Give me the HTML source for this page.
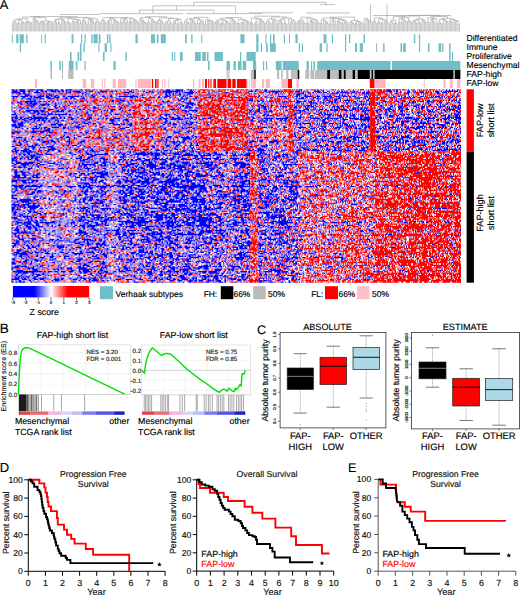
<!DOCTYPE html><html><head><meta charset="utf-8"><style>html,body{margin:0;padding:0;background:#fff;width:520px;height:595px;overflow:hidden}svg{display:block}text{font-family:"Liberation Sans",sans-serif;text-rendering:geometricPrecision;stroke:currentColor;stroke-width:0.15px}</style></head><body><svg width="520" height="595" viewBox="0 0 520 595"><defs><filter id="blur" x="0" y="0" width="1" height="1"><feGaussianBlur stdDeviation="0.4"/></filter><linearGradient id="zg" x1="0" x2="1" y1="0" y2="0"><stop offset="0" stop-color="#0000ff"/><stop offset="0.28" stop-color="#0000ff"/><stop offset="0.5" stop-color="#ffffff"/><stop offset="0.72" stop-color="#ff0000"/><stop offset="1" stop-color="#ff0000"/></linearGradient></defs><rect width="520" height="595" fill="#fff"/><text x="-0.3" y="9.4" font-size="12.8" text-anchor="start" fill="#000" color="#000" >A</text><text x="-0.2" y="333.4" font-size="13.5" text-anchor="start" fill="#000" color="#000" >B</text><text x="257" y="334.2" font-size="12.5" text-anchor="start" fill="#000" color="#000" >C</text><text x="-0.2" y="471.9" font-size="13" text-anchor="start" fill="#000" color="#000" >D</text><text x="348" y="471.9" font-size="12.5" text-anchor="start" fill="#000" color="#000" >E</text><g filter="url(#blur)"><g transform="translate(11.5,89.3) scale(0.99889,1.28933)" stroke-width="1"><path stroke="#0000ff" d="M0 0.5m0 0h3m1 0h2m1 0h7m4 0h6m1 0h7m3 0h7m1 0h4m2 0h3m2 0h7m8 0h2m10 0h1m1 0h1m6 0h1m13 0h1m15 0h1m3 0h2m5 0h1m1 0h1m12 0h1m8 0h4m5 0h8m4 0h2m1 0h2m1 0h1m11 0h1m12 0h2m10 0h1m20 0h1m3 0h3m1 0h1m2 0h1m1 0h3m13 0h1m11 0h1m1 0h1m4 0h3m9 0h1m2 0h1m2 0h1m5 0h1m8 0h2m19 0h1m4 0h1m1 0h4m22 0h5m2 0h2m1 0h2m4 0h2m4 0h1m2 0h1m2 0h1m14 0h2m15 0h1m2 0h1m2 0h1m4 0h1M0 1.5m1 0h5m2 0h6m2 0h3m1 0h1m3 0h3m2 0h3m1 0h3m1 0h1m1 0h6m1 0h3m1 0h3m1 0h2m2 0h2m1 0h8m1 0h1m3 0h2m1 0h5m6 0h8m3 0h3m2 0h2m3 0h1m3 0h1m1 0h1m1 0h4m1 0h1m6 0h1m5 0h1m1 0h3m3 0h1m1 0h1m2 0h1m2 0h18m1 0h2m1 0h1m4 0h4m15 0h1m25 0h1m5 0h1m7 0h5m1 0h2m5 0h1m2 0h3m1 0h2m1 0h9m1 0h2m12 0h5m1 0h1m2 0h1m9 0h6m2 0h2m3 0h1m6 0h1m2 0h1m1 0h1m1 0h2m1 0h1m1 0h1m3 0h1m2 0h2m2 0h1m6 0h1m4 0h1m13 0h1m3 0h5m4 0h2m2 0h1m6 0h3m3 0h1m1 0h1m10 0h1m6 0h1m1 0h4m2 0h1m3 0h8m1 0h4M0 2.5m0 0h9m2 0h3m8 0h7m3 0h1m9 0h1m1 0h1m12 0h3m5 0h5m1 0h1m1 0h2m1 0h1m7 0h1m1 0h2m13 0h1m10 0h6m2 0h3m9 0h1m1 0h2m2 0h1m1 0h3m4 0h1m3 0h2m1 0h7m1 0h1m1 0h3m1 0h1m2 0h1m1 0h10m1 0h2m11 0h1m3 0h1m1 0h1m9 0h3m1 0h1m7 0h1m10 0h2m17 0h1m1 0h1m3 0h2m1 0h3m17 0h1m3 0h1m2 0h2m3 0h2m3 0h2m3 0h3m1 0h1m1 0h4m2 0h1m2 0h1m3 0h3m1 0h8m3 0h4m3 0h1m3 0h3m1 0h4m26 0h1m3 0h1m6 0h3m10 0h4m12 0h3m3 0h5M0 3.5m1 0h1m5 0h3m1 0h4m1 0h2m7 0h1m2 0h1m6 0h4m1 0h1m7 0h4m1 0h3m1 0h1m4 0h2m3 0h1m2 0h3m1 0h2m1 0h1m3 0h1m1 0h1m1 0h1m1 0h2m4 0h1m4 0h1m3 0h1m4 0h2m1 0h1m5 0h2m22 0h1m5 0h2m3 0h1m1 0h3m1 0h2m2 0h2m1 0h1m2 0h3m6 0h6m7 0h1m6 0h3m1 0h1m23 0h1m17 0h3m6 0h1m2 0h1m9 0h2m1 0h1m1 0h1m1 0h1m1 0h1m6 0h1m1 0h2m1 0h8m1 0h1m2 0h3m5 0h1m3 0h1m2 0h1m3 0h2m1 0h8m1 0h1m2 0h1m2 0h1m1 0h2m2 0h1m3 0h2m4 0h2m1 0h1m1 0h3m8 0h1m13 0h1m3 0h4m6 0h4m5 0h1m6 0h1m3 0h3m9 0h4m6 0h1m9 0h1M0 4.5m6 0h2m5 0h6m1 0h1m5 0h1m1 0h2m1 0h2m1 0h2m1 0h4m1 0h1m1 0h3m20 0h1m5 0h2m2 0h1m1 0h3m3 0h1m11 0h1m1 0h2m4 0h1m13 0h1m1 0h2m6 0h3m9 0h1m12 0h3m1 0h2m1 0h2m3 0h1m1 0h2m2 0h2m1 0h2m1 0h1m28 0h2m28 0h1m2 0h1m6 0h2m3 0h1m4 0h1m1 0h2m6 0h1m17 0h4m4 0h2m4 0h1m6 0h1m11 0h2m8 0h1m1 0h2m1 0h1m9 0h1m9 0h1m1 0h1m1 0h1m11 0h1m4 0h2m21 0h1m4 0h1m29 0h1m9 0h1m3 0h2M0 5.5m0 0h7m2 0h8m1 0h3m1 0h2m2 0h7m1 0h4m1 0h2m1 0h3m1 0h2m3 0h3m2 0h12m1 0h2m4 0h1m2 0h1m1 0h4m6 0h4m4 0h3m4 0h1m1 0h20m1 0h1m2 0h1m15 0h2m2 0h1m1 0h6m5 0h1m3 0h1m2 0h2m1 0h1m3 0h3m8 0h1m2 0h1m5 0h2m7 0h1m12 0h1m2 0h1m23 0h2m2 0h1m3 0h1m6 0h1m4 0h8m1 0h1m7 0h3m1 0h1m4 0h8m4 0h4m2 0h10m3 0h5m2 0h5m2 0h2m1 0h4m2 0h1m5 0h4m1 0h1m23 0h2m3 0h2m1 0h1m2 0h2m3 0h1m10 0h3m8 0h1m1 0h1m1 0h5m2 0h1m1 0h1m7 0h1m3 0h1M0 6.5m1 0h2m8 0h3m3 0h1m1 0h2m1 0h8m1 0h1m2 0h5m4 0h5m6 0h2m3 0h4m8 0h2m13 0h1m6 0h2m1 0h1m18 0h1m2 0h4m8 0h3m13 0h3m9 0h2m10 0h2m4 0h1m7 0h2m53 0h1m1 0h1m13 0h1m3 0h3m16 0h1m3 0h1m2 0h1m2 0h1m1 0h3m2 0h1m6 0h3m1 0h1m6 0h3m11 0h2m19 0h1m5 0h1m1 0h1m1 0h1m11 0h1m19 0h1m5 0h1m2 0h1m2 0h2m31 0h1m4 0h2m2 0h1M0 7.5m1 0h2m1 0h1m4 0h3m2 0h6m1 0h2m2 0h1m2 0h5m3 0h7m2 0h2m2 0h1m1 0h6m1 0h3m1 0h3m3 0h6m1 0h1m6 0h2m5 0h2m13 0h6m10 0h1m2 0h2m11 0h2m5 0h1m5 0h1m8 0h1m2 0h2m3 0h2m1 0h8m3 0h6m1 0h1m15 0h2m34 0h3m17 0h1m12 0h6m7 0h1m1 0h6m6 0h4m2 0h5m2 0h5m1 0h4m1 0h7m6 0h1m8 0h4m4 0h2m2 0h2m11 0h3m2 0h1m7 0h1m3 0h1m1 0h2m8 0h3m27 0h1m1 0h1m5 0h3m5 0h1M0 8.5m16 0h1m1 0h2m2 0h3m1 0h1m1 0h1m16 0h1m1 0h1m14 0h1m10 0h1m3 0h1m3 0h1m18 0h3m5 0h6m34 0h1m2 0h1m12 0h1m2 0h3m3 0h1m1 0h1m7 0h1m2 0h1m50 0h5m5 0h1m1 0h3m3 0h1m29 0h2m6 0h1m1 0h1m1 0h1m5 0h1m3 0h1m5 0h1m2 0h2m5 0h3m3 0h1m3 0h6m16 0h3m56 0h1m1 0h3m19 0h1m2 0h1m2 0h2m3 0h1M0 9.5m0 0h1m1 0h1m3 0h1m2 0h2m2 0h11m1 0h1m1 0h3m2 0h2m2 0h3m2 0h2m6 0h1m3 0h3m1 0h2m5 0h1m3 0h5m2 0h2m7 0h1m3 0h2m1 0h1m5 0h2m1 0h3m1 0h1m3 0h1m6 0h1m1 0h1m1 0h2m3 0h1m3 0h2m2 0h3m10 0h1m4 0h3m2 0h4m8 0h1m2 0h3m5 0h2m8 0h1m1 0h1m8 0h2m20 0h1m6 0h1m9 0h1m1 0h1m5 0h3m2 0h2m1 0h1m2 0h2m12 0h1m1 0h3m5 0h1m1 0h1m1 0h5m2 0h3m3 0h3m1 0h1m6 0h1m2 0h1m5 0h4m1 0h2m4 0h1m2 0h1m4 0h1m2 0h1m1 0h3m3 0h3m2 0h1m1 0h1m2 0h1m13 0h4m3 0h1m3 0h1m1 0h3m3 0h4m3 0h1m2 0h4m4 0h3m4 0h3m7 0h1m1 0h3m12 0h1m3 0h1M0 10.5m0 0h2m3 0h5m4 0h3m1 0h3m1 0h4m1 0h1m6 0h2m4 0h2m1 0h2m1 0h2m1 0h2m1 0h1m5 0h4m1 0h3m10 0h1m1 0h2m13 0h1m1 0h1m4 0h1m6 0h4m5 0h2m2 0h3m15 0h3m11 0h3m1 0h1m2 0h3m3 0h1m7 0h10m3 0h3m3 0h1m22 0h3m8 0h1m15 0h1m3 0h1m4 0h1m1 0h1m6 0h1m1 0h1m1 0h2m2 0h1m2 0h3m1 0h3m6 0h5m1 0h1m1 0h1m2 0h1m2 0h8m2 0h5m2 0h4m1 0h2m1 0h4m6 0h1m1 0h3m1 0h1m2 0h1m1 0h2m4 0h1m1 0h1m2 0h1m2 0h1m5 0h3m1 0h1m1 0h2m2 0h1m1 0h1m10 0h2m1 0h2m5 0h6m1 0h1m7 0h1m1 0h1m1 0h2m2 0h3m5 0h3m5 0h3m5 0h1m1 0h4M0 11.5m0 0h1m1 0h1m5 0h4m3 0h11m2 0h11m4 0h2m4 0h1m1 0h1m1 0h1m2 0h1m1 0h2m1 0h1m21 0h1m6 0h2m1 0h1m7 0h1m4 0h2m3 0h2m1 0h1m2 0h3m2 0h1m9 0h1m15 0h4m4 0h1m9 0h4m5 0h10m51 0h1m5 0h1m3 0h4m3 0h2m2 0h1m2 0h1m4 0h1m2 0h2m13 0h1m2 0h1m3 0h3m6 0h2m1 0h1m1 0h2m6 0h1m1 0h1m5 0h1m14 0h2m4 0h1m2 0h3m1 0h7m1 0h3m7 0h3m10 0h1m3 0h1m6 0h2m4 0h2m4 0h1m2 0h5m7 0h1m1 0h1m5 0h2m2 0h1m1 0h1m2 0h3m11 0h1M0 12.5m9 0h1m11 0h3m6 0h4m2 0h2m5 0h3m2 0h1m2 0h1m4 0h2m6 0h1m9 0h1m1 0h1m8 0h2m7 0h1m2 0h1m1 0h1m8 0h1m8 0h1m25 0h3m3 0h1m6 0h3m5 0h1m5 0h3m4 0h1m2 0h2m29 0h1m38 0h3m6 0h3m10 0h1m3 0h1m6 0h1m4 0h1m6 0h6m14 0h2m13 0h2m7 0h1m2 0h1m4 0h2m1 0h1m1 0h1m5 0h1m5 0h2m3 0h2m13 0h1m6 0h1m1 0h4m3 0h1m10 0h1m6 0h2m6 0h1m2 0h1m3 0h1m9 0h2m2 0h3M0 13.5m0 0h1m4 0h1m13 0h3m1 0h1m2 0h1m1 0h1m9 0h1m3 0h3m2 0h2m2 0h3m12 0h2m2 0h1m11 0h2m3 0h1m2 0h1m1 0h1m3 0h2m3 0h3m3 0h2m1 0h1m3 0h1m1 0h1m14 0h1m4 0h2m13 0h2m8 0h1m2 0h2m3 0h1m1 0h2m1 0h6m13 0h1m17 0h2m5 0h1m18 0h1m3 0h1m5 0h2m1 0h5m2 0h1m11 0h1m1 0h5m7 0h3m2 0h1m4 0h2m1 0h2m1 0h4m2 0h1m6 0h1m5 0h1m2 0h3m1 0h3m2 0h3m3 0h1m1 0h1m3 0h1m3 0h2m21 0h2m8 0h3m1 0h1m3 0h4m7 0h1m3 0h4m1 0h1m2 0h4m10 0h1m3 0h3m1 0h2m2 0h1m1 0h1m1 0h2m1 0h2m2 0h1m1 0h1M0 14.5m0 0h1m7 0h5m2 0h3m2 0h1m1 0h1m1 0h2m1 0h3m1 0h4m2 0h1m5 0h4m5 0h2m1 0h1m1 0h1m4 0h2m4 0h1m4 0h2m1 0h1m1 0h1m2 0h5m3 0h1m2 0h1m15 0h3m1 0h1m20 0h1m3 0h1m1 0h2m10 0h1m6 0h1m3 0h1m5 0h2m3 0h4m1 0h3m3 0h4m28 0h1m2 0h1m2 0h1m24 0h2m1 0h1m1 0h3m2 0h1m14 0h1m9 0h4m2 0h2m4 0h3m5 0h3m3 0h1m2 0h1m9 0h1m1 0h1m2 0h3m3 0h1m3 0h1m2 0h1m1 0h5m1 0h1m1 0h3m1 0h4m14 0h3m3 0h3m7 0h6m2 0h2m8 0h1m1 0h2m1 0h3m2 0h2m8 0h1m3 0h1m6 0h3m3 0h1m1 0h6M0 15.5m10 0h1m5 0h1m1 0h1m4 0h1m3 0h1m4 0h2m2 0h6m3 0h1m7 0h2m4 0h1m3 0h1m3 0h3m1 0h3m9 0h1m2 0h2m8 0h1m2 0h5m3 0h3m7 0h1m5 0h1m4 0h1m13 0h3m3 0h1m5 0h1m3 0h6m2 0h2m2 0h1m7 0h1m33 0h2m26 0h2m4 0h3m3 0h4m1 0h1m1 0h1m8 0h1m6 0h1m4 0h2m5 0h1m6 0h4m10 0h4m2 0h2m3 0h2m2 0h4m1 0h8m2 0h1m2 0h4m1 0h2m1 0h2m2 0h1m1 0h1m11 0h3m4 0h7m7 0h1m2 0h1m2 0h4m3 0h1m8 0h2m14 0h3m3 0h2m1 0h1m2 0h6m3 0h2M0 16.5m0 0h1m2 0h1m3 0h2m5 0h13m1 0h5m12 0h3m1 0h4m4 0h3m2 0h1m1 0h2m3 0h1m8 0h2m1 0h2m7 0h1m1 0h2m1 0h2m2 0h3m8 0h2m5 0h3m1 0h3m17 0h3m7 0h1m8 0h1m1 0h1m1 0h1m1 0h1m3 0h6m1 0h10m2 0h1m18 0h1m10 0h1m18 0h3m1 0h1m3 0h3m1 0h1m4 0h1m2 0h3m8 0h1m4 0h3m8 0h5m1 0h3m2 0h2m7 0h1m1 0h2m7 0h2m1 0h3m1 0h4m3 0h1m2 0h4m1 0h4m9 0h2m1 0h5m5 0h3m4 0h1m3 0h1m1 0h2m2 0h2m6 0h3m24 0h4m1 0h1m2 0h2m7 0h2m1 0h1m1 0h2m5 0h2M0 17.5m1 0h3m4 0h1m1 0h4m1 0h4m3 0h6m1 0h8m3 0h13m4 0h2m5 0h2m1 0h1m7 0h2m4 0h3m1 0h1m3 0h2m8 0h3m11 0h2m20 0h3m13 0h1m1 0h2m3 0h1m8 0h1m3 0h1m1 0h5m4 0h1m1 0h2m52 0h2m3 0h6m3 0h10m3 0h1m12 0h3m2 0h1m4 0h2m1 0h1m1 0h2m10 0h1m3 0h2m2 0h1m2 0h1m1 0h1m4 0h1m3 0h1m15 0h1m1 0h3m2 0h5m2 0h1m7 0h2m1 0h2m4 0h2m2 0h3m1 0h3m4 0h3m3 0h2m4 0h1m2 0h1m1 0h4m3 0h1m3 0h7m6 0h1m3 0h2m9 0h5M0 18.5m3 0h2m7 0h1m5 0h6m2 0h3m1 0h1m5 0h2m1 0h2m13 0h2m5 0h1m1 0h1m3 0h1m5 0h4m12 0h1m8 0h2m4 0h1m3 0h1m4 0h1m13 0h1m8 0h1m5 0h1m9 0h1m13 0h1m8 0h1m2 0h1m4 0h1m28 0h2m23 0h2m1 0h1m2 0h2m3 0h3m2 0h1m1 0h1m4 0h1m6 0h2m14 0h7m5 0h5m2 0h3m2 0h4m1 0h3m1 0h1m7 0h1m4 0h1m9 0h1m1 0h1m2 0h1m8 0h2m1 0h1m1 0h1m7 0h1m7 0h3m9 0h1m4 0h1m9 0h2m2 0h4m13 0h1m4 0h1m1 0h3m8 0h1m2 0h2m2 0h2M0 19.5m0 0h5m1 0h1m1 0h1m3 0h1m1 0h1m6 0h1m3 0h3m1 0h6m1 0h6m1 0h13m1 0h3m1 0h1m3 0h2m1 0h1m1 0h1m5 0h2m1 0h2m5 0h1m3 0h1m8 0h2m2 0h5m3 0h1m4 0h4m31 0h1m1 0h6m3 0h3m1 0h1m1 0h1m6 0h2m1 0h3m4 0h1m4 0h1m12 0h1m16 0h1m5 0h1m2 0h1m11 0h3m8 0h3m1 0h2m19 0h1m2 0h1m2 0h2m5 0h1m2 0h1m4 0h1m6 0h2m1 0h1m1 0h2m1 0h8m5 0h1m2 0h1m2 0h2m1 0h1m3 0h1m1 0h3m6 0h1m3 0h3m10 0h4m2 0h2m4 0h1m9 0h5m1 0h4m8 0h1m2 0h2m2 0h2m8 0h1m15 0h1m2 0h1m1 0h3M0 20.5m4 0h2m2 0h1m2 0h1m4 0h1m4 0h3m5 0h1m3 0h1m1 0h2m10 0h2m2 0h1m2 0h1m8 0h1m14 0h1m11 0h1m2 0h4m7 0h1m7 0h1m2 0h2m19 0h1m11 0h2m3 0h3m2 0h1m6 0h2m2 0h1m1 0h3m2 0h1m2 0h1m2 0h1m57 0h1m10 0h3m1 0h3m1 0h2m4 0h2m9 0h1m12 0h1m9 0h3m11 0h1m3 0h3m1 0h2m1 0h1m1 0h5m4 0h2m2 0h5m5 0h4m1 0h1m2 0h1m11 0h1m5 0h1m2 0h4m3 0h3m5 0h1m19 0h1m5 0h1m3 0h2m1 0h1m3 0h5m2 0h2m5 0h3m1 0h1M0 21.5m0 0h6m2 0h4m4 0h5m1 0h10m1 0h3m4 0h6m2 0h3m1 0h2m2 0h5m4 0h3m7 0h5m2 0h1m11 0h1m6 0h2m6 0h1m1 0h2m4 0h5m6 0h1m15 0h2m3 0h3m3 0h1m1 0h6m3 0h3m4 0h1m4 0h3m1 0h4m12 0h4m8 0h1m2 0h3m12 0h1m6 0h4m1 0h3m2 0h4m6 0h1m2 0h1m15 0h5m4 0h2m2 0h6m4 0h3m4 0h1m1 0h1m2 0h4m1 0h1m1 0h3m9 0h3m4 0h2m1 0h2m2 0h2m5 0h3m1 0h6m5 0h3m1 0h3m1 0h1m3 0h7m3 0h1m1 0h1m3 0h1m1 0h9m7 0h1m2 0h2m2 0h2m3 0h1m1 0h2m8 0h1m1 0h5m1 0h8M0 22.5m0 0h2m1 0h4m1 0h3m1 0h6m1 0h18m2 0h5m1 0h2m1 0h2m2 0h2m3 0h1m1 0h4m1 0h1m4 0h3m5 0h4m5 0h2m1 0h1m1 0h2m1 0h3m5 0h7m1 0h1m4 0h1m1 0h1m3 0h1m7 0h4m2 0h3m1 0h1m1 0h1m2 0h1m2 0h3m1 0h6m3 0h10m1 0h1m1 0h5m1 0h3m2 0h2m5 0h4m1 0h4m13 0h2m4 0h1m2 0h1m1 0h1m7 0h1m5 0h1m2 0h3m3 0h1m2 0h1m1 0h10m2 0h13m2 0h2m2 0h3m1 0h3m9 0h10m1 0h1m2 0h5m1 0h9m1 0h1m1 0h2m5 0h10m1 0h2m2 0h6m5 0h2m2 0h3m1 0h1m12 0h6m3 0h7m2 0h1m1 0h3m4 0h1m1 0h10m7 0h8m1 0h1m1 0h1m2 0h5M0 23.5m0 0h2m1 0h1m3 0h2m1 0h4m3 0h4m1 0h3m1 0h3m1 0h3m1 0h2m1 0h1m1 0h1m6 0h1m4 0h1m5 0h1m1 0h3m3 0h1m3 0h1m5 0h4m19 0h5m9 0h5m7 0h1m7 0h4m7 0h1m1 0h1m7 0h3m1 0h1m1 0h6m1 0h6m1 0h1m3 0h1m1 0h1m19 0h1m4 0h1m3 0h2m3 0h1m5 0h2m16 0h1m2 0h2m13 0h2m2 0h2m8 0h3m1 0h3m9 0h1m3 0h1m9 0h1m3 0h1m2 0h1m2 0h1m1 0h4m1 0h1m8 0h1m5 0h6m6 0h4m1 0h11m8 0h1m9 0h3m5 0h2m15 0h4m1 0h1m2 0h1m2 0h3m1 0h1m7 0h3m1 0h2m2 0h3m1 0h1m5 0h3m3 0h1M0 24.5m0 0h6m4 0h1m1 0h5m1 0h1m3 0h2m1 0h4m1 0h5m1 0h3m4 0h5m1 0h4m1 0h1m8 0h1m1 0h1m1 0h1m1 0h1m3 0h3m7 0h2m13 0h6m2 0h3m2 0h2m1 0h4m36 0h3m9 0h1m8 0h2m1 0h1m9 0h1m1 0h1m21 0h1m19 0h1m2 0h1m2 0h5m4 0h7m1 0h2m1 0h3m7 0h3m1 0h3m1 0h1m4 0h1m2 0h5m4 0h4m1 0h1m3 0h1m2 0h2m3 0h4m4 0h3m3 0h1m2 0h1m1 0h1m2 0h2m4 0h1m3 0h1m7 0h1m1 0h3m1 0h2m11 0h1m3 0h1m10 0h3m1 0h1m1 0h3m1 0h6m4 0h3m1 0h1m1 0h2m4 0h6m1 0h1m2 0h2m6 0h1m3 0h3m4 0h4M0 25.5m1 0h4m1 0h1m2 0h3m2 0h1m1 0h2m2 0h3m1 0h1m7 0h2m1 0h1m1 0h2m2 0h1m1 0h1m2 0h2m6 0h1m5 0h1m1 0h5m3 0h4m2 0h4m5 0h3m2 0h1m9 0h2m3 0h1m6 0h1m3 0h2m20 0h1m12 0h5m2 0h2m2 0h1m3 0h3m5 0h2m2 0h5m1 0h3m10 0h1m20 0h1m4 0h1m2 0h4m10 0h1m5 0h3m1 0h1m1 0h4m5 0h1m8 0h1m3 0h2m7 0h1m1 0h1m5 0h1m8 0h1m10 0h7m11 0h1m1 0h2m4 0h1m2 0h1m1 0h2m1 0h1m4 0h1m6 0h1m6 0h1m5 0h2m1 0h6m2 0h4m1 0h1m1 0h1m1 0h3m1 0h4m2 0h2m2 0h2m1 0h1m1 0h2m1 0h3m1 0h2m16 0h4m9 0h3M0 26.5m2 0h1m3 0h6m1 0h1m4 0h1m4 0h1m9 0h1m6 0h1m3 0h3m2 0h1m5 0h1m1 0h2m1 0h2m6 0h1m3 0h5m1 0h1m2 0h4m4 0h1m4 0h1m2 0h6m2 0h1m3 0h2m1 0h2m4 0h3m5 0h1m3 0h2m8 0h1m12 0h2m2 0h3m1 0h3m6 0h2m2 0h4m1 0h3m3 0h1m6 0h2m10 0h2m31 0h1m3 0h1m7 0h3m3 0h1m1 0h1m2 0h1m3 0h2m5 0h1m10 0h2m1 0h2m1 0h2m1 0h9m6 0h1m1 0h1m3 0h4m2 0h5m1 0h2m3 0h1m1 0h4m8 0h1m5 0h1m1 0h1m6 0h1m7 0h1m1 0h1m2 0h2m3 0h2m4 0h2m6 0h3m8 0h3m4 0h8m1 0h3m4 0h2m8 0h5m2 0h1m2 0h6M0 27.5m0 0h5m1 0h6m13 0h1m1 0h3m1 0h1m7 0h6m1 0h6m1 0h2m4 0h1m7 0h2m7 0h2m1 0h1m4 0h1m3 0h2m8 0h1m2 0h8m1 0h4m2 0h5m11 0h1m18 0h3m5 0h1m1 0h5m6 0h2m1 0h1m1 0h4m3 0h1m10 0h3m24 0h1m14 0h1m13 0h1m3 0h1m9 0h1m19 0h1m2 0h2m3 0h1m5 0h1m3 0h1m1 0h2m1 0h1m1 0h1m7 0h1m2 0h1m4 0h1m2 0h1m1 0h1m1 0h4m1 0h1m2 0h1m1 0h1m3 0h1m2 0h5m2 0h1m7 0h2m7 0h1m2 0h2m11 0h2m9 0h2m2 0h1m6 0h1m8 0h3m2 0h8m6 0h2M0 28.5m0 0h6m1 0h6m1 0h1m5 0h1m1 0h4m1 0h1m1 0h1m10 0h1m3 0h1m2 0h3m2 0h1m1 0h1m3 0h2m2 0h6m2 0h4m9 0h3m5 0h3m24 0h3m1 0h1m8 0h1m3 0h1m1 0h1m5 0h2m3 0h3m5 0h3m3 0h1m4 0h1m1 0h1m1 0h1m6 0h1m5 0h1m1 0h1m28 0h2m6 0h1m20 0h1m1 0h4m7 0h2m1 0h1m6 0h2m3 0h2m15 0h1m1 0h1m6 0h4m5 0h1m1 0h7m1 0h1m1 0h3m4 0h1m2 0h3m3 0h8m4 0h1m1 0h3m2 0h5m9 0h3m1 0h5m4 0h2m2 0h3m2 0h2m1 0h3m1 0h1m8 0h8m4 0h2m2 0h2m6 0h5m9 0h1M0 29.5m1 0h1m1 0h6m10 0h1m1 0h1m2 0h2m1 0h2m1 0h1m1 0h4m4 0h8m1 0h1m1 0h4m1 0h2m4 0h1m1 0h6m1 0h1m6 0h1m9 0h4m7 0h1m7 0h2m2 0h1m2 0h4m3 0h1m2 0h1m4 0h2m18 0h1m1 0h1m2 0h1m5 0h2m1 0h2m1 0h1m3 0h2m1 0h1m2 0h5m1 0h1m15 0h1m22 0h1m2 0h2m7 0h1m3 0h1m6 0h1m1 0h2m2 0h6m1 0h1m1 0h3m2 0h1m7 0h4m10 0h9m11 0h1m4 0h1m1 0h2m7 0h1m1 0h6m5 0h1m1 0h1m1 0h2m1 0h1m1 0h2m5 0h1m1 0h3m1 0h2m5 0h1m6 0h2m1 0h1m2 0h8m2 0h1m1 0h1m4 0h1m1 0h2m1 0h5m1 0h7m1 0h1m1 0h1m2 0h4m4 0h4m1 0h2m1 0h2m3 0h3m4 0h1M0 30.5m3 0h1m2 0h1m3 0h2m3 0h2m3 0h8m1 0h2m1 0h2m2 0h3m2 0h1m1 0h1m4 0h1m2 0h3m2 0h2m2 0h1m3 0h1m1 0h2m12 0h1m10 0h1m1 0h1m2 0h1m11 0h6m38 0h3m13 0h1m1 0h3m1 0h2m5 0h3m1 0h1m20 0h1m1 0h2m21 0h2m6 0h2m19 0h1m4 0h1m3 0h1m13 0h1m4 0h2m9 0h5m1 0h1m2 0h2m1 0h2m10 0h3m1 0h2m2 0h1m2 0h3m6 0h3m1 0h3m3 0h2m3 0h1m5 0h1m3 0h3m1 0h2m3 0h2m2 0h1m2 0h1m1 0h1m3 0h1m4 0h3m4 0h7m2 0h2m7 0h1m3 0h1m5 0h2m7 0h1m3 0h1m1 0h1m3 0h1M0 31.5m2 0h1m4 0h1m13 0h2m10 0h6m2 0h1m4 0h1m5 0h1m14 0h1m3 0h1m4 0h1m4 0h3m6 0h2m4 0h1m17 0h1m5 0h2m31 0h3m2 0h1m2 0h1m1 0h1m1 0h1m2 0h1m11 0h1m67 0h1m1 0h1m14 0h1m21 0h1m13 0h1m1 0h1m1 0h1m2 0h1m2 0h4m5 0h1m1 0h1m4 0h1m8 0h2m1 0h1m5 0h1m2 0h1m2 0h1m2 0h1m14 0h1m20 0h3m11 0h2m7 0h1m5 0h2m15 0h3M0 32.5m0 0h1m1 0h5m1 0h2m3 0h4m3 0h19m1 0h2m3 0h1m5 0h1m21 0h2m1 0h2m3 0h2m2 0h2m13 0h1m12 0h1m26 0h1m6 0h1m7 0h2m5 0h2m3 0h4m4 0h6m8 0h1m12 0h1m39 0h1m1 0h3m1 0h1m1 0h3m1 0h1m1 0h2m1 0h1m1 0h1m9 0h1m3 0h1m7 0h1m3 0h3m1 0h1m2 0h6m2 0h4m1 0h1m4 0h2m5 0h2m2 0h1m6 0h1m5 0h1m2 0h1m3 0h1m1 0h1m5 0h6m1 0h1m5 0h5m10 0h1m5 0h2m1 0h1m2 0h1m2 0h3m11 0h1m1 0h3m2 0h1m1 0h1m2 0h7m2 0h3m7 0h2m3 0h1m4 0h1M0 33.5m0 0h3m2 0h4m5 0h1m2 0h1m1 0h6m1 0h1m1 0h5m4 0h4m6 0h1m4 0h4m1 0h1m1 0h1m1 0h1m1 0h1m4 0h3m3 0h3m6 0h2m5 0h1m3 0h1m7 0h4m1 0h1m9 0h2m1 0h2m1 0h1m5 0h1m15 0h1m9 0h1m6 0h6m5 0h2m1 0h2m2 0h1m1 0h1m52 0h2m9 0h6m3 0h2m2 0h1m16 0h1m6 0h1m2 0h1m4 0h1m1 0h1m1 0h5m2 0h1m5 0h1m1 0h1m2 0h2m1 0h1m1 0h4m5 0h3m8 0h1m4 0h1m1 0h1m10 0h1m8 0h3m3 0h1m5 0h4m5 0h1m1 0h3m1 0h1m1 0h2m2 0h2m7 0h2m1 0h1m1 0h1m4 0h6m1 0h1m3 0h2m5 0h1m6 0h1m1 0h2m3 0h1M0 34.5m0 0h4m3 0h1m4 0h1m20 0h1m6 0h1m12 0h1m1 0h1m9 0h1m8 0h2m8 0h1m6 0h1m4 0h1m6 0h1m2 0h1m2 0h1m4 0h1m26 0h1m1 0h1m7 0h3m1 0h1m3 0h1m4 0h1m2 0h3m14 0h1m9 0h1m20 0h1m3 0h2m22 0h1m28 0h1m9 0h2m11 0h1m1 0h1m2 0h1m4 0h2m18 0h1m15 0h5m1 0h4m5 0h1m15 0h1m1 0h1m1 0h1m25 0h1m2 0h2m3 0h1m3 0h1m1 0h1m9 0h1m3 0h1m9 0h1M0 35.5m5 0h1m3 0h1m5 0h1m8 0h1m2 0h2m3 0h1m1 0h6m1 0h3m1 0h1m6 0h2m5 0h1m2 0h2m7 0h3m3 0h1m12 0h1m13 0h1m2 0h3m2 0h2m1 0h1m24 0h1m1 0h1m13 0h1m5 0h1m18 0h2m54 0h1m4 0h1m7 0h1m2 0h1m2 0h1m26 0h2m1 0h1m1 0h1m13 0h3m8 0h1m1 0h2m2 0h2m1 0h1m2 0h1m7 0h1m5 0h1m3 0h2m4 0h2m3 0h1m1 0h3m5 0h1m3 0h1m7 0h4m7 0h2m1 0h1m3 0h1m1 0h3m19 0h1m4 0h6m1 0h1m1 0h1m11 0h1m1 0h2M0 36.5m0 0h2m5 0h1m12 0h3m6 0h1m4 0h1m2 0h2m1 0h1m8 0h1m1 0h2m2 0h3m1 0h1m2 0h1m3 0h4m20 0h1m2 0h1m1 0h1m1 0h1m2 0h3m1 0h2m8 0h2m4 0h1m5 0h1m11 0h4m2 0h1m8 0h1m2 0h5m6 0h2m2 0h1m1 0h1m1 0h3m2 0h2m1 0h3m1 0h1m27 0h1m4 0h1m17 0h1m24 0h2m18 0h2m5 0h3m7 0h1m6 0h3m1 0h5m7 0h3m3 0h2m7 0h6m1 0h2m4 0h1m2 0h1m1 0h1m9 0h7m1 0h1m8 0h3m4 0h3m1 0h4m2 0h1m6 0h1m4 0h2m2 0h2m3 0h2m18 0h1m4 0h2M0 37.5m0 0h1m3 0h7m9 0h2m1 0h1m6 0h4m1 0h1m4 0h1m3 0h1m3 0h4m2 0h5m3 0h2m9 0h6m1 0h3m3 0h4m12 0h4m4 0h1m9 0h1m10 0h1m8 0h2m7 0h1m2 0h2m1 0h5m4 0h3m2 0h10m2 0h2m1 0h2m10 0h1m4 0h1m1 0h1m9 0h1m11 0h2m18 0h3m1 0h2m2 0h4m12 0h1m2 0h2m11 0h1m1 0h4m8 0h1m1 0h2m1 0h1m8 0h1m5 0h7m2 0h3m1 0h3m1 0h5m1 0h9m14 0h4m2 0h2m3 0h1m5 0h2m1 0h1m1 0h1m2 0h9m7 0h3m1 0h1m1 0h2m2 0h2m2 0h4m15 0h1m9 0h1M0 38.5m5 0h1m1 0h1m2 0h1m1 0h3m2 0h1m1 0h2m5 0h3m1 0h1m4 0h2m3 0h1m1 0h1m1 0h4m4 0h2m3 0h2m3 0h2m8 0h1m10 0h4m2 0h2m8 0h1m11 0h2m7 0h1m3 0h1m15 0h2m9 0h1m2 0h2m3 0h1m1 0h2m3 0h1m4 0h10m24 0h1m18 0h1m2 0h1m2 0h1m7 0h1m4 0h2m1 0h1m9 0h1m5 0h1m9 0h1m15 0h2m6 0h1m2 0h2m3 0h2m3 0h3m5 0h3m3 0h1m1 0h2m1 0h2m3 0h4m4 0h4m2 0h1m19 0h2m3 0h2m5 0h1m2 0h2m2 0h1m1 0h4m6 0h2m2 0h2m10 0h1m3 0h1m5 0h2m3 0h3m4 0h4m1 0h2m2 0h2M0 39.5m2 0h2m3 0h1m4 0h3m6 0h2m1 0h5m1 0h2m5 0h5m4 0h1m10 0h2m11 0h1m1 0h2m4 0h1m2 0h1m8 0h2m3 0h3m10 0h3m4 0h3m18 0h2m4 0h1m3 0h7m1 0h3m5 0h1m3 0h1m4 0h4m4 0h1m19 0h1m35 0h3m3 0h2m3 0h1m1 0h4m3 0h1m1 0h1m4 0h4m6 0h1m2 0h2m1 0h1m2 0h8m1 0h1m5 0h1m1 0h2m2 0h5m1 0h1m1 0h6m1 0h1m12 0h1m4 0h5m2 0h4m1 0h1m3 0h2m3 0h1m1 0h1m10 0h2m3 0h1m2 0h1m1 0h2m5 0h4m1 0h2m1 0h3m3 0h4m1 0h1m1 0h7m9 0h1m1 0h2m7 0h1m3 0h1m1 0h8M0 40.5m1 0h4m2 0h2m2 0h2m1 0h3m11 0h1m2 0h7m1 0h5m2 0h2m7 0h4m10 0h5m8 0h1m6 0h1m3 0h1m6 0h1m2 0h1m13 0h1m2 0h1m5 0h1m17 0h1m9 0h2m5 0h3m1 0h4m2 0h3m3 0h1m4 0h1m1 0h2m4 0h4m1 0h1m9 0h2m17 0h1m13 0h7m1 0h1m1 0h4m6 0h9m24 0h1m5 0h1m2 0h4m3 0h1m1 0h1m1 0h2m1 0h1m2 0h6m3 0h5m2 0h2m1 0h4m7 0h1m2 0h5m3 0h1m5 0h1m1 0h1m1 0h1m2 0h1m1 0h2m3 0h2m1 0h6m1 0h1m3 0h1m1 0h4m1 0h1m3 0h2m1 0h3m2 0h1m1 0h1m1 0h2m4 0h2m1 0h1m1 0h4m1 0h3m2 0h2m1 0h3m2 0h1m1 0h4M0 41.5m2 0h1m1 0h1m1 0h4m3 0h1m1 0h1m9 0h1m4 0h4m2 0h2m4 0h3m2 0h1m2 0h1m4 0h1m1 0h2m7 0h5m2 0h1m12 0h1m3 0h2m5 0h4m1 0h1m1 0h1m2 0h1m4 0h2m12 0h1m4 0h1m10 0h2m4 0h1m2 0h1m2 0h2m2 0h1m1 0h6m2 0h5m1 0h1m3 0h3m2 0h1m1 0h2m9 0h1m2 0h1m17 0h1m1 0h1m4 0h1m12 0h4m17 0h5m2 0h3m4 0h2m2 0h1m9 0h5m1 0h2m1 0h5m4 0h6m7 0h1m2 0h3m2 0h5m1 0h2m2 0h1m5 0h3m1 0h6m1 0h2m1 0h3m6 0h1m1 0h4m1 0h1m3 0h3m2 0h3m1 0h9m1 0h2m5 0h13m2 0h2m2 0h4m1 0h1m5 0h3m1 0h2m1 0h3m3 0h4M0 42.5m8 0h3m4 0h2m4 0h1m1 0h4m7 0h3m1 0h1m1 0h1m2 0h1m1 0h1m3 0h1m7 0h2m7 0h2m1 0h1m1 0h1m8 0h1m7 0h1m10 0h1m13 0h4m3 0h1m22 0h2m5 0h1m2 0h2m1 0h1m2 0h1m2 0h2m2 0h3m10 0h2m1 0h1m2 0h2m37 0h3m16 0h1m4 0h1m5 0h2m2 0h1m5 0h3m2 0h1m13 0h1m5 0h1m2 0h2m1 0h1m9 0h1m2 0h1m5 0h3m8 0h3m1 0h2m13 0h1m5 0h2m1 0h2m1 0h2m14 0h2m2 0h2m6 0h1m1 0h1m2 0h1m2 0h1m1 0h1m1 0h4m1 0h1m1 0h1m9 0h3m8 0h1m1 0h4m1 0h3m1 0h1m5 0h1m3 0h1M0 43.5m4 0h6m5 0h1m2 0h1m1 0h2m1 0h3m1 0h2m1 0h1m1 0h1m1 0h1m3 0h1m1 0h1m10 0h2m2 0h3m2 0h6m2 0h2m6 0h1m4 0h1m9 0h1m3 0h2m10 0h3m8 0h1m16 0h1m11 0h1m6 0h5m3 0h1m1 0h4m1 0h1m8 0h4m2 0h4m1 0h1m12 0h2m4 0h1m2 0h1m25 0h1m7 0h3m6 0h3m3 0h1m11 0h4m8 0h1m3 0h2m3 0h1m11 0h1m2 0h3m1 0h1m1 0h4m4 0h1m1 0h1m2 0h1m6 0h3m2 0h4m8 0h1m3 0h1m2 0h1m12 0h2m5 0h1m1 0h2m1 0h2m6 0h1m5 0h1m3 0h3m2 0h9m7 0h1m5 0h1m6 0h2m6 0h2m2 0h3M0 44.5m0 0h4m7 0h1m4 0h8m4 0h1m3 0h1m2 0h7m4 0h1m5 0h1m6 0h1m1 0h1m4 0h2m4 0h2m5 0h1m2 0h2m6 0h1m11 0h1m4 0h1m4 0h1m2 0h1m2 0h5m17 0h4m3 0h1m7 0h3m6 0h3m1 0h1m9 0h2m2 0h1m11 0h1m34 0h1m2 0h2m4 0h4m8 0h6m5 0h1m3 0h1m1 0h1m6 0h1m8 0h1m2 0h1m4 0h1m3 0h2m7 0h2m3 0h3m1 0h2m5 0h4m5 0h2m1 0h1m3 0h1m5 0h2m2 0h3m3 0h1m2 0h2m7 0h1m3 0h2m4 0h2m1 0h2m6 0h1m5 0h1m6 0h2m2 0h1m2 0h3m4 0h1m1 0h1m6 0h4m3 0h1m1 0h1m5 0h1m4 0h1m4 0h1m2 0h1M0 45.5m3 0h3m3 0h2m2 0h2m2 0h1m2 0h4m2 0h1m1 0h7m4 0h5m2 0h1m10 0h3m1 0h1m1 0h1m8 0h1m1 0h6m1 0h1m4 0h1m4 0h1m1 0h2m6 0h3m5 0h1m1 0h2m1 0h3m12 0h2m10 0h3m5 0h1m1 0h2m1 0h2m6 0h3m6 0h3m2 0h2m1 0h4m20 0h1m40 0h2m1 0h3m3 0h1m1 0h1m5 0h1m23 0h2m1 0h7m2 0h1m8 0h1m2 0h1m5 0h2m5 0h8m5 0h5m5 0h1m4 0h7m14 0h4m1 0h2m2 0h3m2 0h6m1 0h2m2 0h3m2 0h4m3 0h3m4 0h2m1 0h2m1 0h1m9 0h1m1 0h1m1 0h2m7 0h1m1 0h1m1 0h2M0 46.5m1 0h4m2 0h1m4 0h6m3 0h2m4 0h2m7 0h9m1 0h1m7 0h2m1 0h1m4 0h5m1 0h1m1 0h3m6 0h3m5 0h2m1 0h1m2 0h1m7 0h1m15 0h2m1 0h2m1 0h2m9 0h4m1 0h2m10 0h2m4 0h1m3 0h1m1 0h4m6 0h1m6 0h2m1 0h1m1 0h4m23 0h1m1 0h1m16 0h1m5 0h2m2 0h2m3 0h7m4 0h1m1 0h2m12 0h1m18 0h6m1 0h1m1 0h5m5 0h1m3 0h4m4 0h2m2 0h1m3 0h1m1 0h2m2 0h1m2 0h1m2 0h4m3 0h4m2 0h1m1 0h1m5 0h1m6 0h1m2 0h2m1 0h1m5 0h3m1 0h2m2 0h2m1 0h4m3 0h1m5 0h5m2 0h2m10 0h5m2 0h4m2 0h7m1 0h2M0 47.5m0 0h2m1 0h5m1 0h7m1 0h3m8 0h3m2 0h2m1 0h3m1 0h3m3 0h3m5 0h1m2 0h1m9 0h3m2 0h1m2 0h2m1 0h5m6 0h4m6 0h4m3 0h1m4 0h1m7 0h1m7 0h1m16 0h5m1 0h1m1 0h5m1 0h3m10 0h4m1 0h1m1 0h1m2 0h2m1 0h1m27 0h2m22 0h5m2 0h2m1 0h9m2 0h2m1 0h2m8 0h4m1 0h1m2 0h1m6 0h6m5 0h3m1 0h9m1 0h1m4 0h1m1 0h2m2 0h5m2 0h3m3 0h6m4 0h1m2 0h7m10 0h2m6 0h2m1 0h4m2 0h1m2 0h2m1 0h2m1 0h1m12 0h1m1 0h1m4 0h1m1 0h1m1 0h1m7 0h3m1 0h3m1 0h5m3 0h1m5 0h2m3 0h1M0 48.5m0 0h6m3 0h1m1 0h14m10 0h3m9 0h3m8 0h2m3 0h1m2 0h3m2 0h1m1 0h3m2 0h1m1 0h9m19 0h2m5 0h5m1 0h4m4 0h5m1 0h2m2 0h2m2 0h1m1 0h1m3 0h2m1 0h1m1 0h1m4 0h1m4 0h1m1 0h8m4 0h5m1 0h6m1 0h3m8 0h4m8 0h3m4 0h2m2 0h1m1 0h1m2 0h1m1 0h2m3 0h1m8 0h2m1 0h2m1 0h1m11 0h3m3 0h1m9 0h7m7 0h1m11 0h1m9 0h1m4 0h1m5 0h1m1 0h1m89 0h1M0 49.5m4 0h2m1 0h1m1 0h2m1 0h1m2 0h4m1 0h1m3 0h3m6 0h3m7 0h1m1 0h1m7 0h1m1 0h1m1 0h5m6 0h2m4 0h4m1 0h1m3 0h1m2 0h1m6 0h4m4 0h2m2 0h6m1 0h3m3 0h2m2 0h1m1 0h11m1 0h13m1 0h4m1 0h13m1 0h1m1 0h1m2 0h5m1 0h1m1 0h1m4 0h2m1 0h1m1 0h1m1 0h5m1 0h6m4 0h1m3 0h3m3 0h2m1 0h2m1 0h1m5 0h1m2 0h4m9 0h6m1 0h1m2 0h1m5 0h4m4 0h1m9 0h1m1 0h3m18 0h2m10 0h1m11 0h1m32 0h1m26 0h1m2 0h1m2 0h1m8 0h1m3 0h1M0 50.5m4 0h1m2 0h3m1 0h4m1 0h3m1 0h1m1 0h2m1 0h7m2 0h7m2 0h1m3 0h1m11 0h1m2 0h3m10 0h6m2 0h14m3 0h1m3 0h1m2 0h1m2 0h4m1 0h3m4 0h16m1 0h3m1 0h6m2 0h4m3 0h1m3 0h8m2 0h10m1 0h1m1 0h1m1 0h3m2 0h2m2 0h4m3 0h9m3 0h1m5 0h4m2 0h1m1 0h3m1 0h6m7 0h4m1 0h1m1 0h3m1 0h2m5 0h1m6 0h6m1 0h1m4 0h1m1 0h2m3 0h1m1 0h1m21 0h1m1 0h2m6 0h2m2 0h2m5 0h1m11 0h1m3 0h1m40 0h1m5 0h1m2 0h2m27 0h1m1 0h1m1 0h2m1 0h1M0 51.5m5 0h1m1 0h2m1 0h1m1 0h2m4 0h7m3 0h1m17 0h1m20 0h2m1 0h3m1 0h1m4 0h6m22 0h1m1 0h1m1 0h2m13 0h2m3 0h4m8 0h6m5 0h2m1 0h1m4 0h1m1 0h1m5 0h17m2 0h11m1 0h3m12 0h1m4 0h5m2 0h1m3 0h7m6 0h3m13 0h1m1 0h1m2 0h3m2 0h2m1 0h3m2 0h1m11 0h1m4 0h1m15 0h1m4 0h1M0 52.5m0 0h1m1 0h4m4 0h2m2 0h4m1 0h4m1 0h5m1 0h1m21 0h1m15 0h3m5 0h6m1 0h1m6 0h2m16 0h7m2 0h1m2 0h1m1 0h2m1 0h2m8 0h3m3 0h1m1 0h3m1 0h1m8 0h1m4 0h4m1 0h4m1 0h1m11 0h4m2 0h3m7 0h1m5 0h5m12 0h1m6 0h1m6 0h1m1 0h1m8 0h1m1 0h3m5 0h2m2 0h9m1 0h3m1 0h3m1 0h2m1 0h4m26 0h1m6 0h1m1 0h1m3 0h1m10 0h2m1 0h1m6 0h2m2 0h1m47 0h1m20 0h1m14 0h1M0 53.5m0 0h5m3 0h3m1 0h2m2 0h2m1 0h3m1 0h4m1 0h1m20 0h3m2 0h1m4 0h2m3 0h7m4 0h4m4 0h1m1 0h1m2 0h6m2 0h1m1 0h1m10 0h1m1 0h2m9 0h1m3 0h4m1 0h3m7 0h8m1 0h2m2 0h3m1 0h5m3 0h2m2 0h6m5 0h4m1 0h3m1 0h10m1 0h7m1 0h1m1 0h1m1 0h1m4 0h10m2 0h2m2 0h3m1 0h1m8 0h1m2 0h2m1 0h2m1 0h1m6 0h3m4 0h1m11 0h2m3 0h1m11 0h1m11 0h2m20 0h1m2 0h1m24 0h3m32 0h1m34 0h1m4 0h1M0 54.5m0 0h3m1 0h2m2 0h2m3 0h1m2 0h4m3 0h4m3 0h2m1 0h1m24 0h1m3 0h1m5 0h2m1 0h6m1 0h1m1 0h2m2 0h1m4 0h1m1 0h6m10 0h4m1 0h3m1 0h2m1 0h3m2 0h6m3 0h6m1 0h2m1 0h4m1 0h7m3 0h4m1 0h1m3 0h1m1 0h12m3 0h4m2 0h2m2 0h3m1 0h2m3 0h4m1 0h5m3 0h1m4 0h5m3 0h3m1 0h1m1 0h1m1 0h1m14 0h2m7 0h2m1 0h2m3 0h2m1 0h1m5 0h4m1 0h1m29 0h1m5 0h1m4 0h2m15 0h1m14 0h2m44 0h1m31 0h1M0 55.5m0 0h6m14 0h1m2 0h1m1 0h4m1 0h1m3 0h1m3 0h2m9 0h1m18 0h6m3 0h1m1 0h1m1 0h2m5 0h2m2 0h2m1 0h1m3 0h1m7 0h2m2 0h2m6 0h7m3 0h10m1 0h1m1 0h2m7 0h1m1 0h3m3 0h2m3 0h5m6 0h1m7 0h1m1 0h1m2 0h2m1 0h2m4 0h1m2 0h1m6 0h2m8 0h1m1 0h2m2 0h2m9 0h5m8 0h7m1 0h1m1 0h2m2 0h4m1 0h1m1 0h2m4 0h5m6 0h2m77 0h1m11 0h1m2 0h1m49 0h1m1 0h1M0 56.5m0 0h1m3 0h6m3 0h3m1 0h7m4 0h3m1 0h6m4 0h2m2 0h4m5 0h3m3 0h1m7 0h1m1 0h1m1 0h6m1 0h1m2 0h5m1 0h1m1 0h8m2 0h3m3 0h2m1 0h2m2 0h3m1 0h2m6 0h1m1 0h1m1 0h3m4 0h4m2 0h3m4 0h7m5 0h1m1 0h4m1 0h10m2 0h1m1 0h1m1 0h2m2 0h2m1 0h14m2 0h1m4 0h6m3 0h11m5 0h1m1 0h1m7 0h5m2 0h2m1 0h1m1 0h1m5 0h3m1 0h3m1 0h2m1 0h1m1 0h4m2 0h2m11 0h1m1 0h1m4 0h1m8 0h1m4 0h1m3 0h1m1 0h1m5 0h1m6 0h1m20 0h1m1 0h1m3 0h1m29 0h1m47 0h1M0 57.5m0 0h3m1 0h18m3 0h4m8 0h7m2 0h1m6 0h1m13 0h2m1 0h3m3 0h1m3 0h1m1 0h5m3 0h5m5 0h2m5 0h1m1 0h1m2 0h1m1 0h3m2 0h7m4 0h5m2 0h5m2 0h1m3 0h6m4 0h6m2 0h1m4 0h6m4 0h2m1 0h14m1 0h3m5 0h7m10 0h11m6 0h1m6 0h2m2 0h1m3 0h2m4 0h1m8 0h2m1 0h1m6 0h1m1 0h2m6 0h2m29 0h1m2 0h1m13 0h1M0 58.5m2 0h3m4 0h9m3 0h2m1 0h2m2 0h6m1 0h1m6 0h1m1 0h3m1 0h1m2 0h2m1 0h1m2 0h1m9 0h2m1 0h14m4 0h3m1 0h3m1 0h1m2 0h1m1 0h3m3 0h4m4 0h8m3 0h2m3 0h2m1 0h11m3 0h6m1 0h2m1 0h7m1 0h1m1 0h2m1 0h1m1 0h3m1 0h3m1 0h1m7 0h1m3 0h9m1 0h3m5 0h1m1 0h3m5 0h7m1 0h10m8 0h1m3 0h1m1 0h1m4 0h3m1 0h2m3 0h1m3 0h10m1 0h5m8 0h1m3 0h2m1 0h1m7 0h3m4 0h1m1 0h2m13 0h1m2 0h2m2 0h2m15 0h1m2 0h1m10 0h1m10 0h2m9 0h1m13 0h1m1 0h1m12 0h2m4 0h1m3 0h1M0 59.5m0 0h3m1 0h1m2 0h2m2 0h4m1 0h1m1 0h1m1 0h2m1 0h1m1 0h3m7 0h1m1 0h3m7 0h2m1 0h1m4 0h1m1 0h1m9 0h4m1 0h4m3 0h1m2 0h3m1 0h2m1 0h6m1 0h1m2 0h1m1 0h1m3 0h1m6 0h7m2 0h1m1 0h4m5 0h2m1 0h12m3 0h2m1 0h1m1 0h5m2 0h12m1 0h1m1 0h3m1 0h3m1 0h2m1 0h1m1 0h4m1 0h6m1 0h5m5 0h4m6 0h4m2 0h7m3 0h1m9 0h1m1 0h3m2 0h1m1 0h2m5 0h2m1 0h1m4 0h2m1 0h2m2 0h2m10 0h1m7 0h1m8 0h2m18 0h1m7 0h1m8 0h1m9 0h1m36 0h1m2 0h1m14 0h1M0 60.5m2 0h3m1 0h5m1 0h2m12 0h2m4 0h3m1 0h1m9 0h1m9 0h2m2 0h1m7 0h1m3 0h2m1 0h2m18 0h1m8 0h2m4 0h3m1 0h2m4 0h3m1 0h2m1 0h5m3 0h2m1 0h7m3 0h6m1 0h1m2 0h2m1 0h3m2 0h9m5 0h5m1 0h1m3 0h1m3 0h4m1 0h1m8 0h2m18 0h6m1 0h4m12 0h1m5 0h1m1 0h1m1 0h2m10 0h3m49 0h1m18 0h1m2 0h1m4 0h1m3 0h1m16 0h1m35 0h1m21 0h1M0 61.5m16 0h5m2 0h1m4 0h1m1 0h1m7 0h1m1 0h2m4 0h7m1 0h3m5 0h1m3 0h2m1 0h1m1 0h1m1 0h7m3 0h1m1 0h1m5 0h4m3 0h1m2 0h3m2 0h1m3 0h2m1 0h1m3 0h1m2 0h1m3 0h1m1 0h2m1 0h5m4 0h4m1 0h12m1 0h4m2 0h9m2 0h2m5 0h3m6 0h3m5 0h7m3 0h2m1 0h1m10 0h1m5 0h2m6 0h2m13 0h6m5 0h1m6 0h2m1 0h1m1 0h3m1 0h1m10 0h2m5 0h1m3 0h1m29 0h1m1 0h2m9 0h2m3 0h1m15 0h1m37 0h1m22 0h1M0 62.5m0 0h6m5 0h2m1 0h1m1 0h3m2 0h1m1 0h1m1 0h2m19 0h1m8 0h1m10 0h1m1 0h3m1 0h1m3 0h2m3 0h6m1 0h2m3 0h1m1 0h1m11 0h1m2 0h5m1 0h2m1 0h10m3 0h4m2 0h1m1 0h2m1 0h2m2 0h1m2 0h1m4 0h2m3 0h4m2 0h1m1 0h10m1 0h1m1 0h1m3 0h2m4 0h1m3 0h3m1 0h4m2 0h2m2 0h1m2 0h1m10 0h1m5 0h1m1 0h2m3 0h3m8 0h7m1 0h2m2 0h4m1 0h3m2 0h6m3 0h1m1 0h1m5 0h1m12 0h2m4 0h1m2 0h1m1 0h1m6 0h2m1 0h1m17 0h1m22 0h1m8 0h1m57 0h1M0 63.5m0 0h1m2 0h3m1 0h5m1 0h1m9 0h1m2 0h1m8 0h1m37 0h2m1 0h2m1 0h2m2 0h1m2 0h1m3 0h4m7 0h1m5 0h1m1 0h1m1 0h3m1 0h3m1 0h6m2 0h1m1 0h1m1 0h3m3 0h3m7 0h1m5 0h2m4 0h2m1 0h1m1 0h2m1 0h5m4 0h5m3 0h5m2 0h4m3 0h3m2 0h1m1 0h2m1 0h1m2 0h1m3 0h2m11 0h1m3 0h1m1 0h1m1 0h1m15 0h5m7 0h1m16 0h1m3 0h1m2 0h2m12 0h2m13 0h1m15 0h2m28 0h2m7 0h1M0 64.5m2 0h5m2 0h6m1 0h2m8 0h1m1 0h1m4 0h1m20 0h2m6 0h1m4 0h2m6 0h1m4 0h12m1 0h4m1 0h1m5 0h2m4 0h2m4 0h2m2 0h3m1 0h12m2 0h5m1 0h5m7 0h1m1 0h2m1 0h1m2 0h1m1 0h2m2 0h2m3 0h9m3 0h1m3 0h1m5 0h1m3 0h1m3 0h5m2 0h1m7 0h5m1 0h1m2 0h3m4 0h3m8 0h1m4 0h2m3 0h1m3 0h3m2 0h5m2 0h2m1 0h7m1 0h1m28 0h2m8 0h1m12 0h2m22 0h1m13 0h1m3 0h1m27 0h2m11 0h1M0 65.5m3 0h3m1 0h1m2 0h4m3 0h2m3 0h1m2 0h4m1 0h1m5 0h1m15 0h1m1 0h1m3 0h3m1 0h4m3 0h5m2 0h2m1 0h4m2 0h12m6 0h1m6 0h1m2 0h4m1 0h4m3 0h1m1 0h5m1 0h1m1 0h2m4 0h8m1 0h3m1 0h2m2 0h2m1 0h1m5 0h1m1 0h1m3 0h4m1 0h1m2 0h2m1 0h5m1 0h1m3 0h3m3 0h1m2 0h1m3 0h2m1 0h2m15 0h3m1 0h1m1 0h6m1 0h2m5 0h4m3 0h4m1 0h1m8 0h1m2 0h1m1 0h3m9 0h2m16 0h1m13 0h1m20 0h1m11 0h1m1 0h2m25 0h1m25 0h1m4 0h1m13 0h1m6 0h1m7 0h1M0 66.5m3 0h6m1 0h7m2 0h1m1 0h6m1 0h1m2 0h1m2 0h1m11 0h2m8 0h4m3 0h1m3 0h4m1 0h6m5 0h2m4 0h8m3 0h1m4 0h1m10 0h4m1 0h1m1 0h2m1 0h2m3 0h5m2 0h7m1 0h8m2 0h7m3 0h6m1 0h4m1 0h4m2 0h17m3 0h9m1 0h2m9 0h2m1 0h2m3 0h4m11 0h2m2 0h2m1 0h1m8 0h2m1 0h6m8 0h1m1 0h4m9 0h1m5 0h2m5 0h2m21 0h1m6 0h1m2 0h2m1 0h2m4 0h1m62 0h1m14 0h2M0 67.5m1 0h8m3 0h3m3 0h1m1 0h3m1 0h3m10 0h1m2 0h1m2 0h2m14 0h1m1 0h1m1 0h2m3 0h1m14 0h10m3 0h2m3 0h2m2 0h4m2 0h4m2 0h1m1 0h2m2 0h9m1 0h1m1 0h2m1 0h2m3 0h1m6 0h3m2 0h3m1 0h2m1 0h1m2 0h1m1 0h3m1 0h2m1 0h5m5 0h11m1 0h1m2 0h7m3 0h5m5 0h1m1 0h1m1 0h13m2 0h1m1 0h1m2 0h1m6 0h1m5 0h3m3 0h1m1 0h9m9 0h1m12 0h1m5 0h2m3 0h1m3 0h1m35 0h2m9 0h1m33 0h1m47 0h3M0 68.5m2 0h13m3 0h2m1 0h8m3 0h2m16 0h3m11 0h5m2 0h5m2 0h6m1 0h2m1 0h6m6 0h2m8 0h1m3 0h3m2 0h2m4 0h2m1 0h4m1 0h2m1 0h2m2 0h4m5 0h1m4 0h3m1 0h2m2 0h1m1 0h2m3 0h1m1 0h2m1 0h2m1 0h1m3 0h4m2 0h1m12 0h1m1 0h2m19 0h3m3 0h3m1 0h4m10 0h1m2 0h1m4 0h1m1 0h1m1 0h1m2 0h1m1 0h3m5 0h1m2 0h4m3 0h1m16 0h1m16 0h1m6 0h1m1 0h1m9 0h1m2 0h1m7 0h1m4 0h1m6 0h1m35 0h1m37 0h1M0 69.5m6 0h2m8 0h4m26 0h2m8 0h2m5 0h2m4 0h2m2 0h2m1 0h6m2 0h2m7 0h2m9 0h1m3 0h1m2 0h2m2 0h2m4 0h5m4 0h11m1 0h7m1 0h1m1 0h1m3 0h4m1 0h10m3 0h4m4 0h3m4 0h1m1 0h1m2 0h1m1 0h1m4 0h6m3 0h3m6 0h2m2 0h1m2 0h6m3 0h1m14 0h6m8 0h2m3 0h2m6 0h1m5 0h1m15 0h1m35 0h1m18 0h3m28 0h1m3 0h1m2 0h1M0 70.5m0 0h18m1 0h8m1 0h1m1 0h3m5 0h1m1 0h1m1 0h2m2 0h2m1 0h1m6 0h1m4 0h1m2 0h1m4 0h6m3 0h8m3 0h4m1 0h2m2 0h1m3 0h1m3 0h3m2 0h7m1 0h6m1 0h4m3 0h5m3 0h7m1 0h1m4 0h14m2 0h14m1 0h13m2 0h1m5 0h1m1 0h6m1 0h1m2 0h8m3 0h1m1 0h1m1 0h6m2 0h1m2 0h1m2 0h8m1 0h7m1 0h5m1 0h9m1 0h1m1 0h1m1 0h2m8 0h1m6 0h3m1 0h2m4 0h1m1 0h1m3 0h1m5 0h3m13 0h1m5 0h1m21 0h2m2 0h1m4 0h1m1 0h2m43 0h1m24 0h1M0 71.5m0 0h6m4 0h5m2 0h1m2 0h3m1 0h3m13 0h1m14 0h1m5 0h1m18 0h2m1 0h2m2 0h5m13 0h5m3 0h9m3 0h13m2 0h3m4 0h17m1 0h1m3 0h5m1 0h6m3 0h1m3 0h2m1 0h2m2 0h2m2 0h1m2 0h1m1 0h1m5 0h1m1 0h1m1 0h1m1 0h3m4 0h1m2 0h2m1 0h7m1 0h2m4 0h2m2 0h2m1 0h1m5 0h3m8 0h1m1 0h1m2 0h2m1 0h2m1 0h5m1 0h3m1 0h1m4 0h2m4 0h2m14 0h2m57 0h2m32 0h1m14 0h1m16 0h2m2 0h1M0 72.5m0 0h1m3 0h2m5 0h11m1 0h1m4 0h1m2 0h2m2 0h3m5 0h1m9 0h1m1 0h3m8 0h12m1 0h7m1 0h2m2 0h4m8 0h8m2 0h3m3 0h10m1 0h12m1 0h1m1 0h7m1 0h10m1 0h4m1 0h2m4 0h3m1 0h5m3 0h1m1 0h7m1 0h1m1 0h4m1 0h1m1 0h1m10 0h1m1 0h1m1 0h6m1 0h6m3 0h2m9 0h1m1 0h2m1 0h1m3 0h4m2 0h1m1 0h1m1 0h10m3 0h8m10 0h6m21 0h1m9 0h1m1 0h1m20 0h1m24 0h1m7 0h1m11 0h1m1 0h1m18 0h3M0 73.5m1 0h1m3 0h1m4 0h1m1 0h1m1 0h1m3 0h1m3 0h1m3 0h1m1 0h1m1 0h1m18 0h1m16 0h1m1 0h1m1 0h1m1 0h7m13 0h3m10 0h1m1 0h3m2 0h1m4 0h2m2 0h3m5 0h4m2 0h4m3 0h1m3 0h1m4 0h5m1 0h2m1 0h12m1 0h1m2 0h1m3 0h5m1 0h3m3 0h2m3 0h1m1 0h1m2 0h1m6 0h1m1 0h2m8 0h1m2 0h1m5 0h9m8 0h2m12 0h1m10 0h6m1 0h2m5 0h1m4 0h1m72 0h1M0 74.5m0 0h6m1 0h6m2 0h3m2 0h6m2 0h4m1 0h1m9 0h2m1 0h1m1 0h1m5 0h2m2 0h1m7 0h4m4 0h2m1 0h5m1 0h2m4 0h1m1 0h1m2 0h5m2 0h4m5 0h7m2 0h4m1 0h5m1 0h1m1 0h4m1 0h1m1 0h7m4 0h2m1 0h3m2 0h6m1 0h3m3 0h7m1 0h15m4 0h1m2 0h9m6 0h1m3 0h6m1 0h6m5 0h1m7 0h1m1 0h5m1 0h1m1 0h2m3 0h2m12 0h1m4 0h2m20 0h1m3 0h3m2 0h1m17 0h1m6 0h1m1 0h1m1 0h1m14 0h1m27 0h1m1 0h2M0 75.5m0 0h1m1 0h10m1 0h18m5 0h5m3 0h7m1 0h1m2 0h10m1 0h4m1 0h9m1 0h1m2 0h12m2 0h5m2 0h9m2 0h5m5 0h9m1 0h3m1 0h2m2 0h1m2 0h8m1 0h4m1 0h33m3 0h4m2 0h4m1 0h3m2 0h5m1 0h20m1 0h2m4 0h1m1 0h2m1 0h5m2 0h2m2 0h4m2 0h4m1 0h13m1 0h4m3 0h9m1 0h2m2 0h2m5 0h3m2 0h1m12 0h1m5 0h4m1 0h1m4 0h2m4 0h3m4 0h2m3 0h1m5 0h1m2 0h1m5 0h1m1 0h3m7 0h1m1 0h1m2 0h1m5 0h1m21 0h2m5 0h1m1 0h2m1 0h1M0 76.5m3 0h3m1 0h4m1 0h3m4 0h1m5 0h1m1 0h2m7 0h1m2 0h1m7 0h1m1 0h1m8 0h3m7 0h6m2 0h6m1 0h1m2 0h1m2 0h6m3 0h2m9 0h1m1 0h4m1 0h10m1 0h1m7 0h2m1 0h3m2 0h4m3 0h6m1 0h4m4 0h11m1 0h9m2 0h8m2 0h3m5 0h1m1 0h4m4 0h2m4 0h1m2 0h2m1 0h4m13 0h3m1 0h2m2 0h1m3 0h1m3 0h6m2 0h1m6 0h1m1 0h4m2 0h3m1 0h1m16 0h1m14 0h1m10 0h1m26 0h2m44 0h2m5 0h1m9 0h1m5 0h1m6 0h1m9 0h1m1 0h1M0 77.5m0 0h3m1 0h2m3 0h4m2 0h11m14 0h1m15 0h1m6 0h2m2 0h1m3 0h2m2 0h2m1 0h3m6 0h4m1 0h2m14 0h1m2 0h1m2 0h4m1 0h2m2 0h10m2 0h1m1 0h1m2 0h1m1 0h1m2 0h2m1 0h9m2 0h4m6 0h1m2 0h3m1 0h7m4 0h8m4 0h2m1 0h4m6 0h1m3 0h2m4 0h2m2 0h2m2 0h4m3 0h2m8 0h2m1 0h2m1 0h5m1 0h1m1 0h2m1 0h4m1 0h5m4 0h3m1 0h4m9 0h2m16 0h2m6 0h3m9 0h1m28 0h1m1 0h1m5 0h1m28 0h1M0 78.5m0 0h1m2 0h4m5 0h1m5 0h1m4 0h2m1 0h4m4 0h2m8 0h1m2 0h2m3 0h3m3 0h2m10 0h2m1 0h4m3 0h1m1 0h1m2 0h2m2 0h3m4 0h2m5 0h1m4 0h5m1 0h3m1 0h5m1 0h1m2 0h4m1 0h2m3 0h4m1 0h2m2 0h2m1 0h5m4 0h2m3 0h5m2 0h6m1 0h1m2 0h2m2 0h2m2 0h3m1 0h4m8 0h1m1 0h5m10 0h7m1 0h8m1 0h1m10 0h1m7 0h1m1 0h3m1 0h3m7 0h1m2 0h1m1 0h5m2 0h1m5 0h1m5 0h2m7 0h1m14 0h1m2 0h1m17 0h1m8 0h1m2 0h1m2 0h1m12 0h2m17 0h1m50 0h1M0 79.5m0 0h4m6 0h2m1 0h5m2 0h4m1 0h7m5 0h5m1 0h4m5 0h8m6 0h1m2 0h8m1 0h10m2 0h7m4 0h9m1 0h3m3 0h4m1 0h1m1 0h11m1 0h2m2 0h11m1 0h12m2 0h6m1 0h6m3 0h1m1 0h2m1 0h6m1 0h3m1 0h1m1 0h1m3 0h13m1 0h2m1 0h2m3 0h2m1 0h5m1 0h4m4 0h6m6 0h4m1 0h5m2 0h1m1 0h4m1 0h1m2 0h7m1 0h2m4 0h1m2 0h3m2 0h1m3 0h1m1 0h1m8 0h5m10 0h1m4 0h3m5 0h1m3 0h5m6 0h2m3 0h1m30 0h2m1 0h1m6 0h2m12 0h1m20 0h3M0 80.5m1 0h2m2 0h6m8 0h5m1 0h2m1 0h1m7 0h2m6 0h4m3 0h3m7 0h1m6 0h1m3 0h3m6 0h1m3 0h1m1 0h4m2 0h2m3 0h1m8 0h3m1 0h12m3 0h2m1 0h4m1 0h4m1 0h2m1 0h1m2 0h7m1 0h5m1 0h1m1 0h1m3 0h7m3 0h6m1 0h7m2 0h1m3 0h1m4 0h1m4 0h2m1 0h1m9 0h7m1 0h1m2 0h2m5 0h2m6 0h1m3 0h5m1 0h1m3 0h3m8 0h2m2 0h1m1 0h1m3 0h2m1 0h6m23 0h1m3 0h1m9 0h1m7 0h1m7 0h2m16 0h1m60 0h1m24 0h2M0 81.5m0 0h1m14 0h7m2 0h1m1 0h1m3 0h1m1 0h1m14 0h1m1 0h3m15 0h3m3 0h4m1 0h1m4 0h2m2 0h1m2 0h5m8 0h1m1 0h1m1 0h1m1 0h3m1 0h3m2 0h4m5 0h7m6 0h2m2 0h4m1 0h1m3 0h7m1 0h1m2 0h4m3 0h3m2 0h1m4 0h1m3 0h4m9 0h1m1 0h1m1 0h4m2 0h3m1 0h7m4 0h1m6 0h1m2 0h1m1 0h3m10 0h4m3 0h1m1 0h5m2 0h3m1 0h1m11 0h7m17 0h3m22 0h1m9 0h1m9 0h1m64 0h1m24 0h2M0 82.5m0 0h6m3 0h1m1 0h1m2 0h1m11 0h1m7 0h1m24 0h1m3 0h2m1 0h5m10 0h3m5 0h3m2 0h1m18 0h6m5 0h5m1 0h1m5 0h3m4 0h1m2 0h1m10 0h3m1 0h1m1 0h5m2 0h7m1 0h1m2 0h1m3 0h3m1 0h1m2 0h3m2 0h3m7 0h1m1 0h2m1 0h4m10 0h5m3 0h2m6 0h1m4 0h3m1 0h2m1 0h1m1 0h2m4 0h1m2 0h1m11 0h1m4 0h1m2 0h1m70 0h1m50 0h1m16 0h1m18 0h1M0 83.5m0 0h2m19 0h6m2 0h2m2 0h1m9 0h1m2 0h4m12 0h1m1 0h1m2 0h1m5 0h9m1 0h4m1 0h3m1 0h2m13 0h9m2 0h1m1 0h14m1 0h12m1 0h3m1 0h2m3 0h3m1 0h6m1 0h1m1 0h4m1 0h1m3 0h7m1 0h4m1 0h1m2 0h1m1 0h2m1 0h4m1 0h34m3 0h1m4 0h3m4 0h7m1 0h4m1 0h2m3 0h3m2 0h5m1 0h6m3 0h1m5 0h2m1 0h6m8 0h1m9 0h2m18 0h1m2 0h1m7 0h7m12 0h2m18 0h1m3 0h1m9 0h1m6 0h2m3 0h4M0 84.5m0 0h6m2 0h1m4 0h1m1 0h2m1 0h1m3 0h2m4 0h2m1 0h4m2 0h2m4 0h1m3 0h1m15 0h2m4 0h1m1 0h4m1 0h1m1 0h4m1 0h1m2 0h1m2 0h1m4 0h1m9 0h1m2 0h3m1 0h3m1 0h1m3 0h7m2 0h6m1 0h1m3 0h5m1 0h3m1 0h1m2 0h2m6 0h1m1 0h1m1 0h4m1 0h3m1 0h1m1 0h3m1 0h7m4 0h4m13 0h2m2 0h2m1 0h1m4 0h1m1 0h4m5 0h3m3 0h1m7 0h2m2 0h4m1 0h5m2 0h2m3 0h3m5 0h5m2 0h1m1 0h4m3 0h4m1 0h1m34 0h1m5 0h2m10 0h1m3 0h1m46 0h2m5 0h1m28 0h2m8 0h1M0 85.5m2 0h1m5 0h12m4 0h4m9 0h2m1 0h2m6 0h2m3 0h1m9 0h2m3 0h2m1 0h4m2 0h5m2 0h4m1 0h1m1 0h5m3 0h1m4 0h2m2 0h2m2 0h3m2 0h1m3 0h1m1 0h1m4 0h1m2 0h2m3 0h2m6 0h12m2 0h5m2 0h1m2 0h8m3 0h15m4 0h2m4 0h2m3 0h1m5 0h3m4 0h9m1 0h3m1 0h2m11 0h2m7 0h2m2 0h5m3 0h3m3 0h8m24 0h1m21 0h3m4 0h1m4 0h2m6 0h1m27 0h1m11 0h2m15 0h1m16 0h1m11 0h1M0 86.5m0 0h2m3 0h20m14 0h2m10 0h3m2 0h1m1 0h7m2 0h2m2 0h3m2 0h5m2 0h1m1 0h7m1 0h1m1 0h1m1 0h3m1 0h1m1 0h1m3 0h11m2 0h2m1 0h2m1 0h2m1 0h2m2 0h14m3 0h2m3 0h15m2 0h2m1 0h3m3 0h6m1 0h7m3 0h5m2 0h2m6 0h3m4 0h9m2 0h9m3 0h1m2 0h3m1 0h6m2 0h2m1 0h2m2 0h2m3 0h6m2 0h7m4 0h1m8 0h3m4 0h1m17 0h1m1 0h1m3 0h3m1 0h4m5 0h3m2 0h1m1 0h1m2 0h3m1 0h1m3 0h2m46 0h3m13 0h2M0 87.5m0 0h1m1 0h5m2 0h9m1 0h1m5 0h3m8 0h1m1 0h1m5 0h1m1 0h2m2 0h3m8 0h1m2 0h1m2 0h3m1 0h3m2 0h1m6 0h3m2 0h6m4 0h3m8 0h1m2 0h4m1 0h1m1 0h18m5 0h7m5 0h16m1 0h1m1 0h3m4 0h15m1 0h6m2 0h2m2 0h4m7 0h2m2 0h2m1 0h4m1 0h4m1 0h1m5 0h1m1 0h1m2 0h1m3 0h11m1 0h4m1 0h2m1 0h4m2 0h2m3 0h1m1 0h2m13 0h2m9 0h2m1 0h5m7 0h1m3 0h1m1 0h2m1 0h1m8 0h1m16 0h1m55 0h1m14 0h1m5 0h2m8 0h1M0 88.5m1 0h2m3 0h1m1 0h1m2 0h1m2 0h1m1 0h4m1 0h4m12 0h2m3 0h2m2 0h1m11 0h1m9 0h1m4 0h4m2 0h13m18 0h5m4 0h1m4 0h1m1 0h2m1 0h5m9 0h3m2 0h9m3 0h1m10 0h1m1 0h4m1 0h2m2 0h1m2 0h1m1 0h1m2 0h4m5 0h1m3 0h1m1 0h9m5 0h1m3 0h2m1 0h3m3 0h1m1 0h4m2 0h1m1 0h1m4 0h1m2 0h2m1 0h3m4 0h2m1 0h2m11 0h1m16 0h1m11 0h1m19 0h1m70 0h1M0 89.5m0 0h8m3 0h7m3 0h3m2 0h2m4 0h1m9 0h3m14 0h1m4 0h1m4 0h1m3 0h1m2 0h1m1 0h1m3 0h1m8 0h2m1 0h2m3 0h1m2 0h3m2 0h1m3 0h1m1 0h1m1 0h2m6 0h2m1 0h2m1 0h1m8 0h1m1 0h1m2 0h7m3 0h5m1 0h1m1 0h3m1 0h1m1 0h7m1 0h1m2 0h1m1 0h6m1 0h7m1 0h1m1 0h2m2 0h5m1 0h4m4 0h2m1 0h7m5 0h6m1 0h4m12 0h5m1 0h1m9 0h2m1 0h2m1 0h1m3 0h2m1 0h2m1 0h2m6 0h1m20 0h2m18 0h1m5 0h6m15 0h1m52 0h1M0 90.5m0 0h1m1 0h3m1 0h8m2 0h13m4 0h2m2 0h1m1 0h1m7 0h1m1 0h3m16 0h1m3 0h1m4 0h1m1 0h8m3 0h3m1 0h4m8 0h4m1 0h2m6 0h5m2 0h3m1 0h4m1 0h2m3 0h1m5 0h1m2 0h7m2 0h1m2 0h3m1 0h1m1 0h9m2 0h4m2 0h2m2 0h2m3 0h3m6 0h1m3 0h1m1 0h2m5 0h1m2 0h2m3 0h1m1 0h4m3 0h9m1 0h1m4 0h2m3 0h1m1 0h4m7 0h2m2 0h1m1 0h1m2 0h1m3 0h5m2 0h2m11 0h1m10 0h1m5 0h1m35 0h1m6 0h2m5 0h1m5 0h2m34 0h1M0 91.5m0 0h4m1 0h2m1 0h2m2 0h3m1 0h11m9 0h1m16 0h1m14 0h2m1 0h6m1 0h1m1 0h2m1 0h1m1 0h2m9 0h1m13 0h3m2 0h1m1 0h1m2 0h5m6 0h1m2 0h5m1 0h1m6 0h2m2 0h5m1 0h6m5 0h2m1 0h1m1 0h1m1 0h2m2 0h1m2 0h3m2 0h4m1 0h4m1 0h3m6 0h6m2 0h1m6 0h4m5 0h6m1 0h2m5 0h1m1 0h6m1 0h3m1 0h1m3 0h1m24 0h1m10 0h1m7 0h1m10 0h1m32 0h2m25 0h1m2 0h1M0 92.5m0 0h4m1 0h2m1 0h1m3 0h2m4 0h7m3 0h4m2 0h2m2 0h1m11 0h1m1 0h2m3 0h1m1 0h1m2 0h2m1 0h3m1 0h6m1 0h3m1 0h2m2 0h1m2 0h1m1 0h11m1 0h2m2 0h1m1 0h1m3 0h5m2 0h1m2 0h1m2 0h1m1 0h2m3 0h2m5 0h8m1 0h4m1 0h1m1 0h3m1 0h1m1 0h2m2 0h5m1 0h9m5 0h1m1 0h4m3 0h6m1 0h2m1 0h7m5 0h2m6 0h4m1 0h1m1 0h1m2 0h1m2 0h3m3 0h2m5 0h5m1 0h1m4 0h1m1 0h1m1 0h4m1 0h4m1 0h5m5 0h1m1 0h1m9 0h1m9 0h1m20 0h1m3 0h1m4 0h1m7 0h1m1 0h2m6 0h2m30 0h1m12 0h1m22 0h1m1 0h1m2 0h3m1 0h5M0 93.5m0 0h3m1 0h6m5 0h2m1 0h2m1 0h2m4 0h1m8 0h1m4 0h1m1 0h2m1 0h2m3 0h3m2 0h2m5 0h1m4 0h2m1 0h2m1 0h3m1 0h1m1 0h2m1 0h2m1 0h1m3 0h4m1 0h2m1 0h2m2 0h1m1 0h2m1 0h3m3 0h7m1 0h9m1 0h6m12 0h10m1 0h15m1 0h10m3 0h2m1 0h12m1 0h1m3 0h1m11 0h2m1 0h1m4 0h9m3 0h1m1 0h1m10 0h1m4 0h4m1 0h6m1 0h2m2 0h1m3 0h8m1 0h2m8 0h1m22 0h2m3 0h1m1 0h3m1 0h3m5 0h1m2 0h1m13 0h2m7 0h2m3 0h1m31 0h1m32 0h1m5 0h1m3 0h3M0 94.5m0 0h2m1 0h2m6 0h3m2 0h5m1 0h2m4 0h2m2 0h1m11 0h1m3 0h1m2 0h1m4 0h4m1 0h1m3 0h1m1 0h6m1 0h5m1 0h1m1 0h7m2 0h1m1 0h2m6 0h1m1 0h1m1 0h4m5 0h1m3 0h3m1 0h4m7 0h1m1 0h3m1 0h10m1 0h6m1 0h3m3 0h7m2 0h1m1 0h3m1 0h17m2 0h1m1 0h1m5 0h1m4 0h6m2 0h13m1 0h7m6 0h1m1 0h1m1 0h1m2 0h1m2 0h1m1 0h1m4 0h1m1 0h3m1 0h7m3 0h1m3 0h1m1 0h2m2 0h3m6 0h1m1 0h1m3 0h1m17 0h1m3 0h2m6 0h1m1 0h1m26 0h1m12 0h1m6 0h1m2 0h1m6 0h2m20 0h1m5 0h1m20 0h1M0 95.5m1 0h5m3 0h1m4 0h1m2 0h3m1 0h5m2 0h1m1 0h2m20 0h1m8 0h2m11 0h2m1 0h2m1 0h2m1 0h1m2 0h1m2 0h2m2 0h1m2 0h1m3 0h2m1 0h6m2 0h2m2 0h2m2 0h4m4 0h1m1 0h3m1 0h4m2 0h5m5 0h1m7 0h1m1 0h1m4 0h2m3 0h2m2 0h1m1 0h4m1 0h5m3 0h3m1 0h1m4 0h1m1 0h1m5 0h1m1 0h1m10 0h1m2 0h1m3 0h5m4 0h1m9 0h1m2 0h14m1 0h4m2 0h3m1 0h2m6 0h1m1 0h2m11 0h1m6 0h1m10 0h1m8 0h1m2 0h1m78 0h1m9 0h1M0 96.5m2 0h3m2 0h2m1 0h1m1 0h2m2 0h2m1 0h1m5 0h5m2 0h4m2 0h3m10 0h2m1 0h2m6 0h1m2 0h2m4 0h5m2 0h2m1 0h1m8 0h1m2 0h1m8 0h2m4 0h3m1 0h7m1 0h1m9 0h1m2 0h3m1 0h1m2 0h1m3 0h3m3 0h2m3 0h4m1 0h4m2 0h2m1 0h5m1 0h1m3 0h2m2 0h2m1 0h3m4 0h1m1 0h2m1 0h7m7 0h5m10 0h1m2 0h1m1 0h7m8 0h2m3 0h6m3 0h1m1 0h1m11 0h1m6 0h1m3 0h3m14 0h3m18 0h4m27 0h1m19 0h2M0 97.5m1 0h4m3 0h4m1 0h1m1 0h1m4 0h2m3 0h1m2 0h3m2 0h2m7 0h2m2 0h1m1 0h5m2 0h1m3 0h1m2 0h1m4 0h2m3 0h1m1 0h3m1 0h12m1 0h1m1 0h2m1 0h4m3 0h2m4 0h6m1 0h9m4 0h2m2 0h9m2 0h12m3 0h8m5 0h4m2 0h1m1 0h5m2 0h4m1 0h15m6 0h2m2 0h1m1 0h2m1 0h3m3 0h4m2 0h2m1 0h1m6 0h1m6 0h1m3 0h4m1 0h2m1 0h11m2 0h3m1 0h1m3 0h2m8 0h1m16 0h1m15 0h3m8 0h1m5 0h2m6 0h2m2 0h1m39 0h1m23 0h1m21 0h1m3 0h1M0 98.5m5 0h1m1 0h3m1 0h9m1 0h2m1 0h1m20 0h1m8 0h2m5 0h1m7 0h5m1 0h1m4 0h3m2 0h4m4 0h3m12 0h2m5 0h2m1 0h3m1 0h1m4 0h1m1 0h1m4 0h1m4 0h2m1 0h10m1 0h3m1 0h2m1 0h4m7 0h1m4 0h2m6 0h7m1 0h1m4 0h2m6 0h5m2 0h1m3 0h1m4 0h2m1 0h2m3 0h2m3 0h1m15 0h2m3 0h3m1 0h7m1 0h6m8 0h2m6 0h1m28 0h1m53 0h2m22 0h1M0 99.5m0 0h6m4 0h1m1 0h2m1 0h2m2 0h2m2 0h3m2 0h5m8 0h3m1 0h2m8 0h1m5 0h1m1 0h2m1 0h2m1 0h5m1 0h4m3 0h11m1 0h1m1 0h7m1 0h1m1 0h3m2 0h2m2 0h3m1 0h6m1 0h7m1 0h1m1 0h2m1 0h2m1 0h10m1 0h8m1 0h5m5 0h4m1 0h8m2 0h10m1 0h3m2 0h7m1 0h1m1 0h1m2 0h1m1 0h1m4 0h9m1 0h3m10 0h4m4 0h1m1 0h15m2 0h2m2 0h4m1 0h9m2 0h3m13 0h3m7 0h2m5 0h4m2 0h1m8 0h1m3 0h3m10 0h4m9 0h1m20 0h3m32 0h1m12 0h1M0 100.5m0 0h1m1 0h5m1 0h1m5 0h4m1 0h2m7 0h1m1 0h3m6 0h1m3 0h1m4 0h4m13 0h1m1 0h4m2 0h2m4 0h5m1 0h3m1 0h2m2 0h5m1 0h2m1 0h1m1 0h2m1 0h4m1 0h1m4 0h1m1 0h1m2 0h3m1 0h2m1 0h8m1 0h1m6 0h7m2 0h2m2 0h3m1 0h4m3 0h1m1 0h1m3 0h4m1 0h5m2 0h16m4 0h6m2 0h1m6 0h1m7 0h3m3 0h3m8 0h1m1 0h1m2 0h1m2 0h1m1 0h1m2 0h4m4 0h1m1 0h1m1 0h3m2 0h1m1 0h1m7 0h2m5 0h1m3 0h1m87 0h1m7 0h1m36 0h1M0 101.5m3 0h1m2 0h6m4 0h2m1 0h3m1 0h3m2 0h3m1 0h3m8 0h1m2 0h1m1 0h1m5 0h1m1 0h2m1 0h3m2 0h1m1 0h12m1 0h1m1 0h1m1 0h5m1 0h1m2 0h13m3 0h1m6 0h4m3 0h12m4 0h3m1 0h10m2 0h1m1 0h3m1 0h2m1 0h2m2 0h6m2 0h4m1 0h1m1 0h19m6 0h4m4 0h1m2 0h7m4 0h7m1 0h6m9 0h6m4 0h1m4 0h2m1 0h5m1 0h5m4 0h3m17 0h1m2 0h1m2 0h2m6 0h1m5 0h1m10 0h1m14 0h1m1 0h2m12 0h1m23 0h1m1 0h2m15 0h1m5 0h1m1 0h1m13 0h2m2 0h1M0 102.5m1 0h2m1 0h3m3 0h1m1 0h1m1 0h1m1 0h4m1 0h2m1 0h3m1 0h1m1 0h2m2 0h1m5 0h4m1 0h1m10 0h1m4 0h2m2 0h1m1 0h3m1 0h2m3 0h6m6 0h8m10 0h16m4 0h15m3 0h4m6 0h8m1 0h4m1 0h1m2 0h6m4 0h3m1 0h11m1 0h6m3 0h4m2 0h1m2 0h4m4 0h3m1 0h1m2 0h3m7 0h1m6 0h1m12 0h6m1 0h10m1 0h1m1 0h1m3 0h1m13 0h1m6 0h1m5 0h3m19 0h2m1 0h2m16 0h1m3 0h3m12 0h1m5 0h1m22 0h3m19 0h1m11 0h2M0 103.5m0 0h1m2 0h1m1 0h6m1 0h8m2 0h5m1 0h16m5 0h1m5 0h1m1 0h1m1 0h5m2 0h1m2 0h1m1 0h1m1 0h5m2 0h1m2 0h4m3 0h2m1 0h3m6 0h1m7 0h2m1 0h24m6 0h2m2 0h2m1 0h15m1 0h2m2 0h4m1 0h9m1 0h1m2 0h7m2 0h3m1 0h5m3 0h4m8 0h9m1 0h5m2 0h1m2 0h1m1 0h1m2 0h2m4 0h4m2 0h5m2 0h17m2 0h2m2 0h1m2 0h2m2 0h3m14 0h1m1 0h2m4 0h6m4 0h4m1 0h2m10 0h4m2 0h1m8 0h2m1 0h1m27 0h3m15 0h2m2 0h2m3 0h1m5 0h1m7 0h2m1 0h1M0 104.5m3 0h4m3 0h4m1 0h6m3 0h4m6 0h4m5 0h1m3 0h2m5 0h3m2 0h2m1 0h2m1 0h1m2 0h1m3 0h2m1 0h2m1 0h2m4 0h11m4 0h1m6 0h7m1 0h2m2 0h1m1 0h3m1 0h6m1 0h1m1 0h2m1 0h1m2 0h1m2 0h1m1 0h1m2 0h3m1 0h2m2 0h4m1 0h3m1 0h3m1 0h2m3 0h7m1 0h3m4 0h8m1 0h2m2 0h1m3 0h1m1 0h4m1 0h1m3 0h10m1 0h1m3 0h2m12 0h4m11 0h3m2 0h1m2 0h8m6 0h5m16 0h1m5 0h1m1 0h2m23 0h1m6 0h5m10 0h2m44 0h1m13 0h1m3 0h2M0 105.5m0 0h2m4 0h1m1 0h2m3 0h4m1 0h1m1 0h3m1 0h4m3 0h1m1 0h1m6 0h2m4 0h4m2 0h1m7 0h1m2 0h3m2 0h6m2 0h12m5 0h5m7 0h1m2 0h3m4 0h1m3 0h6m1 0h9m5 0h1m2 0h2m4 0h3m2 0h9m2 0h7m1 0h1m1 0h7m2 0h17m1 0h1m4 0h3m1 0h2m2 0h2m2 0h1m2 0h5m2 0h1m2 0h5m10 0h4m1 0h2m3 0h2m4 0h1m3 0h2m1 0h3m2 0h2m7 0h1m4 0h1m8 0h1m5 0h2m6 0h1m1 0h1m5 0h2m1 0h4m5 0h1m3 0h3m8 0h1m10 0h1m35 0h2m28 0h1m7 0h1m3 0h1m8 0h1M0 106.5m5 0h2m1 0h1m3 0h1m1 0h6m1 0h3m2 0h6m4 0h1m3 0h2m1 0h2m8 0h2m2 0h1m1 0h1m1 0h3m3 0h2m1 0h4m1 0h9m1 0h1m17 0h3m1 0h1m1 0h1m1 0h2m1 0h9m2 0h1m1 0h3m4 0h9m1 0h4m1 0h5m1 0h7m1 0h7m8 0h1m1 0h3m2 0h3m1 0h2m1 0h7m1 0h1m1 0h4m2 0h1m1 0h1m4 0h3m1 0h4m3 0h1m2 0h2m2 0h1m2 0h3m7 0h3m2 0h2m1 0h2m1 0h1m1 0h4m4 0h1m1 0h1m3 0h2m1 0h5m1 0h2m1 0h2m14 0h1m3 0h1m2 0h1m10 0h1m1 0h2m13 0h1m13 0h1m1 0h1m3 0h2M0 107.5m0 0h3m1 0h3m1 0h2m1 0h1m4 0h5m1 0h4m1 0h1m2 0h1m1 0h2m37 0h3m6 0h3m6 0h1m3 0h3m1 0h1m9 0h2m5 0h2m2 0h6m4 0h1m1 0h8m5 0h1m4 0h1m6 0h3m2 0h5m3 0h1m4 0h7m2 0h1m1 0h1m1 0h1m3 0h3m2 0h5m2 0h5m2 0h1m3 0h1m6 0h1m1 0h1m4 0h2m5 0h2m12 0h3m8 0h3m1 0h2m1 0h6m1 0h6m26 0h1m12 0h1m10 0h1m8 0h2m2 0h1m36 0h1m35 0h1m4 0h1m6 0h1m5 0h1M0 108.5m0 0h1m2 0h5m4 0h2m2 0h4m3 0h3m2 0h1m3 0h1m1 0h1m3 0h1m1 0h1m8 0h4m9 0h1m1 0h1m2 0h2m3 0h2m4 0h7m1 0h2m1 0h2m2 0h1m1 0h1m7 0h1m1 0h4m2 0h4m13 0h1m1 0h1m2 0h7m1 0h3m1 0h1m1 0h3m1 0h2m2 0h4m2 0h1m3 0h3m3 0h1m6 0h1m1 0h4m2 0h3m1 0h2m2 0h2m2 0h1m6 0h1m2 0h3m3 0h1m1 0h10m1 0h1m2 0h1m3 0h5m15 0h2m4 0h1m1 0h1m8 0h1m2 0h1m1 0h5m1 0h3m6 0h1m15 0h2m15 0h1m11 0h2m17 0h4m19 0h2m10 0h1m22 0h2m26 0h1m7 0h1M0 109.5m2 0h6m4 0h2m1 0h1m5 0h1m1 0h4m1 0h2m3 0h2m2 0h1m3 0h3m2 0h1m3 0h1m5 0h2m1 0h1m1 0h1m5 0h4m1 0h1m1 0h1m1 0h1m5 0h5m2 0h1m4 0h5m1 0h8m1 0h1m1 0h1m3 0h10m1 0h2m2 0h2m2 0h2m1 0h4m1 0h1m4 0h4m9 0h5m1 0h4m2 0h1m1 0h1m2 0h1m2 0h3m2 0h1m1 0h1m1 0h4m1 0h7m2 0h12m2 0h1m1 0h1m1 0h2m1 0h4m1 0h3m1 0h5m2 0h2m8 0h5m1 0h2m1 0h1m1 0h7m1 0h1m2 0h2m3 0h1m6 0h3m4 0h4m1 0h2m1 0h2m2 0h1m14 0h1m2 0h1m9 0h1m4 0h2m4 0h1m6 0h3m6 0h4m24 0h3m13 0h1m1 0h1m14 0h1m29 0h1M0 110.5m0 0h1m4 0h3m1 0h7m1 0h2m21 0h2m1 0h1m8 0h2m3 0h2m2 0h1m5 0h8m3 0h1m6 0h6m1 0h1m3 0h1m2 0h1m4 0h4m1 0h1m1 0h4m1 0h2m2 0h1m10 0h3m6 0h7m2 0h3m4 0h5m1 0h1m3 0h1m4 0h1m1 0h1m2 0h4m4 0h1m3 0h14m3 0h1m2 0h2m2 0h2m2 0h1m2 0h1m4 0h1m1 0h1m2 0h4m1 0h3m1 0h1m8 0h4m3 0h2m2 0h1m2 0h2m1 0h1m3 0h5m2 0h1m24 0h1m6 0h3m8 0h1m5 0h1m9 0h1m14 0h4m5 0h1m17 0h1m10 0h1m16 0h1M0 111.5m0 0h24m2 0h4m1 0h4m2 0h2m9 0h1m1 0h1m8 0h1m4 0h13m3 0h5m4 0h1m5 0h5m1 0h1m2 0h5m1 0h1m1 0h4m1 0h14m2 0h1m1 0h9m1 0h9m1 0h5m1 0h3m2 0h6m1 0h1m2 0h7m1 0h1m2 0h6m1 0h1m1 0h4m1 0h12m1 0h3m1 0h4m5 0h1m1 0h9m2 0h1m5 0h2m2 0h5m2 0h1m2 0h1m2 0h13m2 0h1m1 0h7m3 0h3m10 0h1m1 0h1m3 0h5m4 0h1m8 0h1m3 0h1m10 0h5m6 0h1m1 0h2m3 0h3m4 0h1m2 0h1m5 0h1m2 0h1m6 0h1m3 0h2m3 0h1m2 0h1m3 0h1m6 0h1m1 0h1m4 0h2m6 0h1m1 0h5m1 0h2m2 0h1m7 0h1M0 112.5m2 0h3m6 0h1m4 0h1m2 0h1m2 0h1m3 0h1m9 0h3m2 0h1m1 0h1m3 0h1m1 0h1m3 0h1m10 0h2m2 0h2m2 0h4m5 0h1m2 0h1m1 0h2m1 0h2m1 0h5m6 0h7m1 0h4m3 0h6m1 0h1m4 0h1m4 0h4m1 0h11m2 0h1m4 0h3m2 0h28m4 0h1m5 0h1m5 0h1m1 0h3m3 0h2m6 0h1m11 0h3m9 0h1m1 0h6m4 0h3m1 0h6m9 0h1m1 0h1m1 0h1m4 0h1m1 0h1m7 0h1m21 0h2m21 0h1m16 0h1m2 0h1m11 0h2m1 0h4m36 0h1m7 0h1m21 0h1M0 113.5m0 0h1m2 0h2m1 0h2m2 0h2m3 0h3m2 0h5m3 0h1m8 0h1m8 0h1m7 0h2m2 0h1m8 0h2m6 0h3m5 0h1m1 0h1m6 0h2m13 0h2m2 0h5m3 0h2m1 0h1m6 0h4m2 0h1m2 0h4m3 0h1m2 0h3m4 0h1m1 0h2m2 0h4m1 0h1m3 0h2m2 0h1m2 0h1m3 0h1m5 0h3m1 0h1m7 0h1m2 0h4m4 0h4m10 0h1m1 0h1m1 0h3m5 0h3m5 0h1m8 0h3m2 0h1m2 0h1m6 0h1m5 0h3m6 0h1m1 0h1m1 0h2m16 0h1m52 0h1m81 0h2M0 114.5m1 0h1m1 0h5m2 0h1m17 0h1m5 0h1m2 0h1m7 0h5m1 0h1m6 0h2m14 0h2m1 0h4m1 0h2m5 0h1m1 0h1m1 0h2m11 0h6m3 0h4m2 0h3m6 0h7m3 0h5m1 0h1m1 0h4m1 0h7m5 0h3m3 0h1m3 0h2m1 0h1m1 0h3m1 0h2m2 0h1m2 0h1m1 0h1m1 0h2m1 0h2m2 0h3m1 0h1m4 0h3m1 0h3m1 0h1m1 0h1m1 0h3m1 0h4m6 0h3m8 0h3m5 0h2m1 0h1m8 0h5m2 0h4m4 0h1m2 0h1m1 0h3m14 0h1m15 0h1m6 0h1m4 0h1m7 0h1m27 0h1m24 0h1m4 0h1m8 0h2m20 0h1m9 0h1M0 115.5m0 0h1m5 0h3m1 0h2m1 0h2m1 0h9m1 0h6m16 0h3m2 0h1m6 0h1m6 0h3m2 0h2m2 0h1m4 0h1m5 0h2m3 0h2m1 0h1m7 0h2m2 0h3m2 0h5m1 0h5m10 0h1m1 0h4m2 0h5m1 0h2m1 0h2m1 0h10m2 0h2m2 0h2m3 0h2m1 0h5m4 0h3m1 0h12m2 0h1m5 0h1m1 0h1m10 0h4m3 0h1m1 0h1m1 0h2m1 0h2m9 0h3m2 0h7m3 0h3m1 0h4m11 0h1m12 0h1m4 0h2m3 0h1m2 0h1m10 0h1m1 0h1m13 0h1m1 0h1m11 0h1m6 0h1m14 0h1m6 0h1m55 0h1m1 0h1M0 116.5m5 0h1m1 0h6m7 0h5m13 0h5m2 0h3m1 0h1m3 0h1m6 0h1m2 0h5m2 0h10m1 0h1m1 0h2m3 0h3m2 0h1m2 0h1m2 0h2m6 0h3m2 0h1m6 0h2m3 0h1m1 0h2m1 0h9m2 0h1m3 0h9m3 0h3m4 0h4m5 0h1m1 0h5m1 0h1m3 0h2m2 0h1m2 0h2m2 0h1m3 0h7m2 0h4m2 0h3m2 0h1m4 0h2m2 0h1m1 0h5m6 0h1m6 0h1m1 0h5m2 0h8m3 0h1m1 0h2m4 0h1m1 0h1m1 0h4m1 0h2m1 0h4m4 0h1m2 0h1m5 0h1m10 0h2m11 0h1m12 0h2m5 0h2m4 0h4m47 0h1m13 0h1M0 117.5m2 0h6m3 0h2m1 0h5m1 0h2m5 0h6m4 0h2m1 0h2m1 0h3m1 0h6m1 0h5m3 0h3m7 0h2m1 0h2m1 0h7m2 0h4m1 0h2m6 0h1m3 0h1m5 0h11m4 0h2m1 0h3m1 0h1m2 0h5m1 0h9m1 0h1m1 0h3m1 0h5m1 0h5m2 0h2m4 0h8m3 0h1m4 0h3m4 0h2m2 0h4m1 0h4m2 0h4m1 0h1m1 0h1m1 0h5m6 0h1m1 0h3m8 0h1m1 0h1m4 0h1m4 0h1m2 0h1m3 0h4m1 0h3m1 0h2m1 0h1m1 0h7m1 0h2m13 0h1m7 0h1m2 0h1m2 0h1m1 0h2m3 0h3m9 0h2m2 0h2m1 0h1m7 0h1m6 0h2m16 0h1m8 0h1m4 0h1m48 0h1m2 0h1M0 118.5m4 0h4m2 0h1m1 0h3m1 0h2m4 0h2m2 0h1m1 0h1m9 0h1m3 0h2m3 0h1m5 0h1m4 0h6m1 0h1m1 0h7m1 0h3m1 0h1m1 0h1m4 0h1m2 0h1m1 0h4m6 0h2m1 0h1m3 0h4m6 0h3m9 0h10m7 0h2m1 0h2m1 0h1m1 0h2m1 0h4m1 0h1m4 0h1m3 0h1m1 0h3m1 0h2m3 0h1m1 0h1m1 0h4m1 0h4m1 0h4m11 0h1m1 0h2m2 0h3m1 0h2m2 0h2m3 0h10m9 0h1m1 0h2m2 0h3m5 0h3m1 0h3m1 0h5m2 0h1m1 0h2m13 0h2m14 0h2m7 0h1m11 0h2m2 0h1m13 0h2m5 0h1m6 0h1m10 0h1m63 0h2M0 119.5m0 0h7m1 0h1m3 0h1m1 0h1m2 0h2m6 0h1m1 0h2m2 0h2m1 0h4m5 0h1m1 0h2m2 0h1m13 0h6m6 0h3m2 0h2m2 0h5m1 0h4m1 0h1m2 0h1m1 0h1m4 0h2m5 0h3m1 0h2m1 0h3m1 0h1m1 0h1m1 0h1m3 0h1m5 0h1m5 0h3m1 0h1m2 0h2m3 0h2m1 0h7m1 0h1m1 0h1m3 0h8m1 0h2m1 0h2m7 0h8m1 0h6m4 0h1m4 0h1m3 0h4m1 0h5m1 0h1m2 0h6m6 0h3m1 0h1m5 0h5m2 0h2m2 0h1m1 0h6m1 0h1m7 0h1m14 0h1m5 0h1m53 0h3m19 0h3m47 0h1m7 0h1M0 120.5m2 0h3m1 0h2m2 0h1m1 0h2m1 0h2m2 0h2m3 0h1m1 0h2m14 0h1m3 0h1m2 0h1m2 0h1m3 0h1m7 0h1m3 0h5m2 0h5m1 0h1m2 0h11m7 0h1m1 0h2m3 0h1m7 0h4m1 0h6m4 0h1m2 0h2m1 0h1m4 0h7m1 0h2m1 0h1m2 0h3m2 0h6m9 0h1m3 0h1m1 0h1m1 0h1m1 0h1m1 0h4m6 0h1m1 0h1m2 0h2m8 0h1m1 0h1m7 0h2m1 0h1m2 0h3m3 0h3m8 0h6m1 0h1m1 0h3m2 0h1m1 0h2m1 0h5m4 0h1m1 0h2m1 0h1m4 0h2m12 0h1m8 0h1m3 0h2m3 0h3m34 0h2m4 0h1m24 0h1m4 0h1m30 0h2m5 0h1m12 0h1M0 121.5m0 0h5m3 0h1m5 0h4m2 0h3m1 0h5m3 0h1m3 0h2m2 0h4m1 0h8m3 0h3m1 0h1m2 0h1m6 0h2m4 0h2m7 0h2m1 0h3m2 0h5m2 0h1m2 0h1m2 0h2m1 0h6m4 0h1m2 0h3m2 0h1m1 0h4m3 0h1m1 0h1m1 0h1m2 0h3m3 0h3m2 0h2m1 0h2m5 0h3m1 0h2m3 0h3m2 0h1m6 0h1m1 0h4m1 0h1m1 0h2m5 0h1m1 0h3m6 0h1m8 0h1m5 0h12m8 0h5m1 0h1m5 0h1m8 0h1m1 0h4m4 0h8m5 0h2m5 0h1m3 0h1m1 0h5m13 0h4m7 0h4m10 0h1m8 0h2m19 0h1m14 0h2m1 0h1m27 0h1m16 0h2M0 122.5m1 0h2m1 0h1m6 0h2m3 0h3m1 0h5m1 0h1m1 0h1m1 0h1m11 0h1m2 0h8m1 0h2m8 0h6m4 0h1m3 0h1m1 0h8m1 0h1m1 0h2m7 0h5m3 0h1m2 0h2m1 0h5m1 0h3m3 0h6m1 0h1m2 0h1m1 0h2m1 0h2m1 0h2m2 0h1m5 0h2m2 0h5m3 0h5m2 0h6m1 0h3m1 0h4m2 0h1m1 0h1m2 0h3m2 0h3m18 0h6m1 0h4m1 0h2m3 0h1m1 0h1m7 0h2m4 0h1m3 0h3m1 0h1m1 0h2m6 0h1m3 0h3m1 0h1m3 0h3m3 0h2m2 0h1m4 0h1m17 0h2m5 0h1m11 0h1m7 0h1m3 0h1m22 0h1m2 0h1m5 0h4m11 0h1m40 0h1m6 0h1M0 123.5m0 0h1m8 0h1m2 0h2m2 0h4m4 0h2m11 0h1m1 0h1m7 0h3m4 0h1m4 0h1m1 0h2m2 0h1m2 0h2m3 0h2m2 0h8m8 0h1m1 0h2m11 0h1m1 0h3m1 0h2m2 0h2m1 0h1m7 0h1m1 0h2m1 0h2m1 0h1m1 0h1m3 0h3m1 0h1m1 0h4m2 0h1m5 0h3m10 0h4m6 0h5m2 0h2m1 0h2m1 0h1m5 0h5m2 0h2m1 0h1m1 0h2m1 0h2m2 0h1m2 0h2m1 0h8m2 0h1m8 0h3m1 0h2m1 0h1m1 0h1m7 0h1m3 0h3m2 0h1m6 0h1m2 0h1m28 0h2m16 0h1m3 0h1m18 0h1m3 0h2m2 0h2M0 124.5m2 0h1m2 0h7m4 0h1m8 0h2m1 0h7m1 0h1m7 0h1m1 0h1m3 0h3m4 0h3m2 0h1m1 0h2m5 0h1m3 0h3m2 0h1m1 0h7m1 0h2m1 0h1m1 0h2m2 0h1m6 0h1m2 0h4m2 0h1m1 0h1m1 0h1m5 0h1m1 0h6m1 0h1m8 0h2m2 0h1m2 0h4m5 0h1m1 0h4m1 0h1m1 0h1m14 0h3m11 0h5m3 0h2m3 0h3m8 0h7m3 0h1m21 0h2m6 0h2m3 0h2m8 0h1m5 0h3m1 0h6m3 0h1m17 0h1m10 0h1m7 0h1m22 0h1m2 0h1m80 0h1m8 0h1M0 125.5m5 0h5m3 0h4m5 0h3m4 0h1m2 0h3m1 0h2m5 0h2m3 0h1m1 0h1m7 0h1m9 0h3m1 0h1m2 0h1m2 0h1m1 0h2m2 0h1m2 0h1m1 0h2m2 0h1m1 0h1m1 0h1m7 0h1m12 0h1m8 0h6m2 0h2m1 0h4m1 0h1m3 0h1m2 0h2m5 0h1m3 0h1m1 0h3m5 0h1m4 0h1m1 0h1m3 0h2m2 0h2m1 0h2m2 0h3m1 0h1m3 0h1m3 0h5m2 0h2m1 0h1m13 0h1m2 0h1m14 0h4m1 0h2m2 0h1m5 0h2m1 0h1m2 0h1m3 0h2m3 0h6m2 0h2m1 0h3m10 0h1m18 0h1m15 0h1m10 0h1m2 0h1M0 126.5m2 0h6m2 0h5m1 0h3m1 0h2m1 0h5m1 0h3m2 0h3m4 0h1m6 0h5m3 0h2m2 0h3m3 0h1m1 0h3m1 0h1m1 0h9m3 0h2m1 0h2m2 0h1m1 0h2m1 0h3m1 0h2m3 0h2m10 0h6m2 0h10m1 0h4m4 0h1m1 0h1m1 0h2m1 0h2m3 0h3m1 0h1m1 0h1m8 0h1m4 0h4m3 0h2m2 0h4m4 0h2m4 0h3m5 0h2m2 0h2m8 0h1m2 0h5m1 0h5m5 0h1m1 0h2m2 0h1m1 0h4m2 0h2m1 0h5m2 0h2m6 0h3m6 0h3m3 0h1m1 0h3m2 0h1m4 0h2m129 0h1m12 0h1M0 127.5m2 0h1m1 0h12m2 0h3m8 0h1m3 0h6m1 0h2m1 0h2m8 0h4m4 0h11m7 0h1m1 0h3m7 0h3m14 0h1m6 0h2m2 0h5m1 0h3m5 0h2m1 0h6m1 0h3m4 0h2m3 0h6m1 0h2m7 0h2m1 0h2m7 0h1m10 0h1m2 0h2m2 0h1m3 0h3m1 0h1m1 0h1m14 0h5m1 0h3m1 0h1m7 0h1m3 0h4m7 0h2m1 0h1m2 0h3m2 0h1m6 0h1m1 0h1m2 0h4m1 0h1m34 0h4m2 0h2m20 0h1m11 0h2m51 0h1M0 128.5m1 0h5m2 0h9m3 0h1m2 0h1m1 0h2m2 0h1m5 0h1m4 0h2m4 0h1m4 0h2m1 0h1m8 0h3m1 0h2m6 0h3m3 0h1m2 0h3m3 0h6m3 0h1m2 0h3m3 0h3m2 0h5m3 0h1m2 0h2m1 0h7m3 0h1m2 0h3m1 0h13m1 0h4m2 0h5m2 0h1m4 0h9m2 0h1m2 0h1m1 0h6m8 0h1m2 0h2m1 0h4m3 0h2m1 0h12m1 0h1m2 0h1m7 0h1m6 0h1m3 0h1m1 0h2m1 0h2m6 0h2m1 0h3m1 0h1m1 0h3m2 0h2m1 0h2m5 0h1m1 0h1m5 0h2m10 0h1m1 0h1m1 0h1m5 0h1m3 0h3m26 0h1m20 0h1m11 0h1m7 0h3m1 0h2m27 0h1M0 129.5m3 0h1m1 0h1m1 0h4m3 0h1m1 0h2m6 0h3m5 0h2m2 0h1m1 0h5m9 0h6m10 0h1m3 0h2m2 0h1m3 0h6m1 0h1m4 0h4m1 0h1m5 0h1m3 0h2m1 0h1m1 0h1m2 0h1m2 0h1m2 0h2m2 0h1m2 0h4m1 0h1m1 0h1m1 0h2m1 0h1m5 0h6m1 0h1m3 0h5m4 0h6m1 0h2m2 0h3m1 0h1m2 0h1m1 0h4m1 0h1m3 0h1m5 0h1m1 0h3m2 0h2m13 0h2m3 0h3m1 0h7m1 0h1m6 0h5m2 0h1m3 0h1m5 0h1m3 0h1m4 0h1m1 0h2m1 0h1m3 0h2m15 0h2m4 0h1m15 0h1m9 0h1m24 0h2m2 0h2m12 0h2m45 0h1m3 0h1m22 0h1M0 130.5m2 0h1m1 0h1m4 0h2m1 0h1m3 0h1m4 0h1m6 0h5m5 0h4m2 0h1m1 0h1m5 0h2m4 0h1m5 0h1m3 0h1m1 0h1m2 0h1m2 0h4m3 0h1m1 0h3m6 0h2m6 0h2m3 0h2m10 0h1m1 0h2m6 0h1m3 0h7m2 0h6m2 0h3m2 0h1m2 0h4m3 0h2m11 0h10m4 0h1m8 0h1m3 0h2m5 0h1m2 0h1m1 0h2m1 0h2m1 0h10m1 0h1m1 0h1m1 0h1m1 0h2m10 0h4m2 0h1m4 0h2m4 0h4m1 0h1m1 0h2m2 0h7m4 0h3m8 0h6m7 0h1m2 0h1m1 0h1m2 0h9m11 0h2m12 0h2m1 0h1m8 0h2m7 0h2m7 0h1m7 0h2m5 0h1m21 0h2m7 0h1M0 131.5m0 0h4m1 0h1m1 0h1m2 0h3m1 0h2m1 0h1m1 0h3m1 0h2m1 0h1m1 0h1m1 0h2m1 0h1m4 0h1m2 0h4m7 0h3m1 0h4m1 0h2m2 0h7m3 0h1m3 0h1m1 0h10m2 0h1m10 0h8m3 0h3m1 0h2m2 0h10m3 0h3m2 0h4m3 0h2m1 0h1m6 0h2m1 0h7m1 0h3m2 0h6m4 0h1m7 0h1m1 0h1m3 0h1m1 0h4m3 0h2m4 0h2m4 0h1m4 0h9m3 0h5m7 0h2m3 0h4m1 0h1m2 0h5m5 0h1m2 0h8m2 0h3m1 0h2m29 0h4m7 0h5m1 0h1m12 0h1m4 0h1m2 0h1m10 0h1m2 0h1m16 0h1m29 0h2m28 0h1M0 132.5m1 0h3m9 0h5m4 0h6m1 0h2m6 0h5m2 0h1m6 0h1m14 0h5m1 0h4m5 0h1m10 0h1m8 0h1m3 0h1m1 0h1m1 0h3m3 0h7m1 0h2m1 0h1m3 0h1m7 0h4m1 0h2m4 0h1m1 0h4m2 0h1m3 0h2m1 0h5m2 0h7m9 0h2m1 0h4m1 0h1m5 0h2m1 0h1m3 0h1m5 0h1m2 0h1m7 0h3m1 0h3m3 0h2m10 0h1m2 0h2m1 0h3m2 0h3m2 0h1m4 0h4m3 0h4m3 0h2m28 0h1m2 0h4m11 0h2m23 0h1m29 0h1m26 0h1m5 0h2m20 0h3M0 133.5m11 0h5m1 0h1m1 0h2m3 0h3m1 0h2m4 0h2m8 0h1m2 0h2m2 0h1m7 0h3m2 0h5m9 0h4m1 0h7m1 0h2m1 0h1m23 0h3m10 0h1m2 0h2m2 0h1m1 0h1m1 0h1m2 0h2m2 0h3m3 0h1m2 0h4m2 0h1m5 0h1m4 0h5m1 0h1m3 0h3m1 0h1m2 0h3m5 0h2m1 0h2m5 0h2m1 0h2m3 0h1m3 0h2m8 0h4m13 0h2m17 0h1m4 0h4m2 0h4m10 0h2m16 0h2m6 0h1m10 0h1m45 0h1m17 0h1m11 0h1M0 134.5m0 0h4m3 0h3m1 0h1m2 0h2m3 0h2m14 0h1m4 0h4m2 0h1m5 0h1m8 0h2m1 0h1m3 0h1m2 0h1m4 0h4m8 0h1m1 0h4m1 0h1m12 0h1m5 0h4m1 0h1m1 0h3m3 0h1m1 0h1m4 0h6m1 0h1m6 0h2m2 0h4m1 0h6m2 0h2m2 0h1m3 0h1m3 0h1m4 0h1m1 0h2m1 0h1m2 0h3m1 0h5m1 0h1m4 0h1m1 0h3m2 0h1m4 0h1m8 0h1m2 0h1m8 0h1m9 0h3m8 0h1m5 0h3m1 0h1m3 0h1m1 0h1m2 0h1m3 0h1m1 0h2m134 0h1m20 0h1M0 135.5m0 0h5m5 0h2m1 0h2m1 0h1m1 0h3m3 0h1m2 0h2m1 0h2m5 0h1m9 0h1m1 0h2m10 0h1m5 0h3m2 0h4m2 0h1m1 0h2m6 0h6m10 0h2m1 0h2m10 0h1m1 0h1m3 0h1m2 0h4m4 0h2m1 0h1m1 0h2m4 0h5m2 0h1m4 0h3m3 0h2m3 0h2m1 0h7m1 0h1m4 0h1m8 0h1m2 0h1m1 0h2m1 0h1m2 0h4m2 0h1m2 0h2m1 0h2m1 0h1m1 0h2m4 0h3m6 0h1m8 0h1m2 0h1m5 0h3m1 0h2m6 0h4m1 0h1m4 0h1m3 0h4m13 0h1m5 0h1m5 0h7m2 0h1m13 0h1m1 0h1m14 0h1m1 0h3m6 0h1m8 0h1M0 136.5m5 0h2m5 0h1m5 0h1m2 0h1m1 0h1m1 0h2m10 0h1m4 0h1m12 0h1m15 0h7m14 0h1m17 0h1m8 0h1m7 0h2m2 0h2m1 0h3m1 0h1m2 0h1m1 0h1m10 0h1m1 0h1m3 0h1m4 0h1m8 0h2m8 0h2m4 0h1m1 0h5m1 0h2m3 0h1m4 0h2m13 0h1m6 0h1m1 0h2m1 0h2m10 0h4m1 0h2m10 0h5m1 0h2m10 0h1m44 0h1m1 0h1m2 0h1m4 0h1m103 0h1M0 137.5m0 0h1m2 0h5m1 0h7m1 0h1m3 0h2m3 0h1m1 0h4m4 0h2m8 0h2m1 0h1m9 0h1m6 0h4m1 0h2m2 0h4m1 0h1m1 0h5m3 0h2m1 0h2m1 0h1m1 0h2m4 0h1m1 0h2m3 0h4m3 0h1m4 0h1m5 0h1m1 0h2m1 0h5m1 0h3m3 0h2m3 0h3m2 0h4m1 0h2m3 0h2m1 0h1m1 0h8m1 0h1m1 0h1m4 0h11m1 0h1m1 0h5m1 0h4m1 0h1m1 0h1m4 0h10m3 0h1m2 0h3m3 0h1m5 0h2m1 0h1m3 0h1m11 0h3m3 0h1m2 0h6m18 0h1m12 0h1m4 0h4m8 0h2m11 0h2m18 0h2m13 0h2m11 0h1m1 0h1M0 138.5m0 0h8m8 0h7m2 0h1m2 0h1m17 0h1m1 0h5m2 0h6m5 0h9m3 0h1m1 0h3m6 0h7m11 0h1m4 0h7m1 0h5m2 0h2m3 0h2m6 0h6m3 0h1m2 0h3m3 0h9m6 0h1m1 0h1m1 0h3m1 0h10m1 0h5m13 0h1m5 0h1m4 0h3m3 0h3m3 0h1m1 0h2m11 0h2m10 0h3m1 0h1m7 0h4m8 0h2m10 0h1m1 0h1m16 0h3m20 0h1m32 0h1m11 0h1m12 0h1m34 0h1M0 139.5m0 0h2m10 0h1m2 0h4m1 0h6m2 0h1m1 0h2m3 0h3m3 0h7m1 0h2m1 0h1m2 0h6m1 0h1m4 0h13m3 0h1m1 0h2m1 0h3m1 0h1m2 0h1m2 0h1m7 0h3m3 0h5m1 0h1m6 0h7m2 0h10m2 0h3m2 0h3m1 0h1m3 0h5m1 0h1m2 0h13m1 0h1m1 0h1m1 0h3m2 0h1m1 0h5m2 0h1m2 0h8m3 0h1m1 0h7m1 0h3m2 0h4m1 0h5m3 0h1m2 0h1m3 0h2m1 0h5m1 0h3m1 0h3m1 0h1m1 0h2m2 0h3m9 0h1m9 0h6m14 0h1m4 0h1m3 0h3m7 0h2m4 0h1m2 0h1m1 0h1m9 0h4m5 0h1m13 0h1m25 0h1m1 0h1m36 0h1M0 140.5m0 0h1m4 0h7m9 0h6m16 0h1m2 0h2m4 0h1m6 0h4m1 0h1m2 0h2m2 0h7m1 0h2m3 0h1m3 0h4m1 0h1m1 0h1m6 0h1m1 0h1m2 0h2m1 0h2m2 0h6m1 0h1m3 0h3m2 0h2m4 0h1m2 0h2m1 0h4m4 0h1m1 0h1m3 0h4m1 0h3m2 0h1m1 0h2m1 0h6m3 0h4m10 0h1m8 0h7m7 0h2m1 0h3m15 0h1m2 0h1m1 0h1m3 0h2m8 0h1m1 0h12m6 0h1m1 0h1m2 0h1m6 0h2m8 0h1m1 0h1m9 0h1m11 0h1m26 0h1m15 0h2m5 0h1m6 0h1m7 0h2m1 0h2m23 0h2m2 0h1m8 0h2M0 141.5m1 0h30m1 0h3m1 0h5m2 0h4m2 0h5m3 0h5m5 0h3m1 0h8m3 0h3m1 0h2m2 0h1m1 0h5m5 0h3m2 0h8m2 0h1m1 0h1m2 0h4m3 0h2m1 0h2m2 0h5m5 0h1m1 0h4m1 0h1m1 0h6m1 0h6m1 0h1m1 0h3m1 0h2m1 0h1m8 0h9m1 0h9m2 0h1m3 0h2m2 0h1m2 0h1m1 0h1m2 0h1m1 0h1m2 0h7m1 0h2m3 0h2m4 0h1m4 0h8m2 0h6m1 0h7m3 0h4m12 0h2m5 0h1m11 0h1m4 0h2m1 0h1m1 0h1m7 0h2m7 0h1m3 0h1m2 0h1m12 0h2m20 0h1m6 0h1m2 0h2m4 0h1m6 0h1m1 0h1m6 0h2m4 0h2m3 0h1m4 0h1M0 142.5m4 0h1m1 0h4m1 0h6m1 0h1m1 0h3m8 0h2m2 0h1m1 0h1m8 0h2m4 0h1m6 0h1m8 0h3m1 0h4m3 0h2m5 0h7m1 0h9m2 0h1m8 0h2m4 0h1m2 0h1m1 0h2m1 0h4m1 0h11m5 0h2m1 0h4m2 0h2m1 0h1m1 0h1m1 0h2m2 0h1m1 0h1m1 0h4m1 0h4m1 0h4m4 0h4m2 0h11m2 0h3m2 0h2m1 0h2m5 0h4m5 0h1m2 0h2m9 0h2m1 0h1m2 0h1m11 0h4m1 0h2m1 0h2m1 0h1m1 0h4m1 0h5m3 0h1m9 0h5m4 0h3m9 0h1m10 0h1m14 0h2m67 0h1M0 143.5m4 0h3m3 0h2m1 0h1m5 0h1m1 0h2m1 0h5m1 0h3m1 0h1m1 0h1m10 0h1m4 0h1m1 0h1m9 0h2m12 0h3m3 0h2m2 0h2m26 0h1m4 0h1m14 0h5m6 0h5m5 0h2m1 0h2m4 0h1m3 0h1m1 0h4m1 0h4m4 0h1m1 0h2m10 0h1m5 0h1m1 0h1m2 0h2m9 0h1m2 0h1m5 0h5m13 0h3m2 0h3m2 0h1m1 0h1m4 0h3m6 0h1m5 0h1m4 0h2m1 0h2m2 0h1m98 0h2M0 144.5m0 0h1m3 0h2m1 0h1m1 0h2m1 0h1m1 0h1m5 0h2m3 0h5m6 0h2m5 0h1m5 0h5m12 0h3m3 0h3m5 0h2m7 0h2m1 0h3m12 0h1m4 0h2m1 0h2m2 0h2m1 0h2m4 0h1m1 0h1m2 0h2m2 0h2m1 0h2m6 0h4m5 0h3m1 0h5m2 0h5m4 0h2m3 0h1m1 0h1m4 0h1m1 0h4m1 0h2m5 0h4m1 0h3m2 0h2m4 0h3m2 0h1m1 0h1m3 0h3m3 0h3m9 0h3m2 0h1m1 0h1m8 0h3m1 0h1m1 0h1m1 0h2m2 0h7m18 0h1m52 0h1m5 0h2m24 0h2m55 0h2M0 145.5m1 0h1m1 0h2m1 0h3m1 0h3m1 0h5m3 0h5m7 0h1m31 0h1m2 0h2m1 0h1m4 0h2m4 0h2m2 0h2m1 0h1m1 0h3m10 0h5m1 0h1m3 0h1m3 0h1m1 0h4m4 0h1m8 0h2m3 0h4m2 0h1m3 0h1m2 0h4m6 0h8m1 0h1m5 0h1m1 0h1m1 0h1m2 0h2m1 0h16m4 0h6m9 0h8m1 0h2m18 0h1m1 0h1m9 0h5m9 0h4m14 0h1m3 0h2m15 0h1m4 0h1m11 0h1m4 0h4m10 0h4m10 0h1m8 0h1m37 0h1M0 146.5m0 0h1m2 0h5m1 0h2m1 0h3m1 0h2m2 0h5m2 0h8m1 0h1m3 0h1m2 0h2m1 0h2m1 0h4m4 0h3m3 0h1m1 0h2m1 0h7m1 0h2m1 0h6m1 0h1m1 0h4m3 0h2m1 0h2m8 0h1m1 0h3m11 0h3m1 0h2m6 0h3m3 0h4m1 0h2m1 0h2m1 0h4m1 0h3m1 0h2m5 0h6m2 0h1m2 0h6m5 0h1m1 0h3m1 0h1m4 0h6m2 0h1m5 0h5m1 0h4m4 0h2m2 0h3m1 0h1m8 0h6m1 0h2m1 0h3m1 0h1m3 0h1m4 0h8m2 0h3m2 0h1m2 0h1m10 0h1m6 0h1m1 0h1m2 0h1m17 0h2m3 0h6m3 0h1m10 0h1m3 0h1m1 0h1m37 0h1m21 0h1m20 0h1m2 0h1M0 147.5m0 0h8m2 0h6m4 0h1m1 0h5m1 0h5m1 0h1m1 0h1m1 0h1m3 0h6m1 0h3m7 0h1m1 0h5m6 0h3m2 0h3m1 0h5m4 0h1m8 0h1m2 0h1m1 0h6m1 0h1m2 0h7m1 0h1m1 0h1m2 0h5m7 0h1m3 0h1m1 0h1m2 0h4m3 0h4m2 0h4m1 0h2m2 0h7m2 0h1m1 0h2m1 0h2m1 0h1m2 0h5m1 0h2m1 0h1m1 0h2m1 0h3m3 0h1m2 0h2m4 0h6m1 0h4m1 0h4m3 0h1m5 0h2m1 0h2m3 0h1m6 0h1m1 0h2m5 0h2m1 0h2m2 0h2m3 0h3m1 0h2m1 0h2m6 0h1m13 0h1m9 0h2m18 0h1m6 0h1m3 0h1m1 0h3m1 0h2m3 0h1m4 0h1m68 0h1M0 148.5m0 0h1m3 0h1m2 0h3m2 0h1m4 0h3m2 0h1m5 0h1m11 0h2m1 0h5m14 0h1m1 0h1m2 0h2m2 0h1m5 0h2m1 0h7m3 0h3m2 0h2m5 0h2m12 0h1m4 0h1m1 0h1m15 0h5m4 0h1m9 0h5m3 0h5m2 0h1m3 0h5m1 0h3m1 0h5m4 0h4m1 0h2m2 0h5m3 0h2m6 0h1m4 0h4m17 0h4m1 0h4m1 0h1m1 0h1m7 0h2m9 0h1m5 0h1m91 0h1M0 149.5m0 0h2m2 0h2m1 0h7m5 0h2m2 0h2m1 0h1m3 0h1m2 0h3m13 0h1m2 0h1m6 0h1m1 0h2m1 0h1m8 0h1m4 0h2m7 0h1m2 0h1m16 0h1m4 0h1m3 0h2m4 0h6m12 0h2m3 0h2m1 0h1m1 0h2m2 0h1m3 0h1m9 0h1m2 0h2m4 0h3m2 0h1m1 0h1m6 0h1m2 0h4m3 0h1m3 0h1m1 0h5m1 0h2m8 0h2m5 0h1m2 0h1m2 0h1m11 0h3m1 0h1m5 0h4m7 0h3m5 0h3m8 0h1m6 0h1m26 0h1m2 0h1m1 0h2m27 0h1m59 0h1m3 0h1"/><path stroke="#c0c0ff" d="M0 0.5m6 0h1m25 0h1m1 0h1m13 0h1m42 0h1m27 0h1m14 0h1m5 0h1m4 0h1m7 0h1m5 0h1m25 0h1m16 0h1m19 0h1m18 0h1m8 0h1m17 0h1m25 0h1m4 0h1m14 0h1m4 0h1m3 0h1m12 0h1m3 0h1m2 0h1m1 0h1m81 0h1m8 0h1m3 0h1M0 1.5m7 0h1m14 0h2m12 0h1m16 0h1m6 0h1m26 0h1m22 0h2m4 0h1m6 0h1m20 0h1m5 0h1m24 0h2m13 0h1m3 0h2m18 0h1m15 0h1m3 0h1m7 0h1m13 0h1m26 0h1m15 0h1m10 0h1m10 0h1m3 0h1m6 0h1m4 0h2m13 0h1m28 0h1m2 0h1m5 0h1m2 0h2m4 0h2m13 0h1m1 0h1m3 0h1m7 0h1M0 2.5m10 0h1m3 0h2m14 0h1m44 0h1m33 0h1m20 0h1m2 0h1m36 0h1m25 0h1m5 0h1m3 0h1m12 0h1m11 0h1m10 0h1m1 0h1m9 0h1m5 0h1m7 0h1m26 0h1m21 0h1m1 0h1m19 0h1m14 0h1m21 0h1m5 0h2m15 0h1M0 3.5m46 0h1m14 0h1m6 0h1m4 0h1m6 0h1m48 0h1m11 0h1m2 0h1m11 0h1m3 0h1m5 0h1m3 0h1m11 0h2m1 0h1m8 0h1m37 0h1m22 0h1m6 0h1m12 0h1m3 0h1m1 0h1m18 0h1m6 0h1m5 0h3m14 0h1m10 0h1m23 0h1m11 0h2m2 0h1m9 0h1m6 0h1m2 0h2m19 0h1m10 0h1M0 4.5m4 0h2m6 0h1m20 0h1m38 0h1m17 0h1m15 0h1m33 0h1m1 0h1m9 0h1m32 0h1m23 0h1m9 0h1m15 0h1m3 0h1m1 0h1m4 0h1m2 0h2m3 0h2m2 0h1m3 0h1m9 0h2m24 0h1m9 0h1m8 0h1m2 0h1m4 0h2m17 0h1m1 0h1m49 0h1m6 0h1m6 0h1m13 0h1m12 0h1m11 0h1M0 5.5m33 0h1m15 0h1m26 0h1m20 0h1m4 0h1m1 0h1m22 0h1m12 0h2m7 0h1m15 0h1m27 0h1m30 0h1m27 0h1m12 0h1m12 0h1m11 0h2m18 0h1m11 0h1m22 0h2m1 0h1m19 0h1m22 0h2m20 0h1m5 0h1m9 0h1m2 0h1m1 0h1M0 6.5m0 0h1m7 0h1m12 0h1m18 0h1m11 0h1m12 0h1m1 0h1m16 0h1m2 0h1m3 0h1m3 0h1m11 0h1m4 0h1m4 0h1m38 0h1m5 0h1m2 0h1m12 0h1m25 0h1m40 0h1m19 0h1m21 0h1m20 0h1m17 0h1m8 0h1m69 0h1m28 0h1m1 0h1m6 0h1M0 7.5m8 0h1m24 0h1m14 0h1m12 0h1m3 0h1m8 0h1m27 0h1m7 0h1m6 0h1m33 0h1m3 0h1m1 0h1m28 0h1m8 0h1m46 0h1m4 0h1m9 0h2m44 0h1m7 0h1m5 0h1m16 0h1m43 0h1m7 0h1m32 0h3m22 0h1m1 0h1M0 8.5m0 0h1m6 0h1m17 0h1m3 0h1m3 0h1m14 0h1m3 0h1m27 0h1m72 0h1m22 0h2m3 0h1m2 0h1m12 0h1m44 0h1m46 0h1m14 0h1m3 0h1m19 0h1m15 0h2m1 0h1m4 0h3m12 0h2m5 0h2m19 0h1m19 0h1m4 0h1m12 0h1m13 0h1M0 9.5m4 0h1m39 0h1m2 0h2m1 0h2m9 0h1m11 0h2m20 0h1m22 0h1m8 0h1m3 0h1m6 0h1m7 0h1m16 0h1m2 0h1m7 0h1m5 0h1m24 0h1m12 0h2m19 0h1m2 0h1m7 0h1m2 0h1m41 0h1m8 0h1m3 0h1m1 0h1m14 0h1m1 0h1m17 0h1m1 0h1m9 0h1m9 0h1m1 0h1m18 0h1m1 0h1m8 0h1m14 0h1m27 0h1M0 10.5m12 0h1m20 0h1m2 0h1m11 0h1m2 0h1m17 0h1m3 0h2m5 0h2m7 0h1m2 0h1m19 0h1m13 0h1m10 0h1m3 0h1m1 0h1m18 0h2m6 0h1m70 0h1m32 0h1m16 0h1m2 0h1m12 0h1m6 0h1m33 0h1m2 0h1m33 0h1m19 0h1m3 0h1m9 0h1m11 0h1m1 0h1m9 0h1m1 0h1M0 11.5m7 0h1m4 0h1m1 0h1m35 0h1m1 0h1m4 0h1m10 0h1m3 0h1m16 0h1m2 0h1m6 0h1m13 0h1m2 0h1m6 0h1m21 0h1m27 0h1m11 0h1m32 0h1m19 0h1m25 0h1m24 0h1m3 0h1m13 0h1m3 0h1m17 0h1m10 0h1m47 0h1m9 0h1m25 0h1m12 0h1m4 0h1m4 0h1m1 0h1M0 12.5m0 0h1m3 0h1m3 0h1m33 0h1m4 0h1m1 0h1m5 0h1m4 0h1m23 0h1m15 0h1m1 0h1m4 0h1m11 0h1m11 0h1m8 0h1m10 0h1m1 0h1m1 0h1m54 0h1m42 0h1m37 0h1m13 0h1m14 0h1m4 0h1m7 0h1m39 0h1m35 0h2m27 0h2m5 0h2M0 13.5m6 0h1m7 0h1m10 0h1m3 0h1m3 0h1m12 0h1m12 0h1m18 0h2m9 0h1m15 0h1m19 0h1m6 0h1m5 0h1m14 0h1m12 0h1m6 0h1m6 0h1m5 0h1m16 0h1m20 0h1m37 0h1m32 0h1m12 0h1m4 0h2m5 0h1m12 0h1m6 0h1m4 0h1m6 0h1m11 0h1m1 0h1m7 0h1m21 0h1m2 0h1m6 0h1m1 0h1m28 0h1m10 0h1M0 14.5m4 0h1m18 0h1m2 0h1m14 0h1m25 0h1m9 0h1m12 0h1m4 0h1m8 0h1m2 0h1m9 0h1m54 0h1m10 0h1m56 0h1m3 0h1m1 0h1m9 0h1m5 0h1m28 0h1m22 0h2m19 0h1m44 0h1m2 0h1m20 0h1m4 0h1m7 0h1m2 0h1m5 0h1m3 0h1m1 0h1M0 15.5m4 0h1m8 0h1m5 0h1m2 0h1m1 0h1m3 0h1m2 0h1m26 0h1m15 0h1m4 0h1m30 0h1m3 0h3m40 0h1m23 0h1m5 0h1m15 0h1m23 0h1m22 0h2m8 0h1m15 0h1m12 0h1m17 0h1m19 0h1m20 0h1m5 0h1m28 0h1m8 0h1m9 0h1m9 0h1m18 0h1M0 16.5m6 0h1m5 0h1m26 0h1m8 0h1m17 0h1m4 0h1m1 0h1m30 0h1m4 0h1m10 0h1m5 0h1m17 0h1m20 0h1m10 0h1m34 0h1m15 0h1m13 0h1m53 0h1m22 0h1m18 0h1m5 0h1m6 0h1m12 0h1m12 0h1m3 0h1m5 0h1m1 0h1m5 0h1m9 0h1m4 0h2m4 0h1m6 0h1m3 0h1m1 0h1M0 17.5m4 0h1m15 0h1m7 0h1m9 0h2m33 0h1m12 0h3m2 0h1m2 0h1m2 0h1m8 0h3m11 0h1m11 0h1m7 0h1m11 0h1m19 0h1m5 0h1m1 0h1m13 0h1m22 0h1m1 0h1m30 0h2m11 0h2m5 0h2m30 0h1m1 0h1m6 0h1m3 0h1m5 0h1m3 0h1m3 0h1m14 0h1m3 0h2m8 0h1m8 0h1m18 0h1m10 0h1m30 0h2m14 0h1M0 18.5m7 0h1m7 0h1m1 0h1m11 0h1m19 0h1m1 0h1m6 0h1m3 0h1m22 0h1m1 0h2m37 0h1m4 0h1m9 0h1m1 0h1m4 0h1m7 0h2m18 0h1m22 0h1m62 0h1m27 0h1m20 0h1m11 0h1m40 0h1m12 0h1m18 0h1m1 0h3m2 0h1m12 0h1m4 0h1m4 0h1m12 0h1M0 19.5m11 0h1m52 0h1m33 0h1m2 0h1m8 0h1m4 0h1m17 0h1m1 0h1m23 0h1m5 0h1m1 0h1m56 0h1m33 0h1m16 0h1m36 0h1m8 0h1m8 0h1m9 0h1m17 0h1m7 0h1m11 0h1m2 0h1m18 0h1m2 0h1m1 0h2m1 0h2m13 0h1m3 0h1m5 0h1m5 0h1M0 20.5m39 0h1m1 0h1m11 0h1m1 0h1m16 0h1m2 0h1m5 0h2m25 0h1m2 0h1m14 0h1m18 0h2m5 0h1m28 0h1m26 0h1m13 0h1m15 0h2m1 0h1m21 0h1m11 0h1m15 0h1m3 0h1m2 0h1m4 0h1m16 0h1m4 0h1m12 0h1m31 0h1m1 0h2m3 0h1m20 0h1m15 0h1M0 21.5m36 0h1m17 0h2m5 0h1m2 0h1m4 0h1m2 0h1m1 0h1m8 0h1m2 0h1m66 0h2m8 0h1m22 0h1m21 0h1m7 0h1m12 0h1m13 0h1m6 0h1m19 0h1m15 0h1m20 0h1m5 0h1m1 0h1m4 0h1m2 0h1m13 0h1m2 0h1m30 0h1m1 0h1m1 0h1m9 0h1m1 0h1m5 0h1m17 0h1m16 0h1M0 22.5m7 0h1m3 0h1m6 0h1m36 0h1m27 0h1m9 0h1m24 0h1m3 0h1m2 0h2m6 0h1m11 0h2m10 0h1m14 0h1m55 0h1m11 0h1m5 0h1m35 0h1m26 0h1m2 0h1m20 0h1m1 0h1m30 0h2m3 0h1m6 0h1m34 0h1m15 0h1M0 23.5m16 0h1m8 0h1m10 0h1m16 0h1m12 0h1m1 0h1m1 0h1m25 0h1m8 0h1m5 0h1m10 0h1m21 0h1m30 0h2m3 0h1m14 0h1m1 0h1m46 0h2m11 0h1m32 0h1m2 0h1m10 0h2m4 0h1m9 0h1m9 0h1m7 0h1m3 0h1m25 0h1m18 0h1m4 0h1m25 0h1m1 0h1m15 0h1m3 0h1M0 24.5m11 0h1m12 0h1m10 0h1m28 0h1m3 0h1m16 0h1m10 0h1m8 0h1m14 0h1m9 0h1m20 0h1m5 0h1m10 0h2m1 0h1m9 0h1m3 0h1m7 0h1m3 0h1m17 0h1m20 0h2m19 0h1m13 0h1m53 0h1m8 0h1m2 0h1m7 0h1m24 0h1m6 0h1m11 0h1m12 0h1m4 0h1m6 0h1M0 25.5m18 0h1m12 0h1m23 0h1m1 0h1m3 0h1m13 0h1m4 0h1m2 0h2m21 0h1m15 0h1m37 0h1m2 0h1m45 0h1m10 0h1m1 0h1m7 0h1m6 0h1m6 0h1m6 0h1m4 0h2m9 0h1m1 0h1m2 0h1m11 0h1m22 0h1m2 0h1m8 0h2m9 0h1m17 0h2m18 0h1m3 0h1m7 0h1m6 0h1m36 0h1m3 0h1M0 26.5m14 0h2m1 0h1m4 0h1m3 0h1m11 0h1m13 0h1m32 0h1m6 0h1m2 0h1m11 0h1m19 0h1m20 0h1m11 0h1m30 0h1m19 0h1m26 0h1m7 0h1m14 0h1m6 0h1m12 0h1m48 0h1m5 0h1m8 0h1m1 0h1m17 0h1m3 0h2m22 0h1m28 0h1m10 0h1M0 27.5m16 0h1m21 0h1m13 0h1m8 0h1m13 0h1m7 0h1m9 0h1m3 0h1m16 0h1m12 0h1m1 0h1m24 0h2m10 0h2m1 0h2m10 0h1m17 0h1m5 0h1m42 0h1m25 0h1m6 0h1m5 0h1m4 0h1m3 0h1m14 0h1m4 0h1m3 0h1m6 0h1m40 0h1m7 0h1m21 0h1m7 0h1m6 0h2M0 28.5m26 0h1m3 0h1m1 0h1m22 0h1m1 0h1m2 0h1m14 0h2m28 0h1m24 0h1m5 0h1m1 0h2m15 0h1m14 0h1m12 0h1m8 0h1m19 0h1m6 0h1m32 0h1m1 0h1m4 0h1m9 0h1m1 0h1m14 0h3m3 0h1m1 0h1m7 0h1m3 0h1m11 0h1m6 0h1m45 0h1m16 0h1m13 0h1m13 0h1m3 0h1m5 0h1m16 0h1M0 29.5m0 0h1m1 0h1m9 0h1m7 0h1m18 0h1m15 0h1m2 0h1m20 0h1m3 0h1m12 0h1m3 0h1m18 0h1m24 0h1m20 0h1m2 0h1m18 0h1m6 0h1m23 0h1m1 0h1m6 0h1m11 0h1m3 0h1m12 0h1m6 0h1m1 0h1m4 0h2m4 0h1m3 0h2m3 0h1m22 0h1m7 0h1m30 0h1m2 0h1m19 0h1m5 0h1m21 0h1m37 0h1m1 0h1M0 30.5m2 0h1m28 0h1m8 0h1m1 0h1m3 0h1m25 0h2m24 0h1m1 0h2m12 0h2m1 0h1m2 0h1m24 0h1m9 0h1m3 0h1m4 0h1m15 0h1m60 0h1m15 0h1m12 0h1m3 0h1m11 0h1m3 0h1m15 0h1m19 0h1m6 0h1m3 0h1m18 0h1m35 0h1m16 0h2m6 0h1m23 0h1m2 0h1m2 0h1M0 31.5m8 0h1m11 0h1m30 0h1m3 0h1m10 0h1m5 0h1m49 0h1m2 0h1m14 0h1m21 0h1m16 0h1m6 0h1m10 0h1m2 0h1m16 0h1m26 0h1m11 0h2m41 0h1m2 0h1m28 0h1m8 0h1m3 0h1m2 0h1m22 0h1m31 0h1m15 0h1m5 0h1m15 0h2M0 32.5m11 0h1m5 0h1m21 0h1m3 0h1m8 0h1m10 0h1m3 0h1m15 0h1m20 0h1m12 0h1m7 0h2m2 0h1m5 0h1m7 0h2m9 0h1m5 0h1m34 0h1m33 0h1m17 0h1m5 0h1m28 0h1m1 0h1m7 0h1m15 0h2m4 0h1m1 0h1m7 0h1m13 0h1m5 0h1m2 0h1m21 0h1m10 0h1m8 0h1m16 0h1m6 0h2m1 0h1M0 33.5m9 0h1m2 0h1m2 0h1m11 0h1m23 0h1m6 0h1m32 0h1m7 0h1m6 0h1m12 0h1m2 0h1m20 0h1m12 0h2m3 0h1m44 0h1m25 0h1m24 0h1m12 0h1m2 0h1m6 0h1m9 0h1m9 0h1m3 0h1m12 0h1m6 0h1m5 0h1m3 0h1m11 0h1m21 0h1m3 0h1m14 0h1m23 0h1m4 0h1m10 0h1m8 0h1m2 0h1M0 34.5m10 0h1m2 0h1m37 0h1m14 0h1m6 0h1m9 0h1m1 0h1m7 0h1m4 0h1m74 0h1m19 0h1m46 0h1m19 0h1m14 0h1m15 0h1m6 0h1m34 0h1m20 0h1m10 0h1m7 0h1m8 0h1m28 0h1m9 0h1M0 35.5m2 0h1m9 0h1m1 0h1m2 0h2m4 0h1m6 0h1m2 0h1m14 0h1m1 0h1m46 0h1m13 0h1m29 0h1m11 0h1m1 0h1m19 0h1m1 0h1m7 0h1m91 0h1m7 0h1m1 0h1m10 0h1m15 0h1m14 0h1m40 0h1m4 0h1m10 0h1m2 0h1m12 0h1m9 0h1m2 0h1m27 0h1m1 0h1M0 36.5m6 0h1m4 0h1m4 0h1m30 0h1m10 0h1m13 0h2m18 0h1m3 0h1m1 0h2m18 0h1m14 0h1m28 0h1m9 0h1m20 0h2m21 0h1m33 0h1m3 0h1m15 0h1m15 0h1m8 0h1m10 0h1m14 0h1m5 0h1m7 0h1m1 0h1m10 0h1m9 0h1m17 0h1m1 0h1m61 0h1m3 0h1M0 37.5m1 0h1m1 0h1m22 0h1m18 0h1m14 0h2m21 0h1m45 0h1m15 0h2m55 0h1m27 0h1m6 0h1m3 0h1m9 0h2m12 0h2m1 0h1m14 0h1m7 0h3m1 0h2m3 0h1m5 0h1m5 0h1m1 0h1m16 0h1m26 0h1m11 0h1m10 0h1m6 0h2m21 0h1m6 0h1M0 38.5m8 0h1m9 0h1m2 0h1m11 0h2m2 0h1m1 0h1m14 0h1m16 0h1m1 0h1m17 0h1m21 0h1m18 0h1m27 0h1m3 0h1m5 0h1m10 0h1m25 0h1m7 0h1m26 0h1m2 0h1m13 0h1m13 0h1m1 0h1m21 0h1m3 0h1m11 0h1m38 0h2m23 0h1m6 0h1m12 0h1m18 0h1m9 0h1m8 0h1m11 0h1M0 39.5m19 0h1m13 0h1m9 0h1m4 0h1m2 0h1m34 0h1m17 0h1m18 0h1m21 0h1m15 0h1m3 0h1m1 0h1m8 0h1m21 0h1m35 0h1m12 0h1m10 0h1m60 0h1m3 0h1m3 0h1m1 0h1m11 0h1m6 0h1m6 0h1m12 0h1m2 0h2m26 0h1m4 0h1m15 0h1M0 40.5m9 0h1m9 0h1m5 0h2m11 0h1m11 0h1m24 0h1m26 0h1m12 0h1m2 0h1m2 0h1m1 0h1m3 0h1m12 0h1m34 0h1m10 0h1m40 0h1m25 0h1m29 0h1m4 0h2m9 0h1m8 0h1m6 0h1m8 0h1m10 0h1m13 0h1m5 0h1m9 0h1m1 0h1m30 0h1m13 0h1m10 0h1m6 0h1m7 0h1m6 0h1M0 41.5m5 0h1m5 0h1m4 0h1m9 0h1m18 0h1m25 0h1m5 0h1m1 0h1m21 0h1m7 0h1m22 0h1m7 0h1m16 0h1m40 0h1m8 0h1m12 0h1m21 0h1m14 0h1m6 0h1m9 0h2m7 0h1m1 0h1m14 0h1m9 0h1m26 0h1m1 0h2m24 0h1m17 0h1m9 0h1m21 0h1m8 0h1m12 0h1m10 0h1M0 42.5m28 0h1m4 0h1m13 0h1m20 0h1m3 0h1m21 0h1m3 0h1m20 0h1m21 0h1m13 0h1m4 0h1m26 0h1m23 0h1m39 0h2m6 0h1m3 0h1m4 0h1m33 0h2m9 0h1m4 0h1m9 0h1m3 0h1m15 0h1m3 0h1m37 0h1m15 0h1m9 0h1m2 0h1m1 0h3m10 0h1m2 0h1m1 0h1M0 43.5m19 0h1m9 0h1m3 0h1m3 0h1m28 0h1m6 0h1m5 0h1m2 0h2m1 0h1m2 0h3m14 0h1m17 0h1m28 0h1m8 0h1m9 0h1m4 0h1m24 0h1m15 0h1m12 0h1m11 0h1m18 0h1m9 0h1m6 0h1m4 0h1m3 0h1m8 0h1m4 0h2m15 0h1m1 0h1m12 0h1m3 0h1m5 0h1m9 0h1m3 0h1m27 0h1m6 0h1m1 0h1m10 0h1m12 0h1m8 0h1M0 44.5m5 0h2m20 0h1m3 0h1m11 0h1m1 0h1m2 0h1m1 0h1m58 0h1m1 0h1m32 0h1m22 0h1m1 0h1m5 0h1m51 0h1m18 0h1m12 0h2m5 0h1m5 0h1m52 0h1m5 0h1m22 0h1m18 0h1m37 0h1m1 0h1m12 0h2M0 45.5m2 0h1m9 0h1m5 0h1m8 0h1m32 0h1m19 0h1m47 0h1m4 0h2m4 0h1m30 0h1m15 0h1m69 0h1m30 0h1m10 0h1m18 0h1m3 0h1m9 0h1m2 0h1m7 0h2m5 0h1m84 0h1m10 0h1M0 46.5m6 0h1m12 0h1m9 0h1m5 0h1m13 0h1m28 0h1m19 0h1m17 0h1m21 0h1m3 0h1m34 0h1m1 0h1m19 0h1m43 0h1m9 0h1m17 0h1m28 0h1m7 0h1m3 0h1m36 0h1m4 0h2m9 0h2m5 0h1m9 0h1m21 0h1m8 0h1m3 0h1m13 0h1m14 0h1M0 47.5m8 0h1m14 0h1m27 0h1m1 0h1m2 0h1m1 0h1m15 0h1m28 0h2m9 0h1m15 0h1m10 0h2m8 0h1m5 0h1m4 0h2m46 0h1m23 0h1m20 0h2m9 0h1m9 0h1m32 0h1m1 0h1m7 0h1m22 0h1m3 0h1m19 0h1m1 0h1m22 0h1m4 0h1m23 0h1M0 48.5m31 0h1m2 0h1m18 0h1m7 0h2m9 0h1m16 0h1m7 0h1m2 0h1m19 0h1m5 0h1m15 0h1m3 0h1m1 0h1m7 0h2m18 0h2m18 0h1m13 0h2m1 0h1m3 0h1m10 0h1m7 0h1m18 0h1m4 0h1m47 0h1m42 0h1m6 0h2m32 0h1m27 0h1m23 0h1M0 49.5m21 0h1m6 0h1m12 0h1m28 0h1m7 0h1m6 0h1m1 0h2m3 0h1m7 0h1m2 0h2m10 0h1m1 0h1m5 0h1m44 0h1m10 0h1m3 0h1m15 0h1m22 0h1m10 0h1m23 0h1m46 0h1m14 0h1m4 0h1m3 0h1m2 0h1m1 0h1m8 0h1m13 0h1m7 0h1m9 0h1M0 50.5m0 0h1m5 0h1m8 0h1m28 0h1m1 0h1m11 0h1m40 0h1m6 0h1m77 0h1m59 0h1m14 0h1m21 0h1m2 0h1m4 0h1m9 0h2m2 0h1m14 0h1m11 0h1m49 0h1m1 0h1m42 0h1m12 0h1M0 51.5m4 0h1m6 0h1m2 0h1m2 0h1m25 0h3m3 0h1m4 0h2m9 0h1m7 0h1m4 0h1m11 0h2m3 0h1m5 0h1m6 0h1m1 0h1m17 0h2m35 0h2m33 0h1m3 0h1m12 0h1m12 0h1m23 0h2m6 0h1m56 0h1m68 0h1M0 52.5m1 0h1m29 0h1m3 0h1m2 0h1m18 0h1m4 0h1m58 0h1m2 0h1m3 0h1m2 0h1m1 0h1m12 0h1m1 0h1m2 0h1m27 0h1m2 0h1m4 0h1m9 0h2m3 0h2m6 0h2m16 0h1m45 0h1m3 0h1m24 0h1m1 0h1m18 0h1m13 0h1m12 0h1m9 0h2m55 0h1m14 0h1m7 0h1m3 0h2M0 53.5m27 0h1m24 0h1m2 0h1m49 0h1m18 0h1m10 0h2m12 0h1m3 0h1m9 0h1m5 0h1m6 0h1m1 0h1m29 0h1m1 0h1m4 0h1m1 0h1m31 0h1m21 0h1m13 0h1m12 0h1m17 0h1m23 0h1m15 0h1m3 0h1m69 0h1m3 0h1M0 54.5m6 0h1m15 0h1m5 0h2m29 0h1m3 0h1m3 0h1m14 0h1m2 0h1m18 0h1m10 0h1m2 0h1m45 0h1m3 0h1m24 0h1m6 0h1m25 0h1m5 0h1m21 0h1m18 0h2m14 0h1m1 0h1m3 0h1m4 0h2m1 0h2m15 0h1m14 0h2m7 0h1m81 0h1M0 55.5m13 0h1m1 0h1m3 0h1m21 0h1m21 0h1m10 0h1m15 0h1m6 0h1m12 0h1m6 0h1m38 0h1m1 0h1m2 0h1m8 0h1m2 0h1m8 0h1m15 0h1m7 0h1m4 0h1m6 0h1m6 0h2m5 0h1m34 0h1m4 0h1m20 0h1m33 0h2m24 0h1m8 0h1m6 0h1m14 0h1m27 0h1m7 0h1M0 56.5m24 0h1m6 0h1m7 0h1m10 0h2m14 0h2m32 0h1m20 0h1m2 0h1m4 0h1m4 0h1m13 0h2m30 0h1m1 0h1m8 0h1m15 0h1m2 0h1m8 0h1m17 0h1m1 0h1m3 0h1m3 0h1m9 0h1m3 0h2m15 0h1m22 0h1m1 0h1m2 0h1m13 0h2m28 0h1m2 0h1m15 0h1m21 0h1m4 0h1M0 57.5m3 0h1m30 0h1m12 0h1m6 0h1m32 0h1m7 0h2m31 0h1m6 0h1m21 0h1m9 0h1m11 0h1m3 0h1m14 0h1m3 0h2m13 0h1m17 0h1m28 0h1m2 0h2m6 0h1m10 0h1m2 0h1m3 0h1m3 0h1m5 0h1m2 0h1m16 0h2m4 0h1m17 0h1m5 0h1m3 0h1m9 0h1m4 0h1m63 0h1m10 0h1M0 58.5m0 0h1m7 0h1m11 0h1m16 0h1m3 0h1m11 0h1m33 0h1m3 0h1m8 0h1m5 0h1m7 0h1m9 0h1m4 0h1m50 0h1m2 0h1m7 0h2m9 0h1m9 0h1m3 0h2m2 0h1m7 0h1m32 0h1m3 0h1m4 0h1m20 0h1m4 0h1m1 0h1m5 0h1m1 0h1m7 0h1m10 0h1m1 0h1m3 0h2m24 0h1m4 0h1m29 0h1m9 0h1m4 0h1m9 0h1m4 0h1m4 0h1m6 0h1m5 0h1M0 59.5m15 0h1m17 0h1m2 0h1m5 0h1m1 0h1m1 0h1m9 0h1m1 0h1m21 0h1m4 0h1m11 0h1m2 0h1m1 0h1m3 0h2m12 0h1m6 0h1m21 0h1m60 0h2m8 0h1m21 0h2m12 0h1m6 0h1m10 0h1m15 0h1m6 0h1m5 0h1m23 0h1m2 0h1m2 0h1m1 0h1m22 0h1m7 0h1m2 0h1m23 0h1M0 60.5m1 0h1m15 0h1m10 0h1m2 0h1m5 0h1m1 0h1m3 0h1m11 0h1m36 0h1m3 0h1m9 0h2m1 0h1m16 0h1m80 0h1m4 0h1m4 0h1m3 0h1m2 0h1m30 0h1m2 0h1m5 0h1m18 0h2m1 0h1m18 0h1m6 0h1m1 0h1m2 0h1m3 0h1m5 0h1m5 0h1m11 0h2m12 0h1m27 0h1m33 0h1m11 0h1M0 61.5m11 0h1m2 0h2m6 0h1m1 0h2m5 0h1m11 0h1m1 0h1m7 0h1m10 0h1m15 0h1m16 0h1m2 0h1m4 0h1m12 0h1m6 0h1m29 0h1m15 0h1m12 0h1m3 0h1m16 0h1m6 0h1m4 0h1m29 0h1m9 0h1m24 0h1m8 0h1m20 0h3m21 0h1m9 0h1m9 0h1m1 0h1m9 0h1m61 0h1M0 62.5m7 0h1m7 0h1m6 0h1m1 0h1m8 0h2m12 0h1m8 0h1m7 0h2m12 0h1m11 0h1m7 0h2m1 0h1m4 0h1m2 0h1m29 0h1m42 0h1m6 0h1m13 0h1m26 0h1m4 0h1m18 0h1m12 0h1m14 0h1m32 0h1m41 0h1m24 0h1m46 0h1M0 63.5m1 0h1m10 0h1m20 0h2m47 0h1m12 0h1m10 0h1m33 0h1m31 0h1m17 0h1m4 0h1m1 0h1m4 0h1m6 0h1m19 0h1m21 0h1m31 0h1m14 0h1m16 0h1m5 0h1m17 0h1m6 0h1m20 0h1m12 0h1m45 0h1m4 0h1m7 0h1M0 64.5m23 0h1m1 0h1m4 0h1m5 0h2m2 0h1m18 0h1m1 0h1m1 0h1m1 0h1m3 0h1m3 0h2m32 0h1m7 0h1m21 0h1m5 0h1m7 0h1m3 0h1m6 0h1m9 0h1m41 0h1m4 0h1m8 0h1m10 0h1m18 0h2m23 0h1m1 0h2m7 0h1m2 0h1m4 0h1m30 0h1M0 65.5m9 0h1m37 0h1m3 0h1m1 0h1m20 0h2m35 0h1m14 0h1m13 0h1m21 0h1m3 0h1m16 0h1m18 0h1m2 0h2m6 0h1m5 0h1m22 0h1m2 0h1m7 0h1m4 0h1m24 0h1m10 0h2m1 0h1m1 0h1m25 0h1m34 0h1m36 0h1m47 0h2m2 0h1M0 66.5m2 0h1m6 0h1m19 0h1m5 0h1m9 0h1m6 0h1m18 0h1m8 0h1m5 0h1m35 0h1m2 0h1m11 0h1m17 0h1m8 0h1m7 0h1m9 0h1m33 0h1m10 0h1m19 0h1m15 0h1m2 0h1m6 0h1m8 0h1m31 0h1m1 0h1m16 0h1m6 0h1m6 0h1m1 0h2m77 0h1m6 0h1M0 67.5m11 0h1m5 0h1m21 0h1m1 0h1m3 0h1m19 0h1m3 0h1m28 0h2m22 0h1m9 0h1m1 0h1m2 0h1m4 0h1m18 0h1m46 0h1m7 0h1m19 0h1m23 0h1m12 0h1m31 0h1m5 0h1m9 0h1m1 0h1m21 0h1m10 0h1m1 0h1m1 0h1m14 0h1m48 0h1M0 68.5m0 0h1m39 0h1m8 0h1m3 0h1m23 0h1m9 0h1m23 0h1m6 0h1m16 0h1m21 0h1m12 0h1m7 0h1m1 0h1m5 0h1m25 0h1m19 0h1m15 0h1m11 0h1m2 0h1m5 0h1m1 0h1m9 0h1m8 0h1m2 0h1m25 0h1m1 0h2m17 0h2m5 0h1m4 0h1m14 0h1m15 0h1m63 0h1M0 69.5m5 0h1m8 0h1m5 0h1m3 0h1m14 0h2m11 0h1m2 0h1m2 0h1m7 0h1m5 0h1m19 0h1m7 0h1m4 0h1m11 0h1m55 0h1m7 0h1m3 0h1m2 0h1m24 0h1m11 0h1m30 0h1m21 0h1m44 0h1m12 0h1m23 0h1m1 0h2m3 0h1m2 0h1m4 0h1m1 0h1m4 0h1m1 0h1m11 0h1m42 0h1M0 70.5m34 0h1m4 0h1m8 0h1m1 0h1m9 0h1m1 0h1m23 0h1m38 0h1m22 0h1m2 0h1m51 0h1m1 0h1m8 0h1m2 0h1m27 0h1m17 0h1m24 0h1m3 0h1m5 0h1m62 0h1m24 0h1m52 0h1M0 71.5m6 0h1m8 0h1m18 0h1m6 0h2m24 0h1m5 0h1m8 0h1m11 0h1m1 0h1m1 0h1m67 0h1m1 0h1m16 0h2m3 0h1m2 0h2m13 0h1m4 0h1m10 0h2m33 0h1m1 0h1m35 0h2m2 0h1m28 0h1m65 0h1m35 0h1m9 0h1M0 72.5m45 0h2m1 0h2m9 0h2m17 0h1m16 0h1m15 0h2m29 0h1m1 0h1m7 0h1m18 0h1m6 0h1m17 0h1m12 0h1m26 0h1m8 0h1m1 0h1m1 0h1m14 0h1m13 0h2m13 0h1m2 0h1m7 0h1m8 0h1m5 0h1m24 0h1m2 0h2m33 0h1m4 0h2m52 0h1M0 73.5m2 0h1m8 0h1m26 0h1m21 0h1m6 0h1m14 0h1m3 0h1m14 0h1m11 0h1m12 0h1m1 0h1m10 0h1m8 0h1m36 0h1m5 0h1m9 0h1m6 0h1m11 0h1m32 0h1m5 0h1m2 0h1m8 0h1m18 0h1m11 0h1m31 0h1m14 0h3m9 0h1m9 0h2m17 0h1m14 0h1M0 74.5m13 0h1m13 0h1m4 0h1m2 0h1m14 0h1m6 0h1m5 0h1m12 0h1m11 0h1m10 0h1m38 0h1m7 0h1m5 0h1m47 0h1m9 0h1m3 0h1m2 0h1m8 0h1m8 0h1m8 0h1m15 0h1m17 0h1m31 0h1m26 0h1m4 0h2m7 0h1m51 0h1m23 0h1m1 0h1M0 75.5m12 0h1m38 0h1m13 0h1m17 0h1m20 0h1m55 0h1m35 0h1m4 0h1m9 0h1m6 0h1m25 0h2m11 0h1m34 0h1m17 0h1m10 0h1m16 0h1m6 0h2m13 0h1m28 0h1m8 0h1m5 0h1m28 0h1M0 76.5m6 0h1m8 0h2m4 0h3m6 0h1m9 0h1m5 0h1m9 0h1m6 0h2m2 0h1m6 0h1m33 0h1m6 0h1m21 0h1m58 0h1m8 0h1m15 0h1m2 0h1m8 0h1m56 0h1m13 0h1m2 0h1m3 0h1m3 0h1m13 0h1m13 0h1m68 0h1M0 77.5m7 0h2m5 0h1m11 0h2m1 0h1m7 0h1m5 0h2m1 0h1m11 0h1m2 0h2m7 0h1m2 0h1m3 0h1m21 0h1m9 0h2m2 0h1m19 0h1m13 0h1m15 0h1m1 0h3m7 0h1m25 0h1m4 0h1m2 0h1m4 0h2m12 0h1m6 0h1m3 0h1m1 0h1m52 0h1m21 0h1m1 0h1m5 0h1m1 0h1m1 0h1m1 0h1m27 0h1m6 0h1m7 0h1m12 0h1m23 0h1m9 0h1m1 0h1m24 0h1M0 78.5m1 0h1m30 0h1m3 0h2m1 0h1m15 0h1m1 0h1m55 0h1m9 0h1m2 0h1m9 0h1m7 0h1m17 0h1m20 0h1m13 0h1m5 0h1m1 0h1m44 0h1m1 0h1m18 0h1m16 0h1m7 0h1m26 0h1m5 0h1m6 0h1m23 0h1m8 0h1m22 0h1m7 0h1m5 0h1m5 0h1m14 0h1m3 0h1M0 79.5m24 0h1m9 0h1m12 0h1m14 0h1m34 0h1m17 0h1m7 0h1m27 0h1m28 0h2m21 0h1m13 0h1m7 0h1m42 0h1m15 0h1m4 0h1m2 0h1m8 0h1m17 0h1m32 0h1m13 0h1m2 0h1m7 0h1m13 0h1m3 0h1m1 0h1m4 0h1m9 0h1m5 0h1m1 0h1m3 0h1m7 0h1m3 0h1M0 80.5m0 0h1m31 0h1m10 0h1m10 0h1m25 0h1m25 0h1m16 0h2m16 0h1m16 0h1m22 0h1m8 0h1m6 0h1m1 0h1m2 0h2m3 0h1m19 0h1m5 0h1m13 0h1m16 0h1m12 0h1m12 0h1m35 0h1m20 0h1m31 0h1m7 0h1m49 0h1M0 81.5m8 0h2m12 0h1m2 0h1m3 0h1m15 0h2m1 0h1m9 0h1m2 0h1m15 0h1m4 0h1m3 0h1m1 0h1m17 0h1m1 0h1m3 0h1m3 0h1m22 0h1m8 0h1m1 0h1m33 0h1m8 0h1m37 0h1m56 0h1m3 0h1m5 0h1m16 0h1m22 0h1m3 0h1m79 0h1M0 82.5m12 0h2m3 0h1m2 0h1m1 0h1m20 0h1m4 0h2m11 0h1m3 0h1m7 0h1m2 0h1m11 0h1m18 0h1m12 0h1m2 0h1m25 0h1m33 0h1m7 0h1m44 0h1m18 0h1m4 0h1m6 0h1m5 0h1m49 0h1m3 0h2m7 0h1m4 0h1m17 0h1m39 0h1M0 83.5m4 0h1m9 0h1m5 0h1m6 0h1m14 0h1m18 0h1m7 0h1m2 0h1m14 0h1m10 0h1m3 0h1m2 0h1m10 0h1m37 0h1m5 0h1m8 0h1m21 0h1m79 0h1m39 0h3m2 0h1m7 0h1m2 0h1m2 0h1m10 0h1m4 0h1m2 0h2m28 0h1m14 0h1M0 84.5m6 0h1m7 0h1m10 0h1m13 0h1m1 0h1m4 0h1m3 0h1m3 0h1m22 0h1m6 0h2m1 0h2m4 0h1m2 0h1m21 0h1m15 0h1m3 0h1m22 0h1m25 0h1m8 0h1m2 0h1m5 0h1m10 0h1m55 0h1m39 0h1m5 0h1m1 0h1m16 0h1m3 0h1m50 0h1m49 0h1M0 85.5m0 0h2m26 0h1m3 0h2m10 0h1m6 0h1m15 0h1m8 0h1m19 0h1m37 0h1m5 0h1m59 0h1m2 0h1m14 0h1m12 0h1m20 0h1m35 0h1m16 0h1m4 0h1m4 0h1m6 0h1m15 0h1m1 0h2m7 0h1m4 0h1m34 0h1m18 0h1M0 86.5m37 0h1m19 0h1m8 0h1m3 0h1m4 0h1m20 0h1m5 0h1m2 0h1m13 0h1m50 0h2m6 0h1m8 0h1m7 0h1m34 0h1m45 0h1m8 0h1m15 0h1m12 0h1m11 0h1m28 0h1m2 0h1m13 0h1m30 0h1m29 0h1m4 0h1m3 0h1M0 87.5m18 0h1m9 0h1m10 0h2m13 0h2m7 0h1m13 0h2m16 0h1m1 0h1m5 0h1m37 0h1m72 0h1m6 0h1m15 0h1m2 0h1m26 0h1m37 0h1m12 0h1m32 0h1m21 0h1m44 0h1m15 0h1M0 88.5m0 0h1m29 0h1m4 0h1m3 0h3m2 0h2m8 0h1m10 0h1m4 0h1m6 0h2m25 0h1m2 0h1m8 0h1m1 0h1m1 0h3m12 0h2m1 0h1m20 0h1m2 0h1m23 0h1m7 0h1m3 0h1m31 0h1m21 0h1m14 0h1m26 0h1m2 0h1m29 0h1m14 0h1m8 0h1m5 0h1m1 0h2m36 0h1M0 89.5m24 0h2m9 0h1m43 0h1m5 0h1m10 0h1m4 0h1m3 0h1m6 0h1m12 0h1m4 0h1m2 0h1m7 0h2m21 0h1m14 0h1m14 0h1m16 0h1m30 0h1m21 0h1m6 0h1m4 0h1m1 0h1m2 0h1m8 0h1m4 0h1m20 0h1m8 0h1m1 0h1m11 0h1m11 0h1m10 0h1m50 0h1m26 0h1M0 90.5m29 0h2m5 0h1m6 0h1m1 0h2m13 0h1m2 0h1m2 0h2m1 0h1m8 0h1m14 0h1m5 0h2m1 0h1m7 0h1m2 0h1m20 0h1m4 0h1m2 0h1m5 0h1m8 0h1m19 0h1m4 0h1m17 0h1m2 0h1m1 0h1m10 0h1m26 0h1m19 0h1m3 0h1m16 0h1m10 0h1m18 0h1m4 0h1m2 0h1m19 0h1m3 0h1m3 0h1m3 0h1m6 0h1m4 0h1m34 0h1M0 91.5m35 0h1m2 0h1m18 0h1m21 0h1m10 0h1m34 0h1m6 0h1m17 0h1m5 0h1m24 0h1m3 0h1m10 0h1m16 0h1m4 0h1m43 0h1m43 0h1m6 0h1m4 0h1m5 0h2m9 0h1m12 0h1m19 0h1m17 0h1m30 0h1M0 92.5m4 0h1m21 0h1m16 0h1m4 0h1m11 0h1m21 0h1m25 0h1m11 0h1m7 0h3m5 0h1m42 0h1m37 0h3m9 0h1m33 0h1m4 0h1m4 0h1m11 0h1m13 0h2m25 0h1m18 0h1m14 0h1m36 0h1M0 93.5m13 0h1m10 0h1m1 0h1m2 0h1m12 0h1m5 0h1m11 0h1m3 0h2m1 0h1m9 0h1m22 0h2m36 0h2m2 0h1m1 0h1m14 0h1m31 0h1m18 0h1m9 0h1m6 0h1m12 0h1m3 0h1m7 0h1m5 0h1m17 0h2m15 0h1m26 0h1m16 0h1m9 0h1m14 0h1m2 0h1m35 0h1m22 0h1m7 0h1m4 0h1m2 0h1m8 0h1M0 94.5m9 0h1m4 0h2m11 0h1m5 0h1m1 0h1m1 0h1m3 0h1m3 0h1m7 0h1m6 0h1m12 0h1m16 0h1m5 0h1m7 0h1m7 0h2m3 0h1m20 0h1m22 0h2m35 0h1m2 0h1m39 0h1m4 0h1m4 0h1m7 0h1m1 0h1m5 0h1m7 0h1m5 0h1m9 0h2m26 0h1m4 0h1m6 0h1m48 0h1m7 0h1M0 95.5m7 0h1m2 0h1m9 0h1m11 0h1m11 0h1m8 0h1m1 0h1m42 0h1m10 0h1m7 0h1m10 0h1m15 0h1m13 0h1m4 0h1m3 0h1m3 0h1m2 0h1m18 0h1m9 0h2m4 0h2m22 0h1m1 0h1m38 0h1m21 0h1m2 0h1m6 0h1m16 0h1m3 0h1m8 0h1m10 0h1m43 0h1m10 0h1M0 96.5m5 0h2m2 0h1m26 0h1m21 0h1m18 0h1m4 0h2m15 0h1m64 0h1m9 0h1m3 0h1m3 0h1m2 0h1m20 0h1m15 0h1m36 0h2m10 0h1m18 0h2m7 0h1m11 0h1m7 0h1m1 0h1m7 0h1m5 0h2m2 0h1m22 0h1m11 0h1m56 0h1M0 97.5m27 0h1m12 0h1m6 0h1m6 0h1m1 0h1m9 0h1m23 0h1m1 0h1m12 0h1m20 0h1m42 0h1m45 0h1m22 0h1m9 0h1m41 0h1m15 0h1m8 0h1m10 0h1m30 0h2m7 0h1m15 0h1m1 0h1m14 0h1m23 0h1M0 98.5m25 0h1m53 0h1m16 0h1m1 0h1m6 0h1m24 0h1m5 0h2m21 0h1m43 0h1m19 0h1m24 0h2m30 0h1m2 0h1m7 0h1m1 0h1m5 0h1m21 0h2m4 0h1m1 0h1m69 0h1m8 0h1M0 99.5m8 0h2m7 0h1m8 0h1m8 0h2m11 0h1m1 0h1m6 0h1m47 0h1m8 0h1m3 0h1m14 0h1m51 0h1m15 0h1m8 0h1m9 0h1m50 0h1m3 0h1m15 0h1m4 0h1m17 0h1m7 0h1m8 0h1m8 0h1m7 0h1m14 0h1m2 0h1m14 0h1m8 0h2m36 0h1m7 0h1M0 100.5m10 0h1m36 0h1m4 0h1m2 0h1m10 0h1m8 0h1m1 0h1m6 0h1m13 0h1m12 0h1m25 0h1m5 0h1m8 0h1m26 0h1m23 0h1m9 0h1m19 0h1m1 0h1m28 0h1m1 0h1m9 0h1m6 0h1m17 0h1m5 0h1m57 0h1m29 0h1M0 101.5m5 0h1m9 0h1m6 0h1m27 0h1m2 0h1m1 0h1m2 0h1m3 0h1m43 0h1m4 0h1m2 0h1m21 0h1m15 0h1m12 0h1m15 0h1m34 0h1m11 0h1m46 0h1m31 0h1m5 0h1m7 0h1m16 0h1m1 0h1m8 0h1m10 0h1m17 0h1m13 0h1m10 0h1M0 102.5m11 0h1m15 0h1m4 0h1m20 0h1m3 0h1m15 0h1m1 0h1m10 0h1m64 0h1m18 0h1m32 0h1m29 0h1m5 0h1m37 0h1m1 0h1m2 0h1m14 0h1m18 0h1m3 0h1m7 0h1m6 0h1m11 0h1m3 0h1m3 0h1m1 0h1m3 0h1m1 0h1m3 0h1m10 0h1m26 0h1m32 0h1m5 0h1M0 103.5m2 0h1m43 0h1m40 0h1m4 0h1m3 0h1m1 0h1m1 0h1m8 0h1m2 0h1m25 0h1m29 0h1m15 0h1m1 0h1m26 0h1m1 0h1m20 0h1m2 0h1m23 0h1m18 0h1m69 0h1m8 0h1m6 0h1m37 0h1m6 0h1M0 104.5m9 0h1m12 0h2m4 0h1m3 0h1m5 0h1m2 0h1m4 0h1m3 0h1m1 0h1m5 0h1m2 0h1m2 0h1m18 0h1m14 0h1m2 0h1m3 0h1m7 0h1m9 0h1m8 0h1m10 0h1m6 0h1m12 0h1m3 0h1m2 0h1m14 0h1m18 0h1m6 0h1m17 0h1m25 0h1m3 0h1m3 0h1m14 0h1m18 0h1m9 0h1m7 0h1m5 0h2m8 0h1m2 0h1m19 0h1m7 0h1m26 0h1m24 0h1m6 0h1m20 0h1M0 105.5m4 0h2m17 0h1m8 0h1m1 0h1m3 0h1m6 0h1m4 0h2m46 0h1m7 0h1m45 0h1m50 0h1m9 0h1m26 0h1m5 0h1m7 0h1m4 0h4m1 0h1m1 0h1m2 0h1m10 0h1m9 0h1m1 0h1m7 0h1m8 0h1m6 0h1m2 0h1m24 0h2m37 0h1m32 0h1m26 0h1M0 106.5m0 0h1m2 0h1m6 0h2m1 0h1m6 0h1m11 0h3m7 0h1m3 0h1m13 0h1m13 0h1m9 0h1m2 0h2m1 0h1m5 0h1m4 0h2m21 0h1m29 0h1m19 0h1m1 0h1m2 0h1m26 0h2m3 0h2m1 0h1m10 0h1m8 0h1m15 0h1m17 0h1m20 0h1m8 0h1m3 0h1m6 0h1m2 0h1m7 0h1m2 0h1m10 0h1m104 0h1M0 107.5m3 0h1m3 0h1m18 0h1m4 0h1m12 0h1m13 0h1m8 0h1m17 0h4m1 0h1m13 0h1m8 0h1m2 0h2m11 0h1m14 0h1m14 0h1m20 0h1m13 0h1m5 0h1m9 0h1m32 0h1m7 0h1m2 0h1m36 0h1m14 0h2m28 0h1m4 0h1m9 0h1m5 0h1m6 0h1m9 0h1m41 0h1m5 0h1m16 0h1m1 0h1M0 108.5m22 0h1m12 0h3m1 0h1m15 0h1m1 0h1m2 0h1m13 0h1m26 0h2m12 0h1m13 0h1m40 0h1m4 0h1m16 0h1m10 0h1m3 0h1m18 0h1m21 0h1m12 0h1m2 0h1m27 0h2m16 0h1m27 0h1m13 0h1m8 0h1M0 109.5m17 0h1m2 0h1m1 0h1m16 0h1m12 0h1m2 0h1m2 0h1m4 0h1m2 0h1m11 0h1m2 0h1m43 0h1m15 0h1m4 0h1m10 0h2m17 0h1m39 0h1m3 0h1m2 0h1m4 0h1m13 0h1m27 0h2m8 0h1m14 0h1m5 0h1m4 0h1m10 0h1m5 0h1m9 0h1m4 0h1m2 0h1m42 0h1m4 0h1m10 0h1m12 0h1m4 0h1M0 110.5m31 0h2m3 0h2m1 0h1m4 0h1m4 0h1m4 0h1m9 0h1m10 0h1m7 0h1m7 0h1m9 0h3m33 0h1m1 0h1m7 0h1m19 0h1m4 0h1m1 0h1m11 0h2m27 0h1m21 0h1m19 0h1m1 0h1m38 0h1m17 0h1m2 0h1m19 0h1m16 0h1m32 0h1m49 0h2M0 111.5m25 0h1m9 0h1m6 0h1m4 0h1m3 0h2m3 0h1m5 0h1m23 0h1m47 0h1m37 0h1m1 0h2m10 0h1m26 0h1m3 0h1m7 0h2m1 0h1m19 0h1m12 0h2m13 0h2m21 0h2m7 0h1m12 0h3m8 0h1m33 0h1m22 0h1m6 0h2m12 0h1m4 0h1m15 0h1m6 0h2m2 0h1M0 112.5m6 0h1m11 0h1m6 0h1m4 0h1m4 0h1m9 0h1m6 0h1m29 0h2m18 0h1m52 0h1m41 0h1m14 0h1m11 0h1m3 0h1m1 0h1m1 0h1m1 0h1m3 0h1m37 0h1m32 0h1m3 0h1m17 0h1m4 0h1m15 0h1m5 0h1m1 0h1m20 0h1m29 0h1m15 0h1M0 113.5m18 0h1m8 0h1m8 0h1m2 0h1m10 0h1m2 0h1m2 0h1m16 0h1m6 0h1m3 0h1m4 0h1m9 0h1m47 0h1m6 0h1m4 0h1m25 0h1m46 0h1m2 0h1m12 0h1m54 0h1m4 0h1m12 0h1m12 0h1m107 0h1M0 114.5m9 0h1m3 0h1m4 0h1m4 0h1m11 0h1m7 0h1m6 0h1m39 0h1m9 0h1m4 0h1m7 0h1m5 0h2m3 0h2m12 0h1m8 0h1m12 0h1m1 0h1m9 0h3m8 0h1m5 0h1m7 0h1m36 0h1m12 0h1m4 0h1m8 0h1m11 0h2m4 0h1m20 0h1m2 0h1m14 0h1m49 0h1m15 0h1m13 0h1m1 0h1M0 115.5m1 0h1m7 0h1m15 0h1m6 0h2m5 0h1m4 0h2m1 0h1m11 0h1m1 0h1m1 0h1m33 0h1m4 0h1m36 0h2m8 0h1m13 0h1m4 0h1m4 0h1m11 0h1m17 0h1m23 0h1m3 0h1m4 0h1m23 0h1m18 0h2m4 0h1m5 0h2m4 0h1m4 0h1m15 0h1m11 0h1m3 0h1m3 0h1m30 0h1m29 0h1m9 0h1m3 0h1m33 0h1M0 116.5m14 0h1m1 0h2m8 0h2m1 0h1m3 0h1m1 0h2m11 0h1m2 0h1m7 0h1m1 0h1m51 0h1m7 0h1m1 0h1m19 0h1m10 0h2m15 0h1m9 0h1m31 0h1m22 0h1m9 0h2m25 0h1m47 0h1m11 0h1m44 0h1m12 0h1m26 0h1M0 117.5m19 0h1m6 0h1m15 0h1m16 0h1m1 0h1m33 0h1m5 0h1m20 0h3m25 0h1m1 0h1m20 0h1m38 0h1m7 0h1m1 0h1m8 0h1m1 0h1m1 0h1m10 0h1m13 0h1m38 0h1m13 0h1m9 0h1m39 0h1m11 0h1m5 0h1m10 0h1m7 0h1m5 0h1m3 0h1m13 0h1m18 0h1M0 118.5m0 0h1m2 0h1m5 0h1m1 0h1m23 0h2m8 0h1m10 0h1m23 0h1m24 0h1m1 0h1m7 0h2m5 0h1m4 0h3m10 0h1m5 0h1m10 0h1m9 0h1m3 0h1m9 0h2m45 0h1m20 0h1m34 0h1m13 0h1m1 0h1m34 0h1m21 0h1m8 0h1m2 0h1m1 0h1m7 0h1m12 0h1m46 0h1M0 119.5m9 0h2m8 0h1m6 0h1m20 0h2m1 0h1m7 0h2m1 0h1m8 0h1m12 0h1m5 0h1m4 0h1m2 0h1m1 0h1m2 0h1m8 0h1m16 0h1m1 0h1m4 0h1m16 0h1m1 0h1m25 0h1m2 0h1m2 0h1m14 0h1m9 0h1m1 0h1m5 0h1m30 0h1m5 0h1m6 0h1m28 0h1m16 0h1m17 0h1m4 0h1m11 0h1m1 0h2m93 0h1M0 120.5m9 0h1m4 0h1m2 0h1m3 0h1m1 0h1m1 0h1m8 0h2m7 0h1m4 0h1m14 0h1m31 0h1m2 0h2m3 0h1m3 0h1m7 0h1m45 0h1m10 0h1m1 0h1m48 0h1m9 0h1m31 0h1m5 0h3m7 0h1m11 0h1m41 0h1m23 0h1m7 0h1m2 0h1m15 0h1m2 0h1m1 0h1m1 0h1m1 0h1m11 0h1m2 0h1m31 0h1m1 0h1M0 121.5m7 0h1m15 0h1m11 0h1m25 0h2m1 0h2m16 0h1m19 0h1m15 0h1m1 0h1m14 0h1m27 0h1m3 0h1m4 0h1m4 0h1m4 0h1m16 0h1m6 0h1m4 0h1m2 0h1m46 0h2m23 0h1m6 0h1m6 0h1m2 0h1m35 0h1m5 0h1m8 0h1m23 0h1m28 0h1m35 0h1M0 122.5m3 0h1m27 0h1m1 0h1m2 0h1m19 0h2m14 0h1m2 0h1m20 0h2m7 0h2m2 0h1m9 0h1m23 0h1m5 0h1m22 0h1m20 0h1m5 0h1m3 0h1m28 0h1m19 0h1m2 0h1m1 0h1m5 0h1m5 0h1m4 0h1m12 0h1m1 0h1m3 0h1m9 0h1m12 0h1m2 0h1m9 0h1m1 0h1m2 0h1m15 0h1m51 0h1m23 0h1m10 0h1M0 123.5m2 0h1m7 0h1m11 0h2m9 0h1m24 0h1m13 0h1m13 0h1m13 0h1m35 0h1m17 0h1m1 0h1m32 0h1m22 0h1m4 0h1m19 0h1m12 0h1m16 0h1m14 0h1m38 0h1m7 0h1m79 0h1m14 0h1M0 124.5m12 0h1m4 0h1m2 0h1m6 0h1m9 0h1m4 0h1m17 0h1m6 0h1m13 0h1m18 0h1m7 0h1m13 0h1m3 0h1m15 0h1m3 0h1m11 0h1m8 0h1m11 0h1m2 0h1m8 0h1m10 0h1m4 0h1m25 0h1m18 0h1m19 0h2m28 0h1m5 0h1m14 0h1m36 0h1m30 0h1m55 0h1M0 125.5m21 0h1m13 0h1m20 0h1m8 0h1m26 0h1m3 0h1m1 0h1m14 0h2m4 0h1m17 0h1m4 0h1m6 0h1m20 0h1m1 0h1m7 0h2m2 0h1m32 0h1m5 0h2m3 0h1m17 0h1m17 0h1m2 0h1m6 0h1m9 0h1m11 0h1m54 0h1m6 0h1m35 0h1M0 126.5m22 0h1m16 0h2m1 0h3m13 0h1m8 0h1m5 0h1m9 0h1m4 0h1m25 0h1m22 0h1m9 0h1m1 0h1m11 0h1m1 0h1m1 0h1m18 0h1m22 0h1m6 0h1m9 0h1m1 0h1m18 0h1m21 0h1m2 0h1m9 0h1m15 0h2m4 0h1m18 0h1m7 0h1m108 0h1M0 127.5m23 0h1m3 0h1m2 0h1m1 0h1m24 0h1m16 0h1m9 0h1m22 0h1m1 0h1m4 0h1m13 0h2m5 0h1m6 0h1m4 0h1m6 0h1m21 0h2m3 0h1m14 0h1m7 0h1m11 0h1m8 0h1m5 0h1m3 0h1m45 0h1m4 0h1m18 0h1m1 0h1m11 0h1m7 0h1m2 0h1m2 0h1m4 0h1m21 0h1m27 0h1m17 0h1m9 0h1m5 0h1M0 128.5m6 0h1m12 0h1m1 0h1m11 0h2m3 0h2m10 0h1m4 0h1m5 0h1m39 0h1m21 0h1m19 0h1m57 0h1m9 0h1m4 0h1m47 0h1m11 0h1m13 0h1m10 0h1m2 0h1m8 0h1m1 0h1m1 0h1m2 0h1m6 0h1m12 0h1m9 0h1m36 0h1m1 0h1m40 0h1m3 0h1m2 0h1M0 129.5m6 0h1m44 0h1m7 0h1m9 0h1m5 0h1m10 0h1m4 0h1m4 0h1m1 0h1m3 0h1m8 0h1m1 0h1m9 0h1m8 0h1m1 0h1m27 0h1m12 0h1m7 0h1m1 0h1m28 0h1m11 0h2m14 0h1m2 0h1m10 0h1m2 0h1m3 0h1m1 0h1m1 0h1m35 0h1m2 0h1m13 0h1m11 0h2m17 0h1m1 0h1m25 0h1m16 0h1m6 0h1m20 0h1m11 0h1M0 130.5m1 0h1m3 0h1m5 0h1m8 0h1m14 0h3m5 0h1m12 0h1m2 0h1m1 0h1m13 0h1m16 0h1m5 0h1m2 0h1m2 0h1m11 0h2m9 0h1m2 0h1m17 0h1m7 0h2m6 0h1m3 0h1m1 0h1m42 0h1m35 0h1m29 0h1m10 0h1m18 0h1m41 0h1m4 0h1m4 0h1m6 0h1m8 0h1m19 0h1m2 0h1m29 0h1M0 131.5m4 0h1m8 0h1m13 0h1m1 0h1m7 0h1m7 0h1m3 0h1m1 0h1m87 0h1m43 0h1m1 0h1m2 0h1m4 0h1m12 0h1m43 0h1m1 0h1m15 0h1m94 0h1m15 0h1m19 0h1m46 0h1M0 132.5m18 0h1m12 0h1m14 0h2m8 0h1m7 0h1m28 0h1m2 0h2m10 0h1m18 0h1m5 0h1m29 0h1m22 0h1m10 0h2m8 0h1m1 0h2m7 0h1m4 0h1m8 0h1m5 0h1m13 0h1m8 0h1m5 0h1m17 0h1m8 0h2m18 0h1m4 0h2m8 0h1m20 0h1m26 0h1m29 0h1m9 0h1m25 0h1M0 133.5m16 0h1m1 0h1m8 0h1m4 0h2m3 0h2m4 0h1m5 0h1m2 0h1m10 0h1m12 0h1m18 0h3m4 0h1m30 0h1m3 0h1m3 0h1m24 0h1m1 0h2m38 0h1m6 0h1m8 0h1m11 0h1m20 0h1m4 0h1m1 0h1m37 0h1m58 0h1m3 0h1m4 0h1m14 0h1m24 0h1m6 0h1M0 134.5m21 0h1m4 0h1m6 0h1m13 0h1m12 0h1m6 0h1m14 0h1m13 0h2m15 0h1m12 0h1m5 0h1m17 0h1m20 0h1m8 0h1m2 0h1m15 0h1m6 0h1m6 0h1m4 0h1m8 0h2m8 0h1m24 0h1m14 0h1m47 0h1m3 0h1m5 0h1m71 0h1m6 0h1m24 0h1M0 135.5m23 0h1m15 0h1m4 0h1m10 0h2m3 0h1m1 0h1m13 0h1m8 0h1m20 0h1m33 0h1m16 0h1m32 0h1m13 0h1m8 0h1m3 0h1m9 0h1m9 0h1m3 0h1m58 0h1m5 0h1m22 0h1m26 0h1m15 0h1m1 0h1m11 0h1M0 136.5m16 0h1m26 0h2m9 0h1m4 0h1m2 0h1m3 0h2m2 0h1m9 0h1m2 0h1m37 0h1m3 0h1m3 0h1m14 0h1m23 0h1m22 0h1m32 0h1m3 0h2m21 0h1m2 0h1m26 0h1m21 0h1m8 0h1m6 0h2m1 0h1m10 0h1m66 0h2m2 0h1M0 137.5m34 0h2m9 0h1m2 0h1m1 0h1m13 0h1m16 0h1m7 0h1m18 0h1m7 0h1m7 0h1m20 0h1m18 0h2m13 0h1m31 0h1m50 0h1m11 0h1m6 0h1m2 0h1m7 0h1m1 0h2m7 0h1m6 0h2m16 0h1m2 0h1m2 0h1m26 0h1m29 0h1M0 138.5m23 0h1m38 0h1m25 0h1m15 0h1m31 0h1m1 0h1m12 0h1m4 0h1m17 0h1m5 0h1m51 0h1m17 0h1m6 0h1m5 0h1m15 0h1m2 0h1m9 0h1m1 0h1m50 0h1m84 0h1m1 0h1M0 139.5m2 0h1m11 0h1m4 0h1m9 0h1m4 0h1m4 0h1m8 0h1m5 0h1m6 0h1m4 0h1m20 0h1m9 0h1m1 0h1m1 0h1m7 0h1m7 0h1m14 0h1m11 0h1m19 0h1m25 0h1m60 0h1m37 0h1m11 0h1m2 0h1m25 0h1m9 0h1m4 0h1m13 0h1m13 0h1m14 0h1m17 0h1m15 0h1m3 0h2m1 0h1m16 0h2M0 140.5m1 0h1m10 0h1m1 0h1m2 0h1m9 0h1m13 0h1m3 0h1m3 0h1m8 0h1m7 0h1m33 0h2m11 0h1m10 0h1m16 0h1m13 0h1m33 0h1m12 0h1m13 0h1m9 0h1m2 0h1m2 0h1m4 0h1m1 0h2m12 0h1m22 0h1m6 0h1m8 0h1m5 0h1m1 0h1m44 0h1m12 0h1m6 0h1m5 0h1m2 0h2m18 0h1M0 141.5m35 0h1m11 0h2m17 0h1m3 0h1m26 0h1m1 0h2m17 0h1m7 0h1m1 0h1m5 0h2m9 0h1m1 0h1m37 0h1m25 0h1m8 0h1m26 0h1m30 0h1m5 0h1m5 0h1m7 0h1m3 0h1m11 0h1m1 0h3m5 0h1m6 0h2m7 0h2m8 0h1m2 0h1m18 0h1m33 0h1m1 0h1m22 0h1m7 0h1M0 142.5m38 0h3m3 0h1m3 0h1m11 0h1m1 0h1m2 0h1m1 0h1m16 0h1m18 0h1m13 0h1m6 0h1m22 0h1m8 0h1m3 0h1m3 0h1m2 0h1m2 0h1m16 0h1m2 0h1m4 0h2m17 0h1m6 0h1m7 0h1m5 0h1m3 0h1m7 0h1m4 0h1m12 0h1m12 0h1m4 0h1m5 0h1m3 0h1m20 0h1m10 0h1m11 0h1m79 0h1m11 0h1m14 0h1M0 143.5m2 0h1m4 0h1m10 0h1m22 0h1m8 0h1m24 0h1m5 0h2m18 0h2m7 0h2m19 0h1m1 0h2m7 0h1m12 0h1m6 0h1m8 0h1m20 0h1m16 0h1m3 0h1m2 0h1m40 0h1m6 0h1m5 0h1m20 0h1m47 0h1m31 0h1m24 0h1M0 144.5m11 0h1m18 0h2m12 0h1m1 0h2m11 0h1m1 0h4m12 0h1m53 0h1m20 0h1m1 0h1m11 0h2m12 0h2m1 0h1m1 0h1m1 0h1m7 0h1m22 0h1m3 0h2m5 0h1m5 0h1m8 0h1m17 0h1m25 0h1m21 0h1m22 0h1m17 0h1m38 0h1m14 0h1m32 0h1m6 0h1M0 145.5m30 0h1m5 0h2m9 0h1m17 0h1m5 0h1m1 0h1m2 0h1m8 0h1m18 0h1m20 0h1m9 0h1m1 0h1m22 0h2m2 0h1m13 0h1m28 0h1m2 0h1m14 0h1m33 0h1m16 0h3m12 0h1m1 0h1m1 0h1m32 0h1m3 0h1m92 0h1M0 146.5m15 0h1m3 0h1m28 0h1m4 0h1m7 0h2m54 0h1m28 0h1m2 0h1m29 0h1m6 0h1m9 0h1m1 0h4m27 0h1m9 0h1m20 0h1m25 0h1m13 0h1m20 0h1m23 0h1m2 0h3m26 0h1m1 0h2m24 0h1M0 147.5m9 0h1m11 0h1m5 0h1m5 0h1m6 0h1m16 0h1m17 0h1m4 0h1m12 0h1m1 0h1m4 0h2m21 0h1m8 0h1m27 0h1m8 0h1m7 0h1m5 0h1m2 0h1m2 0h1m18 0h1m27 0h1m16 0h1m6 0h1m4 0h1m30 0h1m3 0h1m2 0h1m1 0h1m1 0h1m41 0h1m10 0h1m12 0h1M0 148.5m14 0h3m6 0h1m3 0h1m8 0h1m2 0h1m2 0h1m23 0h1m27 0h1m3 0h1m14 0h1m5 0h1m14 0h1m15 0h1m14 0h1m5 0h2m13 0h1m16 0h1m8 0h1m18 0h1m40 0h1m13 0h1m1 0h1m11 0h1m17 0h1m4 0h1m5 0h2m49 0h1m27 0h1M0 149.5m18 0h1m3 0h1m5 0h1m3 0h1m18 0h1m20 0h1m7 0h1m16 0h1m10 0h1m26 0h1m21 0h1m11 0h2m5 0h1m23 0h1m11 0h1m4 0h2m12 0h2m21 0h1m20 0h1m4 0h2m9 0h1m11 0h1m12 0h1m9 0h1m2 0h1m10 0h1m16 0h1m9 0h1m24 0h3m12 0h1m9 0h1m10 0h1"/><path stroke="#ffc0c0" d="M0 0.5m15 0h1m51 0h1m11 0h1m6 0h2m17 0h1m4 0h2m2 0h1m20 0h1m1 0h1m1 0h1m23 0h1m8 0h1m1 0h1m40 0h1m2 0h1m19 0h1m4 0h1m20 0h2m18 0h1m20 0h1m2 0h1m19 0h2m9 0h1m1 0h1m2 0h1m1 0h1m6 0h2m3 0h1m37 0h1m7 0h2m11 0h1m8 0h1m2 0h1m3 0h2m7 0h1m2 0h1M0 1.5m82 0h1m42 0h1m8 0h1m12 0h1m56 0h1m27 0h1m3 0h1m54 0h1m22 0h1m7 0h1m28 0h1m7 0h1m27 0h1m4 0h1M0 2.5m20 0h2m14 0h1m59 0h1m6 0h1m2 0h1m37 0h2m40 0h1m2 0h1m5 0h1m57 0h1m29 0h1m36 0h1m7 0h1m52 0h1m2 0h1m2 0h1m4 0h1m8 0h1m19 0h1m8 0h1m11 0h1m2 0h1M0 3.5m21 0h1m21 0h1m42 0h1m3 0h1m1 0h1m1 0h1m20 0h1m4 0h1m7 0h1m9 0h1m4 0h1m1 0h1m6 0h1m38 0h1m20 0h1m15 0h1m7 0h1m9 0h1m1 0h1m3 0h2m2 0h2m2 0h1m35 0h1m9 0h1m26 0h1m8 0h1m6 0h1m14 0h1m25 0h1m20 0h1m26 0h1m10 0h1M0 4.5m3 0h1m7 0h1m9 0h1m26 0h1m10 0h1m18 0h1m9 0h1m7 0h1m14 0h1m16 0h1m8 0h1m1 0h1m10 0h1m31 0h1m44 0h1m46 0h1m34 0h1m25 0h1m2 0h2m1 0h1m8 0h1m1 0h1m3 0h1m14 0h2m26 0h2m4 0h1m5 0h1m3 0h1m20 0h1m7 0h1M0 5.5m73 0h1m15 0h1m4 0h1m37 0h1m54 0h1m14 0h1m6 0h1m16 0h1m2 0h1m3 0h1m2 0h1m24 0h1m41 0h1m17 0h1m18 0h1m11 0h1m23 0h1m2 0h1m16 0h1m2 0h1m6 0h3m26 0h1m4 0h1m3 0h1m4 0h1M0 6.5m9 0h1m20 0h1m1 0h2m15 0h1m14 0h1m51 0h1m7 0h1m19 0h2m11 0h1m14 0h2m6 0h2m6 0h1m2 0h1m20 0h1m2 0h1m16 0h1m4 0h1m13 0h1m20 0h1m11 0h1m8 0h1m3 0h1m25 0h2m8 0h2m6 0h1m27 0h1m5 0h2m11 0h1m22 0h2m13 0h1m19 0h3M0 7.5m7 0h1m26 0h1m9 0h1m12 0h1m19 0h1m8 0h1m4 0h2m23 0h1m8 0h1m1 0h1m14 0h1m2 0h1m2 0h1m3 0h1m6 0h1m4 0h1m3 0h1m27 0h1m2 0h1m26 0h1m27 0h1m26 0h2m3 0h1m43 0h1m6 0h1m3 0h1m7 0h2m26 0h1m13 0h1m11 0h1m3 0h1m4 0h1m5 0h1m14 0h1m1 0h1m5 0h1m5 0h1M0 8.5m10 0h1m20 0h1m5 0h1m5 0h1m15 0h1m16 0h1m12 0h2m2 0h1m9 0h1m13 0h1m23 0h1m1 0h1m2 0h1m11 0h2m5 0h1m26 0h1m6 0h1m11 0h1m41 0h1m8 0h1m11 0h2m4 0h1m1 0h1m1 0h1m5 0h2m6 0h1m10 0h1m10 0h1m22 0h1m33 0h1m26 0h1m31 0h1m2 0h1M0 9.5m45 0h1m10 0h1m2 0h1m6 0h1m10 0h1m1 0h1m5 0h1m28 0h1m6 0h1m19 0h1m7 0h1m10 0h1m8 0h1m6 0h1m5 0h2m1 0h1m5 0h1m24 0h1m3 0h1m4 0h1m4 0h2m5 0h1m46 0h1m11 0h1m4 0h1m130 0h2M0 10.5m4 0h1m25 0h1m8 0h1m2 0h1m19 0h1m35 0h2m1 0h1m1 0h1m15 0h1m3 0h1m1 0h1m1 0h2m1 0h1m3 0h1m29 0h1m18 0h1m6 0h1m13 0h1m5 0h1m19 0h1m12 0h1m3 0h2m5 0h1m8 0h1m16 0h1m12 0h1m34 0h1m27 0h1m18 0h1m17 0h1m2 0h1m10 0h1m24 0h1M0 11.5m27 0h1m34 0h1m2 0h1m4 0h1m23 0h1m8 0h1m6 0h1m9 0h1m9 0h1m23 0h2m6 0h1m41 0h1m7 0h1m16 0h1m4 0h1m9 0h2m5 0h1m18 0h1m26 0h2m24 0h1m3 0h1m2 0h2m5 0h1m32 0h1m2 0h1m7 0h1m40 0h1m4 0h1m16 0h1M0 12.5m13 0h1m24 0h1m7 0h1m12 0h1m5 0h1m17 0h1m6 0h1m30 0h2m29 0h1m14 0h1m25 0h1m22 0h1m47 0h1m42 0h1m19 0h1m13 0h1m15 0h1m9 0h1m31 0h1m14 0h1m6 0h3m6 0h1M0 13.5m2 0h1m21 0h1m9 0h1m6 0h1m7 0h2m5 0h1m5 0h1m8 0h1m13 0h1m2 0h1m2 0h1m14 0h1m28 0h1m3 0h1m1 0h1m7 0h1m32 0h1m37 0h1m5 0h1m9 0h1m8 0h1m3 0h1m8 0h1m2 0h1m41 0h1m12 0h2m1 0h1m21 0h1m1 0h1m11 0h1m41 0h1m3 0h1M0 14.5m18 0h1m20 0h1m20 0h1m8 0h1m29 0h1m59 0h1m10 0h1m25 0h1m21 0h1m2 0h1m13 0h1m25 0h1m4 0h1m23 0h1m15 0h1m5 0h1m4 0h1m1 0h1m11 0h1m6 0h1m28 0h1m29 0h2m4 0h1m15 0h1m1 0h1M0 15.5m6 0h1m4 0h1m23 0h1m7 0h1m2 0h1m8 0h1m19 0h1m4 0h1m9 0h1m6 0h1m27 0h2m3 0h1m1 0h2m2 0h1m3 0h1m35 0h1m12 0h1m5 0h1m6 0h1m20 0h1m10 0h1m4 0h1m2 0h1m1 0h1m4 0h1m36 0h1m30 0h1m44 0h1m8 0h1m41 0h2m4 0h1m14 0h1M0 16.5m5 0h1m57 0h1m8 0h1m58 0h1m14 0h2m11 0h1m27 0h1m22 0h1m11 0h1m9 0h1m16 0h1m7 0h1m6 0h1m6 0h1m5 0h1m1 0h1m18 0h1m10 0h1m2 0h1m85 0h1m3 0h1M0 17.5m53 0h1m24 0h1m1 0h1m21 0h2m25 0h2m13 0h1m14 0h1m2 0h1m99 0h1m4 0h1m5 0h1m10 0h1m34 0h2m12 0h1m6 0h1m23 0h1m37 0h1m2 0h1m9 0h1M0 18.5m35 0h1m6 0h1m3 0h1m1 0h1m31 0h1m19 0h2m12 0h1m4 0h1m12 0h1m12 0h1m3 0h1m13 0h1m17 0h1m3 0h1m11 0h1m2 0h1m6 0h1m1 0h1m4 0h1m31 0h1m5 0h1m6 0h1m11 0h1m10 0h1m17 0h1m14 0h1m1 0h1m12 0h1m15 0h1m1 0h1m3 0h1m16 0h1m8 0h1m32 0h1m13 0h1m7 0h1m4 0h1M0 19.5m9 0h1m6 0h1m39 0h1m25 0h1m11 0h1m25 0h1m18 0h1m5 0h2m14 0h1m12 0h1m35 0h1m14 0h1m7 0h1m11 0h1m3 0h1m1 0h1m8 0h1m13 0h1m13 0h1m6 0h1m41 0h1m6 0h1m54 0h1m36 0h1m4 0h1M0 20.5m1 0h1m5 0h1m2 0h1m6 0h1m12 0h1m9 0h1m15 0h1m5 0h1m22 0h1m5 0h2m10 0h1m1 0h1m1 0h1m5 0h1m10 0h2m25 0h1m8 0h2m21 0h1m27 0h1m38 0h1m13 0h1m4 0h1m40 0h1m4 0h1m7 0h1m22 0h1m41 0h1m5 0h1m5 0h1m1 0h1m8 0h1m37 0h1M0 21.5m62 0h1m5 0h1m24 0h1m6 0h1m4 0h1m4 0h1m3 0h1m23 0h1m3 0h2m12 0h1m12 0h1m47 0h1m12 0h1m20 0h1m5 0h1m1 0h1m8 0h1m94 0h1m71 0h1M0 22.5m73 0h1m11 0h1m4 0h1m10 0h1m36 0h1m43 0h1m3 0h1m2 0h1m17 0h2m3 0h1m50 0h1m22 0h1m4 0h1m2 0h1m1 0h1m77 0h1m2 0h1m1 0h1m30 0h1m13 0h1M0 23.5m81 0h1m6 0h2m19 0h1m8 0h1m12 0h1m24 0h1m24 0h1m3 0h1m7 0h1m9 0h1m6 0h1m7 0h1m23 0h1m29 0h1m15 0h1m48 0h1m32 0h1m5 0h1m13 0h1m7 0h1m9 0h1m3 0h1m8 0h1m6 0h1m17 0h1M0 24.5m66 0h1m21 0h1m29 0h1m8 0h1m33 0h1m2 0h1m18 0h1m10 0h1m7 0h1m2 0h1m10 0h1m44 0h1m2 0h1m1 0h2m23 0h1m7 0h1m15 0h2m4 0h1m14 0h1m6 0h1m2 0h1m36 0h1m40 0h1m6 0h1m10 0h1M0 25.5m28 0h1m11 0h1m3 0h1m5 0h1m38 0h1m5 0h1m11 0h1m1 0h1m27 0h1m12 0h1m10 0h1m7 0h1m20 0h1m33 0h1m13 0h1m6 0h1m48 0h1m8 0h1m21 0h1m12 0h1m2 0h1m4 0h1m6 0h1m54 0h1m11 0h1m4 0h1m1 0h1m3 0h1M0 26.5m0 0h2m25 0h2m6 0h1m31 0h1m49 0h1m4 0h1m16 0h1m1 0h1m10 0h1m37 0h1m7 0h1m8 0h3m17 0h2m18 0h1m8 0h1m10 0h1m7 0h1m29 0h1m35 0h1m6 0h1m5 0h1m30 0h1m11 0h1m30 0h1m3 0h1m6 0h2M0 27.5m13 0h2m2 0h1m2 0h1m2 0h1m34 0h1m19 0h1m15 0h1m4 0h2m35 0h2m6 0h1m43 0h1m1 0h1m13 0h1m1 0h1m7 0h1m9 0h1m13 0h1m8 0h1m9 0h1m13 0h1m19 0h1m3 0h1m1 0h1m6 0h1m10 0h1m8 0h1m45 0h3m11 0h1m12 0h1m5 0h1m6 0h1m13 0h1m10 0h1m7 0h1m3 0h1M0 28.5m21 0h1m64 0h1m12 0h1m10 0h1m1 0h1m4 0h1m6 0h3m6 0h1m13 0h1m4 0h1m24 0h1m1 0h1m20 0h1m13 0h1m3 0h1m43 0h2m11 0h1m17 0h1m3 0h1m5 0h1m19 0h2m40 0h2m32 0h1m21 0h1m19 0h1m5 0h1M0 29.5m11 0h1m14 0h1m21 0h1m1 0h1m29 0h1m1 0h1m27 0h1m9 0h1m4 0h1m2 0h1m3 0h1m3 0h2m18 0h1m40 0h1m11 0h1m24 0h1m5 0h1m1 0h1m2 0h1m50 0h1m2 0h1m5 0h1m9 0h1m1 0h2m42 0h1m30 0h1m23 0h1m8 0h1m16 0h2m3 0h1M0 30.5m7 0h1m55 0h1m15 0h1m4 0h1m12 0h1m4 0h1m13 0h1m39 0h1m4 0h2m4 0h1m16 0h1m20 0h1m21 0h1m2 0h1m2 0h1m18 0h1m1 0h1m4 0h1m19 0h1m18 0h1m21 0h1m9 0h1m11 0h1m36 0h1m2 0h1m10 0h2m41 0h1M0 31.5m5 0h1m4 0h1m7 0h2m7 0h1m20 0h1m4 0h2m9 0h1m5 0h1m33 0h1m21 0h1m1 0h1m14 0h1m3 0h1m16 0h1m50 0h1m6 0h1m5 0h1m6 0h1m1 0h1m15 0h1m6 0h1m3 0h1m5 0h1m17 0h1m1 0h1m13 0h1m1 0h2m1 0h1m22 0h1m9 0h1m3 0h1m21 0h1m20 0h1m11 0h1m9 0h1m10 0h1m3 0h2m14 0h1M0 32.5m46 0h1m1 0h1m4 0h1m1 0h1m6 0h1m6 0h1m1 0h1m8 0h1m18 0h1m2 0h1m5 0h1m7 0h1m6 0h1m7 0h1m4 0h1m2 0h1m12 0h1m31 0h1m12 0h1m8 0h1m60 0h2m17 0h1m34 0h2m2 0h1m3 0h1m3 0h1m6 0h1m1 0h1m33 0h3m25 0h2m1 0h1m29 0h1m3 0h1m4 0h2M0 33.5m66 0h1m22 0h1m18 0h1m4 0h1m12 0h1m1 0h1m15 0h1m8 0h1m18 0h1m24 0h1m9 0h1m25 0h1m3 0h1m4 0h1m39 0h1m18 0h1m10 0h1m24 0h1m1 0h1m2 0h1m30 0h1m56 0h1m3 0h1m3 0h1m9 0h1M0 34.5m4 0h1m4 0h1m4 0h1m2 0h1m14 0h1m17 0h1m35 0h1m5 0h1m47 0h1m19 0h1m10 0h1m7 0h1m41 0h1m2 0h1m16 0h1m5 0h2m5 0h1m1 0h1m11 0h1m1 0h1m5 0h1m13 0h1m16 0h1m27 0h1m3 0h2m5 0h1m6 0h1m24 0h1m12 0h1m4 0h1m15 0h1m12 0h1m9 0h1M0 35.5m8 0h1m10 0h1m5 0h2m2 0h1m38 0h1m22 0h1m6 0h1m11 0h1m7 0h2m18 0h2m3 0h1m13 0h1m2 0h1m3 0h1m1 0h1m21 0h2m37 0h1m16 0h1m1 0h1m4 0h1m9 0h1m14 0h1m5 0h1m13 0h1m8 0h1m28 0h1m1 0h1m5 0h1m8 0h1m20 0h1m12 0h1m6 0h2m6 0h1m3 0h1m1 0h1m14 0h1M0 36.5m12 0h1m14 0h1m8 0h1m4 0h1m29 0h1m2 0h1m10 0h1m21 0h1m23 0h1m10 0h1m9 0h1m2 0h1m22 0h1m17 0h2m27 0h1m6 0h1m7 0h1m3 0h1m7 0h1m7 0h1m14 0h1m17 0h2m1 0h1m21 0h1m7 0h1m23 0h1m1 0h1m4 0h1m29 0h1m10 0h1m24 0h1m9 0h1m3 0h1M0 37.5m18 0h1m3 0h1m5 0h1m50 0h1m12 0h1m14 0h1m3 0h1m6 0h2m2 0h1m9 0h2m2 0h1m11 0h1m5 0h1m28 0h1m16 0h1m6 0h1m9 0h1m9 0h1m1 0h1m2 0h1m26 0h2m1 0h1m7 0h1m5 0h1m5 0h1m15 0h1m4 0h1m6 0h1m7 0h1m8 0h1m50 0h1m40 0h1m17 0h1m6 0h1m3 0h1M0 38.5m15 0h1m6 0h1m1 0h1m13 0h1m2 0h1m13 0h2m9 0h1m9 0h1m1 0h1m21 0h1m17 0h1m3 0h1m16 0h1m29 0h1m13 0h1m20 0h1m12 0h1m4 0h1m2 0h2m1 0h1m4 0h1m6 0h1m26 0h1m11 0h1m2 0h1m25 0h1m13 0h1m23 0h1m1 0h1m29 0h1m1 0h1m34 0h1m1 0h1m15 0h1m6 0h1m8 0h1M0 39.5m0 0h1m5 0h1m9 0h1m37 0h1m13 0h1m11 0h1m1 0h1m22 0h1m1 0h1m20 0h1m4 0h2m18 0h1m6 0h1m3 0h1m5 0h1m17 0h2m30 0h1m2 0h1m35 0h1m35 0h1m5 0h1m24 0h1m7 0h1m18 0h2m21 0h1m1 0h1m19 0h1m23 0h1m1 0h1m10 0h1M0 40.5m6 0h1m16 0h1m29 0h1m32 0h2m8 0h1m2 0h1m12 0h1m9 0h1m18 0h1m9 0h1m22 0h1m8 0h1m14 0h1m9 0h1m17 0h1m25 0h1m19 0h1m11 0h1m11 0h1m16 0h1m32 0h1m9 0h1m15 0h1m46 0h1M0 41.5m0 0h1m19 0h1m32 0h1m11 0h1m18 0h1m7 0h2m33 0h1m6 0h2m3 0h1m6 0h1m48 0h1m9 0h1m7 0h1m32 0h1m1 0h1m5 0h3m12 0h1m7 0h1m25 0h1m10 0h1m3 0h2m38 0h1m15 0h1m21 0h1m33 0h1m18 0h1M0 42.5m2 0h1m15 0h1m1 0h1m20 0h1m19 0h1m11 0h1m1 0h1m3 0h1m9 0h1m17 0h1m10 0h1m3 0h1m4 0h1m2 0h1m7 0h1m3 0h1m2 0h2m1 0h1m21 0h1m7 0h1m2 0h1m24 0h1m30 0h1m6 0h1m1 0h1m3 0h1m19 0h2m5 0h1m2 0h1m17 0h1m7 0h2m1 0h1m1 0h2m4 0h1m5 0h1m18 0h1m3 0h1m23 0h2m10 0h1m4 0h1m12 0h1m41 0h1m6 0h1M0 43.5m35 0h1m11 0h1m38 0h1m6 0h1m5 0h1m6 0h1m6 0h1m29 0h1m39 0h1m4 0h1m18 0h1m28 0h1m20 0h1m4 0h1m3 0h1m2 0h1m10 0h1m4 0h2m44 0h1m55 0h1m7 0h2m3 0h1m18 0h1m1 0h1m8 0h2m6 0h2m1 0h2m2 0h1M0 44.5m4 0h1m2 0h1m55 0h1m7 0h1m17 0h1m1 0h1m2 0h2m2 0h1m14 0h1m2 0h1m7 0h1m23 0h1m22 0h1m2 0h1m9 0h1m45 0h1m16 0h2m13 0h1m8 0h1m62 0h1m30 0h1m4 0h1m19 0h1m3 0h1m1 0h1m11 0h1m16 0h1M0 45.5m7 0h1m36 0h1m11 0h1m5 0h1m5 0h1m15 0h1m14 0h1m56 0h1m12 0h1m32 0h1m54 0h1m4 0h1m7 0h1m1 0h1m31 0h1m15 0h1m11 0h1m15 0h1m9 0h1m6 0h1m1 0h1m23 0h1m2 0h1m28 0h1m1 0h1m13 0h1m7 0h1M0 46.5m0 0h1m9 0h1m15 0h1m3 0h2m1 0h1m27 0h1m20 0h1m16 0h2m1 0h1m12 0h1m12 0h1m1 0h1m17 0h1m4 0h1m30 0h1m9 0h1m7 0h2m4 0h2m1 0h1m46 0h1m5 0h1m3 0h1m3 0h1m41 0h1m23 0h1m28 0h1m10 0h1m24 0h1m21 0h1M0 47.5m2 0h1m28 0h1m11 0h1m1 0h1m4 0h1m15 0h1m26 0h1m16 0h1m4 0h1m5 0h1m14 0h1m2 0h2m26 0h1m18 0h1m18 0h1m2 0h1m10 0h2m72 0h1m37 0h1m11 0h1m26 0h1m9 0h1m1 0h1m24 0h1m1 0h1m1 0h1m3 0h1m24 0h1m7 0h1M0 48.5m25 0h1m17 0h1m11 0h2m44 0h1m93 0h1m1 0h1m8 0h1m11 0h1m1 0h1m23 0h1m9 0h1m2 0h1m16 0h3m1 0h1m16 0h4m4 0h1m10 0h1m4 0h1m6 0h1m35 0h1m20 0h2m9 0h1m2 0h1m11 0h2m7 0h1m2 0h1m17 0h1M0 49.5m42 0h1m9 0h1m11 0h1m7 0h1m18 0h1m6 0h1m73 0h1m40 0h1m13 0h1m42 0h1m2 0h1m21 0h1m3 0h1m21 0h2m14 0h1m2 0h1m6 0h1m3 0h1m6 0h1m6 0h1m7 0h1m13 0h1m2 0h1m2 0h1m11 0h1m3 0h3m14 0h1m7 0h3M0 50.5m10 0h1m40 0h3m2 0h1m8 0h1m43 0h1m4 0h1m4 0h1m36 0h2m2 0h1m25 0h1m7 0h1m31 0h1m18 0h1m15 0h1m33 0h1m6 0h1m1 0h1m2 0h1m2 0h1m2 0h1m18 0h1m3 0h1m5 0h2m2 0h1m1 0h1m8 0h1m3 0h1m3 0h1m2 0h1m7 0h3m7 0h1m4 0h1m5 0h1m14 0h1m11 0h1m1 0h1m2 0h1m3 0h1M0 51.5m6 0h1m23 0h1m1 0h2m1 0h1m2 0h1m9 0h1m1 0h1m1 0h1m4 0h1m5 0h1m22 0h1m17 0h1m1 0h1m23 0h1m6 0h1m13 0h1m125 0h1m16 0h1m8 0h1m5 0h1m3 0h2m6 0h1m1 0h2m12 0h1m1 0h1m2 0h1m6 0h1m3 0h1m2 0h1m3 0h1m23 0h1m10 0h1m6 0h1m16 0h1m12 0h1M0 52.5m6 0h1m1 0h1m23 0h1m15 0h2m5 0h1m19 0h1m8 0h1m1 0h1m7 0h1m1 0h1m3 0h2m28 0h1m3 0h1m14 0h1m7 0h1m17 0h1m4 0h1m13 0h1m1 0h1m33 0h1m2 0h1m10 0h1m41 0h1m1 0h1m15 0h1m4 0h1m1 0h1m22 0h2m18 0h2m2 0h3m5 0h1M0 53.5m18 0h1m12 0h1m12 0h3m24 0h1m1 0h2m25 0h2m6 0h1m4 0h1m2 0h1m6 0h1m6 0h1m3 0h1m65 0h1m65 0h1m12 0h2m10 0h1m22 0h1m3 0h1m22 0h2m2 0h1m3 0h4m5 0h1m5 0h1m12 0h1m23 0h1m10 0h1m1 0h1m8 0h1M0 54.5m21 0h1m10 0h1m9 0h1m14 0h1m6 0h1m21 0h1m3 0h1m8 0h3m99 0h1m18 0h1m7 0h1m13 0h1m20 0h1m4 0h1m2 0h1m14 0h3m9 0h1m17 0h1m15 0h1m6 0h1m7 0h1m14 0h1m4 0h2m11 0h1m3 0h1m22 0h1m16 0h1m17 0h1M0 55.5m21 0h1m25 0h1m3 0h1m3 0h1m1 0h1m2 0h1m4 0h1m34 0h1m3 0h1m21 0h1m35 0h1m11 0h1m9 0h1m14 0h1m39 0h1m20 0h1m12 0h1m7 0h1m5 0h1m24 0h2m12 0h1m12 0h1m20 0h1m14 0h1m1 0h2m48 0h1m17 0h1M0 56.5m2 0h1m7 0h1m16 0h1m17 0h1m14 0h1m43 0h1m4 0h1m12 0h1m13 0h1m83 0h1m21 0h1m20 0h1m28 0h1m1 0h3m7 0h1m17 0h1m3 0h1m14 0h1m12 0h1m26 0h2m7 0h1M0 57.5m29 0h1m3 0h1m14 0h1m3 0h1m10 0h1m13 0h1m11 0h1m18 0h1m8 0h1m121 0h1m15 0h1m9 0h1m3 0h1m7 0h2m8 0h2m6 0h1m6 0h1m1 0h1m26 0h1m20 0h1m2 0h1m2 0h1m17 0h1m2 0h1m10 0h1m3 0h1m25 0h1m9 0h1M0 58.5m1 0h1m4 0h1m11 0h1m19 0h1m30 0h1m63 0h1m11 0h1m38 0h1m25 0h1m86 0h1m5 0h1m4 0h1m26 0h1m3 0h1m27 0h1m5 0h1m32 0h1m5 0h1m13 0h1m1 0h1m9 0h2M0 59.5m22 0h1m11 0h1m41 0h1m31 0h1m43 0h1m64 0h1m3 0h1m5 0h1m19 0h1m11 0h1m2 0h1m6 0h2m11 0h1m5 0h1m5 0h1m3 0h1m38 0h1m11 0h1m6 0h1m7 0h1m10 0h1m4 0h1m2 0h2m6 0h1m16 0h2m7 0h1m23 0h1m3 0h1m2 0h1M0 60.5m21 0h1m18 0h2m7 0h1m9 0h1m17 0h1m1 0h1m4 0h1m38 0h1m21 0h1m33 0h1m38 0h1m26 0h1m24 0h1m7 0h1m25 0h1m6 0h1m4 0h1m7 0h1m3 0h1m11 0h1m2 0h1m16 0h1m1 0h1m14 0h1m49 0h2m10 0h2m4 0h1m2 0h2M0 61.5m3 0h1m25 0h1m51 0h1m7 0h1m19 0h1m24 0h1m2 0h1m4 0h1m29 0h1m23 0h1m16 0h1m29 0h1m4 0h1m9 0h1m4 0h1m2 0h1m13 0h1m16 0h1m7 0h1m1 0h1m2 0h1m5 0h1m8 0h2m6 0h1m1 0h1m15 0h1m3 0h1m1 0h1m2 0h1m1 0h1m3 0h1m16 0h1m11 0h1m14 0h1m38 0h1M0 62.5m10 0h1m9 0h1m10 0h2m4 0h1m13 0h1m2 0h1m2 0h1m3 0h1m9 0h1m25 0h1m7 0h1m45 0h1m12 0h2m18 0h1m23 0h1m49 0h1m33 0h1m2 0h1m10 0h1m7 0h1m6 0h1m2 0h1m18 0h2m4 0h1m12 0h1m33 0h1m13 0h1m34 0h1M0 63.5m6 0h1m7 0h1m6 0h1m16 0h1m1 0h1m1 0h1m8 0h1m1 0h1m3 0h1m27 0h1m16 0h1m5 0h1m33 0h1m38 0h2m54 0h1m8 0h1m21 0h1m3 0h2m3 0h1m38 0h1m18 0h1m11 0h1m12 0h1m1 0h1m5 0h1m4 0h1m5 0h1m3 0h1m29 0h1m13 0h1m10 0h1m8 0h1M0 64.5m0 0h1m18 0h1m9 0h1m4 0h1m13 0h1m2 0h1m12 0h1m14 0h1m32 0h1m71 0h1m5 0h1m19 0h1m6 0h1m37 0h1m4 0h1m4 0h1m6 0h1m15 0h1m9 0h1m16 0h1m2 0h1m9 0h1m5 0h1m14 0h1m1 0h2m3 0h1m11 0h1m4 0h1m10 0h1m1 0h1M0 65.5m1 0h1m4 0h1m1 0h1m24 0h1m8 0h1m3 0h1m1 0h1m48 0h1m9 0h2m40 0h1m14 0h1m6 0h1m20 0h2m7 0h1m18 0h1m9 0h1m30 0h2m7 0h1m1 0h1m9 0h1m15 0h1m1 0h2m17 0h1m7 0h1m29 0h1m1 0h1m7 0h1m1 0h1m5 0h1m6 0h1m33 0h1m13 0h1m6 0h2m1 0h1m6 0h1M0 66.5m39 0h1m24 0h1m1 0h1m37 0h1m4 0h2m9 0h1m8 0h1m87 0h1m14 0h1m23 0h1m17 0h1m4 0h1m10 0h1m6 0h1m23 0h1m5 0h1m7 0h1m5 0h1m2 0h1m3 0h1m11 0h1m3 0h1m5 0h1m15 0h1m9 0h1m4 0h1m25 0h1m13 0h1m1 0h1m1 0h1M0 67.5m9 0h1m9 0h1m3 0h1m6 0h1m11 0h1m3 0h2m9 0h1m17 0h1m4 0h1m60 0h1m6 0h1m15 0h1m14 0h1m17 0h1m16 0h1m39 0h1m6 0h1m13 0h1m16 0h1m10 0h1m18 0h1m6 0h1m2 0h1m10 0h1m9 0h1m15 0h1m1 0h1m14 0h1m5 0h1m18 0h1m1 0h1M0 68.5m35 0h2m9 0h2m7 0h1m6 0h1m6 0h2m23 0h1m4 0h1m4 0h1m2 0h1m15 0h1m23 0h1m19 0h1m25 0h1m2 0h1m16 0h1m1 0h1m2 0h1m26 0h1m6 0h1m17 0h1m3 0h1m14 0h1m2 0h1m8 0h1m6 0h1m36 0h1m17 0h1m25 0h1m12 0h1m22 0h1m23 0h1M0 69.5m22 0h1m9 0h1m1 0h2m6 0h1m2 0h1m7 0h1m11 0h1m9 0h1m12 0h1m13 0h1m69 0h1m7 0h1m16 0h1m1 0h2m35 0h1m9 0h1m15 0h1m16 0h1m4 0h1m1 0h1m13 0h1m6 0h1m6 0h1m10 0h1m3 0h2m9 0h1m16 0h1m3 0h1m6 0h1m24 0h1m13 0h1M0 70.5m57 0h1m29 0h1m17 0h1m24 0h1m21 0h1m46 0h1m39 0h1m3 0h1m43 0h1m12 0h1m29 0h1m16 0h3m1 0h1m3 0h2m18 0h1m9 0h1m7 0h1m11 0h1m3 0h1m23 0h1m4 0h1M0 71.5m27 0h1m1 0h3m1 0h1m9 0h1m18 0h1m5 0h1m1 0h1m5 0h1m20 0h1m5 0h1m18 0h1m22 0h2m34 0h1m19 0h1m1 0h1m11 0h1m33 0h1m5 0h1m9 0h1m2 0h1m1 0h2m17 0h1m1 0h1m10 0h1m5 0h1m31 0h2m2 0h1m7 0h2m4 0h1m19 0h1m12 0h1m2 0h1m6 0h1m9 0h2m5 0h1m2 0h1m14 0h3M0 72.5m9 0h1m12 0h1m11 0h1m16 0h1m37 0h1m8 0h1m69 0h1m29 0h1m15 0h1m28 0h1m47 0h1m17 0h1m8 0h1m4 0h1m2 0h1m12 0h2m8 0h1m1 0h1m3 0h1m11 0h1m3 0h1m4 0h1m7 0h1m19 0h1m42 0h1M0 73.5m8 0h1m7 0h1m2 0h1m4 0h1m8 0h1m3 0h1m10 0h1m2 0h2m6 0h1m4 0h1m14 0h1m3 0h2m4 0h1m1 0h1m10 0h1m7 0h1m8 0h1m7 0h1m50 0h1m11 0h1m7 0h1m11 0h1m3 0h1m8 0h1m41 0h1m17 0h1m8 0h1m11 0h1m5 0h1m11 0h1m5 0h1m9 0h1m23 0h1m15 0h1m19 0h1m10 0h1m15 0h1m12 0h1M0 74.5m38 0h2m21 0h1m3 0h1m4 0h1m14 0h1m7 0h1m15 0h1m39 0h1m14 0h1m32 0h1m20 0h2m38 0h1m5 0h1m28 0h1m2 0h1m1 0h1m13 0h2m1 0h1m1 0h1m2 0h1m4 0h1m4 0h2m9 0h1m2 0h1m11 0h1m1 0h1m3 0h1m36 0h1m20 0h1m12 0h1m11 0h1M0 75.5m41 0h1m72 0h1m6 0h1m2 0h1m20 0h1m97 0h1m22 0h2m85 0h1m5 0h1m37 0h1m2 0h1m28 0h1M0 76.5m20 0h1m10 0h1m11 0h1m7 0h1m2 0h1m29 0h1m15 0h2m27 0h1m4 0h1m13 0h1m52 0h1m17 0h1m7 0h1m7 0h1m22 0h2m12 0h1m19 0h1m5 0h1m2 0h1m6 0h2m6 0h1m24 0h1m11 0h1m1 0h1m6 0h1m4 0h1m11 0h1m22 0h2m20 0h1m23 0h1M0 77.5m32 0h2m19 0h2m4 0h1m22 0h1m2 0h1m5 0h1m11 0h1m1 0h1m1 0h1m50 0h1m5 0h1m5 0h1m13 0h1m11 0h2m10 0h1m1 0h1m9 0h2m36 0h1m1 0h1m14 0h1m5 0h1m5 0h1m4 0h2m57 0h1m5 0h1m3 0h1m13 0h1m22 0h1m9 0h1m12 0h1m2 0h1m16 0h1M0 78.5m7 0h1m8 0h1m21 0h1m7 0h1m16 0h3m2 0h1m3 0h1m10 0h1m18 0h1m1 0h1m36 0h1m3 0h1m11 0h1m2 0h1m59 0h1m23 0h1m6 0h1m3 0h1m2 0h1m11 0h1m4 0h1m11 0h1m1 0h1m30 0h1m16 0h1m7 0h1m10 0h1m16 0h1m13 0h1m14 0h1m7 0h1M0 79.5m5 0h1m13 0h1m13 0h1m2 0h1m62 0h2m78 0h1m6 0h1m63 0h1m8 0h1m16 0h1m20 0h1m35 0h1m46 0h1m6 0h1m4 0h1m22 0h1m10 0h1m2 0h1m11 0h1m7 0h1M0 80.5m24 0h1m8 0h1m16 0h1m7 0h1m24 0h1m12 0h1m31 0h1m23 0h1m11 0h1m8 0h2m18 0h1m37 0h1m31 0h1m14 0h1m13 0h2m8 0h1m15 0h1m13 0h1m2 0h1m13 0h1m2 0h1m11 0h1m36 0h1m15 0h2m4 0h1M0 81.5m2 0h1m10 0h1m25 0h1m25 0h1m32 0h1m18 0h1m16 0h1m7 0h2m16 0h1m29 0h1m3 0h1m57 0h1m14 0h1m5 0h2m19 0h1m1 0h1m12 0h1m3 0h1m2 0h1m3 0h1m2 0h1m10 0h1m15 0h1m5 0h1m9 0h1m45 0h1m24 0h1M0 82.5m6 0h1m3 0h1m10 0h1m5 0h1m5 0h1m18 0h1m19 0h1m14 0h1m7 0h1m13 0h2m34 0h1m8 0h1m5 0h1m29 0h1m4 0h1m7 0h1m15 0h2m17 0h1m1 0h1m39 0h1m49 0h1m48 0h2m3 0h1m4 0h1m4 0h1m15 0h1m18 0h1m12 0h1M0 83.5m5 0h1m2 0h1m26 0h2m2 0h1m1 0h1m3 0h1m14 0h1m7 0h1m35 0h1m94 0h1m41 0h1m9 0h1m37 0h1m1 0h1m1 0h1m2 0h1m11 0h1m29 0h1m1 0h1m2 0h1m3 0h1m16 0h2m1 0h1m12 0h1m4 0h1m14 0h1m43 0h1M0 84.5m10 0h2m14 0h1m3 0h1m13 0h1m3 0h1m6 0h1m1 0h1m1 0h1m1 0h1m20 0h1m9 0h1m7 0h1m13 0h1m11 0h1m10 0h1m6 0h1m10 0h1m44 0h1m32 0h1m30 0h1m30 0h1m9 0h1m2 0h1m4 0h1m20 0h1m14 0h1m17 0h1m7 0h2m7 0h1m11 0h1m10 0h1m7 0h1m3 0h2m20 0h1m5 0h1M0 85.5m6 0h2m27 0h1m6 0h1m13 0h1m4 0h1m21 0h1m17 0h2m15 0h1m10 0h1m11 0h1m14 0h1m21 0h1m22 0h1m43 0h1m8 0h1m59 0h1m10 0h1m10 0h1m15 0h1m28 0h1m23 0h1m26 0h1m8 0h1M0 86.5m4 0h1m24 0h1m11 0h1m2 0h1m10 0h1m18 0h1m6 0h1m12 0h1m85 0h1m23 0h1m2 0h1m37 0h1m49 0h1m11 0h1m38 0h1m3 0h1m6 0h1m11 0h1m4 0h1m6 0h1m24 0h1m8 0h3m11 0h1m2 0h1m1 0h1m8 0h1m1 0h2M0 87.5m1 0h1m6 0h1m14 0h1m5 0h2m2 0h3m20 0h1m18 0h1m4 0h1m1 0h1m11 0h1m12 0h1m29 0h1m15 0h1m48 0h1m85 0h1m8 0h1m6 0h1m4 0h1m9 0h2m1 0h2m11 0h1m1 0h1m3 0h1m2 0h1m8 0h1m2 0h2m1 0h1m34 0h1m1 0h1m20 0h1m24 0h1M0 88.5m5 0h1m20 0h1m29 0h1m15 0h1m20 0h1m5 0h1m17 0h1m10 0h1m5 0h1m6 0h1m15 0h2m2 0h1m5 0h1m4 0h1m92 0h1m4 0h1m7 0h1m12 0h1m12 0h1m2 0h2m4 0h1m2 0h1m13 0h1m2 0h1m1 0h2m10 0h1m8 0h1m6 0h1m85 0h1M0 89.5m29 0h1m1 0h1m5 0h1m27 0h1m6 0h1m7 0h1m8 0h1m16 0h1m2 0h1m7 0h1m14 0h1m3 0h2m13 0h1m34 0h1m9 0h1m44 0h1m6 0h1m12 0h1m3 0h2m24 0h2m5 0h1m3 0h1m16 0h1m4 0h1m5 0h1m1 0h2m3 0h1m10 0h1m6 0h1m4 0h1m31 0h1m15 0h1m14 0h1m25 0h1M0 90.5m14 0h1m16 0h1m3 0h1m28 0h2m8 0h1m29 0h1m38 0h2m2 0h1m42 0h1m5 0h1m7 0h1m5 0h2m17 0h1m14 0h1m1 0h1m52 0h1m6 0h1m13 0h1m2 0h1m7 0h1m6 0h1m18 0h1m12 0h1m16 0h1m20 0h1m9 0h1m10 0h1m18 0h1M0 91.5m32 0h1m10 0h1m4 0h1m6 0h1m8 0h1m26 0h2m6 0h1m3 0h1m40 0h1m21 0h1m13 0h1m10 0h1m8 0h1m19 0h1m8 0h1m6 0h1m39 0h1m5 0h1m4 0h1m1 0h1m17 0h2m30 0h1m22 0h1m15 0h1m66 0h1M0 92.5m10 0h1m28 0h1m4 0h1m19 0h1m10 0h1m7 0h1m2 0h1m16 0h1m142 0h1m32 0h1m7 0h1m13 0h1m7 0h1m4 0h1m10 0h1m13 0h1m24 0h1m10 0h1m5 0h1m7 0h2m9 0h1m29 0h1m16 0h2M0 93.5m10 0h1m14 0h1m8 0h2m3 0h1m26 0h1m3 0h1m8 0h1m7 0h1m9 0h1m45 0h1m62 0h1m8 0h1m3 0h1m76 0h1m3 0h1m3 0h1m4 0h1m6 0h2m17 0h1m8 0h1m16 0h1m2 0h1m8 0h2m2 0h1m9 0h1m8 0h1m18 0h1m9 0h1m8 0h1M0 94.5m5 0h1m41 0h1m1 0h1m29 0h1m17 0h1m1 0h1m30 0h1m25 0h1m45 0h1m14 0h1m26 0h1m5 0h1m35 0h1m17 0h1m7 0h1m7 0h1m2 0h1m15 0h1m9 0h3m5 0h3m12 0h1m1 0h1m2 0h1m16 0h1m20 0h1m33 0h1M0 95.5m16 0h1m10 0h1m19 0h1m2 0h1m8 0h1m4 0h4m11 0h1m4 0h1m10 0h1m14 0h1m12 0h1m27 0h1m16 0h1m17 0h1m11 0h1m25 0h1m17 0h2m17 0h1m9 0h1m3 0h1m8 0h1m7 0h1m10 0h1m6 0h1m6 0h1m1 0h1m23 0h1m7 0h2m37 0h1m35 0h1M0 96.5m18 0h1m1 0h1m1 0h1m21 0h2m10 0h1m3 0h1m8 0h1m6 0h1m76 0h2m21 0h1m30 0h1m12 0h1m7 0h1m84 0h1m1 0h1m7 0h1m8 0h1m18 0h1m12 0h1m2 0h1m35 0h1m16 0h2m8 0h1m6 0h1m9 0h1M0 97.5m0 0h1m13 0h1m20 0h1m21 0h1m7 0h1m7 0h1m94 0h1m39 0h1m18 0h1m18 0h2m4 0h1m21 0h2m3 0h1m2 0h1m5 0h1m20 0h2m11 0h1m24 0h1m2 0h1m24 0h1m9 0h1m9 0h1m2 0h1M0 98.5m23 0h1m12 0h2m2 0h1m11 0h1m3 0h1m2 0h1m2 0h2m27 0h1m5 0h1m1 0h2m3 0h1m5 0h1m2 0h1m9 0h1m28 0h1m11 0h1m26 0h1m8 0h1m10 0h1m2 0h1m23 0h1m38 0h1m10 0h1m3 0h1m9 0h1m3 0h1m1 0h1m1 0h1m6 0h1m26 0h1m26 0h1m2 0h1m1 0h1m17 0h1m8 0h1m18 0h1m16 0h1M0 99.5m7 0h1m45 0h1m6 0h1m13 0h1m6 0h1m56 0h1m2 0h1m25 0h1m2 0h1m31 0h1m40 0h1m56 0h1m11 0h1m4 0h1m16 0h1m16 0h2m11 0h1m5 0h1m1 0h3m1 0h1m5 0h1m3 0h1m12 0h1m7 0h1m15 0h2m6 0h1m5 0h1M0 100.5m25 0h1m1 0h1m1 0h1m4 0h2m2 0h1m2 0h1m2 0h3m12 0h1m18 0h1m39 0h1m20 0h1m1 0h1m24 0h1m111 0h1m5 0h1m6 0h2m15 0h1m13 0h1m7 0h1m11 0h2m12 0h1m2 0h1m15 0h1m20 0h1M0 101.5m0 0h1m26 0h1m9 0h1m4 0h1m77 0h1m52 0h1m69 0h1m4 0h1m20 0h1m12 0h1m10 0h3m3 0h1m4 0h1m5 0h1m3 0h1m7 0h1m5 0h1m4 0h1m3 0h1m28 0h1m45 0h1m4 0h1m6 0h1m6 0h1m2 0h1M0 102.5m9 0h1m27 0h1m13 0h1m2 0h1m3 0h1m28 0h1m8 0h1m4 0h1m51 0h1m25 0h1m49 0h1m7 0h1m4 0h1m5 0h1m34 0h1m5 0h1m3 0h1m1 0h1m7 0h1m2 0h1m8 0h1m2 0h1m5 0h2m19 0h1m6 0h1m15 0h1m11 0h1m12 0h1m3 0h1m32 0h1m1 0h1m2 0h1m11 0h1M0 103.5m20 0h2m32 0h1m9 0h1m3 0h1m9 0h1m20 0h1m3 0h2m60 0h1m29 0h1m11 0h1m10 0h1m74 0h1m6 0h2m5 0h1m3 0h1m6 0h1m20 0h1m17 0h1m1 0h1m16 0h1m7 0h1m12 0h1m9 0h1m10 0h1m9 0h1m2 0h2M0 104.5m2 0h1m27 0h1m104 0h1m1 0h1m33 0h1m62 0h1m19 0h1m44 0h1m10 0h1m8 0h1m13 0h1m3 0h1m2 0h1m8 0h1m14 0h1m21 0h2m37 0h1M0 105.5m42 0h1m12 0h1m10 0h2m24 0h1m6 0h2m24 0h1m38 0h1m55 0h1m16 0h2m16 0h1m23 0h1m2 0h1m11 0h1m1 0h1m4 0h1m4 0h1m21 0h1m17 0h1m3 0h1m2 0h1m2 0h1m6 0h1m16 0h1m5 0h1m3 0h1m2 0h1m3 0h1m24 0h1m5 0h1M0 106.5m51 0h1m12 0h1m21 0h1m46 0h1m14 0h1m24 0h1m25 0h1m1 0h1m21 0h1m3 0h1m4 0h1m7 0h1m8 0h1m13 0h1m8 0h1m30 0h2m8 0h1m23 0h1m2 0h1m7 0h1m4 0h1m1 0h1m3 0h1m12 0h1m51 0h1m3 0h1m12 0h1M0 107.5m39 0h1m17 0h1m16 0h1m30 0h1m45 0h1m15 0h1m4 0h1m10 0h1m3 0h1m24 0h1m4 0h1m6 0h1m1 0h1m20 0h1m33 0h1m3 0h1m9 0h1m12 0h1m21 0h1m3 0h1m5 0h1m3 0h1m1 0h1m48 0h1m22 0h1m2 0h1m26 0h1M0 108.5m2 0h1m12 0h1m15 0h1m9 0h1m14 0h1m47 0h1m16 0h1m5 0h1m25 0h1m9 0h1m5 0h1m26 0h1m2 0h1m6 0h1m6 0h1m18 0h1m23 0h1m16 0h1m14 0h1m9 0h1m12 0h1m4 0h1m6 0h1m2 0h1m12 0h1m22 0h1m2 0h1m22 0h1m2 0h1m8 0h1m11 0h1m27 0h1m6 0h1M0 109.5m11 0h1m33 0h1m5 0h1m10 0h1m2 0h1m7 0h1m16 0h1m23 0h1m30 0h1m37 0h1m63 0h1m63 0h1m3 0h1m27 0h1m19 0h1m7 0h1m31 0h1m1 0h1m10 0h1m15 0h1M0 110.5m24 0h1m25 0h1m14 0h1m32 0h1m16 0h1m3 0h1m4 0h1m1 0h1m8 0h1m85 0h1m72 0h1m1 0h1m2 0h1m6 0h1m3 0h1m10 0h1m4 0h1m6 0h1m7 0h1m44 0h1m16 0h1m11 0h1m26 0h1M0 111.5m24 0h1m5 0h1m9 0h1m49 0h3m16 0h1m21 0h1m22 0h1m30 0h1m37 0h1m15 0h1m5 0h1m52 0h1m2 0h2m21 0h2m15 0h1m8 0h3m21 0h1m2 0h1m3 0h1m10 0h1m8 0h1m4 0h1m7 0h1m6 0h1M0 112.5m10 0h1m6 0h1m13 0h1m8 0h1m13 0h1m6 0h1m35 0h1m12 0h1m22 0h1m23 0h1m40 0h1m4 0h1m13 0h1m1 0h2m1 0h1m21 0h1m11 0h1m18 0h1m7 0h1m1 0h1m4 0h2m1 0h1m12 0h1m33 0h1m4 0h2m44 0h1m24 0h1m13 0h1m17 0h1M0 113.5m2 0h1m10 0h1m5 0h1m5 0h1m3 0h2m2 0h1m15 0h1m15 0h1m24 0h1m15 0h1m2 0h1m34 0h1m48 0h1m4 0h1m15 0h1m5 0h2m20 0h1m4 0h1m3 0h2m6 0h1m17 0h1m8 0h1m14 0h2m6 0h1m15 0h1m2 0h1m10 0h1m2 0h2m12 0h1m2 0h1m13 0h1m1 0h1m41 0h1m20 0h1M0 114.5m19 0h2m20 0h1m11 0h1m6 0h1m3 0h2m2 0h1m7 0h1m8 0h2m15 0h1m23 0h1m34 0h1m15 0h1m55 0h1m2 0h1m25 0h1m1 0h1m29 0h3m7 0h1m4 0h1m37 0h1m7 0h1m2 0h1m1 0h1m42 0h1m9 0h1m4 0h1m3 0h1m9 0h1m6 0h1M0 115.5m3 0h2m31 0h1m4 0h3m30 0h1m5 0h1m8 0h1m21 0h1m18 0h1m84 0h2m3 0h1m25 0h1m4 0h2m20 0h1m14 0h1m5 0h1m4 0h1m24 0h1m1 0h1m6 0h1m2 0h1m30 0h1m8 0h2m17 0h1m32 0h1m9 0h1m5 0h1m1 0h1m2 0h1M0 116.5m3 0h1m2 0h1m6 0h1m40 0h1m14 0h1m21 0h2m4 0h1m8 0h1m60 0h1m5 0h1m22 0h2m9 0h1m10 0h1m3 0h2m2 0h1m12 0h1m52 0h1m4 0h2m12 0h1m1 0h1m18 0h1m4 0h1m3 0h1m2 0h1m14 0h3m1 0h1m28 0h1m10 0h1m4 0h2m12 0h1M0 117.5m71 0h1m34 0h1m90 0h1m50 0h1m1 0h1m40 0h1m6 0h1m2 0h1m4 0h1m37 0h1m12 0h1m13 0h1m8 0h1m1 0h1m5 0h1m8 0h1m4 0h1m22 0h1m15 0h1M0 118.5m18 0h1m6 0h1m25 0h1m22 0h1m3 0h1m11 0h1m5 0h1m16 0h1m12 0h1m75 0h1m5 0h1m20 0h1m25 0h1m7 0h1m13 0h2m9 0h1m3 0h1m15 0h2m6 0h1m6 0h1m12 0h1m6 0h1m5 0h1m13 0h1m11 0h1m12 0h1m6 0h1m21 0h1m5 0h1m14 0h1m3 0h2M0 119.5m16 0h1m12 0h1m11 0h1m9 0h1m3 0h1m1 0h1m49 0h1m38 0h1m44 0h1m16 0h2m8 0h1m1 0h1m24 0h1m9 0h1m6 0h1m20 0h1m10 0h2m8 0h1m3 0h1m15 0h1m5 0h1m22 0h1m2 0h2m15 0h1m2 0h1m15 0h2m2 0h1m18 0h2m13 0h1m3 0h1m14 0h1M0 120.5m1 0h1m30 0h2m31 0h1m8 0h1m36 0h1m21 0h1m7 0h1m8 0h1m9 0h1m9 0h1m2 0h1m6 0h1m19 0h1m1 0h1m3 0h1m3 0h2m6 0h1m1 0h1m8 0h1m32 0h1m34 0h1m7 0h1m1 0h1m7 0h1m4 0h1m2 0h2m4 0h1m4 0h1m5 0h3m25 0h1m36 0h1m3 0h1m16 0h1M0 121.5m29 0h2m41 0h1m5 0h1m8 0h1m27 0h1m5 0h1m12 0h1m18 0h1m7 0h1m18 0h1m10 0h1m1 0h1m26 0h1m4 0h1m19 0h1m6 0h1m14 0h1m6 0h1m53 0h2m14 0h1m7 0h1m9 0h1m13 0h1m6 0h1m15 0h1m9 0h1m2 0h1m19 0h1m9 0h1m1 0h1M0 122.5m5 0h1m7 0h2m10 0h1m3 0h1m2 0h1m2 0h1m1 0h1m6 0h1m17 0h1m31 0h1m18 0h1m26 0h1m15 0h1m32 0h1m1 0h1m14 0h1m1 0h1m3 0h1m31 0h1m5 0h1m16 0h1m14 0h1m24 0h1m1 0h1m2 0h1m1 0h2m4 0h1m2 0h1m8 0h1m14 0h1m14 0h1m22 0h1m13 0h1m6 0h1m8 0h1m3 0h1m12 0h1M0 123.5m1 0h1m1 0h1m24 0h1m6 0h1m28 0h1m6 0h1m13 0h1m5 0h1m24 0h1m8 0h1m22 0h1m4 0h1m16 0h1m1 0h2m47 0h1m43 0h2m14 0h1m10 0h1m9 0h1m30 0h1m2 0h1m9 0h1m21 0h1m8 0h1m34 0h1m26 0h1m5 0h1M0 124.5m13 0h1m4 0h1m3 0h2m29 0h1m12 0h1m5 0h1m6 0h1m27 0h1m15 0h1m30 0h1m15 0h1m15 0h1m29 0h1m33 0h1m20 0h1m20 0h1m3 0h1m12 0h1m21 0h1m4 0h1m2 0h1m2 0h1m9 0h2m3 0h1m10 0h1m8 0h1m1 0h1m8 0h1m16 0h2m4 0h1m5 0h2m1 0h1m3 0h1m4 0h1m4 0h1m1 0h1m5 0h1M0 125.5m25 0h1m13 0h1m12 0h1m9 0h2m57 0h1m37 0h1m7 0h1m6 0h1m13 0h1m7 0h1m7 0h1m14 0h1m6 0h2m7 0h1m19 0h1m4 0h1m30 0h1m13 0h1m12 0h1m6 0h1m30 0h1m29 0h1m18 0h1m34 0h2M0 126.5m0 0h1m37 0h1m25 0h1m29 0h1m2 0h1m44 0h1m2 0h1m47 0h2m22 0h1m57 0h1m5 0h3m6 0h1m8 0h1m15 0h1m1 0h1m6 0h1m2 0h1m20 0h1m7 0h1m3 0h1m12 0h1m11 0h1m16 0h1m6 0h1m23 0h1m10 0h1m1 0h1M0 127.5m39 0h1m5 0h1m5 0h1m53 0h1m7 0h1m18 0h1m19 0h1m8 0h1m26 0h1m11 0h1m2 0h1m10 0h1m22 0h1m2 0h1m17 0h1m13 0h1m22 0h1m41 0h1m13 0h1m3 0h1m5 0h1m33 0h1m33 0h1m7 0h1M0 128.5m42 0h1m23 0h1m13 0h1m2 0h1m23 0h1m27 0h1m26 0h1m6 0h1m15 0h1m2 0h1m2 0h1m25 0h1m22 0h1m25 0h2m1 0h1m27 0h2m10 0h1m16 0h1m21 0h2m11 0h1m20 0h1m2 0h1m2 0h1m12 0h1m7 0h1m10 0h1m12 0h1m4 0h1M0 129.5m0 0h1m49 0h1m14 0h2m10 0h2m21 0h2m3 0h1m18 0h1m19 0h1m7 0h1m3 0h1m37 0h1m49 0h1m8 0h1m8 0h1m16 0h2m6 0h1m4 0h1m4 0h1m24 0h1m19 0h1m9 0h1m20 0h1m8 0h1m23 0h1m34 0h1m4 0h1M0 130.5m34 0h1m7 0h1m6 0h1m1 0h1m10 0h1m9 0h1m7 0h1m8 0h1m15 0h1m18 0h1m15 0h2m27 0h1m3 0h1m19 0h1m6 0h1m1 0h1m16 0h1m31 0h1m14 0h1m28 0h1m12 0h1m29 0h1m2 0h1m13 0h1m6 0h1m23 0h1m16 0h1m1 0h1m2 0h3m12 0h1m2 0h2m4 0h1m1 0h1m3 0h1m5 0h1m2 0h1M0 131.5m16 0h1m19 0h1m10 0h1m2 0h1m21 0h2m4 0h1m17 0h1m1 0h1m3 0h1m32 0h1m4 0h1m6 0h1m32 0h2m14 0h1m12 0h1m6 0h1m1 0h1m2 0h2m12 0h1m5 0h1m4 0h1m12 0h1m6 0h1m15 0h1m7 0h1m3 0h1m14 0h1m1 0h1m16 0h1m18 0h1m5 0h1m5 0h1m13 0h1m4 0h1m6 0h1m3 0h1m7 0h1m3 0h1m7 0h2m5 0h1m20 0h1m2 0h1M0 132.5m5 0h2m1 0h1m3 0h1m21 0h1m1 0h1m15 0h1m37 0h1m3 0h1m5 0h1m1 0h1m33 0h1m8 0h1m23 0h1m14 0h1m14 0h1m12 0h1m21 0h1m9 0h1m46 0h1m17 0h1m3 0h1m12 0h2m11 0h1m11 0h1m11 0h1m19 0h1m19 0h1m1 0h1m5 0h1M0 133.5m10 0h1m45 0h1m13 0h1m3 0h1m24 0h1m8 0h1m5 0h1m6 0h1m14 0h1m7 0h1m2 0h1m4 0h1m21 0h1m7 0h1m45 0h1m2 0h1m19 0h1m6 0h1m8 0h1m23 0h1m5 0h1m12 0h1m29 0h1m15 0h1m5 0h2m20 0h1m40 0h1m2 0h1m8 0h1m2 0h1m6 0h1M0 134.5m27 0h1m2 0h1m13 0h1m3 0h1m5 0h1m2 0h1m16 0h1m6 0h1m25 0h1m17 0h1m2 0h1m1 0h1m16 0h1m3 0h1m12 0h1m10 0h1m2 0h1m2 0h1m28 0h1m8 0h1m4 0h1m47 0h1m7 0h1m5 0h1m5 0h1m4 0h1m12 0h1m10 0h1m34 0h1m5 0h2m41 0h1m31 0h1m11 0h1M0 135.5m5 0h2m1 0h2m11 0h1m18 0h1m38 0h1m2 0h1m12 0h1m3 0h1m9 0h1m7 0h1m4 0h1m3 0h1m26 0h1m13 0h1m4 0h1m7 0h1m1 0h1m1 0h1m4 0h1m3 0h1m20 0h1m17 0h1m30 0h1m2 0h1m7 0h1m2 0h1m64 0h1m7 0h1m12 0h1m6 0h1m25 0h1m19 0h1m15 0h1m2 0h1m5 0h1M0 136.5m4 0h1m10 0h1m6 0h1m28 0h1m5 0h1m3 0h1m16 0h1m20 0h1m3 0h1m12 0h2m6 0h1m8 0h1m3 0h1m9 0h1m3 0h1m50 0h1m11 0h1m30 0h1m11 0h1m5 0h1m22 0h1m15 0h1m13 0h1m24 0h2m18 0h1m17 0h2m6 0h1m30 0h1m18 0h2M0 137.5m18 0h1m1 0h1m11 0h2m7 0h1m9 0h1m4 0h3m6 0h1m4 0h1m8 0h1m20 0h1m18 0h1m2 0h1m26 0h1m34 0h2m29 0h1m40 0h1m26 0h1m21 0h3m7 0h1m21 0h1m3 0h1m5 0h1m7 0h1m1 0h1m1 0h1m9 0h1m3 0h1m5 0h1m7 0h2m6 0h2m27 0h1m6 0h1m4 0h1m5 0h1m1 0h1M0 138.5m12 0h1m11 0h1m4 0h1m9 0h1m14 0h1m21 0h2m5 0h1m13 0h1m8 0h1m19 0h1m21 0h1m18 0h1m33 0h1m11 0h1m1 0h1m8 0h1m55 0h1m12 0h1m17 0h1m11 0h1m5 0h1m34 0h2m21 0h1m1 0h1m8 0h1m6 0h1m32 0h1m1 0h1M0 139.5m10 0h1m53 0h1m28 0h1m26 0h1m24 0h1m3 0h1m6 0h1m1 0h1m22 0h1m20 0h1m36 0h1m42 0h1m7 0h1m14 0h2m3 0h1m5 0h1m1 0h1m10 0h1m13 0h1m3 0h1m1 0h1m11 0h1m2 0h1m3 0h1m2 0h1m32 0h1m23 0h1M0 140.5m16 0h1m17 0h2m15 0h1m1 0h1m11 0h1m12 0h1m3 0h1m15 0h1m4 0h1m34 0h1m14 0h1m10 0h1m23 0h1m9 0h1m29 0h1m4 0h1m21 0h1m16 0h1m14 0h1m9 0h1m6 0h1m2 0h1m1 0h1m24 0h1m1 0h1m2 0h1m1 0h1m14 0h1m20 0h1m20 0h1m3 0h1m11 0h1m7 0h1m9 0h1m2 0h1m1 0h1m1 0h1M0 141.5m85 0h1m20 0h1m8 0h1m11 0h1m13 0h1m41 0h1m31 0h1m6 0h1m23 0h1m14 0h1m26 0h1m10 0h2m4 0h1m3 0h1m19 0h1m7 0h1m6 0h1m6 0h1m7 0h1m17 0h2m1 0h1m6 0h1m30 0h1m11 0h1m3 0h1M0 142.5m1 0h1m15 0h1m9 0h1m14 0h1m63 0h2m1 0h1m9 0h1m2 0h1m22 0h2m97 0h1m11 0h1m7 0h1m11 0h1m23 0h1m8 0h1m30 0h1m2 0h2m19 0h1m9 0h1m4 0h1m15 0h2m46 0h1M0 143.5m8 0h1m8 0h1m19 0h1m19 0h1m3 0h1m12 0h1m16 0h1m4 0h1m9 0h1m8 0h1m6 0h1m6 0h2m12 0h1m8 0h1m15 0h2m12 0h1m3 0h1m10 0h1m10 0h1m16 0h1m9 0h1m1 0h1m1 0h1m4 0h1m6 0h1m21 0h1m4 0h1m15 0h1m2 0h1m5 0h1m1 0h1m9 0h1m7 0h2m22 0h1m2 0h1m32 0h1m2 0h1m20 0h2m15 0h1m4 0h1m11 0h1M0 144.5m41 0h2m15 0h1m11 0h1m5 0h1m32 0h1m16 0h1m18 0h1m9 0h1m18 0h1m1 0h1m68 0h1m12 0h1m34 0h1m15 0h1m24 0h1m11 0h1m21 0h1m1 0h1m7 0h2m3 0h1m5 0h1m10 0h1m30 0h1m3 0h1m1 0h1m1 0h1M0 145.5m20 0h1m7 0h1m27 0h1m1 0h1m3 0h2m10 0h1m57 0h1m3 0h1m5 0h1m4 0h1m14 0h2m13 0h1m1 0h2m41 0h1m11 0h1m5 0h2m10 0h1m3 0h1m16 0h1m1 0h1m4 0h1m25 0h1m1 0h1m2 0h1m6 0h1m14 0h1m6 0h1m9 0h1m15 0h2m5 0h1m12 0h1m18 0h1m18 0h1m10 0h1M0 146.5m18 0h1m6 0h1m15 0h2m44 0h1m14 0h1m13 0h1m4 0h1m8 0h2m3 0h1m21 0h1m8 0h1m22 0h1m36 0h1m37 0h1m22 0h1m10 0h1m14 0h1m4 0h1m5 0h1m8 0h1m6 0h1m12 0h1m48 0h1m35 0h2M0 147.5m56 0h1m19 0h1m59 0h1m3 0h1m13 0h1m45 0h1m11 0h1m2 0h1m26 0h1m6 0h1m8 0h1m30 0h1m4 0h1m15 0h1m2 0h1m9 0h1m1 0h1m5 0h1m11 0h2m17 0h1m1 0h1m4 0h1m4 0h2m5 0h1m13 0h1m11 0h1m12 0h1m1 0h3M0 148.5m10 0h1m9 0h1m3 0h1m10 0h1m2 0h1m11 0h1m1 0h1m12 0h1m35 0h1m2 0h2m4 0h1m16 0h1m26 0h1m2 0h1m35 0h1m16 0h1m11 0h1m1 0h1m11 0h1m24 0h1m1 0h1m6 0h1m8 0h1m9 0h1m3 0h1m42 0h1m5 0h1m17 0h2m13 0h1M0 149.5m14 0h1m1 0h2m11 0h1m17 0h2m49 0h1m2 0h1m11 0h1m4 0h1m1 0h1m16 0h1m4 0h1m12 0h1m30 0h1m55 0h1m2 0h1m20 0h1m1 0h1m7 0h1m16 0h1m14 0h1m3 0h2m4 0h1m2 0h1m1 0h1m11 0h1m17 0h1m16 0h1m16 0h1m13 0h1m19 0h1m8 0h1m8 0h1"/><path stroke="#ff0000" d="M0 0.5m16 0h2m46 0h1m1 0h1m1 0h1m4 0h6m3 0h1m2 0h1m2 0h1m6 0h3m2 0h1m5 0h1m2 0h1m2 0h2m1 0h3m3 0h2m13 0h1m4 0h2m6 0h3m2 0h1m29 0h1m3 0h6m1 0h2m1 0h1m1 0h2m2 0h1m5 0h5m1 0h2m3 0h1m3 0h3m1 0h4m1 0h3m24 0h1m1 0h1m3 0h1m4 0h8m5 0h2m9 0h1m4 0h1m2 0h1m2 0h1m1 0h2m13 0h1m2 0h1m2 0h3m4 0h2m18 0h1m1 0h6m1 0h5m1 0h2m14 0h2m3 0h1m8 0h1m5 0h1m1 0h1m1 0h1m2 0h2m4 0h3m1 0h1m2 0h1m14 0h1m3 0h1m1 0h1M0 1.5m0 0h1m5 0h1m25 0h1m51 0h1m13 0h1m4 0h1m22 0h2m3 0h3m6 0h2m4 0h1m2 0h1m33 0h1m2 0h3m3 0h2m4 0h1m2 0h3m2 0h5m2 0h1m5 0h4m1 0h3m6 0h1m1 0h1m9 0h1m13 0h1m13 0h3m1 0h6m9 0h1m3 0h1m20 0h1m31 0h1m6 0h2m3 0h1m1 0h2m1 0h1m1 0h3m2 0h3m7 0h1m22 0h1m1 0h5m4 0h1m1 0h1m28 0h1M0 2.5m17 0h2m12 0h1m2 0h2m11 0h2m2 0h1m2 0h3m4 0h1m1 0h2m13 0h1m4 0h1m4 0h1m1 0h3m1 0h2m2 0h2m5 0h1m2 0h1m1 0h2m7 0h1m16 0h2m10 0h2m37 0h2m1 0h5m3 0h1m12 0h2m3 0h1m4 0h1m1 0h1m2 0h5m1 0h1m1 0h2m10 0h1m1 0h5m5 0h2m9 0h2m1 0h1m4 0h5m4 0h2m6 0h1m3 0h2m4 0h1m17 0h1m14 0h2m6 0h1m2 0h2m9 0h5m1 0h9m4 0h3m5 0h1m1 0h1m4 0h2m9 0h4m6 0h4m1 0h2m16 0h1m1 0h1m3 0h1m4 0h2M0 3.5m0 0h1m3 0h3m12 0h1m9 0h5m7 0h2m17 0h1m4 0h1m29 0h1m4 0h1m3 0h3m2 0h1m2 0h3m8 0h1m1 0h3m2 0h2m4 0h1m12 0h1m22 0h1m11 0h1m1 0h1m1 0h1m13 0h1m2 0h7m1 0h3m1 0h6m4 0h1m5 0h3m1 0h4m4 0h1m1 0h1m10 0h1m2 0h1m1 0h1m13 0h2m24 0h1m44 0h1m3 0h1m1 0h1m4 0h5m3 0h3m1 0h1m1 0h4m6 0h1m5 0h1m3 0h1m11 0h3m4 0h2m5 0h2m2 0h2m6 0h1m3 0h1m3 0h1m2 0h2M0 4.5m9 0h1m13 0h1m17 0h1m7 0h1m1 0h3m6 0h2m1 0h2m1 0h1m3 0h2m10 0h3m4 0h1m1 0h2m11 0h1m3 0h1m3 0h5m7 0h1m1 0h1m5 0h2m2 0h1m6 0h3m2 0h2m13 0h3m1 0h1m15 0h1m3 0h18m6 0h4m1 0h3m1 0h3m2 0h2m2 0h1m1 0h3m2 0h1m1 0h1m4 0h1m12 0h1m4 0h1m9 0h1m5 0h4m1 0h1m7 0h1m4 0h2m4 0h1m8 0h1m1 0h2m7 0h3m10 0h1m1 0h2m2 0h1m7 0h2m1 0h1m6 0h7m1 0h3m7 0h3m1 0h3m3 0h9m6 0h1m4 0h3m3 0h1m1 0h1m1 0h8m3 0h5m2 0h2m3 0h3m6 0h1M0 5.5m24 0h1m49 0h1m11 0h1m51 0h2m2 0h1m17 0h1m1 0h1m18 0h1m1 0h4m4 0h1m3 0h1m5 0h1m1 0h2m1 0h1m3 0h9m2 0h1m5 0h2m5 0h2m1 0h9m7 0h2m22 0h1m1 0h1m1 0h1m19 0h2m20 0h1m13 0h1m21 0h1m1 0h3m5 0h1m2 0h4m24 0h1m1 0h1m2 0h1m6 0h1m1 0h2m20 0h3m3 0h2m2 0h2M0 6.5m4 0h2m33 0h1m1 0h2m27 0h1m4 0h1m2 0h6m8 0h1m6 0h3m6 0h1m1 0h1m2 0h1m9 0h1m1 0h2m1 0h1m4 0h2m2 0h7m6 0h1m1 0h4m5 0h1m1 0h2m9 0h2m7 0h1m2 0h2m1 0h1m2 0h11m4 0h5m2 0h1m1 0h1m1 0h14m1 0h4m6 0h2m1 0h2m1 0h2m3 0h1m1 0h1m9 0h1m1 0h1m1 0h1m2 0h3m1 0h1m8 0h1m7 0h1m1 0h1m10 0h1m9 0h6m2 0h1m4 0h1m1 0h1m5 0h2m3 0h4m2 0h2m1 0h2m5 0h5m1 0h4m2 0h4m2 0h7m1 0h1m6 0h3m2 0h2m2 0h1m4 0h4m3 0h1m1 0h7m1 0h3m1 0h5m1 0h1m3 0h2m6 0h1M0 7.5m27 0h1m15 0h1m36 0h1m3 0h2m7 0h4m1 0h1m1 0h1m10 0h4m13 0h2m3 0h3m2 0h1m1 0h1m5 0h2m5 0h1m11 0h1m12 0h1m10 0h6m3 0h1m1 0h2m4 0h8m1 0h1m4 0h2m5 0h2m1 0h9m5 0h1m4 0h4m7 0h1m2 0h6m1 0h1m8 0h1m14 0h1m36 0h1m6 0h1m1 0h1m1 0h1m1 0h1m7 0h1m6 0h9m5 0h1m5 0h3m3 0h1m6 0h6m10 0h4m1 0h3m1 0h1m4 0h1m5 0h1m5 0h1m7 0h2m4 0h2M0 8.5m1 0h3m1 0h1m3 0h1m1 0h1m23 0h1m3 0h2m1 0h1m3 0h1m3 0h1m3 0h1m1 0h1m1 0h1m6 0h2m1 0h4m2 0h2m3 0h1m2 0h5m1 0h1m2 0h2m2 0h1m2 0h2m4 0h4m8 0h1m1 0h4m1 0h9m2 0h6m2 0h1m1 0h2m3 0h1m6 0h2m4 0h1m3 0h1m11 0h2m8 0h3m3 0h3m3 0h6m1 0h4m3 0h12m1 0h7m1 0h2m6 0h1m1 0h2m5 0h1m5 0h4m1 0h2m1 0h4m1 0h1m1 0h1m3 0h3m3 0h1m16 0h3m12 0h1m2 0h2m1 0h1m17 0h3m4 0h1m4 0h1m7 0h5m1 0h2m2 0h5m4 0h1m1 0h2m2 0h2m3 0h5m4 0h3m1 0h2m2 0h3m2 0h2m9 0h6m1 0h2m1 0h1m2 0h1m1 0h1m2 0h1m1 0h2m4 0h1M0 9.5m5 0h1m2 0h1m2 0h2m17 0h1m3 0h1m25 0h1m1 0h1m2 0h1m12 0h1m1 0h4m9 0h2m1 0h1m8 0h3m2 0h4m2 0h1m6 0h1m2 0h1m10 0h1m1 0h1m2 0h1m4 0h1m29 0h1m9 0h1m1 0h1m3 0h1m2 0h2m5 0h1m2 0h5m2 0h3m1 0h1m5 0h2m4 0h1m2 0h3m1 0h1m4 0h1m1 0h2m14 0h4m1 0h5m3 0h1m4 0h4m16 0h1m8 0h2m6 0h1m11 0h1m1 0h1m5 0h1m3 0h1m7 0h1m5 0h1m6 0h5m4 0h1m2 0h1m24 0h1m15 0h1m6 0h5m13 0h1m2 0h1m7 0h1M0 10.5m3 0h1m6 0h1m2 0h1m14 0h1m3 0h1m20 0h1m1 0h2m13 0h1m11 0h4m1 0h1m6 0h1m2 0h1m4 0h1m1 0h1m27 0h2m1 0h1m6 0h1m3 0h4m18 0h1m24 0h1m2 0h7m5 0h2m3 0h1m4 0h3m1 0h2m3 0h1m1 0h1m1 0h6m2 0h1m10 0h1m5 0h1m2 0h1m19 0h1m17 0h1m29 0h1m3 0h2m8 0h1m17 0h5m14 0h6m5 0h1m5 0h1m7 0h1m21 0h1m9 0h1M0 11.5m6 0h1m6 0h1m26 0h1m5 0h1m7 0h1m11 0h1m4 0h1m1 0h2m1 0h1m3 0h1m3 0h2m9 0h1m1 0h2m5 0h1m3 0h2m15 0h1m1 0h3m3 0h7m6 0h1m12 0h1m3 0h1m1 0h1m4 0h1m15 0h3m3 0h8m1 0h3m1 0h7m2 0h4m1 0h7m1 0h2m1 0h4m5 0h1m3 0h1m11 0h1m15 0h5m1 0h1m1 0h1m1 0h1m14 0h1m9 0h1m2 0h1m11 0h2m2 0h2m32 0h5m1 0h1m6 0h1m1 0h2m1 0h1m2 0h1m3 0h2m1 0h1m5 0h3m4 0h1m10 0h2m1 0h1m24 0h3m1 0h1M0 12.5m6 0h2m4 0h1m1 0h7m4 0h1m1 0h3m4 0h1m6 0h1m11 0h2m7 0h1m7 0h4m1 0h1m1 0h2m2 0h1m5 0h3m2 0h1m2 0h1m14 0h3m1 0h3m3 0h1m2 0h2m2 0h4m2 0h7m1 0h2m18 0h1m3 0h2m1 0h1m5 0h3m6 0h1m2 0h7m1 0h5m1 0h9m3 0h3m2 0h2m3 0h7m1 0h7m3 0h3m1 0h6m4 0h1m2 0h1m5 0h1m1 0h2m2 0h2m3 0h1m2 0h5m3 0h2m3 0h1m1 0h2m8 0h1m1 0h1m3 0h1m1 0h1m3 0h1m4 0h1m2 0h2m2 0h1m5 0h1m3 0h2m2 0h1m3 0h2m13 0h5m10 0h2m2 0h1m1 0h2m5 0h2m9 0h1m4 0h6m4 0h1m1 0h1m1 0h1m13 0h1m9 0h2M0 13.5m7 0h3m3 0h1m1 0h2m5 0h1m7 0h1m23 0h2m2 0h1m1 0h2m1 0h2m4 0h1m3 0h3m1 0h1m15 0h2m4 0h2m8 0h1m2 0h2m1 0h1m4 0h5m1 0h3m5 0h1m5 0h1m1 0h1m1 0h5m7 0h5m26 0h4m4 0h3m2 0h3m1 0h5m5 0h1m8 0h1m1 0h1m1 0h1m1 0h5m1 0h1m4 0h1m2 0h1m2 0h1m8 0h2m2 0h2m3 0h4m2 0h1m6 0h5m5 0h1m1 0h2m13 0h1m2 0h1m1 0h2m18 0h1m4 0h2m1 0h1m13 0h1m7 0h2m2 0h1m3 0h1m4 0h1m19 0h4m20 0h3m1 0h2m3 0h1m19 0h2M0 14.5m2 0h2m15 0h1m15 0h1m12 0h3m14 0h2m4 0h2m2 0h1m3 0h1m6 0h2m6 0h1m1 0h3m1 0h2m1 0h1m2 0h1m4 0h1m1 0h2m5 0h8m1 0h1m12 0h2m2 0h1m1 0h1m4 0h1m6 0h2m1 0h1m2 0h2m9 0h1m10 0h8m1 0h8m1 0h4m1 0h3m6 0h1m3 0h11m1 0h1m4 0h2m16 0h2m2 0h1m1 0h1m5 0h1m2 0h2m2 0h3m16 0h2m1 0h1m17 0h1m11 0h1m2 0h1m3 0h1m8 0h1m10 0h1m1 0h6m1 0h1m1 0h3m5 0h1m7 0h1m17 0h1m10 0h1m8 0h2m3 0h2m2 0h1m2 0h2m7 0h1M0 15.5m0 0h1m4 0h1m14 0h1m8 0h1m12 0h1m1 0h1m2 0h1m2 0h3m4 0h1m18 0h3m9 0h2m1 0h1m2 0h1m3 0h1m5 0h1m6 0h1m1 0h1m4 0h2m4 0h1m6 0h1m2 0h2m1 0h1m7 0h1m1 0h1m2 0h1m13 0h2m3 0h1m3 0h1m9 0h2m3 0h1m1 0h1m1 0h1m1 0h1m1 0h6m2 0h7m3 0h1m1 0h7m2 0h1m3 0h5m1 0h4m6 0h1m17 0h2m12 0h3m2 0h1m2 0h1m6 0h2m7 0h4m47 0h1m5 0h4m1 0h1m8 0h1m9 0h1m1 0h1m2 0h1m2 0h1m13 0h1m2 0h2m7 0h2m2 0h3m13 0h2M0 16.5m9 0h1m1 0h1m15 0h1m8 0h3m2 0h1m1 0h1m12 0h1m13 0h1m12 0h4m1 0h1m5 0h1m7 0h2m2 0h1m6 0h2m1 0h1m8 0h1m1 0h2m3 0h7m6 0h1m2 0h3m1 0h6m9 0h1m24 0h5m1 0h1m1 0h5m1 0h1m2 0h1m2 0h5m1 0h1m2 0h1m2 0h3m1 0h3m2 0h4m7 0h2m5 0h1m1 0h1m9 0h1m1 0h2m5 0h1m5 0h1m2 0h4m25 0h1m2 0h3m11 0h2m2 0h1m12 0h5m10 0h4m6 0h2m2 0h2m8 0h1m3 0h1m4 0h2m6 0h2m3 0h1m2 0h1m2 0h3m16 0h1m10 0h4m3 0h2M0 17.5m6 0h1m7 0h1m41 0h1m2 0h3m8 0h3m11 0h1m10 0h2m12 0h4m2 0h1m2 0h1m3 0h7m5 0h1m6 0h2m2 0h3m2 0h1m5 0h1m4 0h1m1 0h1m1 0h2m2 0h2m10 0h1m6 0h6m1 0h2m1 0h19m3 0h1m1 0h12m2 0h1m3 0h3m29 0h1m4 0h1m3 0h2m2 0h1m4 0h1m9 0h2m4 0h2m16 0h1m5 0h1m3 0h2m5 0h1m17 0h5m6 0h1m22 0h1m4 0h1m4 0h1m6 0h2m13 0h3m9 0h2m4 0h1M0 18.5m8 0h2m14 0h1m7 0h3m8 0h2m2 0h1m4 0h1m11 0h2m3 0h2m1 0h1m8 0h2m1 0h1m1 0h1m4 0h1m1 0h3m1 0h1m4 0h1m4 0h1m2 0h1m4 0h2m1 0h1m1 0h6m2 0h2m5 0h1m1 0h1m1 0h2m6 0h1m2 0h1m3 0h2m5 0h2m2 0h1m1 0h2m2 0h4m11 0h3m1 0h7m1 0h1m2 0h6m1 0h1m1 0h2m4 0h9m1 0h3m1 0h7m8 0h1m5 0h1m5 0h1m6 0h2m4 0h1m1 0h2m3 0h5m9 0h1m1 0h2m23 0h2m6 0h2m5 0h1m1 0h1m1 0h1m21 0h5m1 0h1m1 0h2m11 0h2m1 0h2m3 0h3m3 0h1m14 0h2m1 0h2m1 0h1m1 0h4m3 0h1m3 0h1m3 0h1M0 19.5m10 0h1m11 0h1m49 0h3m8 0h2m7 0h2m1 0h1m12 0h2m2 0h1m8 0h5m1 0h3m1 0h1m4 0h3m1 0h5m3 0h3m22 0h1m10 0h1m4 0h1m2 0h8m5 0h5m2 0h6m1 0h1m1 0h3m3 0h1m3 0h1m2 0h3m1 0h1m8 0h1m13 0h6m1 0h4m6 0h1m2 0h2m8 0h1m5 0h1m9 0h1m14 0h1m1 0h2m19 0h1m3 0h1m1 0h1m1 0h1m3 0h1m1 0h5m12 0h1m5 0h4m2 0h1m24 0h1m3 0h2m9 0h2m4 0h2m8 0h1m4 0h1M0 20.5m0 0h1m1 0h1m10 0h1m13 0h1m3 0h1m5 0h1m4 0h1m1 0h1m12 0h3m8 0h4m1 0h2m1 0h2m1 0h2m2 0h2m1 0h1m11 0h1m10 0h2m8 0h1m2 0h2m3 0h1m1 0h5m3 0h2m1 0h3m4 0h1m9 0h1m1 0h1m3 0h1m11 0h1m8 0h20m2 0h2m1 0h2m1 0h3m2 0h5m1 0h11m1 0h2m5 0h1m1 0h1m3 0h1m12 0h2m4 0h2m3 0h3m3 0h7m22 0h3m1 0h2m3 0h1m15 0h2m10 0h1m14 0h10m7 0h1m5 0h2m6 0h3m4 0h1m7 0h5m2 0h1m3 0h1m3 0h1m21 0h1M0 21.5m6 0h1m7 0h1m17 0h1m30 0h1m6 0h1m2 0h1m6 0h1m10 0h2m4 0h1m5 0h1m3 0h2m6 0h1m6 0h5m3 0h2m1 0h1m2 0h2m8 0h2m23 0h2m14 0h1m5 0h1m8 0h5m13 0h1m1 0h5m4 0h3m15 0h1m3 0h1m8 0h2m15 0h2m12 0h1m1 0h2m4 0h2m2 0h1m13 0h1m6 0h1m4 0h2m1 0h1m24 0h2m46 0h2m10 0h1m3 0h1m5 0h2M0 22.5m50 0h1m5 0h1m9 0h1m8 0h2m5 0h1m1 0h1m13 0h3m13 0h1m8 0h1m3 0h1m14 0h1m16 0h1m27 0h2m6 0h1m4 0h1m2 0h4m10 0h1m2 0h2m4 0h2m3 0h1m2 0h4m43 0h1m10 0h1m2 0h1m38 0h1m17 0h1m6 0h5m12 0h1m31 0h1m2 0h1m32 0h1M0 23.5m2 0h1m3 0h1m2 0h1m5 0h1m24 0h2m1 0h3m18 0h1m6 0h4m5 0h1m2 0h1m1 0h3m2 0h2m2 0h2m21 0h1m10 0h3m10 0h1m5 0h4m31 0h3m2 0h6m1 0h1m5 0h3m3 0h2m3 0h1m3 0h2m5 0h14m10 0h1m3 0h2m2 0h1m8 0h1m1 0h3m9 0h3m1 0h3m2 0h1m4 0h1m2 0h1m2 0h1m19 0h1m3 0h1m1 0h1m5 0h1m9 0h1m1 0h1m17 0h5m2 0h1m2 0h1m10 0h2m6 0h2m3 0h1m1 0h1m10 0h1m15 0h1m9 0h1m14 0h2M0 24.5m6 0h1m49 0h2m3 0h1m9 0h1m4 0h1m1 0h1m2 0h2m11 0h1m26 0h1m1 0h1m7 0h4m1 0h1m1 0h2m2 0h2m2 0h3m1 0h1m12 0h1m6 0h1m1 0h1m1 0h1m17 0h1m2 0h1m3 0h3m1 0h2m1 0h6m1 0h2m3 0h5m2 0h7m2 0h1m8 0h2m9 0h1m8 0h1m13 0h2m24 0h1m13 0h1m4 0h1m3 0h1m1 0h1m10 0h2m8 0h1m8 0h6m2 0h2m6 0h2m3 0h3m11 0h1m7 0h1m23 0h1m3 0h2M0 25.5m27 0h1m1 0h1m9 0h1m16 0h1m10 0h2m19 0h1m2 0h3m8 0h2m7 0h1m3 0h1m5 0h1m1 0h4m1 0h4m1 0h4m2 0h2m3 0h2m1 0h1m1 0h1m15 0h1m4 0h1m18 0h1m1 0h6m1 0h3m2 0h6m1 0h2m1 0h2m6 0h1m9 0h1m2 0h3m2 0h1m1 0h2m15 0h1m1 0h1m2 0h4m1 0h1m8 0h4m5 0h1m5 0h1m5 0h1m2 0h2m3 0h1m1 0h1m13 0h3m27 0h1m3 0h1m2 0h5m2 0h2m25 0h1m25 0h1m6 0h1m3 0h1m1 0h2m4 0h1m2 0h3m1 0h1M0 26.5m3 0h2m14 0h1m4 0h2m3 0h2m11 0h2m4 0h1m1 0h1m11 0h1m1 0h3m3 0h1m9 0h1m6 0h2m7 0h1m18 0h2m6 0h2m3 0h2m3 0h6m3 0h6m1 0h3m12 0h1m2 0h1m4 0h1m14 0h3m5 0h2m2 0h2m1 0h2m2 0h1m3 0h1m2 0h4m3 0h7m2 0h1m1 0h1m1 0h2m4 0h2m4 0h1m27 0h2m1 0h1m1 0h3m3 0h1m16 0h2m1 0h1m5 0h2m15 0h2m6 0h1m1 0h1m15 0h1m5 0h5m9 0h1m31 0h3m18 0h2M0 27.5m18 0h2m2 0h1m14 0h1m17 0h1m4 0h1m5 0h1m3 0h1m3 0h1m6 0h2m4 0h1m7 0h1m27 0h3m2 0h1m1 0h1m2 0h3m3 0h5m2 0h1m9 0h2m10 0h1m5 0h1m7 0h1m9 0h2m7 0h2m4 0h1m1 0h5m1 0h4m1 0h1m5 0h11m2 0h4m2 0h1m3 0h1m6 0h1m4 0h2m1 0h1m10 0h1m1 0h3m2 0h1m3 0h1m3 0h1m7 0h1m2 0h1m10 0h3m8 0h1m20 0h1m14 0h6m10 0h1m4 0h2m3 0h1m1 0h1m4 0h3m12 0h2m6 0h1m1 0h2m17 0h1m5 0h1m1 0h3m1 0h1M0 28.5m16 0h1m18 0h1m2 0h1m3 0h1m8 0h1m1 0h1m20 0h1m2 0h3m1 0h1m6 0h1m11 0h1m2 0h1m3 0h3m5 0h1m7 0h1m3 0h1m1 0h1m4 0h1m7 0h1m3 0h1m12 0h1m4 0h1m3 0h1m5 0h1m1 0h1m3 0h1m6 0h3m1 0h1m2 0h5m4 0h3m5 0h1m1 0h1m6 0h3m3 0h1m1 0h1m3 0h3m1 0h4m1 0h1m11 0h1m7 0h1m12 0h1m2 0h3m1 0h1m2 0h2m10 0h1m8 0h1m16 0h1m10 0h2m9 0h2m13 0h5m14 0h1m21 0h2m26 0h2m7 0h2m1 0h1m7 0h1M0 29.5m10 0h1m48 0h3m13 0h1m18 0h1m2 0h1m3 0h3m2 0h1m16 0h1m9 0h3m3 0h1m1 0h2m3 0h3m37 0h1m1 0h2m3 0h1m1 0h1m4 0h9m1 0h8m5 0h1m5 0h4m2 0h1m5 0h1m7 0h1m16 0h1m12 0h1m4 0h1m12 0h2m1 0h1m1 0h3m2 0h1m24 0h1m5 0h1m20 0h2m1 0h2m29 0h1m23 0h1m5 0h1m24 0h1M0 30.5m5 0h1m29 0h1m9 0h1m9 0h1m6 0h1m6 0h3m6 0h1m8 0h1m15 0h2m1 0h1m15 0h6m3 0h14m1 0h1m2 0h2m7 0h1m1 0h1m17 0h1m7 0h4m1 0h14m5 0h1m1 0h15m1 0h2m4 0h1m2 0h2m3 0h10m10 0h3m8 0h1m3 0h2m2 0h1m10 0h1m2 0h2m13 0h1m10 0h1m16 0h2m1 0h1m17 0h5m2 0h1m7 0h2m4 0h1m17 0h1m16 0h1m12 0h1m4 0h3M0 31.5m0 0h2m9 0h1m1 0h1m10 0h2m2 0h2m2 0h1m10 0h2m2 0h1m2 0h1m6 0h5m1 0h1m4 0h2m10 0h1m3 0h5m6 0h1m1 0h2m3 0h2m1 0h8m3 0h3m4 0h2m2 0h1m1 0h4m1 0h3m1 0h2m2 0h1m1 0h3m1 0h5m3 0h2m1 0h2m5 0h1m2 0h2m1 0h1m1 0h1m2 0h2m3 0h4m1 0h1m1 0h8m2 0h1m2 0h2m1 0h2m2 0h6m1 0h1m1 0h3m2 0h5m2 0h5m4 0h5m1 0h1m1 0h1m1 0h1m13 0h1m2 0h1m1 0h2m1 0h7m1 0h2m2 0h1m1 0h1m5 0h2m4 0h2m11 0h1m4 0h4m4 0h1m1 0h1m8 0h1m14 0h2m1 0h2m3 0h1m1 0h6m6 0h1m1 0h7m2 0h2m3 0h2m4 0h8m7 0h2m5 0h2m6 0h1m5 0h1m13 0h7M0 32.5m18 0h2m22 0h1m6 0h1m7 0h1m2 0h2m6 0h1m10 0h1m7 0h5m1 0h1m1 0h1m1 0h1m3 0h1m4 0h1m2 0h2m4 0h1m2 0h4m2 0h1m2 0h2m4 0h2m2 0h1m3 0h1m3 0h1m3 0h1m9 0h1m23 0h1m4 0h1m1 0h3m3 0h1m2 0h2m2 0h2m2 0h15m2 0h4m2 0h1m1 0h1m1 0h5m24 0h4m5 0h3m2 0h5m28 0h1m6 0h2m7 0h1m4 0h2m2 0h1m5 0h1m4 0h1m1 0h2m9 0h5m7 0h2m2 0h1m22 0h3m2 0h1m5 0h1m23 0h4m5 0h1m2 0h1M0 33.5m3 0h2m5 0h1m5 0h1m18 0h2m4 0h5m3 0h1m14 0h1m8 0h1m5 0h1m5 0h4m4 0h1m18 0h1m2 0h2m8 0h1m1 0h1m2 0h1m2 0h6m1 0h3m4 0h1m1 0h1m1 0h2m1 0h1m13 0h1m14 0h1m3 0h4m2 0h1m1 0h2m2 0h2m1 0h3m4 0h1m1 0h1m1 0h19m7 0h1m1 0h1m1 0h3m15 0h3m4 0h1m8 0h2m5 0h1m2 0h1m4 0h1m13 0h2m3 0h1m10 0h1m17 0h1m7 0h2m2 0h4m3 0h6m9 0h2m5 0h2m1 0h1m8 0h1m6 0h2m2 0h2m7 0h1m1 0h1m15 0h1m1 0h1M0 34.5m5 0h2m8 0h2m4 0h2m1 0h7m4 0h1m3 0h1m1 0h1m1 0h3m1 0h1m1 0h1m6 0h4m2 0h1m5 0h1m1 0h3m4 0h4m1 0h1m4 0h3m5 0h1m3 0h3m5 0h2m2 0h2m2 0h3m1 0h1m3 0h4m1 0h12m4 0h6m11 0h2m7 0h1m1 0h1m1 0h2m1 0h2m3 0h1m3 0h7m4 0h18m2 0h2m3 0h2m1 0h1m1 0h10m5 0h1m2 0h2m2 0h1m1 0h1m1 0h1m1 0h1m1 0h3m1 0h2m6 0h1m1 0h1m2 0h1m3 0h4m2 0h1m1 0h2m1 0h1m2 0h2m2 0h1m6 0h2m6 0h2m2 0h1m3 0h5m3 0h1m1 0h2m6 0h2m13 0h1m6 0h3m1 0h1m6 0h2m9 0h1m2 0h3m2 0h1m3 0h2m4 0h2m6 0h1m9 0h1m1 0h2m1 0h1m4 0h2m3 0h3m1 0h2m4 0h4m1 0h1M0 35.5m0 0h1m6 0h1m3 0h1m1 0h1m6 0h1m1 0h1m8 0h1m17 0h1m1 0h1m6 0h1m5 0h4m14 0h2m3 0h2m5 0h2m4 0h4m1 0h1m14 0h4m2 0h1m1 0h10m6 0h1m1 0h2m1 0h2m3 0h1m10 0h1m1 0h6m1 0h1m1 0h1m3 0h1m9 0h33m1 0h3m2 0h3m1 0h2m5 0h2m3 0h1m1 0h1m7 0h1m3 0h2m2 0h1m1 0h3m1 0h1m8 0h4m8 0h5m6 0h1m5 0h3m2 0h1m8 0h1m2 0h1m1 0h2m7 0h1m1 0h1m8 0h3m3 0h1m6 0h5m1 0h3m1 0h1m11 0h1m1 0h2m20 0h1m1 0h1m5 0h1m3 0h1m1 0h2m14 0h8M0 36.5m3 0h1m14 0h1m4 0h1m4 0h1m4 0h1m5 0h1m3 0h1m6 0h1m24 0h1m1 0h3m2 0h1m1 0h1m1 0h3m2 0h1m16 0h3m2 0h1m3 0h1m3 0h5m1 0h4m3 0h3m9 0h3m1 0h1m12 0h3m22 0h5m2 0h1m3 0h3m1 0h8m1 0h3m2 0h3m3 0h1m2 0h6m1 0h4m2 0h1m1 0h2m6 0h1m5 0h1m1 0h1m1 0h1m5 0h1m1 0h2m4 0h2m1 0h7m5 0h1m14 0h2m12 0h1m13 0h4m24 0h7m11 0h1m2 0h3m3 0h1m1 0h1m4 0h1m10 0h3m2 0h3m2 0h2m3 0h2m3 0h1m1 0h2m1 0h3m3 0h2m1 0h2m2 0h2m4 0h1M0 37.5m2 0h1m10 0h2m12 0h1m10 0h2m25 0h1m25 0h1m2 0h2m2 0h2m6 0h1m1 0h1m5 0h4m3 0h1m1 0h1m1 0h4m5 0h2m14 0h2m8 0h1m1 0h1m25 0h8m2 0h1m10 0h1m1 0h2m1 0h3m1 0h3m1 0h2m4 0h1m5 0h3m5 0h2m14 0h1m2 0h1m2 0h1m12 0h4m30 0h1m4 0h1m35 0h1m3 0h2m1 0h5m9 0h3m1 0h1m1 0h2m5 0h1m12 0h1m3 0h3m18 0h3m2 0h3m1 0h3m5 0h3M0 38.5m2 0h2m19 0h1m7 0h1m17 0h3m7 0h1m4 0h2m11 0h1m1 0h4m4 0h2m3 0h1m1 0h5m2 0h8m7 0h2m5 0h1m1 0h2m2 0h2m3 0h2m1 0h1m5 0h1m1 0h3m1 0h2m33 0h2m1 0h3m1 0h5m1 0h2m3 0h2m5 0h3m1 0h1m2 0h1m1 0h3m10 0h2m2 0h1m5 0h1m5 0h1m1 0h1m1 0h1m1 0h3m8 0h1m1 0h1m11 0h1m8 0h1m7 0h1m18 0h1m5 0h1m10 0h2m4 0h2m11 0h1m3 0h4m1 0h5m1 0h1m4 0h1m4 0h2m19 0h1m7 0h4m1 0h4m6 0h4m21 0h1m3 0h1M0 39.5m5 0h1m2 0h3m23 0h2m9 0h1m1 0h1m1 0h2m1 0h2m6 0h3m1 0h1m6 0h1m5 0h1m5 0h1m3 0h1m6 0h1m3 0h5m9 0h1m5 0h1m2 0h2m1 0h3m4 0h2m5 0h3m3 0h1m14 0h1m15 0h1m4 0h1m1 0h3m1 0h2m2 0h1m2 0h5m2 0h3m1 0h4m1 0h3m1 0h5m1 0h1m2 0h1m1 0h6m1 0h2m7 0h1m19 0h2m4 0h2m1 0h2m3 0h1m17 0h1m1 0h1m29 0h1m7 0h2m6 0h1m18 0h9m5 0h1m41 0h1m2 0h1m9 0h4m1 0h1m14 0h2M0 40.5m29 0h1m24 0h1m4 0h2m1 0h1m3 0h1m1 0h1m7 0h2m2 0h1m9 0h3m2 0h1m9 0h4m1 0h2m7 0h1m5 0h1m3 0h4m4 0h3m5 0h6m1 0h2m3 0h4m15 0h1m2 0h1m1 0h1m5 0h3m7 0h1m1 0h5m5 0h9m3 0h3m1 0h1m2 0h4m1 0h4m30 0h3m1 0h1m1 0h10m2 0h1m8 0h1m3 0h1m5 0h1m36 0h3m15 0h5m25 0h1m10 0h1m1 0h1m7 0h1M0 41.5m22 0h2m10 0h2m2 0h2m19 0h4m9 0h1m1 0h1m3 0h1m3 0h1m2 0h1m1 0h1m7 0h2m8 0h2m3 0h1m4 0h1m5 0h4m3 0h3m5 0h3m8 0h1m34 0h1m1 0h1m2 0h5m1 0h2m2 0h1m2 0h5m1 0h1m2 0h2m3 0h3m5 0h1m4 0h2m2 0h6m6 0h3m3 0h2m2 0h1m24 0h5m11 0h1m17 0h2m1 0h1m20 0h1m7 0h1m14 0h5m8 0h1m27 0h1m25 0h2m1 0h1M0 42.5m3 0h4m6 0h2m7 0h1m6 0h3m10 0h1m7 0h2m1 0h3m3 0h2m2 0h1m1 0h1m4 0h1m3 0h1m2 0h2m2 0h1m1 0h5m2 0h1m6 0h1m2 0h3m3 0h1m1 0h3m10 0h1m3 0h1m2 0h2m1 0h7m9 0h1m4 0h1m21 0h1m13 0h1m1 0h1m1 0h3m2 0h7m1 0h1m1 0h4m1 0h12m5 0h3m1 0h4m1 0h4m18 0h2m10 0h4m2 0h2m1 0h2m1 0h1m2 0h1m9 0h1m3 0h1m17 0h4m10 0h5m1 0h2m2 0h1m1 0h1m1 0h1m11 0h7m3 0h1m4 0h2m3 0h3m9 0h1m12 0h1m2 0h6m4 0h1m2 0h1m4 0h1m4 0h1m9 0h1M0 43.5m12 0h2m2 0h1m24 0h2m5 0h1m1 0h1m20 0h2m1 0h1m3 0h1m18 0h2m1 0h4m6 0h3m1 0h3m4 0h2m4 0h3m1 0h3m3 0h1m2 0h3m2 0h2m3 0h1m9 0h1m12 0h3m15 0h6m3 0h1m3 0h3m2 0h2m1 0h5m1 0h1m7 0h2m3 0h5m4 0h1m2 0h2m4 0h5m4 0h1m5 0h1m3 0h1m10 0h1m1 0h2m9 0h1m1 0h1m2 0h1m8 0h2m17 0h1m3 0h1m14 0h6m9 0h5m6 0h1m6 0h1m1 0h1m8 0h2m8 0h1m5 0h1m19 0h3m6 0h1m12 0h1M0 44.5m8 0h1m4 0h2m9 0h1m22 0h1m3 0h1m4 0h2m10 0h1m5 0h1m1 0h3m5 0h1m2 0h2m8 0h1m1 0h2m5 0h1m3 0h1m12 0h1m3 0h1m1 0h9m1 0h1m5 0h1m3 0h4m5 0h1m1 0h1m1 0h1m7 0h1m1 0h2m11 0h1m1 0h1m1 0h4m2 0h10m1 0h10m2 0h6m2 0h1m4 0h1m3 0h2m5 0h4m17 0h1m4 0h1m6 0h1m1 0h3m2 0h1m5 0h1m9 0h1m2 0h2m3 0h2m18 0h2m7 0h1m1 0h2m2 0h1m8 0h1m6 0h1m1 0h5m2 0h2m14 0h1m1 0h1m4 0h1m2 0h2m6 0h2m1 0h2m4 0h1m7 0h4m10 0h2m1 0h1m8 0h1M0 45.5m6 0h1m29 0h3m9 0h3m3 0h2m10 0h2m20 0h3m1 0h1m3 0h3m1 0h1m6 0h1m10 0h9m8 0h3m8 0h1m11 0h2m7 0h1m17 0h1m1 0h2m2 0h6m1 0h4m3 0h1m3 0h23m1 0h9m9 0h1m6 0h1m6 0h1m2 0h2m1 0h1m4 0h1m1 0h4m14 0h1m6 0h1m6 0h2m21 0h1m6 0h2m15 0h1m1 0h3m1 0h2m3 0h2m9 0h1m19 0h1m11 0h3m10 0h1m1 0h1m2 0h1m8 0h1M0 46.5m24 0h1m7 0h1m15 0h1m2 0h2m23 0h1m6 0h1m1 0h1m6 0h1m1 0h4m7 0h2m1 0h5m1 0h1m11 0h2m3 0h3m10 0h4m2 0h1m9 0h1m7 0h2m2 0h1m2 0h2m12 0h1m2 0h1m2 0h4m1 0h2m2 0h3m3 0h1m4 0h6m2 0h8m1 0h3m1 0h1m2 0h1m15 0h1m6 0h2m1 0h2m3 0h1m7 0h2m1 0h2m1 0h1m1 0h4m8 0h1m8 0h1m5 0h1m5 0h1m8 0h1m1 0h1m5 0h1m11 0h1m10 0h5m4 0h3m8 0h1m18 0h1m1 0h1m4 0h1m10 0h1m1 0h1m19 0h1M0 47.5m24 0h1m1 0h2m4 0h1m2 0h1m13 0h1m10 0h1m2 0h3m18 0h2m1 0h1m6 0h4m24 0h5m1 0h2m2 0h4m2 0h1m27 0h1m13 0h1m8 0h5m1 0h4m1 0h2m1 0h1m2 0h2m1 0h1m4 0h5m2 0h2m3 0h1m1 0h1m2 0h2m8 0h1m35 0h1m1 0h4m11 0h1m17 0h1m13 0h2m4 0h2m20 0h2m3 0h5m3 0h1m29 0h2m7 0h1m11 0h1m6 0h1m15 0h3m2 0h1M0 48.5m26 0h5m1 0h1m18 0h1m2 0h1m14 0h2m23 0h3m5 0h2m9 0h1m13 0h1m9 0h1m36 0h2m18 0h1m3 0h2m23 0h2m14 0h1m1 0h3m12 0h1m1 0h2m1 0h1m6 0h2m7 0h1m9 0h1m1 0h1m3 0h1m6 0h1m4 0h1m3 0h2m1 0h1m5 0h1m4 0h1m6 0h12m2 0h2m1 0h4m1 0h4m1 0h1m2 0h2m1 0h2m1 0h3m1 0h5m1 0h7m2 0h5m1 0h1m1 0h1m1 0h1m2 0h5m3 0h3m2 0h7m4 0h1m3 0h13m2 0h3m1 0h5M0 49.5m1 0h2m20 0h1m5 0h2m6 0h1m1 0h1m9 0h1m1 0h1m14 0h1m4 0h1m39 0h1m58 0h1m15 0h1m20 0h2m9 0h1m9 0h1m10 0h5m1 0h1m14 0h1m13 0h3m10 0h6m3 0h1m3 0h1m6 0h7m1 0h1m4 0h1m5 0h1m7 0h1m9 0h3m1 0h3m1 0h1m1 0h1m5 0h1m5 0h7m3 0h10m11 0h5m11 0h3m3 0h6m2 0h4m1 0h2m4 0h1m1 0h10M0 50.5m2 0h1m39 0h1m2 0h1m3 0h1m20 0h2m9 0h1m38 0h1m34 0h1m14 0h1m48 0h1m19 0h1m2 0h2m16 0h1m6 0h2m10 0h1m7 0h1m5 0h2m13 0h1m2 0h2m6 0h5m13 0h1m1 0h1m1 0h1m2 0h1m7 0h1m1 0h3m6 0h2m1 0h2m1 0h6m4 0h1m3 0h2m2 0h3m3 0h4m3 0h1m3 0h4m2 0h2m2 0h6m1 0h3m16 0h10M0 51.5m0 0h1m1 0h1m12 0h2m9 0h1m2 0h1m1 0h1m2 0h1m4 0h2m1 0h1m13 0h1m3 0h2m26 0h1m5 0h1m2 0h2m4 0h1m9 0h2m3 0h4m1 0h1m12 0h1m2 0h4m6 0h2m7 0h2m1 0h1m5 0h2m37 0h4m1 0h4m4 0h2m8 0h1m9 0h5m5 0h3m1 0h1m2 0h3m6 0h1m4 0h1m10 0h1m4 0h2m1 0h2m1 0h2m6 0h2m2 0h4m3 0h1m14 0h5m1 0h1m1 0h1m3 0h1m1 0h2m2 0h4m2 0h3m2 0h1m1 0h3m4 0h7m1 0h1m1 0h10m1 0h3m1 0h4m1 0h1m2 0h1m1 0h3m1 0h5m1 0h4m1 0h5m1 0h4m2 0h4m3 0h7m2 0h4m2 0h2M0 52.5m7 0h1m1 0h1m3 0h1m9 0h1m18 0h2m6 0h1m13 0h1m1 0h1m5 0h2m14 0h1m3 0h2m1 0h1m2 0h1m3 0h4m46 0h1m17 0h1m5 0h3m13 0h2m1 0h1m20 0h1m2 0h2m4 0h1m5 0h1m3 0h1m3 0h5m2 0h1m5 0h1m2 0h1m33 0h3m1 0h10m3 0h3m1 0h1m4 0h3m4 0h2m2 0h5m1 0h2m8 0h4m3 0h1m2 0h2m3 0h1m5 0h2m3 0h8m1 0h15m1 0h5m1 0h7m2 0h10m3 0h8m1 0h1m4 0h3m1 0h2m1 0h3m2 0h3M0 53.5m5 0h2m8 0h1m16 0h1m3 0h1m10 0h1m24 0h1m8 0h1m21 0h2m13 0h1m1 0h1m17 0h2m37 0h1m1 0h1m53 0h1m5 0h5m2 0h1m11 0h1m3 0h1m4 0h2m4 0h3m8 0h1m4 0h2m3 0h1m1 0h1m3 0h8m5 0h1m1 0h1m3 0h12m4 0h1m3 0h1m3 0h2m1 0h1m7 0h2m9 0h5m2 0h5m3 0h10m1 0h3m3 0h3m2 0h1m2 0h7m3 0h2m2 0h4m1 0h5m3 0h2m3 0h6m1 0h6M0 54.5m11 0h1m8 0h1m6 0h1m8 0h1m10 0h1m1 0h1m1 0h6m8 0h1m32 0h1m63 0h1m2 0h1m48 0h1m3 0h1m8 0h1m10 0h4m1 0h9m6 0h2m16 0h2m6 0h2m6 0h1m3 0h2m9 0h1m2 0h3m9 0h1m4 0h2m1 0h1m2 0h2m2 0h1m7 0h2m1 0h6m5 0h2m3 0h3m2 0h11m1 0h2m2 0h2m1 0h14m1 0h3m2 0h16m4 0h5m2 0h7m2 0h6M0 55.5m7 0h1m14 0h1m9 0h1m3 0h1m8 0h2m3 0h1m7 0h1m5 0h1m10 0h1m10 0h1m7 0h1m6 0h2m3 0h1m6 0h4m10 0h1m18 0h1m2 0h1m21 0h2m5 0h1m23 0h3m4 0h1m3 0h2m6 0h1m5 0h1m1 0h1m10 0h2m2 0h1m1 0h1m24 0h1m17 0h2m4 0h7m1 0h3m1 0h4m4 0h3m2 0h5m6 0h5m1 0h2m2 0h12m1 0h6m1 0h1m6 0h1m2 0h3m6 0h4m1 0h7m1 0h1m1 0h2m1 0h14m2 0h6m1 0h6m5 0h5m1 0h1m1 0h5m1 0h4M0 56.5m12 0h1m12 0h2m36 0h3m16 0h1m42 0h1m9 0h1m11 0h1m12 0h1m23 0h1m3 0h1m17 0h1m4 0h1m24 0h1m8 0h2m37 0h1m4 0h1m1 0h1m16 0h2m2 0h2m1 0h4m8 0h1m15 0h3m2 0h2m5 0h4m4 0h2m3 0h1m4 0h8m3 0h2m1 0h3m3 0h1m4 0h1m1 0h3m1 0h6m1 0h3m1 0h4m1 0h4m3 0h1m2 0h1m1 0h3m1 0h2m2 0h3m1 0h2m3 0h1M0 57.5m22 0h1m21 0h1m4 0h2m4 0h3m4 0h1m35 0h2m2 0h2m43 0h1m6 0h1m10 0h1m11 0h2m1 0h1m23 0h1m13 0h3m15 0h2m2 0h1m1 0h2m1 0h2m7 0h1m4 0h1m38 0h1m1 0h2m5 0h1m1 0h3m5 0h4m11 0h7m3 0h2m1 0h2m1 0h4m7 0h2m1 0h4m2 0h4m2 0h2m1 0h2m2 0h6m6 0h1m1 0h15m1 0h2m1 0h4m3 0h5m1 0h3m1 0h5m2 0h4m1 0h2m1 0h1m2 0h1M0 58.5m5 0h1m13 0h1m6 0h1m28 0h1m30 0h1m24 0h3m32 0h1m10 0h1m14 0h1m13 0h1m3 0h1m16 0h2m34 0h3m2 0h2m5 0h1m31 0h4m24 0h1m12 0h1m7 0h1m3 0h1m2 0h4m5 0h1m1 0h1m9 0h3m2 0h2m3 0h2m1 0h3m2 0h1m2 0h1m4 0h2m1 0h1m2 0h2m3 0h1m3 0h1m3 0h1m3 0h4m1 0h4m8 0h1m1 0h1m2 0h1m1 0h1m5 0h1m1 0h1m1 0h2M0 59.5m28 0h2m1 0h1m21 0h1m8 0h2m14 0h1m30 0h2m18 0h2m63 0h1m23 0h1m17 0h2m7 0h1m38 0h2m1 0h1m19 0h1m2 0h3m3 0h2m2 0h1m1 0h5m5 0h1m6 0h3m5 0h2m1 0h1m1 0h2m3 0h1m2 0h4m1 0h1m2 0h1m2 0h3m2 0h3m2 0h2m3 0h1m2 0h2m5 0h1m1 0h1m1 0h1m1 0h5m5 0h5m2 0h3m1 0h12m1 0h1m2 0h2m3 0h1m1 0h2m1 0h1M0 60.5m14 0h2m3 0h2m29 0h2m1 0h2m7 0h2m2 0h2m1 0h2m9 0h2m1 0h1m2 0h2m1 0h1m1 0h1m1 0h1m5 0h2m12 0h1m4 0h2m37 0h1m2 0h1m15 0h2m15 0h1m6 0h7m16 0h1m15 0h1m1 0h1m2 0h1m1 0h4m3 0h1m9 0h1m3 0h3m11 0h2m4 0h10m2 0h5m2 0h2m5 0h1m5 0h1m2 0h2m5 0h4m1 0h1m4 0h1m2 0h1m5 0h3m4 0h1m1 0h1m3 0h1m1 0h5m1 0h3m2 0h3m3 0h1m1 0h2m1 0h2m1 0h1m1 0h17m1 0h1m1 0h4m2 0h4m2 0h4m3 0h1m4 0h5m2 0h3m2 0h2M0 61.5m1 0h1m6 0h1m24 0h2m1 0h2m4 0h1m15 0h3m25 0h2m2 0h1m17 0h1m6 0h1m5 0h3m52 0h3m27 0h1m11 0h1m4 0h1m7 0h1m2 0h1m4 0h4m3 0h1m2 0h1m6 0h1m5 0h1m1 0h2m12 0h2m1 0h1m4 0h1m9 0h1m6 0h1m5 0h1m5 0h1m1 0h3m4 0h1m2 0h1m6 0h1m2 0h2m2 0h1m6 0h2m3 0h2m6 0h1m7 0h3m1 0h8m1 0h1m1 0h9m1 0h1m1 0h5m1 0h8m1 0h1m1 0h11m1 0h2m2 0h1m1 0h2m2 0h2m1 0h11M0 62.5m35 0h1m2 0h5m9 0h1m10 0h1m16 0h1m21 0h2m26 0h2m5 0h1m7 0h2m33 0h1m2 0h1m3 0h1m5 0h2m12 0h1m5 0h1m1 0h3m2 0h1m4 0h4m4 0h1m6 0h3m36 0h1m8 0h1m1 0h2m4 0h1m1 0h1m4 0h1m18 0h2m2 0h1m2 0h4m6 0h1m6 0h1m1 0h1m1 0h6m4 0h1m3 0h4m1 0h1m2 0h1m1 0h8m1 0h2m1 0h10m1 0h12m2 0h4m1 0h10m4 0h1m1 0h1m4 0h8m2 0h1M0 63.5m16 0h1m1 0h1m1 0h1m1 0h1m1 0h2m4 0h1m13 0h4m2 0h1m3 0h3m1 0h1m1 0h1m1 0h1m2 0h4m1 0h3m15 0h1m9 0h1m4 0h1m6 0h1m23 0h1m6 0h1m6 0h1m1 0h1m5 0h2m3 0h1m27 0h1m17 0h1m5 0h1m4 0h9m3 0h2m1 0h1m4 0h4m1 0h3m1 0h1m1 0h2m9 0h1m5 0h2m1 0h3m3 0h1m3 0h2m1 0h1m8 0h2m1 0h4m2 0h1m4 0h6m1 0h3m3 0h3m4 0h8m3 0h3m1 0h2m7 0h2m1 0h1m1 0h6m5 0h2m2 0h3m2 0h5m3 0h1m1 0h7m1 0h16m1 0h4m1 0h1m3 0h8m2 0h3m1 0h6m2 0h1m1 0h5m1 0h1M0 64.5m15 0h1m5 0h2m16 0h1m3 0h4m2 0h2m5 0h1m1 0h1m1 0h1m9 0h1m42 0h1m9 0h1m29 0h1m9 0h1m10 0h1m18 0h3m2 0h1m4 0h1m7 0h1m20 0h1m7 0h2m2 0h3m4 0h1m4 0h1m7 0h1m24 0h5m1 0h1m8 0h8m4 0h2m1 0h4m1 0h4m2 0h1m1 0h1m6 0h9m2 0h1m2 0h2m2 0h1m1 0h1m1 0h3m1 0h3m1 0h3m5 0h1m2 0h3m2 0h1m1 0h1m2 0h2m1 0h9m1 0h2m3 0h3m1 0h7m1 0h3m1 0h20m1 0h5M0 65.5m57 0h1m10 0h1m9 0h1m19 0h4m30 0h1m5 0h1m31 0h1m27 0h1m10 0h1m6 0h1m6 0h1m1 0h1m17 0h2m1 0h1m4 0h1m27 0h3m5 0h1m1 0h1m1 0h2m11 0h1m1 0h2m2 0h2m2 0h1m6 0h3m4 0h1m1 0h4m1 0h1m3 0h5m1 0h4m7 0h1m7 0h2m2 0h1m1 0h1m1 0h3m1 0h3m2 0h1m1 0h14m3 0h5m1 0h4m2 0h4m1 0h3m1 0h3m1 0h5m2 0h1m1 0h2m6 0h1m5 0h1M0 66.5m0 0h1m36 0h2m1 0h1m136 0h1m5 0h1m36 0h1m2 0h2m12 0h1m2 0h7m12 0h3m26 0h1m3 0h4m3 0h3m2 0h1m6 0h1m10 0h1m1 0h3m3 0h2m2 0h1m2 0h2m13 0h3m2 0h1m7 0h5m2 0h7m1 0h2m1 0h1m3 0h7m1 0h1m1 0h1m1 0h1m2 0h10m1 0h1m1 0h12m5 0h3m1 0h5m1 0h1m1 0h1m1 0h2m1 0h1M0 67.5m29 0h1m4 0h1m13 0h4m14 0h1m7 0h1m3 0h2m1 0h1m72 0h1m25 0h2m13 0h1m10 0h2m31 0h1m1 0h1m4 0h1m5 0h2m9 0h1m14 0h1m1 0h1m3 0h5m2 0h1m5 0h3m4 0h1m7 0h3m1 0h2m6 0h4m2 0h2m2 0h4m1 0h1m1 0h1m7 0h4m1 0h1m4 0h1m2 0h1m1 0h3m1 0h1m1 0h1m2 0h2m2 0h8m2 0h4m3 0h1m4 0h12m3 0h3m1 0h4m1 0h1m1 0h2m1 0h5m1 0h5m3 0h5m1 0h2M0 68.5m1 0h1m36 0h1m3 0h1m13 0h1m3 0h1m15 0h1m18 0h1m9 0h1m33 0h1m5 0h1m5 0h2m35 0h2m2 0h1m2 0h1m9 0h1m1 0h4m3 0h1m1 0h2m2 0h2m4 0h1m11 0h1m1 0h5m4 0h1m3 0h2m12 0h2m14 0h2m2 0h1m6 0h5m5 0h4m1 0h4m1 0h1m5 0h1m9 0h2m1 0h2m2 0h1m4 0h1m1 0h1m8 0h1m1 0h1m4 0h3m1 0h1m1 0h1m1 0h15m2 0h4m3 0h2m1 0h7m3 0h20m1 0h3m5 0h4m1 0h3m2 0h2M0 69.5m0 0h5m6 0h2m2 0h1m5 0h1m4 0h1m6 0h1m2 0h1m4 0h1m68 0h1m7 0h2m7 0h1m58 0h1m5 0h2m22 0h3m2 0h1m2 0h1m9 0h1m3 0h8m2 0h1m8 0h4m5 0h2m5 0h2m6 0h1m3 0h1m1 0h1m2 0h7m1 0h1m2 0h6m2 0h4m7 0h1m5 0h3m2 0h2m4 0h2m2 0h9m1 0h2m11 0h1m1 0h1m2 0h1m1 0h2m5 0h1m4 0h1m2 0h2m10 0h8m2 0h13m1 0h14m1 0h2m1 0h10M0 70.5m53 0h1m4 0h1m145 0h1m22 0h1m4 0h1m13 0h1m32 0h1m10 0h1m2 0h1m2 0h2m10 0h1m5 0h2m3 0h2m7 0h2m1 0h4m5 0h4m8 0h2m8 0h4m8 0h1m8 0h2m2 0h6m3 0h6m1 0h2m1 0h3m1 0h12m3 0h1m1 0h4m3 0h1m1 0h1m5 0h3m1 0h2M0 71.5m7 0h2m42 0h1m4 0h3m10 0h1m30 0h1m10 0h1m27 0h1m24 0h1m32 0h2m1 0h1m6 0h1m14 0h1m13 0h1m3 0h2m20 0h3m1 0h1m23 0h1m4 0h1m8 0h1m6 0h3m4 0h1m1 0h3m1 0h3m8 0h2m1 0h2m2 0h1m2 0h6m3 0h1m4 0h15m2 0h2m1 0h11m2 0h1m5 0h1m1 0h1m1 0h4m3 0h2m2 0h5m1 0h1m2 0h1m2 0h2m1 0h2m5 0h1m11 0h2M0 72.5m6 0h1m1 0h1m15 0h1m16 0h1m10 0h1m5 0h1m113 0h1m13 0h1m23 0h1m2 0h1m25 0h1m1 0h2m12 0h1m21 0h1m10 0h1m5 0h1m11 0h2m3 0h2m2 0h1m1 0h1m3 0h1m6 0h3m2 0h1m7 0h3m12 0h2m3 0h2m3 0h1m1 0h1m3 0h1m2 0h1m1 0h5m3 0h2m5 0h5m1 0h3m6 0h2m1 0h10m1 0h3m4 0h1m2 0h6m1 0h1m3 0h4m2 0h2M0 73.5m7 0h1m1 0h1m7 0h1m7 0h1m8 0h2m4 0h8m9 0h1m7 0h1m15 0h1m6 0h1m6 0h4m4 0h1m7 0h1m4 0h1m3 0h1m19 0h2m35 0h1m1 0h1m15 0h2m6 0h2m2 0h1m5 0h1m1 0h3m1 0h1m5 0h1m2 0h1m10 0h5m6 0h1m4 0h4m4 0h1m5 0h1m11 0h2m2 0h1m1 0h1m5 0h6m2 0h1m1 0h1m2 0h1m2 0h1m2 0h7m1 0h1m2 0h4m2 0h2m1 0h2m1 0h3m1 0h3m2 0h5m3 0h5m1 0h2m5 0h4m4 0h4m2 0h11m3 0h5m1 0h6m3 0h1m1 0h15m1 0h4m1 0h3m1 0h3m1 0h11M0 74.5m14 0h1m26 0h1m9 0h1m19 0h2m13 0h2m4 0h1m12 0h4m14 0h1m24 0h1m47 0h1m39 0h1m3 0h3m2 0h1m17 0h1m1 0h1m1 0h2m1 0h2m4 0h1m5 0h7m10 0h1m4 0h1m4 0h1m9 0h1m2 0h2m2 0h1m6 0h1m11 0h3m2 0h1m2 0h1m6 0h2m2 0h4m3 0h11m5 0h12m1 0h3m1 0h3m1 0h4m1 0h1m1 0h4m2 0h3m1 0h2m4 0h2m1 0h2m2 0h7m1 0h3M0 75.5m122 0h1m16 0h1m3 0h1m11 0h1m156 0h1m9 0h2m1 0h2m10 0h1m10 0h1m2 0h1m12 0h2m3 0h1m10 0h2m1 0h1m8 0h2m7 0h3m2 0h19m5 0h2m3 0h1m4 0h8m1 0h1M0 76.5m17 0h1m27 0h1m56 0h1m1 0h1m2 0h1m24 0h1m30 0h1m39 0h2m13 0h1m4 0h1m14 0h6m24 0h1m2 0h1m3 0h1m13 0h1m3 0h1m1 0h3m1 0h2m1 0h1m15 0h2m1 0h3m1 0h4m3 0h1m3 0h3m7 0h6m2 0h1m1 0h1m7 0h3m3 0h8m5 0h6m1 0h4m1 0h1m1 0h5m4 0h1m1 0h1m4 0h7m5 0h1m2 0h3m1 0h2m1 0h2m1 0h6m3 0h1M0 77.5m48 0h4m8 0h1m8 0h1m26 0h1m7 0h1m34 0h1m79 0h1m5 0h1m16 0h1m1 0h3m27 0h1m16 0h1m9 0h1m2 0h4m2 0h2m3 0h1m18 0h1m1 0h3m2 0h3m1 0h1m2 0h1m1 0h1m3 0h3m2 0h2m5 0h2m3 0h2m3 0h1m2 0h1m1 0h4m2 0h5m1 0h5m2 0h7m2 0h1m2 0h4m2 0h2m3 0h1m1 0h8m2 0h1m1 0h4m1 0h5m2 0h1M0 78.5m9 0h1m1 0h1m1 0h3m4 0h1m20 0h2m7 0h2m4 0h1m9 0h1m2 0h1m22 0h1m7 0h1m53 0h3m4 0h1m6 0h2m29 0h3m13 0h1m1 0h3m19 0h5m1 0h1m10 0h1m11 0h1m5 0h1m9 0h1m1 0h1m5 0h4m6 0h1m1 0h1m3 0h8m10 0h1m1 0h1m1 0h4m6 0h1m2 0h1m2 0h4m3 0h1m8 0h1m1 0h2m10 0h1m3 0h1m1 0h5m6 0h7m3 0h3m1 0h3m1 0h1m2 0h3m1 0h8m2 0h2m2 0h2m1 0h3m1 0h1m1 0h9M0 79.5m6 0h1m28 0h1m13 0h2m37 0h1m50 0h1m94 0h1m5 0h2m7 0h1m1 0h2m45 0h1m8 0h1m1 0h4m11 0h1m1 0h1m3 0h1m1 0h1m7 0h1m15 0h1m3 0h2m2 0h2m1 0h2m2 0h6m4 0h1m2 0h1m1 0h1m1 0h3m8 0h2m4 0h4m1 0h1m5 0h1m2 0h1m5 0h1m7 0h3m7 0h2m1 0h3M0 80.5m11 0h1m1 0h5m11 0h1m5 0h1m4 0h1m1 0h1m13 0h2m1 0h1m5 0h2m12 0h1m2 0h1m127 0h5m1 0h2m10 0h1m9 0h6m1 0h1m45 0h1m6 0h2m1 0h1m2 0h1m1 0h3m8 0h1m2 0h1m1 0h2m3 0h3m1 0h1m4 0h4m4 0h3m3 0h1m2 0h5m2 0h2m3 0h4m1 0h2m1 0h5m2 0h4m1 0h2m1 0h8m1 0h3m2 0h15m2 0h1m1 0h2m1 0h12m2 0h3m1 0h3m2 0h3M0 81.5m5 0h1m8 0h1m19 0h1m1 0h2m15 0h4m5 0h1m3 0h1m14 0h1m15 0h1m1 0h2m1 0h1m20 0h3m11 0h2m24 0h1m4 0h1m1 0h1m7 0h2m2 0h1m13 0h2m26 0h1m1 0h2m10 0h5m1 0h4m6 0h1m7 0h1m6 0h2m1 0h1m4 0h2m11 0h1m8 0h5m6 0h3m5 0h2m1 0h1m3 0h3m4 0h1m2 0h3m3 0h1m1 0h4m4 0h1m1 0h2m5 0h1m2 0h3m1 0h1m1 0h3m1 0h3m2 0h3m1 0h5m1 0h7m2 0h3m1 0h5m1 0h4m4 0h7m1 0h5m1 0h6m7 0h1m1 0h3m1 0h2M0 82.5m7 0h1m15 0h2m3 0h1m1 0h1m1 0h1m9 0h1m1 0h2m4 0h2m1 0h2m2 0h1m16 0h2m3 0h2m4 0h2m9 0h4m5 0h2m1 0h1m25 0h1m5 0h3m4 0h1m4 0h1m27 0h1m7 0h1m11 0h3m15 0h1m3 0h4m6 0h1m6 0h1m1 0h1m1 0h3m13 0h1m4 0h1m5 0h1m1 0h1m1 0h2m3 0h1m3 0h1m2 0h4m2 0h3m1 0h1m1 0h13m1 0h1m1 0h8m2 0h2m6 0h1m1 0h2m1 0h4m2 0h1m4 0h2m1 0h5m4 0h12m1 0h3m1 0h1m3 0h3m1 0h4m3 0h1m3 0h3m2 0h1m1 0h2m6 0h13m1 0h4m1 0h12m3 0h5M0 83.5m6 0h1m6 0h1m1 0h1m24 0h1m3 0h1m8 0h4m1 0h1m7 0h1m28 0h3m2 0h1m54 0h2m20 0h1m62 0h1m11 0h2m21 0h1m18 0h2m13 0h1m8 0h4m1 0h1m4 0h1m3 0h2m1 0h3m13 0h2m1 0h1m13 0h7m6 0h1m1 0h2m1 0h4m3 0h1m3 0h2m2 0h6m4 0h5m4 0h1m4 0h7m1 0h5m1 0h5m4 0h2M0 84.5m56 0h1m3 0h1m30 0h1m3 0h1m1 0h1m1 0h1m51 0h1m4 0h1m37 0h1m3 0h1m2 0h1m8 0h1m15 0h3m10 0h2m1 0h2m3 0h1m15 0h1m14 0h1m17 0h3m4 0h2m1 0h2m1 0h2m15 0h2m3 0h3m6 0h1m1 0h1m1 0h2m6 0h3m3 0h7m1 0h1m2 0h1m1 0h1m2 0h1m2 0h7m2 0h5m2 0h1m1 0h1m1 0h1m2 0h2m2 0h1m1 0h1m1 0h1m2 0h4m2 0h2m2 0h3m5 0h1m1 0h1m6 0h3m2 0h1m4 0h2M0 85.5m4 0h2m24 0h2m11 0h1m6 0h1m6 0h2m7 0h1m8 0h1m6 0h1m7 0h1m15 0h1m3 0h2m3 0h2m2 0h2m3 0h3m11 0h1m37 0h1m18 0h1m10 0h2m3 0h1m1 0h1m5 0h3m17 0h6m10 0h2m3 0h1m7 0h1m23 0h3m1 0h4m2 0h1m8 0h3m5 0h1m1 0h1m1 0h1m4 0h2m5 0h1m9 0h1m7 0h1m4 0h2m1 0h2m1 0h14m1 0h2m1 0h1m2 0h1m1 0h1m4 0h2m1 0h8m1 0h1m6 0h1m1 0h2m1 0h1m2 0h5m1 0h2m1 0h1m1 0h2m1 0h2m3 0h3m1 0h5m2 0h1M0 86.5m3 0h1m21 0h2m1 0h1m3 0h1m9 0h1m39 0h1m35 0h1m13 0h1m78 0h2m5 0h1m25 0h1m4 0h1m6 0h2m9 0h1m24 0h1m1 0h1m7 0h1m6 0h2m1 0h1m4 0h1m2 0h1m3 0h1m2 0h1m9 0h4m23 0h5m1 0h2m3 0h5m2 0h5m2 0h3m1 0h3m1 0h4m3 0h2m6 0h1m5 0h3m2 0h1m3 0h2m1 0h2m3 0h1m1 0h1m2 0h1m7 0h2M0 87.5m7 0h1m12 0h3m9 0h1m9 0h1m14 0h1m23 0h1m22 0h1m35 0h1m10 0h2m25 0h1m37 0h3m20 0h1m6 0h1m1 0h2m31 0h1m5 0h1m1 0h1m3 0h4m6 0h1m3 0h1m19 0h1m8 0h1m1 0h1m8 0h4m4 0h1m2 0h1m3 0h1m1 0h9m3 0h5m2 0h5m1 0h5m3 0h4m1 0h1m1 0h10m5 0h11m3 0h1m2 0h1m2 0h3m1 0h4m1 0h1M0 88.5m7 0h1m7 0h1m9 0h1m1 0h3m3 0h1m17 0h1m1 0h1m5 0h1m1 0h1m4 0h1m2 0h1m27 0h2m1 0h1m5 0h1m1 0h2m15 0h1m69 0h2m3 0h2m14 0h2m2 0h1m17 0h2m1 0h1m1 0h4m10 0h2m7 0h1m4 0h2m1 0h2m5 0h5m1 0h2m1 0h1m7 0h5m6 0h4m2 0h1m1 0h8m6 0h1m5 0h2m1 0h2m4 0h1m1 0h3m3 0h2m8 0h4m1 0h3m1 0h14m1 0h3m2 0h3m3 0h1m1 0h6m2 0h8m1 0h30M0 89.5m9 0h2m19 0h1m2 0h2m1 0h1m1 0h3m14 0h2m1 0h1m11 0h1m12 0h2m2 0h1m9 0h1m21 0h1m1 0h1m9 0h1m2 0h2m3 0h1m73 0h1m13 0h1m17 0h2m2 0h1m10 0h1m1 0h2m10 0h1m19 0h1m1 0h1m4 0h1m2 0h4m1 0h5m3 0h1m2 0h1m1 0h1m29 0h1m3 0h2m1 0h1m3 0h5m1 0h1m1 0h2m1 0h11m1 0h4m1 0h1m1 0h6m3 0h5m2 0h4m2 0h3m1 0h4m1 0h5m2 0h4m1 0h3m3 0h2m1 0h4M0 90.5m5 0h1m47 0h4m31 0h1m9 0h1m16 0h3m41 0h1m26 0h1m10 0h2m21 0h1m24 0h1m5 0h1m7 0h1m1 0h1m14 0h1m11 0h6m2 0h1m3 0h5m2 0h1m2 0h2m5 0h1m3 0h1m2 0h1m1 0h1m1 0h1m1 0h1m2 0h1m2 0h2m1 0h2m6 0h3m14 0h1m2 0h1m6 0h13m3 0h11m1 0h5m5 0h5m2 0h1m4 0h5m1 0h18M0 91.5m10 0h2m17 0h2m8 0h1m1 0h1m7 0h1m6 0h1m2 0h2m4 0h2m31 0h1m5 0h1m9 0h1m1 0h1m2 0h1m6 0h2m5 0h1m8 0h1m6 0h1m13 0h3m4 0h1m6 0h1m24 0h2m1 0h1m9 0h3m8 0h3m10 0h1m19 0h1m3 0h2m4 0h1m4 0h1m2 0h4m7 0h1m1 0h6m5 0h4m4 0h4m2 0h1m3 0h1m6 0h5m1 0h1m1 0h1m2 0h1m2 0h3m3 0h1m5 0h1m1 0h8m2 0h2m3 0h1m1 0h5m4 0h3m1 0h2m2 0h7m2 0h18m1 0h1m1 0h4m1 0h6m1 0h6m1 0h4m1 0h2m2 0h4M0 92.5m7 0h1m7 0h1m121 0h1m8 0h1m33 0h1m9 0h1m19 0h1m10 0h1m5 0h1m3 0h1m13 0h1m1 0h2m9 0h1m31 0h1m1 0h2m8 0h1m4 0h1m2 0h1m4 0h1m2 0h1m1 0h1m1 0h1m1 0h1m7 0h1m2 0h1m4 0h3m6 0h2m1 0h2m3 0h1m3 0h1m3 0h10m1 0h3m1 0h1m1 0h3m6 0h3m2 0h1m1 0h1m3 0h3m1 0h15m4 0h2m10 0h5m1 0h4m2 0h1M0 93.5m30 0h1m2 0h1m27 0h1m23 0h1m101 0h2m24 0h1m2 0h3m7 0h1m1 0h1m10 0h1m5 0h2m4 0h1m42 0h1m6 0h3m6 0h1m8 0h1m3 0h1m3 0h1m13 0h1m3 0h2m1 0h2m1 0h6m15 0h1m2 0h2m2 0h8m1 0h2m5 0h1m1 0h4m3 0h6m1 0h4m2 0h5m4 0h1m1 0h2m13 0h2M0 94.5m7 0h1m17 0h2m9 0h1m61 0h1m11 0h2m4 0h1m15 0h1m73 0h1m1 0h1m30 0h2m1 0h2m14 0h1m4 0h1m15 0h2m13 0h2m4 0h2m3 0h6m4 0h3m10 0h2m10 0h7m5 0h2m10 0h4m1 0h3m6 0h2m4 0h1m4 0h2m4 0h3m2 0h3m2 0h7m1 0h1m2 0h3m3 0h19m1 0h2m1 0h2m1 0h1M0 95.5m26 0h1m8 0h1m1 0h3m1 0h3m4 0h1m5 0h1m2 0h2m1 0h1m9 0h1m1 0h1m9 0h1m2 0h1m51 0h1m7 0h2m3 0h1m1 0h2m6 0h2m23 0h1m8 0h1m5 0h3m8 0h1m26 0h4m3 0h1m21 0h1m8 0h4m7 0h2m4 0h1m3 0h2m5 0h2m6 0h1m2 0h1m2 0h1m1 0h1m9 0h4m4 0h5m1 0h2m2 0h1m1 0h1m2 0h9m1 0h2m1 0h1m1 0h1m2 0h2m3 0h10m1 0h2m3 0h9m5 0h7m3 0h5m1 0h2m1 0h1m2 0h22M0 96.5m0 0h1m20 0h1m1 0h1m22 0h5m17 0h1m20 0h1m4 0h3m3 0h1m6 0h1m15 0h5m10 0h1m4 0h1m8 0h1m24 0h1m13 0h2m16 0h2m7 0h2m3 0h1m1 0h1m3 0h1m1 0h1m7 0h3m1 0h3m20 0h1m1 0h2m2 0h1m3 0h5m12 0h1m1 0h3m18 0h1m3 0h1m10 0h1m5 0h2m1 0h4m1 0h2m2 0h2m6 0h5m6 0h2m1 0h1m6 0h6m1 0h9m1 0h2m1 0h1m1 0h2m2 0h2m1 0h2m2 0h3m2 0h4m3 0h7m4 0h3m4 0h2m1 0h3m2 0h1M0 97.5m6 0h1m9 0h1m5 0h3m12 0h1m31 0h1m37 0h1m62 0h1m6 0h1m13 0h1m17 0h2m28 0h1m1 0h2m44 0h1m5 0h1m3 0h4m1 0h1m4 0h1m8 0h6m1 0h1m6 0h7m3 0h2m6 0h1m5 0h2m4 0h6m1 0h1m1 0h1m2 0h3m1 0h3m1 0h1m6 0h1m1 0h2m1 0h1m1 0h1m5 0h1m1 0h14m2 0h1m6 0h5m1 0h1m1 0h9m1 0h1m3 0h3M0 98.5m0 0h1m5 0h1m13 0h1m6 0h1m1 0h6m4 0h1m1 0h2m4 0h4m13 0h2m10 0h1m13 0h1m10 0h3m2 0h1m14 0h1m2 0h1m7 0h1m33 0h2m2 0h1m1 0h3m5 0h3m18 0h1m15 0h1m1 0h1m6 0h2m3 0h1m5 0h1m1 0h1m1 0h4m2 0h1m25 0h2m1 0h1m1 0h2m14 0h5m1 0h2m2 0h2m5 0h5m8 0h3m1 0h1m3 0h12m1 0h1m3 0h1m1 0h3m2 0h2m4 0h1m1 0h7m4 0h1m2 0h11m2 0h3m1 0h1m1 0h2m1 0h3m1 0h4m3 0h11m1 0h9m1 0h6m1 0h1m3 0h6M0 99.5m22 0h1m16 0h2m39 0h1m71 0h1m16 0h1m66 0h4m1 0h2m1 0h1m8 0h1m18 0h1m25 0h2m1 0h1m2 0h2m1 0h1m5 0h1m4 0h1m4 0h1m9 0h1m1 0h1m2 0h1m3 0h3m4 0h1m3 0h4m12 0h1m8 0h1m1 0h1m2 0h2m2 0h2m6 0h4m1 0h5m3 0h9m8 0h1m4 0h1m1 0h4m3 0h1m2 0h8M0 100.5m23 0h2m15 0h1m17 0h1m2 0h1m2 0h1m23 0h1m26 0h1m28 0h1m59 0h1m22 0h1m6 0h1m4 0h1m1 0h6m7 0h1m1 0h1m1 0h1m31 0h1m2 0h1m8 0h3m4 0h5m1 0h3m2 0h2m1 0h1m3 0h3m2 0h10m3 0h10m5 0h4m2 0h9m1 0h1m1 0h3m1 0h4m1 0h7m4 0h2m2 0h7m1 0h7m1 0h7m2 0h1m4 0h4m1 0h3m2 0h1m1 0h5M0 101.5m13 0h2m187 0h1m1 0h2m7 0h1m12 0h1m18 0h2m2 0h2m9 0h1m20 0h1m1 0h1m4 0h1m1 0h3m3 0h2m2 0h2m1 0h1m2 0h1m17 0h1m2 0h1m2 0h3m1 0h1m6 0h4m1 0h1m1 0h1m8 0h1m1 0h1m2 0h3m3 0h8m4 0h3m3 0h4m5 0h5m1 0h2m1 0h1m1 0h2m5 0h1m1 0h1m3 0h2m2 0h1m1 0h1m1 0h3m7 0h1m5 0h4m2 0h1M0 102.5m8 0h1m30 0h1m7 0h2m3 0h1m49 0h1m21 0h1m27 0h1m51 0h2m7 0h2m19 0h1m8 0h4m6 0h1m2 0h1m30 0h2m3 0h1m3 0h1m4 0h2m1 0h1m2 0h4m8 0h1m1 0h1m8 0h2m6 0h1m1 0h5m1 0h1m1 0h3m13 0h2m3 0h2m5 0h1m6 0h2m1 0h6m2 0h2m2 0h4m4 0h1m1 0h5m2 0h7m1 0h1m1 0h5m1 0h1m1 0h2m5 0h2m3 0h2m1 0h2M0 103.5m139 0h3m3 0h1m50 0h1m19 0h1m13 0h1m9 0h1m4 0h1m3 0h2m5 0h2m25 0h1m18 0h3m1 0h1m10 0h1m1 0h1m6 0h3m9 0h1m6 0h2m8 0h2m10 0h1m2 0h3m4 0h2m1 0h1m5 0h2m8 0h1m1 0h3m1 0h3m3 0h1m8 0h1m4 0h3m2 0h1m1 0h2m7 0h3m2 0h6M0 104.5m0 0h2m29 0h1m1 0h1m69 0h1m12 0h1m13 0h1m7 0h1m14 0h1m79 0h1m1 0h1m5 0h3m6 0h2m4 0h1m7 0h1m2 0h1m8 0h1m2 0h1m7 0h1m2 0h2m1 0h4m3 0h2m16 0h1m4 0h1m3 0h1m4 0h1m5 0h1m2 0h1m11 0h1m2 0h1m8 0h13m1 0h7m2 0h1m1 0h5m1 0h8m1 0h5m1 0h3m1 0h1m3 0h2m3 0h1m1 0h3m1 0h1m1 0h10m1 0h6M0 105.5m7 0h1m27 0h3m15 0h2m1 0h1m31 0h4m21 0h1m4 0h1m18 0h1m1 0h1m1 0h1m4 0h1m58 0h2m32 0h1m3 0h2m11 0h1m8 0h1m12 0h1m16 0h1m11 0h2m1 0h1m6 0h2m11 0h2m7 0h3m1 0h1m4 0h2m4 0h1m6 0h1m2 0h3m1 0h5m1 0h6m5 0h1m1 0h3m1 0h1m4 0h1m1 0h1m1 0h8m2 0h6m1 0h5m4 0h2m1 0h3m1 0h1m3 0h3m4 0h1m1 0h4M0 106.5m48 0h1m7 0h1m9 0h1m22 0h1m1 0h2m79 0h1m36 0h1m14 0h1m14 0h1m1 0h4m20 0h1m21 0h1m5 0h3m11 0h1m6 0h1m1 0h3m7 0h1m1 0h1m4 0h1m7 0h6m15 0h2m1 0h7m1 0h17m3 0h20m1 0h10m2 0h2m2 0h9m1 0h1m1 0h8M0 107.5m13 0h3m21 0h1m4 0h2m3 0h5m1 0h1m6 0h2m1 0h1m1 0h1m3 0h1m5 0h3m6 0h1m26 0h2m12 0h1m1 0h1m17 0h3m1 0h2m2 0h1m12 0h1m4 0h1m9 0h1m19 0h1m16 0h1m12 0h1m7 0h1m4 0h1m1 0h1m9 0h3m13 0h1m6 0h2m3 0h1m2 0h1m1 0h2m2 0h2m1 0h9m5 0h1m1 0h5m2 0h4m1 0h1m1 0h2m3 0h3m3 0h1m5 0h1m3 0h3m6 0h1m3 0h4m1 0h5m3 0h1m1 0h3m3 0h14m1 0h19m2 0h1m1 0h1m3 0h3m4 0h3m1 0h2m1 0h2m1 0h1m3 0h1m1 0h2m1 0h1M0 108.5m9 0h1m17 0h1m18 0h1m70 0h1m1 0h1m2 0h4m5 0h2m13 0h1m12 0h1m4 0h1m9 0h1m25 0h3m38 0h2m1 0h3m20 0h3m15 0h2m2 0h1m4 0h1m1 0h1m2 0h3m16 0h1m8 0h7m1 0h1m4 0h2m2 0h6m3 0h1m9 0h2m3 0h4m1 0h5m4 0h6m4 0h8m1 0h2m1 0h8m4 0h3m2 0h3m1 0h9m1 0h5m3 0h4M0 109.5m0 0h1m9 0h1m37 0h1m4 0h1m26 0h1m10 0h1m37 0h1m45 0h1m25 0h2m36 0h1m4 0h3m1 0h2m24 0h3m4 0h1m6 0h1m35 0h7m1 0h1m1 0h2m10 0h2m6 0h2m13 0h2m3 0h8m8 0h8m3 0h1m4 0h3m1 0h3m1 0h1m6 0h1m1 0h2m1 0h6m2 0h2m1 0h3m4 0h3M0 110.5m21 0h3m3 0h2m5 0h1m46 0h1m39 0h2m2 0h1m1 0h1m8 0h1m16 0h3m8 0h1m16 0h3m22 0h2m6 0h1m10 0h1m13 0h2m2 0h4m4 0h1m1 0h1m2 0h1m6 0h1m2 0h1m12 0h2m3 0h1m1 0h3m1 0h4m1 0h1m5 0h4m7 0h1m2 0h1m6 0h1m7 0h3m3 0h3m1 0h1m2 0h4m8 0h1m3 0h5m1 0h4m1 0h5m2 0h9m4 0h3m1 0h1m1 0h4m2 0h1m3 0h6m4 0h13m4 0h6m4 0h7M0 111.5m53 0h1m40 0h1m69 0h1m76 0h3m15 0h1m28 0h1m18 0h1m21 0h1m7 0h4m6 0h3m7 0h1m6 0h1m10 0h1m2 0h1m1 0h1m1 0h3m3 0h1m4 0h2m5 0h1m3 0h2m6 0h2m5 0h1m2 0h1m11 0h2m4 0h2m1 0h1m3 0h3M0 112.5m7 0h2m4 0h1m1 0h1m11 0h1m23 0h1m3 0h4m19 0h2m18 0h2m16 0h1m14 0h2m1 0h1m19 0h1m1 0h1m61 0h1m2 0h1m4 0h1m6 0h1m5 0h1m3 0h1m1 0h1m23 0h6m9 0h1m9 0h2m2 0h4m1 0h3m2 0h1m1 0h3m3 0h2m3 0h8m1 0h1m2 0h1m3 0h1m1 0h1m3 0h1m5 0h2m10 0h1m1 0h7m1 0h2m9 0h3m1 0h5m2 0h18m2 0h3m2 0h2m1 0h3m5 0h1m1 0h11m1 0h3m3 0h1M0 113.5m26 0h1m4 0h1m2 0h1m5 0h3m1 0h1m3 0h1m2 0h1m10 0h1m6 0h4m8 0h1m4 0h2m8 0h3m2 0h5m11 0h2m4 0h1m2 0h1m1 0h1m7 0h1m5 0h2m7 0h1m4 0h1m12 0h1m2 0h1m6 0h1m3 0h2m7 0h1m15 0h1m6 0h2m16 0h2m8 0h1m2 0h1m2 0h1m10 0h1m1 0h3m1 0h1m3 0h1m8 0h1m1 0h1m7 0h12m3 0h1m6 0h4m4 0h2m1 0h3m1 0h2m1 0h3m3 0h3m2 0h2m2 0h9m1 0h2m1 0h1m2 0h9m1 0h3m1 0h1m2 0h6m1 0h4m1 0h23m1 0h2m1 0h1m1 0h3m1 0h10m1 0h5m5 0h7M0 114.5m0 0h1m10 0h1m4 0h2m3 0h2m1 0h4m42 0h2m25 0h3m107 0h3m22 0h1m8 0h1m1 0h3m35 0h1m3 0h1m6 0h1m4 0h2m7 0h2m2 0h5m7 0h2m1 0h2m2 0h2m4 0h4m7 0h1m1 0h2m2 0h3m1 0h2m3 0h1m1 0h1m1 0h1m5 0h2m1 0h4m1 0h5m2 0h8m8 0h1m1 0h2m1 0h1m3 0h1m2 0h4m1 0h3m3 0h5m3 0h3m2 0h1m3 0h1m1 0h4M0 115.5m12 0h1m41 0h3m1 0h1m11 0h2m10 0h4m4 0h1m32 0h1m5 0h1m34 0h1m19 0h1m20 0h1m1 0h3m3 0h2m2 0h3m9 0h1m9 0h5m30 0h3m1 0h1m2 0h1m4 0h1m3 0h1m13 0h1m6 0h5m11 0h3m2 0h1m6 0h4m1 0h3m4 0h2m6 0h3m1 0h2m1 0h1m5 0h4m4 0h7m1 0h2m2 0h1m1 0h1m3 0h1m1 0h1m1 0h1m1 0h4m2 0h3m1 0h3m1 0h3m1 0h6m1 0h5m5 0h5m1 0h1m2 0h1M0 116.5m1 0h2m27 0h3m54 0h1m7 0h1m6 0h1m8 0h1m4 0h2m23 0h1m19 0h1m20 0h1m3 0h1m33 0h1m6 0h1m12 0h1m1 0h1m1 0h2m26 0h1m20 0h1m6 0h1m2 0h1m2 0h1m3 0h1m13 0h1m1 0h1m8 0h1m2 0h3m7 0h1m3 0h2m8 0h1m2 0h6m2 0h3m1 0h1m1 0h3m2 0h5m4 0h2m3 0h3m1 0h1m1 0h2m4 0h8m1 0h1m3 0h1m1 0h1m2 0h3m1 0h1m2 0h2m1 0h1m2 0h4m1 0h1m1 0h2M0 117.5m10 0h1m11 0h1m1 0h1m60 0h1m8 0h1m2 0h1m10 0h1m25 0h1m33 0h1m3 0h1m1 0h1m10 0h2m9 0h1m10 0h1m32 0h6m5 0h1m12 0h1m14 0h1m12 0h3m2 0h1m12 0h1m11 0h1m5 0h1m1 0h5m10 0h5m3 0h4m7 0h7m1 0h3m3 0h2m3 0h1m10 0h1m3 0h2m3 0h3m1 0h2m2 0h13m2 0h13m5 0h1m3 0h2M0 118.5m1 0h2m16 0h3m2 0h1m25 0h1m32 0h1m3 0h1m11 0h1m6 0h1m7 0h1m6 0h1m2 0h2m17 0h3m19 0h2m37 0h2m10 0h1m24 0h8m11 0h1m24 0h1m1 0h1m1 0h2m2 0h1m7 0h1m1 0h1m2 0h2m2 0h1m3 0h1m2 0h2m3 0h1m2 0h5m1 0h1m8 0h2m2 0h3m1 0h1m4 0h2m1 0h1m2 0h1m1 0h2m4 0h2m1 0h1m1 0h1m1 0h1m5 0h3m2 0h3m2 0h2m1 0h2m1 0h1m1 0h7m1 0h9m1 0h1m2 0h4m1 0h14m6 0h2m1 0h1m1 0h1M0 119.5m11 0h1m59 0h1m36 0h1m1 0h1m18 0h1m8 0h4m99 0h4m7 0h1m23 0h1m2 0h1m6 0h1m1 0h1m2 0h1m5 0h1m12 0h4m3 0h7m2 0h1m10 0h7m4 0h2m2 0h1m1 0h1m10 0h1m1 0h6m1 0h2m1 0h2m1 0h2m5 0h5m2 0h2m2 0h17m2 0h5m1 0h5m5 0h1m1 0h5m3 0h4m1 0h1M0 120.5m8 0h1m13 0h1m6 0h1m1 0h1m5 0h1m24 0h1m43 0h1m5 0h1m3 0h1m11 0h1m2 0h1m2 0h1m4 0h1m2 0h1m51 0h1m1 0h2m5 0h1m4 0h1m10 0h1m2 0h1m16 0h1m1 0h6m12 0h1m16 0h1m12 0h2m3 0h1m1 0h1m4 0h4m5 0h1m10 0h2m4 0h2m1 0h4m2 0h4m3 0h3m1 0h4m1 0h1m4 0h1m6 0h1m6 0h1m2 0h4m1 0h6m2 0h1m6 0h1m2 0h7m7 0h1m1 0h3m1 0h2m4 0h1m3 0h1m2 0h2m1 0h4m1 0h3m4 0h2m1 0h2M0 121.5m9 0h3m41 0h1m5 0h1m6 0h3m4 0h3m4 0h1m71 0h1m7 0h1m22 0h1m31 0h3m4 0h2m15 0h2m1 0h2m2 0h1m8 0h3m5 0h2m1 0h1m20 0h2m8 0h1m16 0h1m1 0h1m2 0h1m10 0h2m9 0h3m15 0h3m2 0h4m1 0h2m1 0h4m4 0h1m3 0h4m2 0h1m6 0h2m1 0h3m2 0h2m1 0h1m2 0h1m1 0h9m3 0h3m1 0h3m1 0h1m1 0h1m1 0h3m5 0h5M0 122.5m6 0h1m70 0h1m1 0h1m43 0h1m23 0h1m3 0h1m12 0h1m39 0h1m2 0h1m1 0h3m3 0h4m16 0h1m5 0h3m1 0h2m28 0h1m12 0h1m8 0h1m3 0h1m2 0h3m1 0h1m1 0h2m10 0h1m4 0h2m6 0h1m1 0h2m1 0h3m2 0h2m4 0h1m2 0h3m1 0h4m3 0h6m1 0h1m3 0h1m1 0h2m4 0h1m1 0h6m1 0h1m3 0h2m1 0h2m1 0h3m2 0h7m1 0h3m1 0h6m1 0h5m1 0h3m3 0h2m1 0h1m3 0h4M0 123.5m8 0h1m18 0h1m1 0h2m5 0h1m4 0h1m1 0h1m1 0h1m14 0h1m2 0h1m12 0h1m10 0h3m17 0h1m14 0h1m15 0h1m18 0h3m11 0h1m28 0h2m37 0h6m15 0h3m12 0h4m7 0h2m1 0h3m1 0h9m2 0h5m1 0h2m3 0h2m1 0h3m2 0h6m3 0h1m2 0h1m1 0h8m5 0h3m11 0h4m1 0h7m4 0h10m3 0h4m1 0h11m1 0h2m1 0h7m1 0h2m3 0h5m3 0h1m1 0h3m1 0h4m2 0h1m1 0h1M0 124.5m0 0h2m12 0h1m4 0h1m19 0h1m14 0h2m17 0h1m23 0h1m4 0h3m8 0h1m2 0h1m3 0h1m14 0h1m4 0h1m14 0h3m14 0h1m2 0h1m1 0h1m3 0h1m7 0h1m18 0h1m6 0h1m2 0h3m8 0h1m7 0h11m1 0h1m1 0h1m4 0h5m2 0h1m5 0h1m4 0h1m4 0h2m12 0h1m4 0h1m1 0h1m4 0h3m2 0h1m5 0h2m2 0h1m1 0h1m2 0h1m2 0h1m4 0h3m1 0h2m1 0h2m1 0h6m1 0h2m2 0h1m1 0h1m4 0h2m1 0h2m1 0h1m1 0h3m1 0h4m1 0h1m1 0h2m1 0h5m2 0h1m5 0h1m3 0h5m3 0h2m2 0h4m5 0h3m2 0h3m2 0h3m3 0h2m2 0h1m1 0h4M0 125.5m0 0h2m9 0h2m4 0h1m1 0h2m6 0h2m35 0h1m12 0h1m23 0h3m2 0h1m2 0h3m10 0h4m18 0h2m6 0h1m1 0h1m1 0h1m20 0h1m14 0h1m6 0h1m11 0h1m8 0h3m2 0h1m10 0h2m1 0h1m2 0h4m5 0h1m6 0h1m7 0h1m4 0h1m25 0h3m2 0h3m2 0h5m1 0h2m1 0h1m2 0h1m1 0h3m2 0h10m1 0h1m2 0h2m2 0h3m7 0h2m4 0h24m3 0h7m2 0h9m4 0h1m2 0h5m1 0h1m2 0h5m1 0h13m2 0h8M0 126.5m15 0h1m38 0h1m30 0h1m6 0h1m12 0h1m9 0h1m1 0h1m49 0h2m50 0h1m7 0h1m11 0h4m5 0h1m11 0h1m10 0h2m27 0h1m6 0h1m2 0h1m3 0h1m4 0h2m5 0h1m5 0h1m1 0h2m5 0h1m2 0h4m1 0h1m2 0h4m2 0h1m2 0h6m1 0h5m1 0h7m3 0h1m1 0h9m1 0h3m1 0h2m1 0h6m1 0h7m1 0h2m1 0h4m3 0h1m7 0h1m2 0h1m3 0h1m1 0h1m2 0h2M0 127.5m0 0h2m19 0h1m2 0h3m23 0h1m22 0h1m2 0h1m11 0h2m5 0h3m1 0h3m1 0h1m2 0h1m4 0h2m17 0h1m15 0h1m2 0h1m3 0h1m11 0h5m15 0h1m29 0h1m2 0h1m20 0h1m1 0h2m2 0h1m6 0h1m3 0h2m6 0h1m24 0h1m1 0h4m2 0h6m1 0h1m7 0h2m1 0h3m14 0h1m1 0h1m9 0h5m8 0h1m6 0h17m1 0h4m5 0h4m3 0h8m2 0h2m1 0h4m3 0h4m2 0h2m1 0h1m2 0h2m2 0h3m1 0h12M0 128.5m18 0h1m18 0h1m22 0h1m9 0h2m1 0h1m5 0h1m9 0h1m109 0h2m41 0h4m4 0h1m3 0h1m10 0h1m17 0h1m9 0h1m13 0h2m13 0h1m8 0h2m2 0h4m4 0h3m1 0h1m3 0h3m2 0h1m2 0h2m1 0h15m2 0h3m1 0h1m2 0h1m5 0h3m1 0h1m8 0h4m1 0h7m1 0h2m1 0h1m1 0h5m1 0h1m2 0h1m3 0h1m2 0h9m1 0h1M0 129.5m19 0h3m7 0h1m17 0h3m10 0h1m28 0h2m25 0h1m22 0h1m2 0h2m11 0h1m20 0h1m36 0h1m6 0h1m1 0h1m16 0h1m3 0h1m8 0h1m13 0h1m21 0h1m1 0h1m4 0h2m5 0h1m4 0h7m1 0h5m3 0h2m1 0h3m6 0h4m1 0h1m4 0h1m1 0h3m4 0h2m8 0h1m1 0h4m1 0h2m3 0h3m1 0h2m1 0h3m1 0h6m2 0h1m3 0h2m1 0h1m1 0h2m2 0h2m1 0h10m1 0h2m3 0h1m1 0h4m2 0h1m1 0h1m2 0h1m1 0h4M0 130.5m14 0h2m1 0h3m40 0h1m27 0h1m1 0h1m19 0h1m2 0h1m14 0h1m3 0h1m20 0h2m20 0h1m13 0h1m1 0h1m4 0h3m4 0h2m2 0h3m29 0h1m4 0h1m1 0h1m20 0h1m5 0h1m13 0h2m5 0h1m1 0h1m1 0h2m10 0h1m5 0h2m17 0h1m4 0h1m5 0h3m15 0h4m12 0h1m2 0h2m4 0h5m7 0h1m2 0h1m1 0h2m3 0h4m4 0h4m5 0h1m6 0h2m2 0h1m1 0h3m2 0h1m1 0h2M0 131.5m34 0h2m24 0h1m13 0h1m2 0h1m2 0h1m10 0h2m4 0h1m1 0h1m13 0h1m7 0h2m11 0h1m11 0h1m3 0h1m1 0h2m18 0h2m8 0h1m4 0h1m2 0h1m4 0h1m9 0h1m5 0h1m8 0h1m12 0h2m7 0h3m2 0h1m3 0h1m5 0h1m9 0h1m5 0h1m18 0h2m1 0h10m1 0h2m2 0h1m1 0h3m3 0h1m5 0h1m1 0h1m12 0h3m1 0h3m2 0h1m3 0h1m2 0h1m6 0h1m1 0h1m2 0h1m1 0h2m1 0h1m1 0h2m1 0h1m2 0h3m1 0h1m1 0h2m2 0h1m1 0h3m1 0h1m3 0h1m4 0h3m3 0h5m6 0h1m2 0h1m1 0h10m1 0h1m2 0h5m1 0h1M0 132.5m4 0h1m4 0h1m22 0h2m23 0h1m2 0h1m1 0h1m13 0h1m1 0h1m5 0h1m1 0h2m15 0h1m2 0h1m7 0h1m16 0h1m2 0h1m20 0h2m39 0h1m3 0h1m4 0h1m5 0h1m7 0h3m19 0h3m1 0h1m18 0h3m5 0h3m14 0h2m1 0h1m5 0h5m3 0h3m1 0h2m9 0h2m1 0h1m8 0h4m1 0h1m1 0h2m1 0h2m2 0h2m4 0h1m3 0h3m4 0h10m1 0h1m5 0h2m4 0h16m1 0h1m1 0h1m1 0h2m5 0h2m3 0h1m1 0h6m2 0h9m8 0h2M0 133.5m1 0h2m1 0h6m48 0h1m16 0h1m1 0h1m22 0h2m1 0h4m2 0h4m2 0h1m6 0h2m1 0h1m2 0h1m1 0h1m22 0h1m11 0h1m1 0h1m3 0h3m14 0h1m1 0h1m4 0h3m23 0h1m7 0h2m6 0h1m1 0h5m1 0h4m4 0h1m1 0h1m3 0h1m5 0h2m3 0h3m12 0h5m8 0h1m1 0h2m1 0h5m7 0h3m4 0h5m4 0h5m1 0h1m3 0h1m2 0h1m3 0h3m1 0h1m4 0h1m8 0h4m1 0h3m1 0h1m3 0h5m2 0h8m1 0h9m4 0h2m2 0h5m1 0h3m2 0h2m1 0h1m2 0h7m6 0h5m1 0h1M0 134.5m5 0h1m6 0h2m9 0h1m5 0h1m1 0h2m17 0h1m5 0h1m1 0h1m14 0h1m6 0h1m2 0h1m14 0h2m42 0h1m24 0h2m7 0h1m25 0h3m10 0h1m4 0h1m1 0h1m7 0h3m7 0h3m2 0h1m5 0h2m2 0h3m3 0h1m9 0h1m7 0h1m1 0h1m7 0h1m3 0h1m4 0h5m1 0h1m1 0h2m3 0h3m1 0h6m1 0h2m2 0h1m1 0h1m1 0h3m1 0h1m1 0h9m1 0h10m1 0h3m1 0h1m2 0h5m1 0h7m1 0h1m1 0h1m2 0h5m1 0h16m3 0h6m1 0h3m3 0h15m2 0h1m1 0h1m1 0h7M0 135.5m33 0h1m1 0h1m6 0h2m9 0h1m3 0h2m4 0h4m4 0h1m5 0h1m6 0h1m12 0h2m11 0h3m1 0h1m1 0h1m10 0h1m7 0h1m2 0h1m5 0h3m9 0h1m28 0h1m40 0h1m6 0h1m1 0h2m5 0h5m5 0h2m11 0h1m1 0h1m4 0h1m14 0h1m2 0h6m1 0h1m3 0h1m7 0h1m9 0h1m4 0h5m3 0h1m5 0h1m1 0h2m15 0h1m1 0h3m2 0h6m3 0h1m1 0h2m1 0h4m2 0h1m2 0h2m1 0h6m1 0h3m2 0h4m1 0h9m1 0h5m3 0h1m4 0h2m1 0h2m1 0h5m1 0h8M0 136.5m0 0h1m6 0h3m1 0h1m1 0h2m13 0h6m5 0h3m3 0h1m1 0h3m3 0h1m6 0h1m7 0h2m15 0h5m1 0h1m1 0h6m1 0h2m4 0h1m6 0h3m6 0h1m16 0h1m2 0h1m2 0h1m3 0h2m2 0h1m3 0h3m10 0h1m1 0h1m3 0h2m1 0h3m24 0h1m5 0h1m3 0h6m3 0h1m1 0h1m9 0h1m1 0h2m2 0h2m10 0h2m1 0h4m10 0h4m4 0h1m2 0h2m2 0h3m1 0h2m2 0h7m4 0h2m1 0h2m4 0h1m7 0h1m1 0h2m7 0h3m3 0h1m2 0h13m1 0h2m3 0h8m1 0h8m2 0h3m4 0h12m2 0h2m2 0h10m1 0h1m1 0h18m5 0h1m1 0h6M0 137.5m19 0h1m4 0h1m15 0h1m21 0h1m24 0h2m6 0h1m6 0h1m51 0h2m77 0h1m5 0h2m1 0h2m1 0h1m11 0h3m1 0h1m1 0h2m5 0h2m18 0h1m5 0h1m5 0h1m1 0h1m17 0h2m8 0h2m1 0h2m1 0h2m5 0h1m2 0h4m6 0h1m1 0h1m4 0h2m3 0h3m1 0h1m5 0h2m1 0h1m14 0h10m1 0h2m2 0h7m3 0h1m1 0h6m1 0h4m2 0h1m1 0h2m1 0h1m1 0h2m1 0h2M0 138.5m9 0h1m1 0h1m1 0h3m15 0h5m6 0h1m2 0h1m18 0h1m10 0h1m11 0h1m14 0h2m4 0h2m40 0h1m17 0h4m4 0h1m30 0h1m9 0h1m13 0h1m7 0h7m5 0h1m1 0h1m1 0h1m10 0h3m1 0h1m5 0h1m11 0h4m8 0h1m1 0h9m7 0h4m4 0h3m1 0h3m6 0h6m3 0h4m1 0h5m1 0h2m1 0h1m3 0h5m3 0h5m2 0h2m1 0h1m6 0h1m1 0h1m5 0h5m3 0h14m1 0h1m1 0h6m3 0h5m3 0h6m1 0h2M0 139.5m4 0h5m2 0h1m1 0h1m66 0h1m41 0h2m9 0h1m16 0h1m6 0h1m27 0h1m15 0h1m11 0h1m13 0h1m12 0h2m25 0h1m7 0h4m2 0h1m3 0h2m22 0h1m5 0h1m4 0h3m3 0h1m4 0h1m9 0h1m4 0h1m4 0h2m12 0h1m1 0h1m1 0h2m3 0h1m3 0h6m2 0h2m1 0h1m1 0h5m1 0h1m2 0h3m5 0h1m2 0h11m1 0h1m1 0h1m4 0h1m2 0h1m1 0h1m1 0h2m4 0h3m2 0h2M0 140.5m15 0h1m2 0h1m9 0h1m2 0h1m4 0h1m17 0h1m1 0h2m12 0h1m12 0h1m3 0h1m34 0h2m11 0h1m1 0h1m39 0h1m14 0h1m3 0h1m16 0h2m10 0h1m5 0h1m2 0h1m10 0h2m11 0h1m12 0h1m1 0h1m6 0h2m3 0h1m8 0h3m5 0h1m3 0h1m3 0h1m1 0h8m1 0h1m4 0h3m1 0h2m3 0h1m1 0h2m1 0h1m2 0h1m3 0h3m2 0h1m1 0h2m1 0h1m1 0h1m12 0h1m3 0h1m1 0h2m3 0h2m8 0h1m2 0h2m1 0h3m1 0h4m1 0h6m4 0h2m1 0h1m2 0h5m2 0h1m1 0h2m5 0h3m1 0h1m2 0h3M0 141.5m54 0h1m24 0h1m8 0h2m26 0h1m3 0h1m21 0h1m41 0h1m40 0h1m14 0h1m4 0h1m3 0h1m2 0h1m34 0h1m18 0h1m12 0h1m7 0h2m1 0h1m5 0h1m15 0h1m2 0h4m5 0h8m1 0h4m4 0h1m6 0h2m6 0h3m2 0h4m5 0h1m2 0h2m4 0h1m1 0h1m3 0h1m3 0h1m5 0h1m2 0h1m4 0h3m2 0h2M0 142.5m0 0h1m1 0h1m21 0h1m3 0h1m4 0h1m29 0h2m1 0h1m11 0h1m2 0h1m1 0h1m24 0h1m1 0h1m46 0h1m30 0h2m40 0h1m1 0h1m7 0h1m1 0h1m2 0h2m10 0h1m2 0h1m34 0h5m7 0h1m7 0h1m1 0h3m1 0h2m4 0h1m1 0h2m1 0h2m4 0h2m1 0h2m2 0h2m1 0h1m2 0h12m3 0h3m1 0h3m3 0h3m1 0h11m1 0h2m3 0h20m4 0h8m1 0h13m3 0h4M0 143.5m3 0h1m34 0h1m3 0h4m2 0h1m2 0h1m6 0h3m1 0h1m4 0h1m5 0h1m2 0h2m8 0h1m6 0h3m1 0h4m11 0h1m4 0h2m4 0h1m8 0h1m11 0h2m7 0h2m1 0h1m7 0h1m2 0h1m13 0h1m1 0h1m11 0h2m4 0h1m2 0h1m13 0h1m3 0h1m13 0h1m1 0h1m2 0h3m1 0h1m1 0h1m4 0h1m8 0h2m5 0h2m1 0h1m3 0h1m1 0h1m5 0h2m5 0h1m9 0h1m3 0h1m1 0h4m6 0h4m1 0h1m4 0h1m8 0h1m5 0h1m1 0h4m4 0h2m1 0h15m1 0h1m1 0h11m1 0h2m1 0h4m3 0h1m2 0h10m3 0h4m1 0h1m1 0h7m1 0h4m3 0h3m1 0h1m1 0h3m1 0h8M0 144.5m16 0h1m5 0h1m16 0h2m7 0h1m8 0h1m24 0h1m2 0h3m16 0h2m8 0h1m2 0h1m9 0h1m1 0h1m13 0h1m2 0h1m39 0h1m11 0h4m5 0h1m3 0h1m4 0h2m7 0h1m13 0h3m1 0h1m2 0h1m10 0h1m1 0h1m23 0h2m1 0h1m5 0h1m3 0h3m1 0h1m2 0h5m3 0h1m1 0h1m4 0h1m1 0h2m1 0h1m1 0h3m7 0h3m2 0h2m1 0h1m4 0h3m1 0h2m2 0h1m2 0h1m4 0h4m1 0h1m1 0h4m1 0h2m2 0h3m1 0h1m3 0h1m3 0h3m1 0h4m1 0h4m1 0h24m2 0h3m5 0h2m4 0h1m1 0h2M0 145.5m31 0h1m7 0h1m2 0h3m1 0h1m35 0h1m6 0h1m12 0h2m9 0h1m16 0h1m89 0h1m2 0h2m12 0h3m5 0h3m1 0h1m1 0h1m6 0h1m1 0h1m2 0h1m22 0h1m1 0h2m2 0h1m4 0h1m2 0h3m4 0h1m1 0h2m1 0h4m1 0h1m1 0h1m2 0h1m4 0h1m2 0h1m3 0h2m5 0h1m4 0h1m1 0h2m2 0h1m1 0h1m5 0h6m3 0h1m1 0h2m2 0h2m1 0h1m2 0h5m1 0h18m1 0h1m1 0h8m3 0h4m3 0h9m1 0h2m1 0h2m1 0h8M0 146.5m92 0h1m13 0h1m2 0h1m12 0h2m8 0h3m5 0h1m24 0h1m1 0h1m7 0h2m36 0h2m12 0h1m4 0h1m7 0h1m2 0h3m17 0h1m2 0h2m1 0h1m21 0h7m6 0h1m9 0h2m9 0h3m23 0h2m2 0h1m7 0h14m4 0h6m1 0h3m1 0h2m2 0h2m1 0h3m2 0h1m1 0h2m1 0h9m3 0h2m1 0h1m2 0h1m1 0h2m1 0h1m1 0h3m3 0h1m2 0h1m1 0h1m1 0h2M0 147.5m17 0h2m49 0h2m16 0h2m1 0h1m45 0h1m1 0h1m3 0h1m11 0h1m5 0h1m18 0h1m38 0h1m21 0h3m13 0h1m1 0h1m12 0h1m20 0h1m7 0h1m2 0h1m5 0h1m2 0h2m4 0h1m3 0h2m3 0h4m2 0h5m3 0h3m2 0h1m2 0h1m10 0h1m3 0h1m3 0h2m1 0h3m3 0h5m1 0h13m2 0h10m1 0h12m1 0h1m3 0h4m1 0h3m3 0h5m1 0h1m1 0h6M0 148.5m1 0h1m30 0h2m15 0h1m1 0h1m1 0h1m5 0h1m14 0h2m11 0h1m1 0h1m10 0h1m5 0h2m1 0h1m2 0h1m2 0h1m1 0h1m10 0h1m2 0h1m1 0h1m1 0h4m7 0h1m5 0h1m10 0h1m11 0h2m18 0h1m4 0h1m3 0h1m11 0h1m15 0h2m3 0h10m4 0h1m6 0h1m1 0h1m4 0h2m4 0h1m8 0h4m7 0h1m2 0h6m1 0h2m1 0h1m1 0h11m2 0h4m2 0h1m1 0h1m3 0h4m2 0h2m2 0h1m2 0h6m2 0h6m4 0h13m2 0h3m2 0h25m2 0h9m2 0h10m2 0h13m1 0h4M0 149.5m36 0h1m2 0h1m2 0h1m26 0h1m5 0h3m4 0h1m2 0h2m1 0h1m3 0h2m11 0h1m3 0h3m2 0h2m14 0h4m22 0h1m3 0h2m1 0h1m16 0h1m2 0h1m1 0h1m1 0h4m8 0h1m19 0h3m3 0h1m9 0h1m2 0h4m1 0h2m1 0h2m15 0h1m3 0h1m14 0h5m3 0h1m5 0h1m1 0h4m2 0h1m5 0h1m6 0h1m13 0h2m3 0h2m1 0h1m1 0h11m7 0h7m3 0h1m1 0h11m1 0h4m3 0h2m3 0h4m3 0h4m2 0h3m2 0h3m2 0h1m3 0h6m3 0h8m2 0h9"/><path stroke="#6060ff" d="M0 0.5m24 0h1m17 0h1m18 0h1m1 0h1m7 0h1m22 0h1m13 0h1m29 0h1m8 0h1m12 0h3m12 0h1m2 0h1m18 0h1m44 0h1m4 0h1m11 0h1m55 0h1m4 0h1m34 0h1m25 0h1m2 0h1m9 0h2m5 0h1m11 0h2m5 0h1m10 0h2M0 1.5m15 0h1m3 0h1m1 0h1m23 0h1m10 0h2m11 0h1m1 0h1m4 0h1m9 0h1m9 0h2m4 0h1m4 0h1m4 0h1m56 0h1m26 0h1m30 0h1m19 0h3m2 0h1m16 0h1m2 0h1m24 0h1m11 0h1m8 0h1m8 0h1m6 0h1m1 0h1m3 0h2m2 0h1m58 0h1m29 0h1m8 0h1M0 2.5m19 0h1m9 0h1m8 0h1m4 0h1m2 0h1m2 0h1m2 0h1m19 0h1m16 0h1m3 0h1m24 0h1m5 0h2m20 0h1m3 0h1m18 0h1m2 0h1m27 0h1m3 0h2m1 0h1m10 0h1m5 0h1m15 0h1m2 0h1m12 0h1m6 0h1m3 0h1m8 0h1m8 0h1m4 0h1m18 0h1m34 0h1m30 0h1m14 0h1m11 0h2m4 0h1m19 0h1m18 0h1M0 3.5m2 0h1m7 0h1m4 0h1m2 0h1m7 0h1m20 0h1m4 0h1m5 0h1m17 0h1m1 0h1m3 0h1m6 0h1m1 0h1m26 0h2m12 0h2m1 0h1m1 0h1m21 0h1m5 0h1m5 0h1m1 0h2m20 0h1m3 0h1m25 0h1m4 0h2m36 0h1m1 0h1m1 0h1m11 0h1m26 0h1m27 0h1m6 0h1m11 0h1m11 0h1m8 0h1m54 0h1m12 0h1M0 4.5m0 0h1m24 0h1m1 0h1m8 0h1m10 0h1m6 0h1m3 0h1m17 0h1m9 0h1m8 0h1m2 0h1m10 0h1m10 0h1m30 0h1m22 0h1m11 0h1m19 0h1m23 0h1m33 0h1m27 0h1m9 0h1m1 0h1m2 0h1m3 0h1m4 0h1m12 0h1m2 0h1m12 0h1m19 0h1m77 0h1M0 5.5m8 0h1m12 0h1m19 0h1m3 0h1m8 0h1m13 0h1m2 0h2m4 0h1m10 0h1m6 0h2m4 0h1m27 0h1m5 0h1m7 0h1m25 0h1m3 0h1m2 0h1m13 0h1m6 0h1m10 0h1m21 0h1m1 0h1m23 0h1m1 0h1m5 0h1m1 0h1m8 0h1m7 0h1m5 0h1m39 0h1m6 0h1m28 0h2m10 0h2m5 0h1m12 0h1m6 0h1m11 0h1m4 0h1m8 0h1m17 0h1M0 6.5m18 0h1m32 0h1m1 0h1m3 0h1m15 0h1m11 0h1m17 0h3m43 0h1m16 0h1m2 0h1m7 0h1m27 0h1m34 0h1m12 0h1m3 0h1m5 0h1m17 0h1m19 0h1m7 0h1m19 0h1m6 0h1m3 0h1m6 0h1m3 0h1m12 0h1m19 0h1m6 0h1m3 0h1m43 0h1M0 7.5m0 0h1m11 0h1m10 0h2m1 0h1m61 0h1m8 0h1m20 0h2m1 0h2m3 0h1m23 0h1m12 0h1m53 0h1m7 0h1m22 0h1m6 0h1m27 0h2m8 0h1m2 0h1m1 0h1m33 0h1m10 0h1m24 0h1m7 0h1m7 0h1m3 0h1m9 0h1m3 0h1m27 0h1m5 0h1M0 8.5m13 0h1m6 0h2m10 0h1m5 0h1m10 0h1m22 0h1m42 0h1m56 0h1m9 0h1m10 0h1m12 0h1m6 0h1m20 0h1m52 0h1m6 0h1m11 0h1m4 0h2m1 0h1m7 0h1m3 0h1m21 0h1m34 0h1m3 0h1m33 0h1M0 9.5m3 0h1m20 0h1m6 0h1m14 0h1m5 0h1m10 0h1m3 0h1m18 0h1m3 0h1m8 0h1m9 0h1m15 0h1m4 0h1m23 0h1m6 0h1m6 0h1m4 0h1m10 0h1m27 0h1m13 0h2m28 0h1m25 0h1m7 0h2m11 0h1m13 0h1m33 0h1m24 0h3m1 0h1m3 0h1m21 0h3m6 0h1m11 0h1m7 0h1m5 0h1m3 0h1M0 10.5m11 0h1m5 0h1m8 0h1m10 0h1m29 0h2m6 0h1m30 0h1m11 0h1m10 0h1m1 0h1m19 0h1m3 0h1m10 0h1m4 0h2m32 0h1m18 0h2m11 0h1m17 0h1m1 0h1m3 0h1m4 0h1m2 0h2m25 0h1m16 0h1m8 0h1m7 0h1m7 0h1m4 0h1m3 0h1m1 0h1m4 0h1m12 0h1m4 0h1m42 0h1m2 0h1m21 0h1M0 11.5m1 0h1m24 0h1m15 0h1m2 0h1m1 0h2m14 0h1m5 0h1m9 0h1m6 0h2m12 0h1m1 0h1m18 0h1m9 0h1m11 0h1m3 0h1m5 0h1m3 0h2m31 0h1m22 0h1m12 0h1m8 0h1m1 0h1m12 0h1m1 0h1m3 0h1m10 0h1m17 0h1m1 0h1m6 0h1m6 0h1m6 0h1m4 0h1m3 0h1m1 0h1m12 0h2m5 0h1m3 0h1m3 0h1m7 0h1m15 0h1m17 0h1m14 0h1m13 0h1m2 0h1m1 0h1m8 0h1M0 12.5m10 0h1m24 0h1m22 0h1m8 0h1m11 0h1m16 0h1m9 0h1m6 0h1m32 0h3m13 0h2m55 0h1m17 0h1m44 0h1m20 0h1m7 0h1m16 0h1m5 0h1m3 0h1m15 0h2m12 0h1m8 0h1m5 0h1m5 0h2m6 0h1m3 0h1m25 0h1m4 0h1m1 0h1m2 0h1M0 13.5m4 0h1m7 0h1m4 0h2m16 0h2m20 0h1m7 0h1m15 0h1m2 0h1m32 0h2m62 0h1m2 0h1m9 0h1m4 0h1m9 0h2m6 0h1m20 0h1m3 0h1m33 0h1m15 0h1m5 0h1m7 0h1m17 0h1m3 0h1m10 0h1m13 0h2m1 0h1m14 0h1m19 0h1m23 0h1m7 0h1m3 0h1m3 0h1m2 0h1m7 0h1M0 14.5m6 0h2m5 0h2m6 0h1m25 0h1m6 0h1m1 0h1m4 0h1m29 0h1m42 0h2m2 0h1m8 0h1m1 0h2m1 0h1m28 0h1m35 0h1m5 0h1m15 0h1m3 0h1m5 0h1m1 0h1m3 0h1m2 0h1m8 0h1m1 0h1m16 0h1m5 0h1m20 0h1m6 0h1m4 0h1m22 0h1m32 0h2m10 0h2m5 0h1m5 0h1m33 0h2M0 15.5m8 0h2m2 0h1m1 0h1m10 0h1m34 0h1m5 0h1m3 0h1m11 0h1m10 0h1m57 0h1m20 0h1m4 0h1m65 0h1m25 0h1m2 0h1m10 0h1m15 0h2m4 0h2m5 0h1m9 0h1m28 0h1m18 0h1m18 0h1m15 0h1m9 0h1m9 0h1m4 0h1M0 16.5m2 0h1m1 0h1m28 0h1m10 0h1m9 0h1m6 0h1m6 0h1m5 0h3m3 0h1m27 0h1m31 0h1m20 0h1m1 0h1m56 0h1m22 0h1m10 0h1m7 0h1m27 0h1m8 0h3m1 0h1m28 0h1m20 0h1m13 0h1m16 0h1m46 0h2M0 17.5m0 0h1m54 0h1m7 0h1m2 0h1m2 0h1m4 0h1m2 0h1m1 0h1m12 0h2m4 0h1m32 0h1m6 0h1m25 0h1m72 0h1m36 0h1m11 0h1m5 0h1m2 0h1m16 0h1m4 0h1m4 0h1m5 0h1m8 0h1m1 0h1m33 0h1m3 0h1m3 0h1m18 0h1m13 0h1m1 0h1m16 0h1M0 18.5m13 0h1m2 0h1m40 0h1m8 0h1m23 0h1m14 0h1m6 0h1m45 0h2m10 0h1m6 0h1m1 0h1m74 0h1m37 0h1m27 0h3m9 0h1m7 0h1m4 0h1m1 0h1m1 0h3m3 0h1m16 0h1m9 0h1m12 0h1m1 0h1m6 0h1m37 0h1m2 0h1m3 0h1M0 19.5m15 0h1m3 0h1m4 0h1m17 0h1m32 0h1m9 0h1m11 0h1m15 0h2m37 0h1m7 0h1m16 0h1m4 0h1m56 0h2m3 0h1m10 0h1m17 0h1m2 0h1m8 0h1m3 0h1m6 0h1m6 0h1m30 0h1m3 0h1m8 0h1m27 0h1m11 0h1m14 0h1m1 0h1m7 0h1m6 0h2m4 0h2m5 0h1m4 0h2M0 20.5m12 0h1m7 0h1m5 0h1m7 0h1m14 0h1m11 0h1m2 0h2m22 0h2m11 0h1m65 0h1m2 0h1m9 0h1m65 0h1m11 0h1m11 0h1m14 0h1m4 0h1m5 0h1m5 0h1m44 0h1m8 0h1m17 0h1m26 0h1m37 0h2M0 21.5m12 0h1m8 0h1m17 0h1m31 0h1m16 0h3m5 0h1m7 0h1m8 0h1m2 0h1m10 0h1m48 0h1m4 0h1m8 0h2m4 0h2m20 0h1m20 0h1m14 0h1m5 0h2m3 0h1m3 0h1m1 0h3m11 0h1m35 0h1m23 0h1m1 0h1m4 0h1m14 0h1m15 0h2m4 0h1m13 0h1m1 0h2m8 0h2m4 0h1m4 0h2m5 0h1m7 0h1M0 22.5m38 0h1m8 0h1m17 0h1m2 0h1m3 0h1m39 0h1m37 0h1m7 0h1m11 0h1m7 0h1m23 0h1m7 0h1m33 0h1m4 0h1m1 0h1m10 0h1m34 0h1m13 0h1m39 0h1m30 0h1m8 0h3m7 0h2m1 0h1m23 0h1m12 0h1M0 23.5m4 0h2m15 0h1m7 0h1m17 0h1m7 0h2m1 0h1m3 0h1m4 0h1m35 0h2m1 0h3m10 0h2m6 0h1m14 0h1m9 0h1m12 0h1m6 0h1m1 0h1m21 0h1m17 0h1m6 0h1m16 0h2m7 0h1m1 0h1m2 0h1m5 0h1m39 0h1m3 0h1m4 0h2m9 0h1m5 0h1m1 0h1m20 0h1m17 0h1m16 0h1m1 0h1m6 0h1m4 0h2m3 0h1m9 0h1m26 0h1M0 24.5m17 0h1m1 0h1m1 0h1m17 0h2m1 0h1m19 0h1m7 0h1m1 0h1m7 0h1m9 0h1m1 0h1m11 0h1m8 0h1m44 0h1m8 0h1m11 0h1m4 0h1m1 0h1m88 0h1m13 0h1m2 0h1m4 0h1m2 0h2m2 0h1m3 0h2m13 0h1m7 0h1m19 0h1m3 0h1m12 0h1m18 0h1m21 0h1m12 0h1m14 0h1m3 0h1m2 0h1m4 0h1M0 25.5m7 0h1m4 0h2m1 0h1m3 0h1m3 0h1m18 0h1m2 0h1m2 0h1m10 0h1m21 0h1m14 0h1m7 0h1m13 0h1m24 0h1m2 0h1m9 0h1m14 0h3m9 0h1m35 0h1m5 0h1m45 0h1m15 0h1m1 0h2m8 0h1m5 0h1m21 0h1m8 0h1m2 0h1m7 0h1m21 0h1m33 0h1m2 0h1m4 0h1m10 0h1M0 26.5m12 0h1m3 0h1m3 0h1m11 0h1m1 0h1m1 0h1m2 0h1m14 0h1m14 0h1m1 0h1m5 0h1m13 0h1m11 0h1m21 0h1m29 0h2m8 0h1m2 0h1m9 0h1m3 0h1m34 0h1m1 0h1m38 0h2m3 0h1m6 0h1m1 0h1m14 0h1m15 0h1m12 0h1m22 0h1m4 0h1m10 0h1m1 0h1m9 0h1m7 0h1m20 0h1m2 0h2m15 0h1m4 0h1m20 0h1M0 27.5m30 0h1m1 0h1m2 0h1m27 0h2m4 0h1m2 0h1m17 0h1m24 0h1m5 0h1m4 0h1m21 0h1m9 0h1m12 0h1m4 0h1m8 0h1m3 0h1m8 0h1m55 0h1m5 0h1m5 0h1m40 0h1m9 0h1m7 0h1m2 0h1m11 0h1m5 0h1m9 0h1m1 0h1m14 0h1m8 0h1m21 0h1m6 0h1m13 0h1m8 0h1M0 28.5m6 0h1m6 0h1m20 0h1m2 0h1m5 0h1m2 0h1m9 0h1m39 0h2m42 0h2m3 0h1m5 0h1m11 0h1m8 0h2m11 0h1m16 0h1m5 0h2m7 0h1m25 0h1m12 0h1m9 0h1m3 0h1m11 0h2m6 0h1m17 0h1m18 0h2m14 0h1m4 0h1m4 0h1m23 0h1m18 0h1m6 0h1m10 0h2m19 0h1M0 29.5m9 0h1m3 0h1m1 0h1m6 0h1m13 0h1m26 0h1m8 0h1m4 0h1m14 0h1m5 0h1m5 0h1m4 0h1m2 0h2m4 0h1m7 0h1m16 0h1m8 0h2m1 0h1m6 0h1m4 0h1m1 0h1m4 0h2m5 0h1m1 0h3m50 0h1m21 0h1m8 0h1m42 0h1m1 0h1m7 0h1m2 0h1m6 0h1m5 0h1m6 0h1m5 0h1m15 0h1m2 0h2m15 0h2m8 0h1m18 0h1m15 0h1M0 30.5m0 0h1m7 0h1m10 0h1m14 0h1m9 0h1m5 0h1m3 0h1m4 0h1m1 0h1m3 0h1m8 0h1m1 0h1m6 0h1m1 0h1m3 0h2m3 0h2m23 0h1m1 0h1m6 0h1m37 0h1m6 0h1m2 0h1m13 0h1m16 0h1m47 0h1m12 0h1m15 0h1m29 0h2m2 0h1m13 0h1m7 0h1m5 0h1m3 0h1m4 0h1m31 0h2m2 0h1m9 0h1m11 0h1m4 0h1m2 0h1m1 0h1m3 0h1m10 0h1m9 0h1M0 31.5m6 0h1m2 0h1m6 0h1m22 0h1m5 0h1m3 0h1m12 0h1m11 0h1m3 0h1m14 0h2m4 0h1m13 0h1m53 0h1m5 0h1m33 0h2m42 0h1m7 0h1m68 0h1m6 0h1m29 0h3m4 0h1m7 0h1m4 0h2M0 32.5m44 0h1m5 0h1m3 0h1m3 0h1m5 0h1m10 0h1m70 0h1m14 0h1m3 0h2m15 0h1m10 0h1m37 0h1m8 0h1m2 0h1m16 0h1m39 0h1m5 0h1m43 0h1m6 0h1m23 0h2m4 0h1m2 0h1m27 0h2m7 0h1M0 33.5m11 0h1m1 0h1m11 0h1m34 0h1m1 0h1m14 0h1m3 0h1m19 0h1m9 0h1m59 0h1m29 0h1m6 0h1m3 0h1m21 0h1m18 0h2m9 0h2m15 0h1m3 0h1m8 0h1m14 0h1m13 0h1m2 0h1m9 0h1m7 0h1m2 0h1m2 0h1m46 0h1m11 0h1m15 0h2m13 0h1m2 0h1m2 0h1M0 34.5m19 0h1m22 0h1m9 0h1m60 0h1m28 0h1m7 0h1m3 0h1m2 0h1m5 0h1m19 0h1m53 0h1m61 0h1m8 0h1m5 0h1m11 0h1m1 0h1m3 0h1m24 0h1m8 0h1m21 0h1m6 0h1m7 0h1m25 0h1m9 0h1m9 0h1M0 35.5m10 0h1m36 0h1m12 0h1m8 0h2m4 0h1m16 0h1m13 0h1m7 0h1m1 0h1m35 0h1m8 0h1m25 0h1m50 0h1m25 0h1m9 0h1m22 0h1m1 0h1m17 0h1m37 0h1m17 0h1m35 0h1m6 0h1m14 0h1m1 0h1m14 0h1M0 36.5m2 0h1m1 0h1m3 0h1m1 0h1m3 0h1m10 0h2m18 0h1m7 0h1m7 0h1m14 0h1m17 0h1m8 0h1m12 0h1m20 0h1m28 0h1m2 0h2m8 0h1m41 0h1m2 0h1m12 0h1m7 0h1m1 0h1m5 0h1m31 0h1m13 0h1m5 0h1m30 0h1m10 0h1m7 0h1m17 0h1m1 0h1m23 0h1m8 0h1m16 0h1m19 0h1M0 37.5m12 0h1m4 0h1m11 0h1m4 0h1m6 0h1m11 0h1m10 0h1m2 0h1m1 0h1m1 0h1m12 0h2m26 0h2m10 0h1m12 0h1m25 0h1m3 0h1m12 0h1m5 0h1m10 0h1m33 0h1m8 0h1m7 0h1m8 0h1m26 0h1m1 0h1m10 0h1m7 0h1m20 0h1m24 0h1m2 0h1m47 0h1m11 0h2m16 0h1m5 0h1m8 0h1M0 38.5m4 0h1m1 0h1m2 0h1m6 0h1m50 0h1m2 0h1m3 0h1m34 0h2m16 0h1m10 0h1m14 0h1m3 0h1m24 0h1m7 0h1m8 0h1m60 0h1m10 0h1m2 0h1m5 0h1m5 0h1m19 0h2m8 0h1m7 0h1m2 0h1m12 0h1m25 0h1m14 0h1m10 0h2m6 0h2m21 0h1M0 39.5m4 0h1m6 0h1m5 0h2m1 0h1m8 0h1m2 0h1m3 0h1m7 0h1m10 0h2m12 0h1m5 0h1m3 0h1m33 0h1m16 0h1m26 0h1m5 0h1m13 0h2m6 0h1m52 0h1m13 0h1m3 0h1m14 0h1m8 0h1m8 0h1m1 0h1m5 0h1m11 0h1m6 0h1m3 0h2m28 0h1m46 0h1m16 0h1m4 0h1m1 0h1m15 0h1M0 40.5m0 0h1m9 0h1m11 0h1m7 0h1m17 0h1m34 0h1m13 0h1m3 0h1m2 0h1m9 0h1m1 0h1m18 0h2m6 0h1m26 0h1m23 0h1m9 0h1m2 0h1m37 0h1m59 0h2m9 0h1m8 0h1m5 0h2m15 0h1m20 0h2m5 0h2m2 0h1m10 0h1m13 0h1m11 0h2m6 0h1m9 0h1m6 0h1M0 41.5m3 0h1m8 0h1m1 0h1m4 0h1m4 0h1m15 0h1m8 0h1m1 0h1m24 0h1m3 0h1m22 0h1m10 0h1m2 0h2m1 0h1m23 0h1m7 0h1m20 0h1m3 0h1m30 0h1m3 0h1m12 0h1m4 0h1m40 0h1m12 0h1m16 0h1m22 0h1m26 0h1m18 0h1m63 0h1M0 42.5m0 0h2m9 0h1m15 0h1m4 0h1m13 0h1m5 0h1m38 0h3m9 0h1m19 0h1m15 0h1m17 0h2m5 0h2m6 0h2m10 0h1m42 0h1m4 0h1m14 0h1m14 0h1m4 0h1m17 0h1m2 0h1m2 0h1m2 0h1m5 0h1m3 0h1m19 0h1m16 0h1m16 0h1m19 0h1m9 0h1m13 0h1m15 0h1m19 0h1m9 0h1M0 43.5m1 0h2m14 0h1m4 0h1m3 0h1m4 0h1m21 0h2m29 0h1m9 0h1m25 0h1m32 0h1m14 0h1m8 0h1m4 0h1m36 0h1m39 0h1m31 0h1m3 0h1m3 0h2m2 0h1m17 0h1m4 0h1m5 0h1m5 0h1m15 0h1m11 0h1m2 0h1m3 0h3m17 0h1m35 0h1m7 0h1M0 44.5m10 0h1m15 0h1m3 0h1m11 0h1m1 0h1m8 0h1m1 0h1m9 0h1m19 0h1m10 0h1m28 0h1m20 0h1m6 0h1m5 0h1m16 0h1m16 0h1m40 0h1m2 0h1m11 0h1m6 0h1m16 0h1m11 0h1m3 0h2m9 0h1m7 0h1m3 0h1m3 0h1m1 0h1m57 0h1m2 0h2m2 0h1m45 0h1m7 0h2m1 0h1M0 45.5m11 0h1m4 0h1m2 0h1m4 0h1m27 0h1m12 0h1m16 0h1m12 0h1m17 0h1m18 0h1m20 0h1m7 0h1m3 0h2m22 0h1m16 0h1m1 0h1m37 0h1m7 0h1m5 0h1m2 0h1m2 0h1m7 0h1m8 0h1m11 0h1m4 0h1m11 0h2m4 0h2m10 0h1m13 0h1m39 0h1m15 0h1m6 0h1m9 0h1m4 0h1m9 0h1m7 0h1m2 0h1M0 46.5m23 0h1m21 0h1m12 0h2m9 0h1m7 0h1m51 0h1m13 0h1m12 0h1m1 0h1m12 0h1m6 0h1m56 0h1m31 0h1m6 0h2m4 0h1m25 0h1m2 0h1m11 0h1m7 0h1m2 0h1m6 0h1m2 0h1m14 0h1m15 0h1m6 0h1m9 0h1m2 0h1m26 0h2m2 0h1m7 0h1m16 0h1M0 47.5m16 0h1m3 0h1m1 0h1m29 0h1m20 0h1m9 0h1m2 0h1m11 0h1m6 0h1m1 0h2m8 0h1m25 0h1m31 0h1m1 0h1m1 0h1m31 0h1m23 0h1m6 0h1m2 0h1m46 0h1m6 0h1m14 0h1m1 0h1m39 0h1m1 0h1m15 0h1m8 0h1m2 0h1m7 0h1m6 0h1m2 0h1m8 0h1m7 0h1m7 0h1m5 0h2M0 48.5m6 0h1m3 0h1m35 0h1m3 0h1m9 0h1m3 0h2m13 0h1m18 0h1m12 0h1m22 0h1m3 0h1m2 0h1m11 0h1m1 0h1m2 0h1m2 0h1m1 0h1m37 0h1m5 0h1m11 0h1m14 0h1m10 0h1m5 0h1m10 0h1m8 0h2m6 0h1m8 0h1m13 0h1m4 0h1m12 0h1m7 0h1m14 0h1m12 0h1m68 0h1M0 49.5m13 0h1m8 0h1m9 0h1m11 0h1m1 0h1m7 0h1m1 0h1m8 0h1m1 0h1m12 0h1m1 0h1m7 0h1m8 0h1m16 0h1m64 0h1m3 0h1m3 0h1m1 0h1m1 0h1m25 0h1m10 0h1m3 0h1m19 0h1m6 0h1m1 0h1m4 0h1m9 0h1m2 0h1m1 0h1m10 0h1m7 0h1m20 0h1m6 0h1m24 0h1m40 0h1m10 0h1m8 0h3M0 50.5m1 0h1m3 0h1m13 0h1m1 0h1m11 0h1m7 0h1m18 0h2m11 0h2m26 0h2m2 0h1m2 0h1m9 0h1m2 0h1m16 0h1m3 0h1m6 0h1m9 0h1m35 0h1m4 0h1m1 0h1m9 0h1m1 0h1m13 0h1m23 0h1m3 0h1m6 0h1m13 0h1m4 0h1m15 0h1m16 0h1m65 0h1m54 0h1M0 51.5m25 0h1m1 0h1m36 0h1m20 0h1m10 0h1m38 0h1m2 0h1m24 0h1m24 0h1m37 0h2m3 0h1m16 0h1m3 0h1m16 0h1m50 0h1m41 0h2M0 52.5m12 0h1m5 0h1m10 0h1m6 0h1m8 0h2m4 0h1m8 0h2m5 0h1m17 0h1m3 0h1m25 0h1m2 0h2m7 0h1m14 0h1m16 0h1m13 0h1m27 0h1m13 0h1m7 0h2m1 0h1m7 0h1m13 0h1m7 0h1m24 0h1m38 0h1m99 0h1m11 0h1M0 53.5m30 0h1m11 0h2m4 0h1m4 0h1m30 0h1m1 0h1m23 0h1m3 0h1m49 0h1m24 0h1m22 0h1m15 0h1m26 0h1m3 0h2m11 0h1m3 0h2m3 0h1m28 0h1m23 0h1m2 0h1m80 0h1M0 54.5m3 0h1m30 0h1m11 0h1m14 0h1m15 0h1m1 0h1m3 0h1m3 0h2m13 0h1m8 0h1m11 0h1m6 0h1m11 0h1m4 0h1m8 0h2m23 0h1m25 0h1m7 0h1m18 0h1m20 0h2m18 0h1m6 0h1m11 0h1m10 0h1m9 0h1m2 0h1m2 0h1m1 0h1m5 0h1m1 0h1m6 0h1m4 0h1m11 0h1m2 0h1m66 0h1M0 55.5m10 0h1m3 0h1m2 0h1m6 0h1m15 0h1m12 0h1m13 0h1m8 0h1m1 0h1m5 0h1m13 0h1m19 0h1m9 0h1m15 0h2m2 0h1m1 0h1m1 0h1m10 0h1m16 0h1m9 0h1m91 0h2m4 0h1m2 0h1m2 0h1m16 0h1m17 0h1m35 0h1M0 56.5m3 0h1m12 0h1m21 0h1m15 0h1m3 0h1m9 0h1m3 0h1m8 0h1m8 0h1m8 0h1m6 0h1m10 0h1m23 0h1m19 0h1m1 0h1m4 0h1m40 0h1m2 0h1m40 0h2m4 0h1m13 0h1m9 0h1m9 0h1m5 0h1m30 0h1m4 0h3m1 0h1m2 0h1m8 0h1m62 0h1m33 0h1M0 57.5m23 0h1m12 0h1m41 0h1m2 0h1m23 0h2m11 0h1m7 0h2m8 0h1m5 0h1m25 0h1m1 0h1m43 0h1m1 0h1m6 0h1m26 0h1m2 0h1m6 0h2m17 0h1m16 0h1m19 0h1m11 0h1m12 0h1m14 0h1M0 58.5m23 0h1m23 0h1m1 0h2m8 0h1m3 0h1m2 0h1m28 0h1m1 0h1m6 0h1m18 0h1m1 0h1m2 0h1m1 0h1m23 0h1m12 0h1m8 0h1m8 0h1m2 0h1m50 0h1m2 0h1m11 0h1m1 0h2m6 0h1m1 0h1m1 0h1m12 0h1m10 0h3m10 0h1m10 0h1m1 0h1m4 0h2m4 0h1m18 0h1m1 0h1m5 0h1m6 0h1m22 0h3m11 0h1m41 0h1M0 59.5m3 0h1m5 0h2m6 0h1m1 0h1m4 0h1m15 0h2m1 0h1m7 0h2m1 0h1m26 0h1m6 0h1m6 0h1m7 0h2m6 0h1m7 0h1m2 0h1m5 0h1m18 0h1m6 0h1m19 0h1m1 0h1m7 0h1m2 0h1m19 0h1m18 0h1m13 0h1m5 0h1m2 0h1m4 0h1m11 0h1m28 0h2m3 0h1m17 0h1m10 0h1m64 0h1M0 60.5m5 0h1m5 0h1m6 0h1m16 0h1m28 0h1m9 0h1m15 0h1m17 0h1m23 0h2m13 0h1m37 0h1m5 0h2m5 0h1m11 0h1m2 0h2m1 0h1m2 0h2m13 0h1m15 0h1m21 0h1m3 0h2m31 0h2m25 0h1m31 0h1M0 61.5m9 0h1m2 0h2m25 0h1m25 0h1m2 0h1m1 0h1m1 0h1m39 0h1m6 0h1m41 0h1m13 0h1m11 0h1m4 0h1m11 0h1m4 0h1m5 0h2m3 0h1m8 0h2m1 0h1m11 0h1m40 0h1m4 0h1m1 0h1m1 0h1m5 0h1m10 0h1m16 0h1m1 0h1m19 0h1m21 0h1m54 0h1M0 62.5m75 0h1m11 0h1m6 0h1m13 0h1m27 0h1m11 0h1m5 0h1m2 0h2m8 0h1m10 0h1m11 0h1m1 0h1m18 0h1m7 0h1m19 0h1m4 0h2m38 0h1m22 0h1m1 0h1m1 0h1m16 0h1m7 0h1m90 0h1m5 0h1M0 63.5m15 0h1m15 0h2m3 0h1m57 0h1m1 0h1m2 0h2m24 0h1m2 0h1m1 0h1m5 0h1m7 0h2m5 0h2m20 0h1m27 0h1m84 0h1m12 0h1m4 0h1m136 0h1M0 64.5m7 0h1m23 0h1m3 0h1m17 0h1m22 0h1m15 0h1m8 0h1m1 0h1m5 0h1m40 0h1m18 0h1m15 0h2m17 0h1m13 0h1m82 0h1m56 0h1m46 0h1M0 65.5m15 0h1m3 0h1m1 0h1m1 0h1m7 0h1m3 0h1m8 0h1m4 0h1m11 0h1m21 0h1m18 0h1m1 0h2m6 0h1m4 0h1m6 0h1m12 0h1m25 0h1m4 0h1m8 0h1m11 0h1m24 0h2m1 0h1m34 0h1m10 0h1m5 0h1m8 0h1m5 0h1m27 0h2m10 0h1m26 0h1m2 0h1M0 66.5m17 0h1m2 0h1m6 0h1m4 0h1m8 0h1m2 0h1m9 0h2m5 0h2m15 0h1m2 0h1m5 0h2m8 0h1m1 0h1m3 0h1m11 0h1m12 0h1m7 0h1m26 0h1m49 0h1m16 0h1m7 0h1m11 0h1m6 0h1m4 0h1m14 0h1m11 0h1m25 0h1m43 0h1m1 0h1m32 0h1M0 67.5m0 0h1m31 0h1m27 0h1m1 0h1m10 0h1m2 0h1m16 0h2m5 0h1m2 0h1m5 0h2m33 0h1m4 0h1m65 0h1m4 0h1m1 0h1m21 0h1m29 0h1m8 0h1m10 0h1m53 0h1m12 0h1M0 68.5m15 0h3m25 0h1m4 0h1m35 0h1m12 0h2m14 0h1m3 0h1m4 0h1m9 0h1m11 0h1m8 0h1m6 0h2m4 0h1m18 0h1m12 0h1m29 0h1m22 0h1m6 0h1m26 0h1m31 0h2m5 0h1m25 0h1m8 0h1M0 69.5m8 0h3m2 0h1m11 0h1m12 0h1m10 0h1m33 0h1m7 0h1m3 0h1m5 0h1m1 0h1m5 0h1m3 0h2m5 0h1m28 0h1m5 0h1m4 0h1m18 0h1m10 0h1m18 0h1m5 0h1m16 0h1m4 0h1m9 0h1m28 0h1m3 0h1m37 0h1m2 0h2m1 0h1m9 0h1m38 0h1m6 0h2m13 0h1m1 0h1M0 70.5m29 0h1m3 0h1m7 0h1m2 0h2m5 0h1m3 0h1m9 0h1m9 0h1m12 0h1m7 0h1m2 0h3m7 0h1m8 0h1m13 0h1m6 0h1m10 0h1m2 0h1m14 0h1m15 0h1m16 0h1m5 0h1m32 0h1m1 0h1m12 0h1m25 0h1m1 0h1m2 0h1m23 0h1m1 0h1m9 0h1m27 0h1m29 0h1m68 0h1M0 71.5m9 0h1m13 0h1m11 0h2m1 0h2m13 0h1m5 0h1m4 0h1m1 0h1m5 0h1m1 0h1m3 0h1m23 0h1m20 0h2m13 0h1m35 0h1m36 0h1m16 0h1m13 0h1m2 0h2m5 0h3m19 0h1m8 0h1m3 0h1m4 0h1m13 0h1m3 0h1m8 0h1m111 0h1m13 0h1M0 72.5m27 0h1m1 0h1m12 0h1m7 0h1m3 0h1m119 0h1m33 0h1m2 0h1m3 0h1m2 0h1m1 0h1m31 0h1m1 0h1m7 0h1m42 0h1m2 0h1m11 0h1m13 0h1m3 0h1m7 0h1m3 0h1m3 0h1m10 0h1m24 0h1m15 0h1m23 0h1m9 0h1M0 73.5m3 0h1m19 0h1m3 0h1m3 0h1m18 0h1m2 0h2m6 0h2m8 0h1m8 0h1m4 0h1m14 0h1m3 0h1m19 0h1m9 0h1m24 0h1m14 0h1m19 0h1m5 0h1m4 0h1m20 0h1m2 0h1m22 0h1m7 0h1m17 0h1m5 0h1m14 0h1m5 0h1m64 0h1m59 0h1M0 74.5m6 0h1m11 0h2m6 0h1m7 0h1m1 0h1m5 0h1m2 0h1m7 0h1m2 0h1m16 0h1m8 0h1m17 0h1m16 0h1m29 0h1m9 0h1m11 0h1m8 0h1m33 0h2m20 0h1m18 0h1m19 0h2m4 0h1m9 0h1m1 0h2m8 0h1m3 0h1m22 0h1m30 0h1m9 0h1m14 0h1m27 0h1M0 75.5m32 0h3m35 0h1m11 0h1m13 0h2m114 0h1m26 0h1m7 0h1m38 0h1m6 0h1m9 0h1m2 0h1m20 0h1m15 0h1m10 0h1m11 0h1m4 0h1m2 0h2m1 0h1m12 0h2M0 76.5m0 0h1m25 0h1m8 0h1m12 0h1m3 0h1m4 0h1m4 0h1m12 0h1m12 0h1m6 0h1m35 0h1m15 0h1m1 0h1m26 0h1m9 0h2m19 0h1m4 0h1m2 0h1m18 0h1m13 0h1m3 0h1m53 0h1m7 0h1m2 0h1m12 0h1m8 0h1m5 0h1m6 0h1M0 77.5m3 0h1m9 0h1m16 0h1m7 0h1m2 0h1m5 0h1m17 0h1m2 0h1m5 0h1m23 0h1m1 0h1m17 0h1m15 0h1m1 0h1m4 0h1m1 0h1m27 0h1m11 0h1m2 0h1m11 0h1m12 0h1m12 0h1m11 0h1m3 0h1m8 0h1m13 0h1m55 0h1m7 0h1m1 0h1m2 0h1m6 0h1m34 0h1M0 78.5m17 0h1m4 0h1m7 0h2m1 0h1m9 0h1m1 0h1m3 0h1m10 0h3m16 0h1m1 0h1m5 0h1m7 0h1m2 0h2m5 0h3m9 0h1m13 0h1m2 0h1m13 0h1m29 0h1m3 0h1m4 0h1m14 0h1m25 0h1m8 0h1m8 0h1m1 0h1m5 0h1m7 0h1m6 0h1m7 0h1m29 0h1m26 0h1m55 0h1M0 79.5m4 0h1m27 0h1m9 0h1m20 0h1m1 0h1m1 0h2m8 0h1m20 0h1m17 0h1m18 0h1m28 0h2m27 0h1m3 0h1m25 0h2m3 0h1m44 0h1m16 0h1m15 0h1m13 0h1m38 0h1m23 0h1m14 0h1m2 0h1m11 0h1m16 0h1M0 80.5m48 0h2m5 0h1m4 0h1m3 0h1m5 0h2m3 0h1m15 0h2m17 0h1m33 0h1m56 0h1m7 0h1m22 0h1m2 0h1m17 0h1m1 0h3m9 0h1m13 0h1m15 0h1m12 0h1m1 0h1m1 0h1m28 0h1m18 0h2m72 0h1M0 81.5m1 0h1m1 0h2m2 0h1m3 0h1m19 0h1m8 0h1m11 0h1m6 0h1m19 0h1m5 0h1m3 0h1m14 0h1m46 0h1m28 0h1m8 0h1m2 0h1m8 0h1m5 0h1m3 0h1m10 0h1m11 0h1m21 0h1m6 0h1m15 0h1m7 0h1m5 0h1m36 0h1m17 0h1m89 0h1M0 82.5m25 0h1m9 0h1m4 0h2m20 0h1m21 0h1m16 0h1m10 0h1m6 0h1m2 0h1m8 0h1m12 0h1m3 0h1m6 0h1m13 0h1m7 0h1m4 0h1m1 0h1m11 0h1m7 0h2m2 0h1m2 0h1m4 0h1m16 0h1m3 0h1m12 0h1m10 0h1m1 0h1m2 0h1m83 0h1m7 0h1m34 0h1m12 0h1M0 83.5m16 0h3m9 0h1m2 0h1m5 0h1m12 0h1m1 0h1m10 0h1m27 0h1m2 0h1m4 0h1m1 0h1m1 0h1m43 0h1m19 0h1m28 0h1m7 0h1m45 0h1m46 0h1m2 0h1m13 0h1m38 0h1m1 0h1m7 0h1m26 0h2m16 0h1m29 0h1m6 0h1M0 84.5m12 0h1m4 0h1m31 0h1m12 0h1m2 0h1m4 0h1m4 0h1m26 0h2m1 0h1m4 0h1m6 0h1m30 0h1m1 0h1m3 0h1m3 0h2m3 0h1m4 0h1m9 0h1m7 0h1m1 0h2m13 0h1m9 0h1m4 0h1m10 0h1m4 0h2m1 0h1m20 0h2m8 0h1m1 0h1m17 0h1m4 0h1m25 0h1m10 0h1m63 0h1m14 0h1m18 0h1M0 85.5m23 0h1m23 0h1m4 0h1m2 0h1m9 0h1m69 0h1m27 0h1m3 0h1m28 0h1m5 0h1m5 0h1m1 0h1m1 0h1m25 0h1m14 0h1m3 0h1m16 0h1m9 0h2m3 0h1m16 0h1m2 0h1m17 0h1m6 0h1m16 0h1m42 0h1m11 0h1m10 0h1m17 0h1M0 86.5m38 0h1m7 0h1m1 0h3m3 0h1m37 0h1m7 0h1m21 0h1m2 0h1m21 0h2m3 0h1m1 0h1m48 0h1m4 0h1m8 0h1m11 0h1m12 0h1m20 0h2m32 0h1m24 0h1m25 0h1m13 0h1m44 0h1m13 0h1M0 87.5m31 0h1m16 0h1m13 0h1m2 0h2m3 0h1m8 0h1m6 0h2m13 0h1m36 0h1m10 0h2m19 0h1m6 0h1m17 0h1m16 0h2m11 0h1m4 0h1m7 0h1m11 0h1m11 0h1m13 0h1m6 0h1m6 0h1m7 0h1m9 0h1m3 0h1m11 0h1m15 0h1m11 0h1m1 0h1m19 0h1m20 0h1m7 0h1m28 0h1M0 88.5m3 0h1m27 0h1m4 0h1m10 0h1m1 0h1m5 0h1m81 0h1m4 0h1m27 0h1m9 0h1m2 0h1m4 0h1m25 0h1m14 0h1m43 0h1m5 0h2m11 0h1m41 0h1m8 0h1m28 0h1m14 0h1M0 89.5m19 0h1m30 0h1m11 0h2m2 0h3m6 0h1m1 0h1m3 0h1m4 0h1m1 0h1m25 0h1m13 0h1m21 0h1m9 0h1m16 0h1m28 0h1m7 0h1m10 0h1m3 0h1m6 0h1m13 0h1m1 0h1m5 0h1m9 0h1m15 0h1m2 0h3m9 0h1m3 0h1m27 0h1m3 0h2m9 0h1m2 0h2M0 90.5m1 0h1m13 0h1m22 0h1m9 0h1m9 0h2m2 0h1m12 0h1m42 0h1m5 0h2m3 0h1m7 0h1m26 0h1m1 0h1m9 0h1m6 0h1m3 0h1m4 0h1m6 0h1m7 0h1m6 0h1m2 0h1m4 0h1m7 0h1m10 0h1m7 0h2m2 0h1m4 0h1m1 0h1m9 0h1m1 0h1m32 0h1m7 0h1m2 0h1m43 0h1m1 0h1m58 0h1M0 91.5m7 0h1m25 0h1m3 0h1m8 0h2m4 0h1m8 0h1m8 0h1m6 0h1m4 0h1m1 0h1m2 0h2m5 0h2m11 0h3m18 0h1m1 0h1m10 0h1m3 0h1m32 0h1m73 0h1m3 0h1m3 0h1m7 0h1m15 0h1m15 0h1m20 0h2m8 0h1m1 0h1m107 0h1M0 92.5m49 0h1m1 0h1m2 0h1m3 0h1m9 0h1m19 0h1m11 0h1m3 0h1m5 0h1m6 0h1m1 0h1m2 0h1m10 0h1m17 0h1m1 0h1m3 0h1m1 0h1m21 0h1m1 0h1m8 0h1m6 0h1m2 0h1m9 0h3m5 0h1m1 0h1m17 0h2m14 0h1m4 0h1m20 0h1m5 0h2m15 0h1m5 0h1m11 0h1m6 0h1m56 0h1m35 0h1M0 93.5m3 0h1m8 0h1m7 0h1m2 0h1m21 0h1m3 0h2m4 0h1m2 0h2m22 0h1m20 0h1m2 0h1m39 0h1m1 0h1m26 0h1m10 0h1m17 0h1m3 0h1m2 0h1m2 0h1m10 0h1m12 0h1m3 0h1m7 0h1m40 0h2m6 0h1m5 0h1m2 0h1m3 0h3m3 0h1m23 0h1m20 0h1m4 0h1m1 0h1m22 0h1m8 0h1m20 0h1m9 0h1m7 0h1m3 0h1M0 94.5m2 0h1m5 0h1m22 0h1m6 0h1m4 0h1m11 0h1m6 0h1m29 0h1m2 0h1m4 0h1m8 0h1m5 0h1m11 0h1m3 0h1m2 0h1m14 0h1m21 0h1m5 0h1m17 0h1m7 0h1m3 0h1m8 0h1m14 0h1m24 0h1m19 0h1m45 0h1m13 0h1m1 0h1m24 0h1m12 0h1m6 0h1m2 0h1m12 0h1m12 0h1M0 95.5m6 0h1m4 0h1m28 0h1m46 0h2m13 0h1m15 0h1m13 0h1m15 0h1m13 0h1m16 0h1m11 0h1m14 0h1m12 0h2m9 0h1m35 0h1m33 0h2m9 0h1m2 0h1m6 0h1m53 0h1m37 0h1M0 96.5m11 0h1m25 0h1m5 0h1m9 0h1m7 0h1m1 0h2m5 0h1m16 0h1m4 0h1m8 0h1m9 0h1m9 0h1m6 0h1m3 0h1m3 0h1m4 0h1m17 0h1m5 0h1m2 0h1m12 0h1m15 0h1m19 0h1m8 0h1m22 0h2m7 0h1m15 0h1m43 0h1m29 0h1m17 0h1m72 0h1m8 0h1M0 97.5m7 0h1m4 0h1m18 0h2m8 0h1m2 0h1m8 0h1m4 0h1m18 0h1m17 0h1m12 0h1m6 0h1m11 0h2m2 0h1m11 0h1m12 0h1m14 0h1m4 0h1m2 0h1m5 0h2m25 0h1m12 0h2m5 0h2m28 0h1m28 0h1m12 0h2m2 0h1m16 0h1m20 0h1m50 0h1m18 0h1M0 98.5m2 0h2m22 0h1m40 0h1m21 0h1m27 0h1m7 0h2m1 0h1m2 0h1m1 0h1m4 0h1m2 0h1m33 0h1m3 0h1m3 0h1m11 0h2m2 0h1m10 0h1m4 0h1m12 0h1m4 0h1m2 0h1m17 0h1m3 0h1m25 0h1m74 0h1m1 0h1m28 0h1m51 0h1M0 99.5m14 0h1m3 0h1m2 0h1m5 0h1m5 0h2m9 0h1m2 0h1m1 0h1m1 0h1m2 0h1m3 0h1m3 0h1m2 0h1m2 0h1m24 0h1m9 0h1m5 0h2m14 0h1m42 0h1m2 0h1m4 0h1m9 0h1m10 0h1m17 0h1m1 0h1m1 0h1m2 0h1m9 0h1m18 0h1m3 0h1m25 0h1m39 0h1m2 0h1m14 0h1m22 0h1m2 0h1m52 0h1m3 0h1m18 0h1M0 100.5m1 0h1m7 0h1m8 0h1m3 0h1m33 0h1m15 0h1m18 0h1m28 0h1m7 0h1m11 0h1m12 0h1m13 0h2m5 0h1m10 0h2m27 0h1m3 0h1m2 0h1m3 0h1m3 0h1m18 0h1m1 0h1m8 0h1m11 0h1m8 0h1m1 0h1m2 0h2m2 0h1m10 0h1m4 0h2m18 0h1m32 0h1M0 101.5m4 0h1m26 0h1m3 0h1m8 0h1m4 0h1m2 0h1m10 0h1m1 0h1m24 0h2m13 0h1m1 0h1m33 0h1m13 0h1m3 0h1m6 0h1m12 0h1m31 0h1m2 0h1m10 0h1m18 0h1m6 0h1m9 0h1m22 0h1m4 0h1m19 0h1m7 0h2m33 0h1m5 0h1m18 0h1m7 0h1m4 0h1m31 0h1m16 0h2M0 102.5m3 0h1m9 0h1m6 0h1m8 0h1m14 0h1m4 0h2m4 0h1m7 0h1m2 0h1m3 0h1m11 0h1m1 0h1m13 0h2m4 0h1m17 0h2m17 0h1m7 0h1m17 0h1m1 0h1m14 0h1m26 0h1m7 0h1m2 0h1m3 0h1m11 0h1m11 0h2m7 0h1m6 0h1m27 0h1m5 0h1m13 0h1m12 0h1m11 0h1m13 0h1m17 0h2m2 0h1m6 0h1m2 0h1M0 103.5m4 0h1m6 0h1m15 0h1m16 0h2m1 0h2m2 0h1m1 0h1m2 0h1m1 0h1m22 0h2m14 0h1m10 0h1m28 0h1m11 0h1m24 0h1m25 0h1m16 0h1m2 0h1m16 0h1m26 0h1m22 0h1m6 0h1m3 0h1m14 0h1m2 0h1m17 0h1m6 0h2m11 0h1m5 0h1m3 0h1m23 0h4m18 0h1M0 104.5m14 0h1m24 0h2m1 0h1m1 0h1m4 0h1m3 0h1m15 0h3m2 0h1m5 0h1m14 0h3m2 0h1m18 0h1m20 0h1m4 0h2m7 0h1m25 0h1m3 0h1m2 0h1m8 0h1m9 0h1m6 0h3m10 0h1m3 0h1m18 0h1m2 0h1m49 0h1m1 0h1m3 0h1m4 0h1m2 0h1m8 0h1m2 0h3m4 0h1m3 0h1m8 0h1m1 0h1m9 0h2M0 105.5m2 0h1m7 0h1m8 0h1m8 0h1m15 0h1m12 0h1m17 0h1m26 0h1m14 0h1m18 0h1m8 0h1m2 0h1m4 0h1m9 0h1m8 0h1m1 0h1m7 0h2m17 0h1m8 0h1m3 0h1m2 0h2m8 0h2m1 0h2m9 0h1m9 0h1m21 0h1m7 0h1m3 0h1m13 0h1m11 0h1m1 0h1m1 0h1m11 0h1m14 0h1m8 0h1m5 0h1M0 106.5m7 0h1m16 0h2m9 0h1m2 0h2m5 0h1m1 0h1m4 0h1m2 0h1m13 0h1m23 0h1m6 0h1m5 0h1m3 0h1m12 0h1m6 0h1m12 0h1m18 0h1m12 0h1m7 0h1m4 0h1m29 0h1m12 0h1m21 0h1m2 0h1m7 0h1m10 0h1m5 0h1m2 0h1m39 0h2m3 0h1m1 0h1m17 0h1m8 0h1M0 107.5m12 0h1m8 0h1m18 0h1m27 0h1m10 0h1m11 0h1m7 0h1m40 0h1m1 0h1m9 0h1m16 0h1m15 0h1m21 0h1m7 0h1m5 0h1m16 0h1m3 0h1m19 0h1m2 0h1m16 0h2m51 0h1m35 0h1m54 0h1M0 108.5m26 0h1m21 0h1m10 0h1m3 0h1m5 0h1m6 0h2m7 0h1m5 0h1m5 0h1m1 0h2m19 0h1m19 0h1m3 0h1m15 0h1m7 0h1m3 0h1m6 0h1m9 0h1m3 0h1m18 0h1m2 0h1m15 0h1m1 0h1m24 0h2m12 0h1m2 0h1m33 0h1m3 0h2m5 0h1m68 0h1m29 0h2m27 0h1M0 109.5m8 0h1m9 0h2m12 0h1m2 0h2m7 0h1m2 0h1m1 0h1m10 0h1m10 0h1m7 0h1m8 0h1m3 0h2m5 0h1m12 0h2m40 0h1m1 0h1m14 0h1m1 0h1m5 0h1m6 0h1m45 0h1m5 0h1m4 0h1m24 0h1m9 0h2m3 0h1m26 0h1m3 0h1m5 0h1m1 0h1m22 0h1m11 0h1m4 0h1m3 0h1m1 0h1m13 0h1m2 0h1m23 0h1m5 0h1m4 0h1m22 0h1m4 0h1M0 110.5m4 0h1m3 0h1m7 0h1m2 0h2m17 0h1m3 0h1m3 0h1m1 0h1m2 0h1m8 0h1m1 0h1m14 0h1m2 0h1m12 0h1m6 0h1m7 0h1m20 0h1m18 0h1m26 0h1m34 0h1m7 0h1m22 0h2m24 0h1m46 0h1m2 0h1m2 0h1m54 0h1m19 0h1m9 0h1m8 0h1M0 111.5m39 0h1m3 0h2m1 0h1m2 0h1m8 0h1m1 0h1m16 0h1m1 0h1m8 0h1m4 0h1m6 0h1m1 0h1m41 0h1m15 0h1m4 0h1m72 0h1m19 0h1m20 0h1m7 0h1m5 0h1m10 0h1m15 0h1m5 0h1m6 0h1m20 0h1m3 0h1m4 0h1m8 0h1m14 0h1m30 0h1m6 0h1m20 0h1M0 112.5m0 0h1m19 0h2m6 0h1m5 0h1m9 0h1m1 0h1m13 0h1m10 0h1m8 0h1m4 0h1m2 0h1m11 0h1m27 0h2m9 0h1m12 0h1m8 0h1m29 0h1m2 0h1m1 0h1m5 0h1m3 0h1m6 0h2m14 0h1m18 0h1m6 0h1m2 0h1m3 0h1m18 0h1m6 0h1m13 0h1m11 0h1m19 0h1m16 0h1m2 0h1m1 0h1m19 0h1m47 0h1M0 113.5m1 0h1m3 0h1m32 0h1m18 0h1m1 0h2m5 0h1m24 0h1m2 0h1m5 0h1m33 0h1m25 0h1m17 0h1m1 0h1m5 0h1m14 0h1m4 0h1m2 0h1m7 0h2m4 0h1m1 0h1m1 0h1m3 0h1m37 0h1m1 0h1m8 0h1m1 0h1m34 0h1m65 0h1M0 114.5m12 0h1m23 0h1m7 0h1m7 0h1m14 0h1m1 0h1m2 0h2m7 0h1m2 0h1m3 0h1m6 0h1m16 0h1m1 0h1m14 0h1m7 0h1m7 0h1m6 0h1m11 0h1m3 0h1m1 0h1m16 0h1m4 0h1m8 0h1m3 0h1m12 0h1m1 0h1m25 0h1m13 0h1m4 0h1m14 0h1m10 0h1m16 0h1m11 0h1m19 0h1m25 0h1m43 0h1m1 0h1m10 0h1m13 0h1m10 0h2M0 115.5m34 0h1m3 0h1m7 0h1m5 0h1m9 0h1m1 0h3m8 0h1m2 0h1m12 0h1m2 0h1m1 0h1m4 0h1m15 0h1m9 0h1m3 0h1m20 0h1m19 0h1m10 0h1m27 0h1m10 0h1m24 0h1m14 0h1m3 0h1m4 0h2m10 0h1m12 0h1m25 0h2m24 0h1m8 0h1m29 0h1m47 0h1M0 116.5m0 0h1m3 0h1m14 0h1m5 0h1m11 0h1m6 0h1m7 0h1m2 0h4m27 0h1m14 0h1m23 0h1m12 0h2m2 0h1m10 0h1m5 0h1m2 0h1m6 0h1m23 0h2m3 0h1m7 0h1m10 0h1m31 0h1m16 0h2m9 0h1m1 0h1m21 0h1m6 0h1m6 0h1m2 0h3m33 0h1m35 0h1m10 0h1m5 0h1m16 0h1M0 117.5m0 0h1m7 0h1m4 0h1m11 0h1m7 0h4m2 0h1m6 0h1m6 0h1m6 0h1m4 0h3m1 0h1m7 0h1m21 0h1m3 0h1m3 0h1m32 0h1m48 0h1m1 0h1m6 0h1m3 0h1m10 0h1m14 0h3m43 0h1m2 0h1m12 0h1m9 0h1m1 0h1m2 0h1m10 0h1m1 0h1m10 0h1m5 0h1m2 0h1m3 0h1m19 0h1m23 0h1m4 0h1m48 0h1M0 118.5m15 0h1m13 0h2m3 0h1m2 0h1m2 0h1m5 0h1m1 0h1m5 0h2m1 0h1m6 0h1m17 0h1m5 0h1m9 0h1m42 0h1m7 0h1m4 0h1m7 0h1m6 0h1m10 0h1m10 0h1m9 0h1m4 0h2m2 0h2m1 0h1m7 0h1m2 0h2m4 0h1m20 0h1m2 0h1m6 0h1m5 0h1m12 0h1m5 0h1m7 0h1m4 0h1m15 0h1m22 0h1m45 0h1m30 0h1M0 119.5m7 0h1m5 0h1m6 0h1m1 0h1m1 0h1m17 0h1m26 0h1m3 0h2m3 0h2m2 0h1m18 0h1m20 0h1m9 0h2m19 0h1m3 0h1m13 0h1m15 0h1m4 0h1m17 0h1m5 0h1m17 0h1m11 0h1m6 0h2m12 0h1m1 0h1m11 0h2m18 0h3m1 0h1m39 0h1M0 120.5m5 0h1m22 0h1m11 0h1m3 0h2m1 0h1m2 0h2m3 0h1m1 0h4m5 0h1m6 0h1m23 0h1m10 0h1m1 0h1m2 0h1m41 0h2m11 0h1m13 0h1m3 0h1m11 0h1m10 0h1m3 0h1m14 0h1m6 0h1m24 0h1m18 0h1m4 0h1m15 0h1m13 0h1m38 0h1m9 0h1m32 0h1m7 0h1m1 0h1m17 0h1m4 0h1m13 0h1M0 121.5m6 0h1m5 0h1m5 0h1m12 0h1m6 0h2m4 0h1m10 0h1m45 0h1m2 0h1m3 0h1m8 0h1m10 0h1m17 0h1m9 0h1m2 0h1m10 0h1m5 0h1m4 0h1m2 0h1m1 0h1m11 0h1m3 0h1m4 0h2m1 0h1m2 0h1m5 0h1m34 0h1m3 0h1m1 0h1m33 0h1m6 0h1m44 0h1m1 0h1m55 0h1m17 0h1m1 0h1M0 122.5m9 0h1m29 0h2m18 0h3m36 0h1m33 0h1m1 0h2m10 0h1m6 0h1m17 0h1m22 0h1m19 0h1m5 0h1m35 0h1m11 0h1m1 0h1m8 0h1m50 0h1m61 0h1m51 0h1M0 123.5m11 0h1m14 0h1m4 0h2m17 0h2m5 0h1m9 0h1m24 0h1m1 0h1m2 0h1m5 0h1m1 0h1m7 0h1m6 0h1m3 0h1m2 0h2m1 0h1m29 0h1m4 0h3m1 0h1m10 0h1m1 0h2m6 0h1m2 0h1m2 0h1m1 0h1m10 0h1m26 0h1m9 0h1m6 0h1m3 0h1m5 0h1m8 0h1m72 0h1m8 0h1m1 0h1m2 0h1m73 0h1M0 124.5m4 0h1m30 0h1m2 0h1m1 0h1m2 0h1m3 0h3m11 0h1m6 0h3m18 0h1m43 0h1m7 0h1m18 0h1m10 0h1m18 0h1m5 0h1m7 0h1m8 0h1m18 0h1m1 0h1m1 0h1m31 0h1m6 0h1m5 0h1m3 0h1m11 0h1m13 0h1m2 0h2m33 0h1m43 0h3m34 0h1m4 0h1m4 0h1M0 125.5m38 0h1m15 0h2m1 0h1m2 0h1m12 0h1m8 0h1m3 0h1m1 0h1m2 0h1m2 0h1m4 0h1m15 0h1m18 0h1m13 0h1m9 0h1m7 0h1m2 0h1m40 0h1m19 0h1m2 0h1m35 0h2m4 0h2m6 0h1m3 0h1m107 0h1M0 126.5m8 0h1m10 0h1m8 0h1m17 0h1m12 0h1m11 0h1m46 0h1m25 0h1m7 0h1m19 0h1m2 0h2m6 0h1m12 0h1m2 0h1m8 0h3m11 0h1m28 0h1m22 0h1m9 0h1m16 0h1m3 0h1m7 0h1m11 0h1m10 0h1m22 0h1m7 0h1m15 0h1m43 0h1m4 0h1m7 0h2M0 127.5m3 0h1m12 0h1m25 0h1m3 0h2m4 0h1m7 0h1m11 0h1m21 0h1m15 0h1m62 0h1m10 0h1m10 0h1m14 0h1m6 0h1m1 0h1m3 0h1m19 0h1m3 0h1m5 0h1m7 0h1m11 0h1m1 0h1m2 0h1m9 0h1m19 0h1m17 0h1m4 0h1m4 0h1m2 0h2m8 0h1m8 0h1m28 0h1m22 0h1M0 128.5m7 0h1m9 0h1m4 0h1m5 0h1m1 0h1m5 0h1m8 0h1m1 0h2m7 0h4m2 0h1m15 0h1m8 0h2m7 0h1m23 0h1m5 0h1m7 0h1m4 0h1m17 0h1m5 0h1m9 0h3m27 0h3m1 0h1m13 0h1m15 0h1m11 0h1m1 0h2m5 0h1m9 0h1m9 0h1m3 0h1m16 0h2m9 0h2m11 0h1m10 0h1m60 0h1M0 129.5m4 0h1m6 0h3m1 0h1m19 0h1m8 0h1m17 0h1m4 0h1m41 0h1m4 0h1m5 0h1m6 0h1m13 0h1m21 0h1m8 0h1m7 0h1m1 0h1m10 0h1m3 0h2m3 0h1m4 0h1m7 0h1m1 0h3m11 0h1m23 0h1m13 0h1m1 0h2m11 0h2m18 0h1m25 0h1m95 0h1M0 130.5m3 0h1m3 0h1m14 0h1m4 0h1m5 0h1m20 0h1m2 0h1m7 0h3m13 0h1m9 0h1m4 0h1m2 0h1m15 0h1m4 0h1m46 0h1m4 0h1m3 0h1m34 0h1m2 0h1m1 0h1m16 0h1m8 0h1m5 0h1m10 0h1m1 0h1m6 0h1m9 0h1m34 0h1m7 0h2m9 0h1m1 0h1m14 0h1m2 0h1m6 0h1m16 0h1m4 0h1m17 0h1M0 131.5m18 0h1m20 0h1m23 0h1m30 0h1m6 0h1m10 0h1m5 0h1m78 0h1m1 0h1m4 0h1m5 0h1m4 0h1m44 0h1m22 0h1m62 0h1m14 0h1m55 0h1M0 132.5m0 0h1m18 0h3m6 0h1m13 0h2m6 0h1m3 0h2m5 0h1m3 0h1m5 0h1m10 0h1m12 0h1m2 0h1m13 0h2m8 0h1m24 0h2m30 0h1m1 0h1m12 0h1m8 0h1m9 0h1m2 0h1m7 0h1m3 0h1m8 0h1m11 0h1m6 0h1m5 0h1m16 0h1m6 0h1m55 0h1m9 0h1m1 0h1m24 0h1m30 0h1m2 0h1m30 0h1M0 133.5m23 0h1m18 0h1m29 0h1m9 0h1m34 0h1m6 0h1m18 0h1m4 0h1m31 0h1m3 0h1m20 0h1m1 0h1m4 0h1m12 0h1m12 0h1m17 0h1m39 0h1m16 0h2m5 0h1m8 0h1m9 0h1m19 0h2m43 0h1M0 134.5m10 0h1m11 0h1m13 0h1m1 0h2m5 0h1m3 0h1m3 0h1m9 0h1m6 0h1m4 0h1m18 0h1m7 0h1m8 0h2m18 0h1m24 0h1m15 0h1m20 0h1m20 0h1m6 0h1m3 0h1m9 0h1m11 0h1m6 0h1m3 0h1m4 0h1m4 0h1m5 0h1m16 0h1m35 0h1m17 0h1M0 135.5m7 0h1m4 0h1m4 0h1m4 0h1m2 0h1m20 0h1m12 0h1m10 0h1m23 0h1m25 0h1m3 0h1m18 0h1m8 0h1m9 0h1m1 0h1m3 0h1m27 0h1m5 0h1m45 0h1m6 0h1m3 0h1m20 0h1m5 0h1m31 0h1m3 0h1m7 0h1m8 0h1m4 0h2m81 0h1M0 136.5m3 0h1m16 0h1m3 0h1m11 0h1m28 0h1m13 0h1m31 0h1m6 0h1m1 0h1m5 0h1m3 0h1m74 0h1m4 0h1m15 0h1m7 0h1m3 0h1m7 0h1m84 0h1m28 0h1M0 137.5m2 0h1m5 0h1m14 0h1m1 0h1m26 0h3m48 0h1m11 0h1m1 0h1m2 0h1m6 0h1m5 0h1m29 0h1m34 0h1m17 0h3m11 0h1m18 0h1m1 0h2m20 0h1m11 0h1m2 0h1m2 0h1m5 0h1m23 0h1m2 0h1m2 0h1m12 0h1m35 0h1m12 0h1m3 0h1m26 0h1M0 138.5m8 0h1m17 0h2m8 0h1m3 0h1m2 0h1m21 0h1m20 0h1m24 0h1m7 0h1m14 0h1m2 0h1m8 0h1m10 0h1m46 0h2m2 0h1m5 0h1m5 0h1m5 0h1m7 0h1m3 0h1m13 0h1m3 0h1m2 0h1m5 0h1m11 0h1m8 0h1m27 0h1m9 0h1m11 0h2m56 0h1m44 0h1M0 139.5m26 0h2m4 0h2m4 0h1m1 0h1m10 0h1m11 0h1m1 0h1m15 0h1m9 0h1m2 0h1m1 0h1m7 0h2m4 0h1m8 0h1m1 0h1m45 0h1m24 0h1m19 0h1m2 0h1m7 0h1m19 0h1m4 0h1m12 0h1m9 0h1m11 0h1m4 0h1m2 0h1m8 0h1m1 0h1m50 0h1m4 0h1m3 0h1m36 0h1m31 0h1m4 0h1m2 0h2M0 140.5m2 0h1m1 0h1m8 0h1m28 0h1m7 0h1m41 0h1m6 0h1m5 0h1m6 0h1m15 0h2m2 0h1m13 0h1m1 0h1m21 0h1m13 0h1m2 0h1m7 0h1m1 0h1m51 0h1m2 0h1m55 0h1m51 0h1m2 0h1m4 0h1m21 0h1m52 0h1M0 141.5m31 0h1m9 0h2m20 0h1m1 0h1m25 0h1m6 0h1m2 0h1m29 0h1m11 0h2m9 0h1m6 0h1m6 0h1m5 0h1m2 0h1m1 0h1m2 0h1m3 0h1m19 0h2m9 0h1m5 0h1m3 0h1m22 0h1m18 0h1m22 0h1m15 0h1m1 0h1m27 0h1m4 0h1m1 0h1m47 0h1m11 0h1m27 0h1m6 0h1m6 0h1M0 142.5m30 0h1m3 0h1m14 0h1m3 0h1m1 0h1m1 0h2m26 0h1m7 0h1m22 0h1m1 0h1m25 0h1m6 0h1m10 0h1m19 0h1m25 0h1m8 0h1m5 0h1m26 0h1m4 0h1m7 0h1m9 0h1m16 0h2m44 0h1m28 0h1m3 0h1M0 143.5m0 0h1m8 0h1m4 0h1m5 0h1m2 0h1m5 0h1m3 0h1m6 0h1m5 0h1m6 0h1m9 0h1m4 0h1m21 0h1m12 0h2m2 0h1m12 0h1m4 0h1m2 0h1m6 0h1m5 0h1m17 0h1m38 0h1m1 0h1m1 0h1m3 0h1m12 0h1m3 0h1m35 0h1m52 0h1m1 0h1m16 0h1m8 0h1m12 0h1M0 144.5m1 0h2m3 0h1m10 0h2m13 0h3m3 0h1m26 0h1m18 0h1m6 0h1m16 0h1m9 0h1m5 0h1m10 0h2m2 0h1m20 0h1m18 0h1m10 0h1m42 0h2m17 0h1m1 0h1m1 0h1m3 0h2m1 0h1m3 0h1m47 0h1m6 0h1m5 0h1m3 0h1m6 0h1m15 0h1m6 0h1m79 0h1M0 145.5m2 0h1m2 0h1m7 0h1m5 0h1m1 0h1m10 0h2m14 0h2m4 0h1m2 0h1m3 0h1m5 0h2m17 0h1m10 0h3m12 0h1m1 0h1m1 0h2m2 0h1m5 0h1m13 0h1m7 0h1m1 0h1m3 0h1m10 0h1m10 0h1m5 0h1m1 0h1m2 0h1m2 0h1m17 0h2m43 0h2m7 0h1m2 0h1m6 0h1m56 0h1m8 0h2m76 0h1M0 146.5m2 0h1m5 0h1m2 0h1m25 0h1m18 0h1m3 0h1m3 0h1m2 0h1m7 0h1m9 0h1m7 0h2m9 0h1m8 0h1m25 0h1m12 0h1m25 0h1m11 0h1m1 0h1m16 0h1m1 0h1m9 0h1m11 0h1m3 0h1m15 0h1m14 0h1m15 0h1m20 0h1m4 0h1m20 0h1m15 0h1m8 0h2m20 0h1m24 0h1M0 147.5m52 0h1m2 0h1m2 0h1m1 0h1m33 0h1m26 0h1m24 0h2m20 0h1m11 0h1m7 0h1m9 0h1m8 0h1m10 0h1m11 0h1m4 0h1m10 0h1m19 0h2m5 0h2m8 0h1m2 0h1m19 0h1m17 0h1m26 0h1m3 0h1m2 0h1m6 0h1m68 0h1M0 148.5m6 0h1m14 0h1m4 0h1m21 0h1m12 0h1m1 0h1m5 0h1m2 0h1m20 0h1m3 0h1m24 0h1m7 0h1m1 0h1m11 0h1m4 0h1m68 0h1m15 0h2m20 0h1m12 0h1m3 0h1m3 0h1m7 0h1m1 0h1m40 0h1m14 0h1m7 0h1M0 149.5m2 0h1m24 0h1m15 0h1m1 0h2m6 0h1m2 0h1m3 0h1m2 0h1m30 0h1m24 0h1m8 0h1m10 0h1m7 0h1m1 0h1m3 0h1m5 0h1m4 0h1m1 0h1m14 0h1m10 0h2m8 0h3m17 0h1m4 0h1m1 0h1m21 0h1m1 0h1m3 0h1m4 0h1m1 0h1m7 0h1m1 0h1m17 0h1m31 0h1m41 0h1m15 0h1m23 0h1"/><path stroke="#ff6060" d="M0 0.5m65 0h1m14 0h1m8 0h1m2 0h2m4 0h1m3 0h1m4 0h1m18 0h1m16 0h1m43 0h1m11 0h1m5 0h1m3 0h1m10 0h1m7 0h1m4 0h1m3 0h1m1 0h1m9 0h1m6 0h1m9 0h1m4 0h1m8 0h1m14 0h1m2 0h1m3 0h1m15 0h1m46 0h1m8 0h1m12 0h1m18 0h2m1 0h1m38 0h1M0 1.5m72 0h1m10 0h1m1 0h1m38 0h1m11 0h1m5 0h1m34 0h1m13 0h1m8 0h1m4 0h1m5 0h2m3 0h1m14 0h1m14 0h1m29 0h1m17 0h2m6 0h1m17 0h1m24 0h1m1 0h1m7 0h1m4 0h1m1 0h1m2 0h1m1 0h1m3 0h1m10 0h1m18 0h1m11 0h1m4 0h1m10 0h1m2 0h1m16 0h1M0 2.5m39 0h2m38 0h1m1 0h1m25 0h1m19 0h1m25 0h1m29 0h1m26 0h1m11 0h1m10 0h1m39 0h2m14 0h1m33 0h2m21 0h1m17 0h1m30 0h1m4 0h1m17 0h1m3 0h1m1 0h1m13 0h1m5 0h1M0 3.5m27 0h1m16 0h2m13 0h1m6 0h1m30 0h1m1 0h1m1 0h1m9 0h1m12 0h1m14 0h1m10 0h1m36 0h1m15 0h1m12 0h1m9 0h1m2 0h1m19 0h2m50 0h2m5 0h1m9 0h1m10 0h1m42 0h1m19 0h1m7 0h1m3 0h1m3 0h1m12 0h1m10 0h1m8 0h1M0 4.5m10 0h1m11 0h1m32 0h1m6 0h1m6 0h1m23 0h1m16 0h1m12 0h1m1 0h1m1 0h1m7 0h1m2 0h1m32 0h1m8 0h1m24 0h1m4 0h1m4 0h1m26 0h1m22 0h1m9 0h1m13 0h1m7 0h1m2 0h1m2 0h1m10 0h2m31 0h1m6 0h1m18 0h1m10 0h2m18 0h1m20 0h1m19 0h1M0 5.5m17 0h1m61 0h1m7 0h1m57 0h1m15 0h1m1 0h1m6 0h1m17 0h1m5 0h1m27 0h1m37 0h1m21 0h1m9 0h1m11 0h1m25 0h1m39 0h2m8 0h1m4 0h2m16 0h1m14 0h1m20 0h1M0 6.5m7 0h1m2 0h1m5 0h1m31 0h1m7 0h1m9 0h1m2 0h1m6 0h1m11 0h1m8 0h2m3 0h1m11 0h1m12 0h1m1 0h1m5 0h1m24 0h1m18 0h1m23 0h1m2 0h1m10 0h1m20 0h1m19 0h1m3 0h1m4 0h1m1 0h1m1 0h1m7 0h1m18 0h1m1 0h1m9 0h2m45 0h1m46 0h1m5 0h1m3 0h1m7 0h1M0 7.5m6 0h1m40 0h1m2 0h1m25 0h1m1 0h2m1 0h1m5 0h1m11 0h1m1 0h1m30 0h1m6 0h1m1 0h1m12 0h1m24 0h1m8 0h1m8 0h1m21 0h1m3 0h1m21 0h1m16 0h1m8 0h1m63 0h1m3 0h1m15 0h1m48 0h2m10 0h1m9 0h1m5 0h1M0 8.5m4 0h1m10 0h1m20 0h1m16 0h1m3 0h1m2 0h1m3 0h1m2 0h1m26 0h1m2 0h1m56 0h1m6 0h1m1 0h1m21 0h1m1 0h1m3 0h1m34 0h1m17 0h1m3 0h1m16 0h1m10 0h1m11 0h1m10 0h1m27 0h1m3 0h2m9 0h1m7 0h1m13 0h1m14 0h1m6 0h1m1 0h1m5 0h1m2 0h1m7 0h1m3 0h1m18 0h1m2 0h1m2 0h1M0 9.5m35 0h1m3 0h1m103 0h1m9 0h1m5 0h1m2 0h1m23 0h1m14 0h1m2 0h1m17 0h1m12 0h1m19 0h1m7 0h1m5 0h1m6 0h1m36 0h1m1 0h1m19 0h1m34 0h1m11 0h1m6 0h1m10 0h1m23 0h1m6 0h1m14 0h1M0 10.5m2 0h1m28 0h1m13 0h1m8 0h1m16 0h2m13 0h1m3 0h1m33 0h1m11 0h1m8 0h1m12 0h1m8 0h1m1 0h1m19 0h1m5 0h1m7 0h1m2 0h1m4 0h1m9 0h1m16 0h1m1 0h1m26 0h1m13 0h1m24 0h1m27 0h1m5 0h1m12 0h1m15 0h1m7 0h1m28 0h1m20 0h1m6 0h1m4 0h1m2 0h1M0 11.5m55 0h1m8 0h1m12 0h2m17 0h1m18 0h1m8 0h1m39 0h1m24 0h1m10 0h1m39 0h1m20 0h1m1 0h1m16 0h1m34 0h1m8 0h1m39 0h1m17 0h1m3 0h1m5 0h1m20 0h1m1 0h2m3 0h1m7 0h1m9 0h1m6 0h1M0 12.5m2 0h1m8 0h1m28 0h1m11 0h1m10 0h1m4 0h2m21 0h1m1 0h1m9 0h1m22 0h1m23 0h1m8 0h2m12 0h1m8 0h1m2 0h1m35 0h1m21 0h1m11 0h2m1 0h1m3 0h1m24 0h1m1 0h1m4 0h1m11 0h1m10 0h2m5 0h1m18 0h1m7 0h1m19 0h2m6 0h1m22 0h1m17 0h1M0 13.5m10 0h1m20 0h1m13 0h1m26 0h1m3 0h1m21 0h1m20 0h1m9 0h1m13 0h1m10 0h1m7 0h2m3 0h1m23 0h2m22 0h1m5 0h1m6 0h1m5 0h1m76 0h1m45 0h1m4 0h1m5 0h1m7 0h1m9 0h1m22 0h1m9 0h1m2 0h1M0 14.5m5 0h1m30 0h1m14 0h1m41 0h1m21 0h2m1 0h2m8 0h1m25 0h1m1 0h1m8 0h1m48 0h2m48 0h1m5 0h1m16 0h1m21 0h1m6 0h1m12 0h1m22 0h1M0 15.5m21 0h1m8 0h1m17 0h2m15 0h1m15 0h1m30 0h1m7 0h1m6 0h1m13 0h1m11 0h1m2 0h1m11 0h1m10 0h2m4 0h2m4 0h1m23 0h1m10 0h1m35 0h1m7 0h2m2 0h1m9 0h1m36 0h1m17 0h2m4 0h1m10 0h2m7 0h2m6 0h1m7 0h1m18 0h1m5 0h1m11 0h1m25 0h1m1 0h1m2 0h1M0 16.5m34 0h1m5 0h1m64 0h1m9 0h1m14 0h1m37 0h2m18 0h1m2 0h1m7 0h1m5 0h1m11 0h1m5 0h1m28 0h1m3 0h1m10 0h1m34 0h1m8 0h1m10 0h1m26 0h1m18 0h1m26 0h2m9 0h2m21 0h1m5 0h1M0 17.5m7 0h1m1 0h1m44 0h1m13 0h1m35 0h1m12 0h1m21 0h1m9 0h1m18 0h1m18 0h1m33 0h1m13 0h1m13 0h1m19 0h1m5 0h2m20 0h3m14 0h1m11 0h1m4 0h2m3 0h1m19 0h1m15 0h1m3 0h1m10 0h1m48 0h1M0 18.5m5 0h1m39 0h1m14 0h1m10 0h1m6 0h2m23 0h1m2 0h1m10 0h1m15 0h1m4 0h1m5 0h1m1 0h1m22 0h1m19 0h1m52 0h1m13 0h1m4 0h1m4 0h1m2 0h1m31 0h1m32 0h1m8 0h1m27 0h1m7 0h1m5 0h1m7 0h1m20 0h1m21 0h1m4 0h1m4 0h1M0 19.5m20 0h1m7 0h1m33 0h1m6 0h1m1 0h1m19 0h1m10 0h1m23 0h1m3 0h1m1 0h1m14 0h1m21 0h3m11 0h1m7 0h1m9 0h2m8 0h1m16 0h1m17 0h1m25 0h1m50 0h1m3 0h1m3 0h1m4 0h1m11 0h1m3 0h1m19 0h1m4 0h1m43 0h2m25 0h1M0 20.5m9 0h1m4 0h1m10 0h1m12 0h1m6 0h1m54 0h1m5 0h1m10 0h2m1 0h1m7 0h1m10 0h1m4 0h1m5 0h1m5 0h1m58 0h1m18 0h1m10 0h1m1 0h1m29 0h1m19 0h1m16 0h1m81 0h1m20 0h1m3 0h1m5 0h1m1 0h1m11 0h1m1 0h1m3 0h1M0 21.5m13 0h1m1 0h1m68 0h1m2 0h1m18 0h1m28 0h1m3 0h2m23 0h1m5 0h1m17 0h1m3 0h1m2 0h1m13 0h1m2 0h1m6 0h1m7 0h1m39 0h1m13 0h2m17 0h1m7 0h1m13 0h1m1 0h1m36 0h2m11 0h1m15 0h2m17 0h1m21 0h1M0 22.5m2 0h1m64 0h1m48 0h1m3 0h1m22 0h1m72 0h1m1 0h1m6 0h1m13 0h1m5 0h1m2 0h1m28 0h2m14 0h1m24 0h1m56 0h1m5 0h1m1 0h1m25 0h1m16 0h2m2 0h1M0 23.5m38 0h1m10 0h1m13 0h1m18 0h1m10 0h1m16 0h1m25 0h1m1 0h1m7 0h1m4 0h1m53 0h1m11 0h1m18 0h1m11 0h1m13 0h1m5 0h1m11 0h1m6 0h1m4 0h1m3 0h1m22 0h1m20 0h1m23 0h1m8 0h1m25 0h2m18 0h1m19 0h1M0 24.5m7 0h2m11 0h1m32 0h1m5 0h1m29 0h1m1 0h1m3 0h1m23 0h1m4 0h2m2 0h2m7 0h1m3 0h1m2 0h1m4 0h1m15 0h1m30 0h1m27 0h1m8 0h1m80 0h1m26 0h1m34 0h1m5 0h1m32 0h1m16 0h2m2 0h1M0 25.5m26 0h1m7 0h1m14 0h1m19 0h1m4 0h1m7 0h1m11 0h1m3 0h1m11 0h1m2 0h2m5 0h1m11 0h1m8 0h2m5 0h1m8 0h1m19 0h1m24 0h1m9 0h1m20 0h1m15 0h1m12 0h1m18 0h1m14 0h2m28 0h1m6 0h1m1 0h1m18 0h2m46 0h1M0 26.5m56 0h1m6 0h1m26 0h1m30 0h1m10 0h1m68 0h1m10 0h1m17 0h1m1 0h1m3 0h1m5 0h1m11 0h1m11 0h1m2 0h1m56 0h1m25 0h1m25 0h4m12 0h1m9 0h1m15 0h1m2 0h1m19 0h1M0 27.5m21 0h1m35 0h1m22 0h1m10 0h1m30 0h1m22 0h1m37 0h1m7 0h1m2 0h1m5 0h1m22 0h1m19 0h1m6 0h1m1 0h2m4 0h2m3 0h1m5 0h2m5 0h1m3 0h1m2 0h1m10 0h1m5 0h1m18 0h1m28 0h1m37 0h1m1 0h2m5 0h1m3 0h1m16 0h1m2 0h1m18 0h1M0 28.5m33 0h1m2 0h1m2 0h1m21 0h1m7 0h1m10 0h1m1 0h1m4 0h1m1 0h1m5 0h1m6 0h1m8 0h1m2 0h1m38 0h1m7 0h1m13 0h1m5 0h2m7 0h1m16 0h1m21 0h3m8 0h1m10 0h1m12 0h1m39 0h1m74 0h1m4 0h1m19 0h2m19 0h1m1 0h1m8 0h1m8 0h1m3 0h1M0 29.5m17 0h2m19 0h1m45 0h1m42 0h1m3 0h1m13 0h1m4 0h1m39 0h1m1 0h1m3 0h1m29 0h1m21 0h1m28 0h1m4 0h1m18 0h1m31 0h2m13 0h1m7 0h1m18 0h1m15 0h1m30 0h1m10 0h1m10 0h1m4 0h1M0 30.5m9 0h1m18 0h1m18 0h1m1 0h1m18 0h1m17 0h1m5 0h1m12 0h1m1 0h1m21 0h1m17 0h2m2 0h1m5 0h1m5 0h1m1 0h1m3 0h1m7 0h1m33 0h1m24 0h1m19 0h1m1 0h1m2 0h1m9 0h2m7 0h1m10 0h1m1 0h2m24 0h1m2 0h1m29 0h1m4 0h1m9 0h1m31 0h2m18 0h1m5 0h2m10 0h1M0 31.5m14 0h2m7 0h1m2 0h1m3 0h2m24 0h1m20 0h1m1 0h1m9 0h1m2 0h1m7 0h2m31 0h1m7 0h1m29 0h1m4 0h1m24 0h1m19 0h1m7 0h1m8 0h1m7 0h1m14 0h1m5 0h1m13 0h2m11 0h3m3 0h1m18 0h1m4 0h1m1 0h1m14 0h1m1 0h1m11 0h2m1 0h1m25 0h1m25 0h1m3 0h1m2 0h1m3 0h1m6 0h1m1 0h2m1 0h2M0 32.5m47 0h1m17 0h1m4 0h1m21 0h1m1 0h1m1 0h1m10 0h1m14 0h1m7 0h1m1 0h1m17 0h1m6 0h1m14 0h1m8 0h1m5 0h1m6 0h1m28 0h1m9 0h1m24 0h1m10 0h2m5 0h1m13 0h1m2 0h1m17 0h1m15 0h1m6 0h1m49 0h1m16 0h2M0 33.5m67 0h1m12 0h1m11 0h1m3 0h1m1 0h1m11 0h1m3 0h1m9 0h1m6 0h2m6 0h1m8 0h1m1 0h1m7 0h1m1 0h1m33 0h1m15 0h1m41 0h1m5 0h1m1 0h1m18 0h1m51 0h2m8 0h1m41 0h1m18 0h2m2 0h1m30 0h1m9 0h1M0 34.5m8 0h1m9 0h1m12 0h1m2 0h1m3 0h1m7 0h1m7 0h1m5 0h1m8 0h1m6 0h1m4 0h1m22 0h1m16 0h2m4 0h1m38 0h1m9 0h1m18 0h1m30 0h1m25 0h1m11 0h3m21 0h1m13 0h1m10 0h1m3 0h2m15 0h1m1 0h1m25 0h1m6 0h1m10 0h1m9 0h1m17 0h2m3 0h1m4 0h1m27 0h1m1 0h1M0 35.5m6 0h1m14 0h1m24 0h1m8 0h3m3 0h1m12 0h1m6 0h1m3 0h2m37 0h1m2 0h1m17 0h1m2 0h1m35 0h1m43 0h1m6 0h1m7 0h1m4 0h1m9 0h1m3 0h1m7 0h1m2 0h1m15 0h1m20 0h2m29 0h1m3 0h1m36 0h1m16 0h1m3 0h1M0 36.5m9 0h1m9 0h1m12 0h1m9 0h1m38 0h1m29 0h1m31 0h1m1 0h1m8 0h1m47 0h1m19 0h1m20 0h1m7 0h1m4 0h1m1 0h1m3 0h1m6 0h1m2 0h1m14 0h1m32 0h1m1 0h1m21 0h1M0 37.5m15 0h1m8 0h1m12 0h1m5 0h1m15 0h1m30 0h1m18 0h1m28 0h2m2 0h1m44 0h1m22 0h1m27 0h1m36 0h1m5 0h1m12 0h1m60 0h1m8 0h1m63 0h1m7 0h1m3 0h1m4 0h1M0 38.5m1 0h1m23 0h1m6 0h1m27 0h1m7 0h1m6 0h1m39 0h1m15 0h1m1 0h1m2 0h1m7 0h1m3 0h1m3 0h1m10 0h1m3 0h1m18 0h1m9 0h1m3 0h1m11 0h1m10 0h1m5 0h1m6 0h2m23 0h1m14 0h2m3 0h1m1 0h2m7 0h1m1 0h1m3 0h1m16 0h1m5 0h1m17 0h1m18 0h1m15 0h1m12 0h1m20 0h1m4 0h1m29 0h1M0 39.5m63 0h1m2 0h2m16 0h2m6 0h1m10 0h1m7 0h1m7 0h1m7 0h1m1 0h1m11 0h1m16 0h1m32 0h2m10 0h1m8 0h1m8 0h1m17 0h1m13 0h1m19 0h1m3 0h1m15 0h1m13 0h1m14 0h1m26 0h1m35 0h1m20 0h1m9 0h2m14 0h1M0 40.5m5 0h1m11 0h2m2 0h1m22 0h2m15 0h1m2 0h1m2 0h1m6 0h1m4 0h1m5 0h1m12 0h1m10 0h1m3 0h1m14 0h1m4 0h1m84 0h3m11 0h1m21 0h2m1 0h1m12 0h1m24 0h1m48 0h1m56 0h1m12 0h1M0 41.5m18 0h1m2 0h1m24 0h1m1 0h1m5 0h1m9 0h1m18 0h1m27 0h1m4 0h1m36 0h1m21 0h2m4 0h1m10 0h1m25 0h1m2 0h1m1 0h1m2 0h1m14 0h1m9 0h2m10 0h1m4 0h1m1 0h1m40 0h1m11 0h1m9 0h1m63 0h1m20 0h2m21 0h2M0 42.5m7 0h1m40 0h1m33 0h1m12 0h1m16 0h1m4 0h1m6 0h1m24 0h1m1 0h1m44 0h1m7 0h1m40 0h1m3 0h1m26 0h1m19 0h1m2 0h1m38 0h1m27 0h1m1 0h1m16 0h1m9 0h1m47 0h1m3 0h1M0 43.5m11 0h1m33 0h1m13 0h1m20 0h1m11 0h1m11 0h1m12 0h1m7 0h1m4 0h1m7 0h2m4 0h1m6 0h1m11 0h1m35 0h1m21 0h2m1 0h2m2 0h2m8 0h2m23 0h1m1 0h1m4 0h1m6 0h1m41 0h1m30 0h1m16 0h1m8 0h1m39 0h1m3 0h1m19 0h1M0 44.5m58 0h1m16 0h1m5 0h1m4 0h1m5 0h2m9 0h2m9 0h1m2 0h1m10 0h1m9 0h1m49 0h1m16 0h1m11 0h1m7 0h1m43 0h2m5 0h1m3 0h2m11 0h1m5 0h1m17 0h1m1 0h1m8 0h1m4 0h1m5 0h1m4 0h1m4 0h1m8 0h1m12 0h2m14 0h2m26 0h1m23 0h1m2 0h1m4 0h1M0 45.5m15 0h1m19 0h1m9 0h1m7 0h1m10 0h1m5 0h2m13 0h1m18 0h3m3 0h1m6 0h1m27 0h1m14 0h1m7 0h1m21 0h1m6 0h1m9 0h1m44 0h1m11 0h1m2 0h1m9 0h1m21 0h1m2 0h1m59 0h1m3 0h1m61 0h1m1 0h1M0 46.5m5 0h1m2 0h1m47 0h1m3 0h1m12 0h1m10 0h1m22 0h1m17 0h1m23 0h1m4 0h2m34 0h2m15 0h1m13 0h1m23 0h1m10 0h1m4 0h1m14 0h2m42 0h1m4 0h1m15 0h1m47 0h1m29 0h1m3 0h1m13 0h1M0 47.5m59 0h1m2 0h1m7 0h2m5 0h1m10 0h1m20 0h1m3 0h1m2 0h1m3 0h1m16 0h1m11 0h1m19 0h2m23 0h1m4 0h1m2 0h1m1 0h1m19 0h1m39 0h1m9 0h1m8 0h1m11 0h1m45 0h1m15 0h1m21 0h1m12 0h1m23 0h1m20 0h1m9 0h1M0 48.5m38 0h3m1 0h1m2 0h1m31 0h1m14 0h2m5 0h1m60 0h1m39 0h1m8 0h1m2 0h1m18 0h1m8 0h1m49 0h1m1 0h1m11 0h1m12 0h1m28 0h1m22 0h1m5 0h1m14 0h1m12 0h2m35 0h1M0 49.5m3 0h1m10 0h1m16 0h1m6 0h1m11 0h1m22 0h1m143 0h1m26 0h1m24 0h1m7 0h1m1 0h1m13 0h1m7 0h1m36 0h2m1 0h1m11 0h1m3 0h1m1 0h1m3 0h1m24 0h1m2 0h1m2 0h1m8 0h1m2 0h1m24 0h1m7 0h1M0 50.5m3 0h1m50 0h1m11 0h1m1 0h2m2 0h1m24 0h1m63 0h1m39 0h1m67 0h1m18 0h1m2 0h1m4 0h1m4 0h1m36 0h1m1 0h1m4 0h1m3 0h1m3 0h1m4 0h3m1 0h1m22 0h1m4 0h1m22 0h1m6 0h1m6 0h1M0 51.5m1 0h1m39 0h1m11 0h1m4 0h1m18 0h1m9 0h1m1 0h1m2 0h2m21 0h1m36 0h1m7 0h1m44 0h1m4 0h1m7 0h1m40 0h2m3 0h1m13 0h1m1 0h1m2 0h3m2 0h1m9 0h2m8 0h1m1 0h1m5 0h1m5 0h1m8 0h1m3 0h1m7 0h1m10 0h1m6 0h1m31 0h1m4 0h1m9 0h1m4 0h1m10 0h1m5 0h1m9 0h1M0 52.5m34 0h1m4 0h2m13 0h1m1 0h1m1 0h1m28 0h1m9 0h1m1 0h1m29 0h1m2 0h1m7 0h1m31 0h1m8 0h1m18 0h1m17 0h1m13 0h1m4 0h1m15 0h2m4 0h1m53 0h2m16 0h1m24 0h1m8 0h1m40 0h1m22 0h1m8 0h1M0 53.5m14 0h1m23 0h3m38 0h2m13 0h2m6 0h1m65 0h1m16 0h1m30 0h1m12 0h1m15 0h1m15 0h1m16 0h1m9 0h1m3 0h2m3 0h1m11 0h1m21 0h2m5 0h1m8 0h1m5 0h1m17 0h1m6 0h2m10 0h1m13 0h1m30 0h1M0 54.5m14 0h1m20 0h1m3 0h1m8 0h1m17 0h1m30 0h1m7 0h1m83 0h1m23 0h1m5 0h1m37 0h1m51 0h1m7 0h1m22 0h1m22 0h1m42 0h1m20 0h1m5 0h1M0 55.5m9 0h1m2 0h1m3 0h1m16 0h1m3 0h1m6 0h1m14 0h1m1 0h1m4 0h1m16 0h1m12 0h1m8 0h1m71 0h1m3 0h1m4 0h2m5 0h1m11 0h1m4 0h1m1 0h1m2 0h1m54 0h1m8 0h1m12 0h1m25 0h2m5 0h1m4 0h1m5 0h1m3 0h1m25 0h1m3 0h1m21 0h1m1 0h1m2 0h1m15 0h1m14 0h1m8 0h1M0 56.5m53 0h1m51 0h1m17 0h1m22 0h1m12 0h1m61 0h1m13 0h1m5 0h1m23 0h1m31 0h1m30 0h1m5 0h1m37 0h1m13 0h1m12 0h1m3 0h1m6 0h1m8 0h1m5 0h2m2 0h1m1 0h1m14 0h2M0 57.5m24 0h1m6 0h1m3 0h1m22 0h1m2 0h1m2 0h3m6 0h1m1 0h1m3 0h1m24 0h1m41 0h1m8 0h1m50 0h1m8 0h1m22 0h1m31 0h1m9 0h1m13 0h1m4 0h1m8 0h1m4 0h1m73 0h1m1 0h1m1 0h2m20 0h1m4 0h2m6 0h1m10 0h1m4 0h1m2 0h1m2 0h1M0 58.5m34 0h1m26 0h1m2 0h1m153 0h1m22 0h1m59 0h1m47 0h1m1 0h1m1 0h1m1 0h1m3 0h1m20 0h2m7 0h1m8 0h2m4 0h1m26 0h1m4 0h1m7 0h1m1 0h1m2 0h1M0 59.5m5 0h1m24 0h1m1 0h1m12 0h1m15 0h1m3 0h1m5 0h1m5 0h1m56 0h1m13 0h1m11 0h1m28 0h1m11 0h1m33 0h1m3 0h1m37 0h1m3 0h1m7 0h1m2 0h2m7 0h2m1 0h1m10 0h1m5 0h1m9 0h1m6 0h1m3 0h1m1 0h1m6 0h1m18 0h1m8 0h1m7 0h1m13 0h1m5 0h1m10 0h1m3 0h1m12 0h1m1 0h1m5 0h1M0 60.5m16 0h1m6 0h2m4 0h2m14 0h1m2 0h1m3 0h1m5 0h1m19 0h1m18 0h1m4 0h1m51 0h1m1 0h1m18 0h1m12 0h1m26 0h1m9 0h2m13 0h1m2 0h1m16 0h1m4 0h2m12 0h1m35 0h1m2 0h1m1 0h1m20 0h1m9 0h1m1 0h1m4 0h1m13 0h1m6 0h1m4 0h1m4 0h1m17 0h1m12 0h1m11 0h1M0 61.5m0 0h1m1 0h1m2 0h1m1 0h1m13 0h1m10 0h1m2 0h1m8 0h1m39 0h1m3 0h1m10 0h1m35 0h1m43 0h1m5 0h1m7 0h1m30 0h3m6 0h1m25 0h1m33 0h1m4 0h1m5 0h1m15 0h2m1 0h1m21 0h1m6 0h1m6 0h1m21 0h1m46 0h1m4 0h1m3 0h1M0 62.5m8 0h1m18 0h4m5 0h1m7 0h2m4 0h1m2 0h1m4 0h3m35 0h1m7 0h1m48 0h1m5 0h1m50 0h1m3 0h1m6 0h1m21 0h1m24 0h1m14 0h1m5 0h1m3 0h1m7 0h1m2 0h1m32 0h1m18 0h1m14 0h1m1 0h1m41 0h1m32 0h1M0 63.5m2 0h1m14 0h1m10 0h1m10 0h1m3 0h1m4 0h1m3 0h1m6 0h1m4 0h1m4 0h1m14 0h1m20 0h1m12 0h1m16 0h1m7 0h1m2 0h1m27 0h1m39 0h1m12 0h1m46 0h1m3 0h1m5 0h1m8 0h1m7 0h1m20 0h1m19 0h1m1 0h1m3 0h1m2 0h1m9 0h1m46 0h1m6 0h1m33 0h1M0 64.5m8 0h1m15 0h1m2 0h1m14 0h1m28 0h2m5 0h1m21 0h1m5 0h1m1 0h1m27 0h1m88 0h1m1 0h1m5 0h3m60 0h1m3 0h1m2 0h1m25 0h1m1 0h1m57 0h1m33 0h1m20 0h1M0 65.5m41 0h1m1 0h1m1 0h1m60 0h1m50 0h1m39 0h1m1 0h1m24 0h1m14 0h1m24 0h1m1 0h2m9 0h1m12 0h1m11 0h1m6 0h1m10 0h1m8 0h1m6 0h1m12 0h1m8 0h1m12 0h1m8 0h1m17 0h1m12 0h1m24 0h1M0 66.5m1 0h1m16 0h1m17 0h1m11 0h1m4 0h1m25 0h1m2 0h1m2 0h1m16 0h1m3 0h2m3 0h1m2 0h1m50 0h1m52 0h2m19 0h1m18 0h1m16 0h1m11 0h1m17 0h1m12 0h3m34 0h2m14 0h1m7 0h1m4 0h2m14 0h1m11 0h1m35 0h1M0 67.5m28 0h1m6 0h2m16 0h4m25 0h1m32 0h1m24 0h1m32 0h1m8 0h1m34 0h1m24 0h1m2 0h1m3 0h1m1 0h1m7 0h1m17 0h1m15 0h1m6 0h1m14 0h1m2 0h1m19 0h1m1 0h1m1 0h1m24 0h1m4 0h1m3 0h1m16 0h1m2 0h1m1 0h1m18 0h1m9 0h1m5 0h1m13 0h1M0 68.5m31 0h1m5 0h1m1 0h1m1 0h1m2 0h1m12 0h1m1 0h1m1 0h1m40 0h1m3 0h1m5 0h1m25 0h1m11 0h1m25 0h1m14 0h1m2 0h1m2 0h1m1 0h1m6 0h1m4 0h1m67 0h1m20 0h1m2 0h1m23 0h1m1 0h1m13 0h1m10 0h1m29 0h1m5 0h2m38 0h1m7 0h1M0 69.5m31 0h1m11 0h1m6 0h1m3 0h1m5 0h1m29 0h1m6 0h2m7 0h2m33 0h1m9 0h1m2 0h1m32 0h1m20 0h1m24 0h1m27 0h1m9 0h2m2 0h1m6 0h1m5 0h2m7 0h1m10 0h1m4 0h1m2 0h1m22 0h1m13 0h1m4 0h1m20 0h1m8 0h1m5 0h1m11 0h1m14 0h1M0 70.5m27 0h1m8 0h1m22 0h1m3 0h1m12 0h2m138 0h1m11 0h1m60 0h1m5 0h1m8 0h1m11 0h1m20 0h2m19 0h1m14 0h1m20 0h2m6 0h1m19 0h1m12 0h1m4 0h2M0 71.5m45 0h4m3 0h1m10 0h1m1 0h1m11 0h1m1 0h1m5 0h1m13 0h1m1 0h1m10 0h1m31 0h1m61 0h1m2 0h1m10 0h1m18 0h1m11 0h1m55 0h1m1 0h1m4 0h1m2 0h1m5 0h1m3 0h2m4 0h2m2 0h1m17 0h1m1 0h1m32 0h1m2 0h1m3 0h1m9 0h1m19 0h1m2 0h1m2 0h2m11 0h1m2 0h1M0 72.5m47 0h1m16 0h1m34 0h1m16 0h1m1 0h1m65 0h1m55 0h1m69 0h1m5 0h1m5 0h1m9 0h1m12 0h1m6 0h1m11 0h1m5 0h1m2 0h2m22 0h1m22 0h1m8 0h1M0 73.5m4 0h1m1 0h1m13 0h1m11 0h1m3 0h1m18 0h2m1 0h1m28 0h1m18 0h1m38 0h1m10 0h1m18 0h1m30 0h1m20 0h1m16 0h1m4 0h1m1 0h1m2 0h1m13 0h1m1 0h1m17 0h1m11 0h1m6 0h2m10 0h1m7 0h1m29 0h1m2 0h1m30 0h2m41 0h1M0 74.5m47 0h1m1 0h1m10 0h1m1 0h1m27 0h1m65 0h1m38 0h1m37 0h1m61 0h1m18 0h1m3 0h1m8 0h1m7 0h1m13 0h1m2 0h1m1 0h1m8 0h1m4 0h1m13 0h1m24 0h1m6 0h1m4 0h1m4 0h1m24 0h1M0 75.5m43 0h1m9 0h2m139 0h1m12 0h1m34 0h1m76 0h1m4 0h1m4 0h1m5 0h2m10 0h1m47 0h1m29 0h2m5 0h1m5 0h1M0 76.5m29 0h1m4 0h1m2 0h1m4 0h1m1 0h1m8 0h1m1 0h1m41 0h1m8 0h1m21 0h1m1 0h1m30 0h2m34 0h1m46 0h1m6 0h1m2 0h1m32 0h1m3 0h1m2 0h1m8 0h1m8 0h1m21 0h1m26 0h1m6 0h1m12 0h1m7 0h1m4 0h1m1 0h1m12 0h1m10 0h1m1 0h1m8 0h1m5 0h1M0 77.5m6 0h1m77 0h1m1 0h1m10 0h1m4 0h1m3 0h1m14 0h1m96 0h1m10 0h1m38 0h1m20 0h1m7 0h1m2 0h1m1 0h1m6 0h1m2 0h1m4 0h1m2 0h1m10 0h1m3 0h1m8 0h1m1 0h1m2 0h1m2 0h2m14 0h2m7 0h1m14 0h1m18 0h1m4 0h1m16 0h2M0 78.5m8 0h1m58 0h1m20 0h1m5 0h1m81 0h1m9 0h1m11 0h1m12 0h1m4 0h1m36 0h1m13 0h1m15 0h1m6 0h1m14 0h1m10 0h1m1 0h2m15 0h1m16 0h1m5 0h1m4 0h1m3 0h2m8 0h2m2 0h1m6 0h1m24 0h1m12 0h1m7 0h1M0 79.5m7 0h3m2 0h1m35 0h1m2 0h1m9 0h1m52 0h1m86 0h1m64 0h1m8 0h1m32 0h1m12 0h1m3 0h1m11 0h3m15 0h1m14 0h1m8 0h1m42 0h1m4 0h2m2 0h1M0 80.5m30 0h2m6 0h2m1 0h1m27 0h1m30 0h2m41 0h1m28 0h1m42 0h1m9 0h1m36 0h1m5 0h1m7 0h1m12 0h1m4 0h1m1 0h1m24 0h1m2 0h1m5 0h1m38 0h1m2 0h1m68 0h1M0 81.5m23 0h1m3 0h1m7 0h1m5 0h2m14 0h1m6 0h1m5 0h2m8 0h1m20 0h1m75 0h1m13 0h1m3 0h1m3 0h1m21 0h1m3 0h1m17 0h1m27 0h1m19 0h1m15 0h2m8 0h1m4 0h1m1 0h1m6 0h1m20 0h1m6 0h1m1 0h2m5 0h1m3 0h1m8 0h1m5 0h1m7 0h2m3 0h1m5 0h1m4 0h1m1 0h1m14 0h1m7 0h1m6 0h1m3 0h1M0 82.5m15 0h2m1 0h1m10 0h1m1 0h1m7 0h1m6 0h1m8 0h1m22 0h1m24 0h1m46 0h2m65 0h1m13 0h1m79 0h1m10 0h1m3 0h1m4 0h1m1 0h1m8 0h1m3 0h1m10 0h1m18 0h1m23 0h1m8 0h1M0 83.5m2 0h1m16 0h1m14 0h1m22 0h1m12 0h1m35 0h1m86 0h1m45 0h1m3 0h2m1 0h1m22 0h2m46 0h1m4 0h1m6 0h1m9 0h1m26 0h1m15 0h1m9 0h1m14 0h1m2 0h1m7 0h2m27 0h1M0 84.5m68 0h1m29 0h1m7 0h1m90 0h1m4 0h1m3 0h1m13 0h1m4 0h1m20 0h1m53 0h2m9 0h1m3 0h3m10 0h1m14 0h1m11 0h1m1 0h1m7 0h1m2 0h1m3 0h1m18 0h1m10 0h1m21 0h1m2 0h1m2 0h1m1 0h2m12 0h1M0 85.5m3 0h1m16 0h3m6 0h1m9 0h1m5 0h1m14 0h1m27 0h1m8 0h1m29 0h1m2 0h1m8 0h1m2 0h1m34 0h1m36 0h1m31 0h1m1 0h1m12 0h1m7 0h1m5 0h1m14 0h2m9 0h1m18 0h1m5 0h1m30 0h1m2 0h1m22 0h1m4 0h1m20 0h1m2 0h1m14 0h1m1 0h1M0 86.5m2 0h1m24 0h1m5 0h1m2 0h1m8 0h1m38 0h1m89 0h1m21 0h1m13 0h1m57 0h1m22 0h1m1 0h1m12 0h1m4 0h1m1 0h1m5 0h1m12 0h1m26 0h1m13 0h1m18 0h1m8 0h2m8 0h1m2 0h1m7 0h1M0 87.5m45 0h1m3 0h1m9 0h1m45 0h2m1 0h1m1 0h1m28 0h1m32 0h1m42 0h1m6 0h1m12 0h1m5 0h1m3 0h1m33 0h2m10 0h2m9 0h1m23 0h1m1 0h1m10 0h1m5 0h1m35 0h1m6 0h1m12 0h1m12 0h1M0 88.5m48 0h1m1 0h1m41 0h1m1 0h3m4 0h1m3 0h1m62 0h1m8 0h1m24 0h1m15 0h1m12 0h1m1 0h1m15 0h1m9 0h1m8 0h2m16 0h1m2 0h1m6 0h1m6 0h1m10 0h1m13 0h1m10 0h1m4 0h2m15 0h2m29 0h1m7 0h1m16 0h1m30 0h1M0 89.5m28 0h1m12 0h1m4 0h1m1 0h2m7 0h1m2 0h1m49 0h1m7 0h1m47 0h1m61 0h1m15 0h1m2 0h1m3 0h1m45 0h1m2 0h1m7 0h1m9 0h1m10 0h1m17 0h1m5 0h1m4 0h1m9 0h1m4 0h1m11 0h1m14 0h2m33 0h1m5 0h1m2 0h1M0 90.5m42 0h1m14 0h1m12 0h2m1 0h1m13 0h1m26 0h1m41 0h1m3 0h1m51 0h1m49 0h1m1 0h1m12 0h1m19 0h1m10 0h1m20 0h1m2 0h1m11 0h2m17 0h1m4 0h1m4 0h1m14 0h2m19 0h1m1 0h1m8 0h1m1 0h1M0 91.5m4 0h1m10 0h1m24 0h1m3 0h2m12 0h1m3 0h2m29 0h1m7 0h1m11 0h1m29 0h1m2 0h1m93 0h1m17 0h1m6 0h1m4 0h3m8 0h1m32 0h1m2 0h1m27 0h1m5 0h1m11 0h1m2 0h1m3 0h1m6 0h1m5 0h1m12 0h1m25 0h1m6 0h1m6 0h1m7 0h1M0 92.5m11 0h1m33 0h2m8 0h2m52 0h1m15 0h1m118 0h1m46 0h1m11 0h2m8 0h1m3 0h1m3 0h1m11 0h1m22 0h1m5 0h2m21 0h1m2 0h1m12 0h1m34 0h1m5 0h1M0 93.5m28 0h1m2 0h1m56 0h1m5 0h1m16 0h1m100 0h1m35 0h2m3 0h1m2 0h1m13 0h1m2 0h1m33 0h1m16 0h2m12 0h2m50 0h1m19 0h1m11 0h1m4 0h1m7 0h1M0 94.5m6 0h1m3 0h1m28 0h1m41 0h1m7 0h1m38 0h1m67 0h1m7 0h1m43 0h1m5 0h1m5 0h1m22 0h1m3 0h1m10 0h1m3 0h1m24 0h1m2 0h1m3 0h1m12 0h1m6 0h1m13 0h1m4 0h1m30 0h1m14 0h1m24 0h1m2 0h1M0 95.5m0 0h1m33 0h1m10 0h1m25 0h1m20 0h1m1 0h1m30 0h1m12 0h1m8 0h1m7 0h1m57 0h1m1 0h1m15 0h2m13 0h1m44 0h1m2 0h1m12 0h3m14 0h1m3 0h2m5 0h1m10 0h1m15 0h1m2 0h1m8 0h1m14 0h1m11 0h1m19 0h1M0 96.5m1 0h1m22 0h1m16 0h2m16 0h1m28 0h1m8 0h2m7 0h1m101 0h1m15 0h1m17 0h1m3 0h1m18 0h1m1 0h1m16 0h1m7 0h1m1 0h1m15 0h1m19 0h1m2 0h1m10 0h1m7 0h1m10 0h1m9 0h1m10 0h1m12 0h1m1 0h1m2 0h1m3 0h1m2 0h2m3 0h1m7 0h1m9 0h1m7 0h1m2 0h1M0 97.5m18 0h1m41 0h1m45 0h1m51 0h1m48 0h1m32 0h1m9 0h1m32 0h1m8 0h1m20 0h1m23 0h1m4 0h1m8 0h1m7 0h1m10 0h2m11 0h1m4 0h1m2 0h1m1 0h1m7 0h1m17 0h1m10 0h1M0 98.5m35 0h1m8 0h1m1 0h1m30 0h1m33 0h1m106 0h1m1 0h1m11 0h1m7 0h1m5 0h1m43 0h1m25 0h1m2 0h2m25 0h1m1 0h1m5 0h2m2 0h1m1 0h1m2 0h1m45 0h2m21 0h1m8 0h1m1 0h1M0 99.5m38 0h1m13 0h1m42 0h1m154 0h1m51 0h2m2 0h1m30 0h1m30 0h1m16 0h1m20 0h1m12 0h3m4 0h1m11 0h1M0 100.5m13 0h1m19 0h1m8 0h1m11 0h1m8 0h1m37 0h1m12 0h1m1 0h1m4 0h1m39 0h1m8 0h1m34 0h2m33 0h1m12 0h1m11 0h1m15 0h1m36 0h2m6 0h1m4 0h1m23 0h1m8 0h1m16 0h1m15 0h1m11 0h1m7 0h1m7 0h2m1 0h1m12 0h1M0 101.5m38 0h2m5 0h1m32 0h1m31 0h1m8 0h1m1 0h1m12 0h1m39 0h1m37 0h1m34 0h1m11 0h1m4 0h1m33 0h1m3 0h1m20 0h1m2 0h1m12 0h1m10 0h1m10 0h1m14 0h1m6 0h2m26 0h1m14 0h1m3 0h1m4 0h1m2 0h1m9 0h1M0 102.5m0 0h1m14 0h1m20 0h1m22 0h1m37 0h1m5 0h1m21 0h1m24 0h1m77 0h1m6 0h2m4 0h1m7 0h1m31 0h1m9 0h1m30 0h2m2 0h1m5 0h1m29 0h1m33 0h1m10 0h1m34 0h1M0 103.5m1 0h1m63 0h1m80 0h1m97 0h1m6 0h1m37 0h2m14 0h1m23 0h1m28 0h1m10 0h1m4 0h1m6 0h1m1 0h1m8 0h1m26 0h1m1 0h1m3 0h1m7 0h1m2 0h1m4 0h2M0 104.5m51 0h1m50 0h1m1 0h1m12 0h1m121 0h1m26 0h1m22 0h1m24 0h1m2 0h1m34 0h1m2 0h1m39 0h1m14 0h1m5 0h1m12 0h1m19 0h1M0 105.5m3 0h1m7 0h1m47 0h1m41 0h1m36 0h1m65 0h1m40 0h1m31 0h1m8 0h3m14 0h1m25 0h1m4 0h1m20 0h1m4 0h1m6 0h1m5 0h1m7 0h1m17 0h1m9 0h1m24 0h2m4 0h1M0 106.5m50 0h1m14 0h1m47 0h1m56 0h2m5 0h1m35 0h1m57 0h1m16 0h1m1 0h1m1 0h1m4 0h1m8 0h1m3 0h1m24 0h1m2 0h2m7 0h1m6 0h1m35 0h1m1 0h1m20 0h1m11 0h1M0 107.5m35 0h1m2 0h1m2 0h1m4 0h1m5 0h1m1 0h3m5 0h1m1 0h1m13 0h1m13 0h1m10 0h1m35 0h1m1 0h1m12 0h1m56 0h1m4 0h1m6 0h1m1 0h1m4 0h1m1 0h1m7 0h2m3 0h1m6 0h1m39 0h1m24 0h1m35 0h2m74 0h1m12 0h1M0 108.5m1 0h1m6 0h1m1 0h1m9 0h2m11 0h1m10 0h2m7 0h2m11 0h1m3 0h1m27 0h1m11 0h1m43 0h1m22 0h1m19 0h1m30 0h2m27 0h1m8 0h1m14 0h1m5 0h1m7 0h1m9 0h1m9 0h1m1 0h1m4 0h1m11 0h1m8 0h1m7 0h1m7 0h2m5 0h2m4 0h1m8 0h1m21 0h1m20 0h1m9 0h1M0 109.5m30 0h1m23 0h1m32 0h1m44 0h2m18 0h1m40 0h1m95 0h1m8 0h1m5 0h1m3 0h2m2 0h1m26 0h1m8 0h1m3 0h2m18 0h1m26 0h1m22 0h1m2 0h1m7 0h1m6 0h1m1 0h1m4 0h1M0 110.5m29 0h1m17 0h1m46 0h2m72 0h1m34 0h1m18 0h2m3 0h1m24 0h1m23 0h3m2 0h1m1 0h1m1 0h1m3 0h1m15 0h1m5 0h1m1 0h1m11 0h1m2 0h1m6 0h1m6 0h1m4 0h2m5 0h1m9 0h1m4 0h1m18 0h1m11 0h1m11 0h1m16 0h1M0 111.5m57 0h1m20 0h1m8 0h1m28 0h1m76 0h1m50 0h1m49 0h1m39 0h1m33 0h2m15 0h1m13 0h1m3 0h1m3 0h1m15 0h1m21 0h1M0 112.5m1 0h1m7 0h1m2 0h1m1 0h1m9 0h1m37 0h1m4 0h1m2 0h1m30 0h1m91 0h1m6 0h1m30 0h1m8 0h3m36 0h1m16 0h1m10 0h1m10 0h1m10 0h1m2 0h1m14 0h2m21 0h1m2 0h1m38 0h1m15 0h1m13 0h1m3 0h1M0 113.5m8 0h1m5 0h1m20 0h1m7 0h1m1 0h1m33 0h1m47 0h1m40 0h1m4 0h1m8 0h1m11 0h1m5 0h1m6 0h1m14 0h1m18 0h1m23 0h1m6 0h1m5 0h1m31 0h1m4 0h1m2 0h1m13 0h1m55 0h1m32 0h1m10 0h1M0 114.5m14 0h1m39 0h1m6 0h2m40 0h1m59 0h1m5 0h1m30 0h1m30 0h1m3 0h1m6 0h1m15 0h1m4 0h1m3 0h1m14 0h1m10 0h1m8 0h1m21 0h1m7 0h1m1 0h1m7 0h1m1 0h2m5 0h1m15 0h1m10 0h1m18 0h1m8 0h1m17 0h1m11 0h1M0 115.5m2 0h1m2 0h1m29 0h1m21 0h1m19 0h1m21 0h1m10 0h1m23 0h1m71 0h1m38 0h1m38 0h1m4 0h1m8 0h1m4 0h1m2 0h1m9 0h1m3 0h1m10 0h1m11 0h1m3 0h1m2 0h1m2 0h1m14 0h1m1 0h1m19 0h2m1 0h1m7 0h1m1 0h1m13 0h1m3 0h1m15 0h1M0 116.5m18 0h1m15 0h1m68 0h1m1 0h1m4 0h1m3 0h1m13 0h1m39 0h1m21 0h1m52 0h1m11 0h1m13 0h1m4 0h1m9 0h1m2 0h1m6 0h2m13 0h1m2 0h1m1 0h1m7 0h2m4 0h1m1 0h1m3 0h1m11 0h2m3 0h1m12 0h1m6 0h2m3 0h1m6 0h1m5 0h1m5 0h1m30 0h2m3 0h1m2 0h1m5 0h1m4 0h1M0 117.5m1 0h1m21 0h1m72 0h1m65 0h1m6 0h1m18 0h1m6 0h1m59 0h1m48 0h1m2 0h3m17 0h1m32 0h2m27 0h1m19 0h1m36 0h1M0 118.5m8 0h1m18 0h1m3 0h3m7 0h1m55 0h1m25 0h1m79 0h1m5 0h1m49 0h1m11 0h1m19 0h1m12 0h1m14 0h2m18 0h1m10 0h1m4 0h1m4 0h1m3 0h1m12 0h1m5 0h1m13 0h1M0 119.5m21 0h1m1 0h1m16 0h1m12 0h1m6 0h1m42 0h1m44 0h2m38 0h1m36 0h1m61 0h1m10 0h1m8 0h1m17 0h1m2 0h2m4 0h2m19 0h1m8 0h1m1 0h1m12 0h1m17 0h1m24 0h1m5 0h2m12 0h1m4 0h1M0 120.5m11 0h1m26 0h2m14 0h1m6 0h1m5 0h1m15 0h1m12 0h1m3 0h1m29 0h1m9 0h1m28 0h1m5 0h1m3 0h1m13 0h1m1 0h1m44 0h1m14 0h1m32 0h1m2 0h2m2 0h1m20 0h1m8 0h1m20 0h1m9 0h1m5 0h1m2 0h2m6 0h1m4 0h1m9 0h1m3 0h1m19 0h1m6 0h1m5 0h1m6 0h1m14 0h1M0 121.5m69 0h1m9 0h1m1 0h1m44 0h1m6 0h1m14 0h1m22 0h1m25 0h1m20 0h1m57 0h1m18 0h1m13 0h1m3 0h1m1 0h1m1 0h2m1 0h1m19 0h1m9 0h2m3 0h1m2 0h1m12 0h1m7 0h1m1 0h2m5 0h2m20 0h1m17 0h1m5 0h1m1 0h1M0 122.5m10 0h1m27 0h1m4 0h1m27 0h1m18 0h1m4 0h1m11 0h1m16 0h2m11 0h1m25 0h1m19 0h1m35 0h1m16 0h1m2 0h1m7 0h1m44 0h1m20 0h1m7 0h1m3 0h1m23 0h1m2 0h2m3 0h1m5 0h1m43 0h1m30 0h1m2 0h1m3 0h1M0 123.5m5 0h1m8 0h1m6 0h1m12 0h1m7 0h1m12 0h1m10 0h1m37 0h1m36 0h1m26 0h1m30 0h1m45 0h1m13 0h1m19 0h1m8 0h1m20 0h1m4 0h1m2 0h1m4 0h1m24 0h1m1 0h1m41 0h1m5 0h1m22 0h1m4 0h1m5 0h2m11 0h1m4 0h1M0 124.5m21 0h1m34 0h1m35 0h1m1 0h1m23 0h1m17 0h2m1 0h1m25 0h1m12 0h1m14 0h2m22 0h1m12 0h1m4 0h1m19 0h1m9 0h1m12 0h1m15 0h1m4 0h1m4 0h1m13 0h2m6 0h2m35 0h1m25 0h1m2 0h1m6 0h1m10 0h1m8 0h1m5 0h1m23 0h1M0 125.5m2 0h1m7 0h1m19 0h2m13 0h1m7 0h1m7 0h1m14 0h1m6 0h1m24 0h1m7 0h1m36 0h1m8 0h1m12 0h1m9 0h1m5 0h1m26 0h1m21 0h1m52 0h2m20 0h1m1 0h1m24 0h2m5 0h1m2 0h2m3 0h1m26 0h2m21 0h2m1 0h2m5 0h1m1 0h2M0 126.5m1 0h1m30 0h1m71 0h1m6 0h2m75 0h1m6 0h1m6 0h1m10 0h1m4 0h1m1 0h1m36 0h1m8 0h1m6 0h1m15 0h1m16 0h1m2 0h1m2 0h1m5 0h1m4 0h1m6 0h1m7 0h1m1 0h1m9 0h2m43 0h1m3 0h1m26 0h1m4 0h1M0 127.5m17 0h1m10 0h1m2 0h1m43 0h1m2 0h1m19 0h1m3 0h1m105 0h1m11 0h2m33 0h1m7 0h1m4 0h2m4 0h1m1 0h1m13 0h1m5 0h1m6 0h1m10 0h1m3 0h1m16 0h1m6 0h2m9 0h1m2 0h1m24 0h1m4 0h1m3 0h1m6 0h1m28 0h1m1 0h1m3 0h2M0 128.5m27 0h1m25 0h1m18 0h1m32 0h1m5 0h1m6 0h2m16 0h1m49 0h1m54 0h1m30 0h1m16 0h1m1 0h1m13 0h1m35 0h2m3 0h1m8 0h1m2 0h1m25 0h1m12 0h1m37 0h1m12 0h1M0 129.5m18 0h1m3 0h2m4 0h1m16 0h2m11 0h1m2 0h1m9 0h1m7 0h1m37 0h1m1 0h1m44 0h1m31 0h1m9 0h1m4 0h1m4 0h1m40 0h1m12 0h1m15 0h1m14 0h1m23 0h1m8 0h1m4 0h1m1 0h1m2 0h1m18 0h1m29 0h1m4 0h1m29 0h1m9 0h1m8 0h1M0 130.5m13 0h1m10 0h1m23 0h1m6 0h1m13 0h1m1 0h1m21 0h1m6 0h1m10 0h1m11 0h1m1 0h1m68 0h1m4 0h1m22 0h1m12 0h1m9 0h1m11 0h1m2 0h1m28 0h1m10 0h2m17 0h1m13 0h1m8 0h1m10 0h1m9 0h1m7 0h2m21 0h1m3 0h1m32 0h1m5 0h1m2 0h1M0 131.5m9 0h1m54 0h1m30 0h1m4 0h1m59 0h1m25 0h1m2 0h1m27 0h1m27 0h1m24 0h1m20 0h1m13 0h1m2 0h1m6 0h1m1 0h1m7 0h1m11 0h2m11 0h1m5 0h1m3 0h1m60 0h1m1 0h2m1 0h1m12 0h1M0 132.5m35 0h1m9 0h1m12 0h2m3 0h1m13 0h1m7 0h1m5 0h1m12 0h1m41 0h1m3 0h1m7 0h1m1 0h1m22 0h1m22 0h1m15 0h1m10 0h1m5 0h1m40 0h1m3 0h1m2 0h1m15 0h3m17 0h1m22 0h1m13 0h1m13 0h1m1 0h1m3 0h1m47 0h2m9 0h1m5 0h1M0 133.5m0 0h1m2 0h1m37 0h1m3 0h2m3 0h1m2 0h1m3 0h1m11 0h1m1 0h1m1 0h1m39 0h1m2 0h1m12 0h1m27 0h1m4 0h1m36 0h1m2 0h1m13 0h1m2 0h1m6 0h2m16 0h1m15 0h1m2 0h1m5 0h1m7 0h2m5 0h1m42 0h2m13 0h2m1 0h1m5 0h1m1 0h3m2 0h1m15 0h1m36 0h1m9 0h2m4 0h1m8 0h1m1 0h1m10 0h1M0 134.5m4 0h1m1 0h1m9 0h2m6 0h1m34 0h1m6 0h1m17 0h2m3 0h1m10 0h1m2 0h2m5 0h1m7 0h1m24 0h1m26 0h1m17 0h1m27 0h1m19 0h1m2 0h1m6 0h1m6 0h1m6 0h1m9 0h1m19 0h1m5 0h1m8 0h1m8 0h1m9 0h1m8 0h1m26 0h1m8 0h1m9 0h1m1 0h2m5 0h1m17 0h1m11 0h2m16 0h1M0 135.5m34 0h1m1 0h1m4 0h1m10 0h1m30 0h1m2 0h2m8 0h1m5 0h1m10 0h1m9 0h1m9 0h2m28 0h1m19 0h1m10 0h1m10 0h1m48 0h1m9 0h1m10 0h2m19 0h1m1 0h1m3 0h3m2 0h1m2 0h1m26 0h1m20 0h1m23 0h2m1 0h1m20 0h1m16 0h1M0 136.5m1 0h1m15 0h1m16 0h2m2 0h1m42 0h1m20 0h1m9 0h1m10 0h1m31 0h1m8 0h1m2 0h1m1 0h1m8 0h1m7 0h1m1 0h1m11 0h1m12 0h1m8 0h1m39 0h1m14 0h1m1 0h1m10 0h1m2 0h2m13 0h1m5 0h1m2 0h2m5 0h1m13 0h2m16 0h1m13 0h1m34 0h1m33 0h2M0 137.5m39 0h1m2 0h3m10 0h1m7 0h1m46 0h1m14 0h1m13 0h1m4 0h1m25 0h1m10 0h1m1 0h1m50 0h1m9 0h1m8 0h1m6 0h1m8 0h1m44 0h1m39 0h1m1 0h1m11 0h1m13 0h1m2 0h1m51 0h1M0 138.5m30 0h1m7 0h1m2 0h1m21 0h1m15 0h1m18 0h1m11 0h1m14 0h1m4 0h2m7 0h1m7 0h1m50 0h3m5 0h1m18 0h1m4 0h1m15 0h1m24 0h1m9 0h1m15 0h1m3 0h1m10 0h2m19 0h3m16 0h1m5 0h1m2 0h1m17 0h1m6 0h1m1 0h1m1 0h1m1 0h1m2 0h1m8 0h1m16 0h1m1 0h1M0 139.5m3 0h1m5 0h1m72 0h1m41 0h1m119 0h1m34 0h1m47 0h1m22 0h1m21 0h1m2 0h1m8 0h1m5 0h1m7 0h1m11 0h1m13 0h1m9 0h1M0 140.5m19 0h1m10 0h1m1 0h2m3 0h1m1 0h1m8 0h1m36 0h1m11 0h1m11 0h1m10 0h1m30 0h1m13 0h1m1 0h1m10 0h1m14 0h1m5 0h3m9 0h1m12 0h1m5 0h1m4 0h1m52 0h1m16 0h1m14 0h1m1 0h1m10 0h1m8 0h1m1 0h1m1 0h1m6 0h1m27 0h2m4 0h1m27 0h1m7 0h1m12 0h1m1 0h1m6 0h2M0 141.5m55 0h1m24 0h2m136 0h1m20 0h1m1 0h1m2 0h1m6 0h1m52 0h1m2 0h1m5 0h1m46 0h1m18 0h1m3 0h1m2 0h1m24 0h2m7 0h1m3 0h1m3 0h1m7 0h2m4 0h1M0 142.5m3 0h1m19 0h1m1 0h1m17 0h1m6 0h1m26 0h1m4 0h1m28 0h1m1 0h1m18 0h1m35 0h1m51 0h1m15 0h1m21 0h1m11 0h1m23 0h1m21 0h1m3 0h1m5 0h1m1 0h1m6 0h1m55 0h1m53 0h1M0 143.5m55 0h2m15 0h1m14 0h1m31 0h1m4 0h1m38 0h1m1 0h1m18 0h1m9 0h1m20 0h1m30 0h1m9 0h1m6 0h1m8 0h1m3 0h1m4 0h1m13 0h1m2 0h1m2 0h2m8 0h1m8 0h1m1 0h1m2 0h1m2 0h1m4 0h2m1 0h3m3 0h1m6 0h1m19 0h1m61 0h1M0 144.5m19 0h1m3 0h1m54 0h1m9 0h1m8 0h1m4 0h2m2 0h1m18 0h1m6 0h1m11 0h1m2 0h1m25 0h1m1 0h1m12 0h1m26 0h1m12 0h1m13 0h1m28 0h1m13 0h1m5 0h1m3 0h1m12 0h1m5 0h1m4 0h1m4 0h1m4 0h1m8 0h1m5 0h2m17 0h1m11 0h1m15 0h1m3 0h1m34 0h1M0 145.5m35 0h1m9 0h1m4 0h1m1 0h1m2 0h1m19 0h1m4 0h1m15 0h1m13 0h1m22 0h1m84 0h1m31 0h1m15 0h1m12 0h1m5 0h1m1 0h1m8 0h1m1 0h1m17 0h1m4 0h1m4 0h1m24 0h1m1 0h1m20 0h1m48 0h1m14 0h1M0 146.5m101 0h1m5 0h1m11 0h2m43 0h1m81 0h1m43 0h1m11 0h2m13 0h1m1 0h2m1 0h2m8 0h1m8 0h1m20 0h1m28 0h1m2 0h1m23 0h1m9 0h1m2 0h1m17 0h1M0 147.5m39 0h1m13 0h1m12 0h1m24 0h1m4 0h1m16 0h1m11 0h2m7 0h1m7 0h1m73 0h1m39 0h1m7 0h1m25 0h1m6 0h2m17 0h1m21 0h1m57 0h1m36 0h1m7 0h1M0 148.5m11 0h1m19 0h1m2 0h1m2 0h1m17 0h1m4 0h1m12 0h1m2 0h1m34 0h1m17 0h1m15 0h1m1 0h1m3 0h1m1 0h1m40 0h1m24 0h2m4 0h1m4 0h1m33 0h1m25 0h1m1 0h1m24 0h1m6 0h1m1 0h1m12 0h1m18 0h1m22 0h1m25 0h1m22 0h2m13 0h1M0 149.5m15 0h1m5 0h1m3 0h1m11 0h2m2 0h1m12 0h1m2 0h1m8 0h1m3 0h2m17 0h1m6 0h1m32 0h1m4 0h1m1 0h1m6 0h1m8 0h1m9 0h1m92 0h2m40 0h1m4 0h1m2 0h3m1 0h1m1 0h1m3 0h1m3 0h1m13 0h2m17 0h1m1 0h1m13 0h1m31 0h1m18 0h1"/></g></g><path fill="#72bec6" d="M11.8 34.20h1.0v8.96h-1.0zM16.2 34.20h2.3v8.96h-2.3zM19.7 34.20h4.1v8.96h-4.1zM26.2 34.20h1.3v8.96h-1.3zM41.2 34.20h0.9v8.96h-0.9zM44.6 34.20h1.2v8.96h-1.2zM71.6 34.20h1.9v8.96h-1.9zM81.0 34.20h1.2v8.96h-1.2zM84.5 34.20h1.2v8.96h-1.2zM91.2 34.20h1.4v8.96h-1.4zM93.5 34.20h4.2v8.96h-4.2zM98.8 34.20h1.7v8.96h-1.7zM106.9 34.20h1.4v8.96h-1.4zM109.2 34.20h1.4v8.96h-1.4zM135.4 34.20h2.3v8.96h-2.3zM151.0 34.20h4.0v8.96h-4.0zM156.8 34.20h1.7v8.96h-1.7zM160.8 34.20h5.0v8.96h-5.0zM185.0 34.20h1.8v8.96h-1.8zM191.2 34.20h1.4v8.96h-1.4zM201.2 34.20h1.1v8.96h-1.1zM240.4 34.20h4.1v8.96h-4.1zM256.2 34.20h2.3v8.96h-2.3zM265.4 34.20h1.1v8.96h-1.1zM270.0 34.20h1.2v8.96h-1.2zM273.0 34.20h1.6v8.96h-1.6zM283.8 34.20h1.2v8.96h-1.2zM289.0 34.20h1.0v8.96h-1.0zM295.4 34.20h2.3v8.96h-2.3zM323.5 34.20h3.0v8.96h-3.0zM331.8 34.20h1.2v8.96h-1.2zM345.0 34.20h1.2v8.96h-1.2zM349.0 34.20h1.3v8.96h-1.3zM363.5 34.20h1.5v8.96h-1.5zM413.8 34.20h1.5v8.96h-1.5zM418.9 34.20h1.3v8.96h-1.3z"/><path fill="#72bec6" d="M19.7 43.16h1.4v8.96h-1.4zM79.9 43.16h1.6v8.96h-1.6zM83.4 43.16h1.4v8.96h-1.4zM98.4 43.16h1.1v8.96h-1.1zM104.6 43.16h2.3v8.96h-2.3zM110.4 43.16h1.1v8.96h-1.1zM256.2 43.16h2.3v8.96h-2.3zM260.8 43.16h1.2v8.96h-1.2zM266.0 43.16h1.7v8.96h-1.7zM270.0 43.16h5.8v8.96h-5.8zM298.8 43.16h1.2v8.96h-1.2zM301.8 43.16h1.2v8.96h-1.2zM319.6 43.16h2.4v8.96h-2.4zM326.5 43.16h1.2v8.96h-1.2zM345.0 43.16h1.2v8.96h-1.2zM355.0 43.16h2.1v8.96h-2.1zM359.7 43.16h3.3v8.96h-3.3zM376.2 43.16h1.0v8.96h-1.0zM383.1 43.16h1.5v8.96h-1.5zM400.5 43.16h1.5v8.96h-1.5zM403.2 43.16h2.6v8.96h-2.6zM418.9 43.16h1.3v8.96h-1.3zM428.0 43.16h1.5v8.96h-1.5zM438.6 43.16h2.7v8.96h-2.7zM442.2 43.16h1.2v8.96h-1.2zM449.1 43.16h1.5v8.96h-1.5z"/><path fill="#72bec6" d="M70.0 52.12h1.6v8.96h-1.6zM77.6 52.12h1.6v8.96h-1.6zM79.9 52.12h1.6v8.96h-1.6zM103.0 52.12h1.6v8.96h-1.6zM125.4 52.12h1.4v8.96h-1.4zM171.8 52.12h1.2v8.96h-1.2zM174.2 52.12h1.1v8.96h-1.1zM180.0 52.12h2.7v8.96h-2.7zM195.0 52.12h5.7v8.96h-5.7zM202.3 52.12h3.5v8.96h-3.5zM206.9 52.12h1.6v8.96h-1.6zM214.5 52.12h8.5v8.96h-8.5zM240.0 52.12h1.2v8.96h-1.2zM246.5 52.12h9.2v8.96h-9.2zM449.1 52.12h1.5v8.96h-1.5zM451.9 52.12h1.1v8.96h-1.1z"/><path fill="#72bec6" d="M50.4 61.08h1.6v8.96h-1.6zM59.2 61.08h1.6v8.96h-1.6zM61.9 61.08h1.1v8.96h-1.1zM68.8 61.08h4.7v8.96h-4.7zM75.8 61.08h1.6v8.96h-1.6zM84.5 61.08h1.2v8.96h-1.2zM113.4 61.08h2.3v8.96h-2.3zM208.0 61.08h1.7v8.96h-1.7zM226.5 61.08h3.5v8.96h-3.5zM233.5 61.08h2.3v8.96h-2.3zM238.0 61.08h3.5v8.96h-3.5zM242.7 61.08h3.5v8.96h-3.5zM253.0 61.08h3.2v8.96h-3.2zM263.0 61.08h1.2v8.96h-1.2zM266.0 61.08h1.2v8.96h-1.2zM275.8 61.08h5.7v8.96h-5.7zM282.7 61.08h16.1v8.96h-16.1zM306.5 61.08h2.3v8.96h-2.3zM311.0 61.08h1.2v8.96h-1.2zM313.4 61.08h1.6v8.96h-1.6zM317.3 61.08h73.2v8.96h-73.2zM392.0 61.08h68.4v8.96h-68.4z"/><path fill="#bdbdbd" d="M50.4 70.04h1.6v8.96h-1.6zM61.9 70.04h1.1v8.96h-1.1zM68.2 70.04h5.3v8.96h-5.3zM226.5 70.04h1.2v8.96h-1.2zM228.2 70.04h1.3v8.96h-1.3zM250.8 70.04h3.4v8.96h-3.4zM277.0 70.04h2.2v8.96h-2.2zM281.0 70.04h1.7v8.96h-1.7zM286.2 70.04h2.3v8.96h-2.3zM290.8 70.04h6.9v8.96h-6.9zM305.3 70.04h3.9v8.96h-3.9zM310.4 70.04h3.9v8.96h-3.9zM315.0 70.04h12.2v8.96h-12.2zM330.0 70.04h8.8v8.96h-8.8zM341.5 70.04h2.3v8.96h-2.3zM345.7 70.04h6.9v8.96h-6.9zM355.0 70.04h2.7v8.96h-2.7zM369.8 70.04h1.7v8.96h-1.7zM373.0 70.04h1.5v8.96h-1.5zM453.4 70.04h1.4v8.96h-1.4z"/><path fill="#000" d="M254.2 70.04h1.5v8.96h-1.5zM297.7 70.04h1.6v8.96h-1.6zM327.2 70.04h2.8v8.96h-2.8zM338.8 70.04h2.7v8.96h-2.7zM343.8 70.04h1.9v8.96h-1.9zM352.6 70.04h2.4v8.96h-2.4zM357.7 70.04h12.1v8.96h-12.1zM371.5 70.04h1.5v8.96h-1.5zM374.5 70.04h78.9v8.96h-78.9zM454.8 70.04h5.6v8.96h-5.6z"/><path fill="#ffb6c1" d="M34.9 79.00h2.3v8.96h-2.3zM82.7 79.00h3.5v8.96h-3.5zM90.8 79.00h3.4v8.96h-3.4zM101.9 79.00h1.1v8.96h-1.1zM104.2 79.00h1.1v8.96h-1.1zM112.7 79.00h3.0v8.96h-3.0zM118.0 79.00h8.2v8.96h-8.2zM135.4 79.00h1.1v8.96h-1.1zM137.7 79.00h13.8v8.96h-13.8zM162.0 79.00h1.0v8.96h-1.0zM164.2 79.00h1.2v8.96h-1.2zM168.4 79.00h0.9v8.96h-0.9zM193.0 79.00h1.2v8.96h-1.2zM198.8 79.00h1.7v8.96h-1.7zM201.8 79.00h2.4v8.96h-2.4zM226.5 79.00h1.2v8.96h-1.2zM246.5 79.00h1.0v8.96h-1.0zM248.8 79.00h0.9v8.96h-0.9zM251.0 79.00h1.7v8.96h-1.7zM253.0 79.00h3.2v8.96h-3.2zM262.0 79.00h2.2v8.96h-2.2zM265.8 79.00h4.2v8.96h-4.2zM281.5 79.00h6.5v8.96h-6.5zM296.5 79.00h2.3v8.96h-2.3zM375.0 79.00h10.7v8.96h-10.7zM423.8 79.00h1.0v8.96h-1.0zM443.4 79.00h2.1v8.96h-2.1zM449.8 79.00h2.9v8.96h-2.9zM457.0 79.00h3.4v8.96h-3.4z"/><path fill="#ff0000" d="M152.0 79.00h1.2v8.96h-1.2zM155.0 79.00h1.6v8.96h-1.6zM157.3 79.00h1.2v8.96h-1.2zM205.0 79.00h2.0v8.96h-2.0zM208.2 79.00h1.1v8.96h-1.1zM210.4 79.00h1.1v8.96h-1.1zM213.4 79.00h2.6v8.96h-2.6zM217.3 79.00h9.2v8.96h-9.2zM227.7 79.00h3.5v8.96h-3.5zM232.3 79.00h3.4v8.96h-3.4zM236.9 79.00h9.3v8.96h-9.3zM288.0 79.00h4.0v8.96h-4.0zM240.0 79.00h6.5v8.96h-6.5zM369.8 79.00h4.7v8.96h-4.7z"/><path fill="none" stroke="#9c9c9c" stroke-width="0.6" d="M12.3 31.5V23.5H13.6V31.5M14.9 31.5V22.5H16.2V31.5M13.0 23.5V21.3H15.6V22.5M18.8 31.5V24.0H20.1V31.5M17.5 31.5V23.3H19.5V24.0M22.7 31.5V22.8H24.0V31.5M21.4 31.5V22.1H23.4V22.8M18.5 23.3V20.7H22.4V22.1M14.3 21.3V19.6H20.4V20.7M27.9 31.5V24.4H29.2V31.5M26.6 31.5V23.2H28.6V24.4M30.5 31.5V23.5H31.8V31.5M27.6 23.2V22.4H31.2V23.5M25.3 31.5V21.8H29.4V22.4M17.3 19.6V18.7H27.3V21.8M37.0 31.5V22.1H38.3V31.5M35.7 31.5V21.0H37.6V22.1M34.4 31.5V20.0H36.7V21.0M33.1 31.5V18.5H35.5V20.0M39.6 31.5V23.2H40.9V31.5M43.5 31.5V23.7H44.8V31.5M42.2 31.5V22.6H44.1V23.7M40.2 23.2V21.7H43.2V22.6M46.1 31.5V24.1H47.4V31.5M48.7 31.5V23.8H50.0V31.5M46.7 24.1V22.9H49.3V23.8M51.3 31.5V22.6H52.6V31.5M48.0 22.9V21.7H51.9V22.6M41.7 21.7V21.1H50.0V21.7M34.3 18.5V17.4H45.9V21.1M22.3 18.7V16.9H40.1V17.4M55.2 31.5V22.0H56.5V31.5M53.9 31.5V21.2H55.8V22.0M59.1 31.5V24.3H60.4V31.5M57.8 31.5V23.2H59.7V24.3M54.9 21.2V19.6H58.8V23.2M64.3 31.5V22.2H65.6V31.5M63.0 31.5V21.0H64.9V22.2M61.7 31.5V19.6H64.0V21.0M56.8 19.6V18.9H62.8V19.6M69.5 31.5V24.4H70.8V31.5M68.2 31.5V23.1H70.1V24.4M66.9 31.5V22.3H69.2V23.1M73.4 31.5V22.3H74.7V31.5M72.1 31.5V21.6H74.0V22.3M77.3 31.5V22.4H78.6V31.5M76.0 31.5V21.3H77.9V22.4M79.9 31.5V23.1H81.2V31.5M77.0 21.3V20.5H80.5V23.1M73.1 21.6V19.4H78.8V20.5M68.0 22.3V18.8H75.9V19.4M59.8 18.9V17.8H72.0V18.8M85.1 31.5V22.5H86.4V31.5M83.8 31.5V21.7H85.7V22.5M82.5 31.5V20.1H84.8V21.7M87.7 31.5V24.2H89.0V31.5M92.9 31.5V23.0H94.2V31.5M91.6 31.5V21.5H93.5V23.0M90.3 31.5V20.3H92.6V21.5M88.3 24.2V19.6H91.4V20.3M95.5 31.5V22.5H96.8V31.5M98.1 31.5V22.6H99.4V31.5M96.1 22.5V21.2H98.7V22.6M89.9 19.6V18.8H97.4V21.2M83.6 20.1V18.1H93.7V18.8M65.9 17.8V17.4H88.7V18.1M31.2 16.9V16.5H77.3V17.4M100.7 31.5V22.9H102.0V31.5M104.6 31.5V23.1H105.9V31.5M103.3 31.5V21.6H105.2V23.1M101.3 22.9V20.5H104.3V21.6M108.5 31.5V22.5H109.8V31.5M107.2 31.5V21.7H109.1V22.5M111.1 31.5V24.3H112.4V31.5M108.2 21.7V20.3H111.7V24.3M117.6 31.5V23.8H118.9V31.5M116.3 31.5V22.3H118.2V23.8M115.0 31.5V21.5H117.3V22.3M113.7 31.5V20.0H116.1V21.5M110.0 20.3V18.8H114.9V20.0M102.8 20.5V17.8H112.4V18.8M120.2 31.5V22.1H121.5V31.5M124.1 31.5V22.6H125.4V31.5M122.8 31.5V21.3H124.7V22.6M126.7 31.5V22.6H128.0V31.5M123.8 21.3V19.9H127.3V22.6M120.8 22.1V18.7H125.6V19.9M130.6 31.5V22.4H131.9V31.5M129.3 31.5V21.1H131.2V22.4M137.1 31.5V23.4H138.4V31.5M135.8 31.5V21.9H137.7V23.4M134.5 31.5V20.7H136.8V21.9M133.2 31.5V19.9H135.6V20.7M130.3 21.1V18.6H134.4V19.9M123.2 18.7V18.0H132.3V18.6M107.6 17.8V17.5H127.8V18.0M144.9 31.5V23.4H146.2V31.5M143.6 31.5V22.7H145.5V23.4M142.3 31.5V21.7H144.6V22.7M141.0 31.5V20.2H143.4V21.7M139.7 31.5V18.7H142.2V20.2M148.8 31.5V23.7H150.1V31.5M147.5 31.5V22.5H149.4V23.7M154.0 31.5V22.1H155.3V31.5M152.7 31.5V21.5H154.7V22.1M151.4 31.5V20.0H153.7V21.5M148.5 22.5V18.7H152.5V20.0M141.0 18.7V17.4H150.5V18.7M157.9 31.5V23.2H159.2V31.5M156.6 31.5V21.9H158.6V23.2M161.8 31.5V22.8H163.1V31.5M160.5 31.5V21.2H162.5V22.8M157.6 21.9V20.5H161.5V21.2M164.4 31.5V23.8H165.7V31.5M167.0 31.5V23.8H168.3V31.5M165.1 23.8V22.4H167.7V23.8M170.9 31.5V24.3H172.2V31.5M169.6 31.5V23.3H171.6V24.3M166.4 22.4V21.1H170.6V23.3M174.8 31.5V23.0H176.1V31.5M173.5 31.5V21.7H175.5V23.0M177.4 31.5V24.2H178.7V31.5M174.5 21.7V20.5H178.1V24.2M181.3 31.5V23.6H182.6V31.5M180.0 31.5V22.6H182.0V23.6M176.3 20.5V19.5H181.0V22.6M168.5 21.1V18.5H178.6V19.5M159.5 20.5V18.0H173.5V18.5M145.7 17.4V16.7H166.5V18.0M183.9 31.5V23.8H185.2V31.5M187.8 31.5V23.5H189.1V31.5M186.5 31.5V22.4H188.5V23.5M184.6 23.8V21.0H187.5V22.4M191.7 31.5V22.1H193.0V31.5M194.3 31.5V23.5H195.6V31.5M192.4 22.1V21.0H195.0V23.5M190.4 31.5V20.2H193.7V21.0M186.0 21.0V19.1H192.0V20.2M196.9 31.5V23.5H198.2V31.5M199.5 31.5V22.6H200.8V31.5M202.1 31.5V22.0H203.4V31.5M200.2 22.6V21.1H202.8V22.0M197.6 23.5V19.8H201.5V21.1M189.0 19.1V18.4H199.5V19.8M204.7 31.5V24.3H206.0V31.5M208.6 31.5V23.1H209.9V31.5M207.3 31.5V21.6H209.3V23.1M212.5 31.5V22.8H213.8V31.5M211.2 31.5V21.6H213.2V22.8M208.3 21.6V20.8H212.2V21.6M205.4 24.3V19.9H210.2V20.8M194.3 18.4V17.3H207.8V19.9M215.1 31.5V22.8H216.4V31.5M217.7 31.5V22.3H219.0V31.5M215.8 22.8V21.2H218.4V22.3M220.3 31.5V23.8H221.6V31.5M222.9 31.5V24.4H224.2V31.5M221.0 23.8V22.9H223.6V24.4M226.8 31.5V22.4H228.1V31.5M225.5 31.5V21.4H227.5V22.4M222.3 22.9V20.5H226.5V21.4M217.1 21.2V19.8H224.4V20.5M229.4 31.5V23.6H230.7V31.5M234.6 31.5V22.8H235.9V31.5M233.3 31.5V21.3H235.3V22.8M232.0 31.5V19.8H234.3V21.3M230.1 23.6V18.7H233.1V19.8M220.7 19.8V18.2H231.6V18.7M238.5 31.5V24.2H239.8V31.5M237.2 31.5V23.5H239.2V24.2M241.1 31.5V22.8H242.4V31.5M243.7 31.5V24.0H245.0V31.5M241.8 22.8V22.2H244.4V24.0M247.6 31.5V22.3H248.9V31.5M246.3 31.5V21.3H248.3V22.3M243.1 22.2V20.7H247.3V21.3M238.2 23.5V19.5H245.2V20.7M226.2 18.2V17.5H241.7V19.5M251.5 31.5V23.6H252.8V31.5M250.2 31.5V22.5H252.2V23.6M254.1 31.5V24.0H255.4V31.5M256.7 31.5V24.4H258.0V31.5M254.8 24.0V22.7H257.4V24.4M263.2 31.5V22.4H264.5V31.5M261.9 31.5V21.8H263.9V22.4M260.6 31.5V20.8H262.9V21.8M259.3 31.5V19.4H261.7V20.8M256.1 22.7V18.8H260.5V19.4M251.2 22.5V18.1H258.3V18.8M265.8 31.5V23.5H267.1V31.5M269.7 31.5V23.9H271.0V31.5M268.4 31.5V22.9H270.4V23.9M266.5 23.5V21.5H269.4V22.9M273.6 31.5V22.2H274.9V31.5M272.3 31.5V20.7H274.3V22.2M276.2 31.5V23.8H277.5V31.5M273.3 20.7V20.0H276.9V23.8M267.9 21.5V19.1H275.1V20.0M281.4 31.5V23.4H282.7V31.5M280.1 31.5V21.9H282.1V23.4M278.8 31.5V20.5H281.1V21.9M285.3 31.5V24.4H286.6V31.5M284.0 31.5V23.3H286.0V24.4M279.9 20.5V19.3H285.0V23.3M287.9 31.5V23.8H289.2V31.5M291.8 31.5V23.6H293.1V31.5M290.5 31.5V22.3H292.5V23.6M294.4 31.5V22.5H295.7V31.5M291.5 22.3V20.8H295.1V22.5M288.6 23.8V19.2H293.3V20.8M282.5 19.3V17.9H290.9V19.2M271.5 19.1V17.0H286.7V17.9M254.7 18.1V16.2H279.1V17.0M297.0 31.5V22.9H298.3V31.5M299.6 31.5V22.2H300.9V31.5M297.7 22.9V21.2H300.3V22.2M303.5 31.5V23.4H304.8V31.5M302.2 31.5V22.0H304.2V23.4M299.0 21.2V20.1H303.2V22.0M307.4 31.5V24.0H308.7V31.5M306.1 31.5V23.4H308.1V24.0M312.6 31.5V22.8H313.9V31.5M311.3 31.5V21.4H313.3V22.8M310.0 31.5V20.7H312.3V21.4M317.8 31.5V23.3H319.1V31.5M316.5 31.5V22.0H318.5V23.3M315.2 31.5V20.5H317.5V22.0M311.1 20.7V19.5H316.3V20.5M307.1 23.4V18.2H313.7V19.5M301.1 20.1V17.3H310.4V18.2M320.4 31.5V23.3H321.7V31.5M323.0 31.5V23.8H324.3V31.5M326.9 31.5V23.6H328.2V31.5M325.6 31.5V22.5H327.6V23.6M323.7 23.8V21.0H326.6V22.5M321.1 23.3V19.9H325.1V21.0M329.5 31.5V24.1H330.8V31.5M332.1 31.5V22.5H333.4V31.5M334.7 31.5V24.1H336.0V31.5M332.8 22.5V21.0H335.4V24.1M330.2 24.1V19.8H334.1V21.0M339.9 31.5V23.3H341.2V31.5M338.6 31.5V22.2H340.6V23.3M337.3 31.5V21.0H339.6V22.2M343.8 31.5V23.3H345.1V31.5M346.4 31.5V23.0H347.7V31.5M344.5 23.3V21.6H347.1V23.0M342.5 31.5V20.4H345.8V21.6M338.4 21.0V19.5H344.1V20.4M332.1 19.8V18.5H341.3V19.5M323.1 19.9V17.9H336.7V18.5M349.0 31.5V24.4H350.3V31.5M352.9 31.5V24.3H354.2V31.5M351.6 31.5V23.4H353.6V24.3M349.7 24.4V22.4H352.6V23.4M355.5 31.5V23.1H356.8V31.5M358.1 31.5V24.3H359.4V31.5M360.7 31.5V23.2H362.0V31.5M358.8 24.3V22.3H361.4V23.2M356.2 23.1V21.5H360.1V22.3M351.1 22.4V20.5H358.1V21.5M329.9 17.9V17.1H354.6V20.5M363.3 31.5V23.9H364.6V31.5M369.8 31.5V22.6H371.1V31.5M368.5 31.5V21.3H370.5V22.6M367.2 31.5V20.4H369.5V21.3M365.9 31.5V19.4H368.3V20.4M364.0 23.9V18.2H367.1V19.4M372.4 31.5V22.3H373.7V31.5M375.0 31.5V23.3H376.3V31.5M373.1 22.3V21.5H375.7V23.3M378.9 31.5V23.3H380.2V31.5M377.6 31.5V22.3H379.6V23.3M381.5 31.5V23.0H382.8V31.5M384.1 31.5V22.4H385.4V31.5M386.7 31.5V22.5H388.0V31.5M384.8 22.4V21.2H387.4V22.5M382.2 23.0V19.9H386.1V21.2M378.6 22.3V19.0H384.1V19.9M374.4 21.5V17.8H381.3V19.0M389.3 31.5V24.3H390.6V31.5M391.9 31.5V22.8H393.2V31.5M390.0 24.3V21.9H392.6V22.8M395.8 31.5V24.3H397.1V31.5M394.5 31.5V23.5H396.5V24.3M391.3 21.9V20.3H395.5V23.5M398.4 31.5V22.6H399.7V31.5M401.0 31.5V22.6H402.3V31.5M404.9 31.5V22.2H406.2V31.5M403.6 31.5V20.8H405.6V22.2M401.7 22.6V19.8H404.6V20.8M399.1 22.6V18.4H403.1V19.8M410.1 31.5V23.0H411.4V31.5M408.8 31.5V21.7H410.8V23.0M407.5 31.5V21.1H409.8V21.7M401.1 18.4V17.7H408.6V21.1M393.4 20.3V16.7H404.9V17.7M415.3 31.5V23.3H416.6V31.5M414.0 31.5V21.9H416.0V23.3M412.7 31.5V20.8H415.0V21.9M419.2 31.5V23.7H420.5V31.5M417.9 31.5V22.9H419.9V23.7M413.8 20.8V20.1H418.9V22.9M424.4 31.5V22.1H425.7V31.5M423.1 31.5V20.9H425.1V22.1M421.8 31.5V19.8H424.1V20.9M416.4 20.1V18.9H422.9V19.8M399.1 16.7V16.1H419.6V18.9M428.3 31.5V24.1H429.6V31.5M427.0 31.5V22.5H429.0V24.1M433.5 31.5V22.2H434.8V31.5M432.2 31.5V20.6H434.2V22.2M430.9 31.5V19.5H433.2V20.6M436.1 31.5V23.9H437.4V31.5M432.0 19.5V18.6H436.8V23.9M428.0 22.5V17.7H434.4V18.6M440.0 31.5V23.5H441.3V31.5M438.7 31.5V22.9H440.7V23.5M442.6 31.5V24.1H443.9V31.5M446.5 31.5V22.5H447.8V31.5M445.2 31.5V21.4H447.2V22.5M443.3 24.1V20.1H446.2V21.4M439.7 22.9V19.2H444.7V20.1M450.4 31.5V22.4H451.7V31.5M449.1 31.5V21.3H451.1V22.4M455.6 31.5V24.0H456.9V31.5M454.3 31.5V22.7H456.3V24.0M458.2 31.5V24.2H459.5V31.5M455.3 22.7V21.5H458.9V24.2M453.0 31.5V20.5H457.1V21.5M450.1 21.3V19.5H455.0V20.5M442.2 19.2V18.3H452.6V19.5M431.2 17.7V16.5H447.4V18.3M409.4 16.1V15.3H439.3V16.5"/><path fill="none" stroke="#999999" stroke-width="0.6" d="M193.7 5.8V2.3H326V4.6 M319.6 4.6H335 M152.8 13V5.8H235.6V13 M176.4 5.8V10.1 M139.5 13V10.1H213.9V13 M100 13.6H183.6 M186 13.6H262 M249 12.8H293 M306 13H350 M373 15.5H451 M370.5 4.4V21.6 M387 4.4V21 M60 14.5H100"/><text x="466.5" y="40.6" font-size="8.6" text-anchor="start" fill="#000" color="#000" >Differentiated</text><text x="466.5" y="49.64" font-size="8.6" text-anchor="start" fill="#000" color="#000" >Immune</text><text x="466.5" y="58.68" font-size="8.6" text-anchor="start" fill="#000" color="#000" >Proliferative</text><text x="466.5" y="67.72" font-size="8.6" text-anchor="start" fill="#000" color="#000" >Mesenchymal</text><text x="466.5" y="76.75999999999999" font-size="8.6" text-anchor="start" fill="#000" color="#000" >FAP-high</text><text x="466.5" y="85.8" font-size="8.6" text-anchor="start" fill="#000" color="#000" >FAP-low</text><rect x="466.6" y="89.3" width="7.3" height="62.5" fill="#ff0000"/><rect x="466.6" y="151.8" width="7.3" height="130.9" fill="#000"/><text transform="translate(483.4,120.3) rotate(-90)" font-size="9.1" text-anchor="middle">FAP-low</text><text transform="translate(494,120.3) rotate(-90)" font-size="9.1" text-anchor="middle">short list</text><text transform="translate(483.4,213) rotate(-90)" font-size="9.1" text-anchor="middle">FAP-high</text><text transform="translate(494,213) rotate(-90)" font-size="9.1" text-anchor="middle">short list</text><rect x="12.9" y="286" width="76.3" height="11.4" fill="url(#zg)"/><line x1="12.9" y1="297.4" x2="12.9" y2="300.2" stroke="#444" stroke-width="0.8"/><text x="12.9" y="304.2" font-size="4.5" text-anchor="middle" fill="#222" color="#222" >-3</text><line x1="25.6" y1="297.4" x2="25.6" y2="300.2" stroke="#444" stroke-width="0.8"/><text x="25.6" y="304.2" font-size="4.5" text-anchor="middle" fill="#222" color="#222" >-2</text><line x1="38.3" y1="297.4" x2="38.3" y2="300.2" stroke="#444" stroke-width="0.8"/><text x="38.3" y="304.2" font-size="4.5" text-anchor="middle" fill="#222" color="#222" >-1</text><line x1="51.0" y1="297.4" x2="51.0" y2="300.2" stroke="#444" stroke-width="0.8"/><text x="51.0" y="304.2" font-size="4.5" text-anchor="middle" fill="#222" color="#222" >0</text><line x1="63.8" y1="297.4" x2="63.8" y2="300.2" stroke="#444" stroke-width="0.8"/><text x="63.8" y="304.2" font-size="4.5" text-anchor="middle" fill="#222" color="#222" >1</text><line x1="76.5" y1="297.4" x2="76.5" y2="300.2" stroke="#444" stroke-width="0.8"/><text x="76.5" y="304.2" font-size="4.5" text-anchor="middle" fill="#222" color="#222" >2</text><line x1="89.2" y1="297.4" x2="89.2" y2="300.2" stroke="#444" stroke-width="0.8"/><text x="89.2" y="304.2" font-size="4.5" text-anchor="middle" fill="#222" color="#222" >3</text><text x="29.6" y="314.9" font-size="8.8" text-anchor="start" fill="#000" color="#000" >Z score</text><rect x="100" y="286.2" width="13" height="13" fill="#72bec6"/><text x="115.5" y="297" font-size="8.5" text-anchor="start" fill="#000" color="#000" >Verhaak subtypes</text><text x="203.7" y="297" font-size="8.4" text-anchor="start" fill="#000" color="#000" >FH:</text><rect x="220.8" y="286.2" width="12.5" height="13" fill="#000"/><text x="233.5" y="297" font-size="8.4" text-anchor="start" fill="#000" color="#000" >66%</text><rect x="253.2" y="286.2" width="12.5" height="13" fill="#bbbbbb"/><text x="268" y="297" font-size="8.5" text-anchor="start" fill="#000" color="#000" >50%</text><text x="311.2" y="297" font-size="8.4" text-anchor="start" fill="#000" color="#000" >FL:</text><rect x="325" y="286.2" width="13" height="13" fill="#ff0000"/><text x="338.5" y="297" font-size="8.4" text-anchor="start" fill="#000" color="#000" >66%</text><rect x="357" y="286.2" width="12.5" height="13" fill="#ffc0cb"/><text x="372" y="297" font-size="8.5" text-anchor="start" fill="#000" color="#000" >50%</text><rect x="18.4" y="344.8" width="112.0" height="49.69999999999999" fill="none" stroke="#d9d9d9" stroke-width="0.7"/><path d="M40.8 344.8V394.5M63.2 344.8V394.5M85.6 344.8V394.5M108.0 344.8V394.5M18.4 352.9H130.4M18.4 363.3H130.4M18.4 373.7H130.4M18.4 384.1H130.4" stroke="#ececec" stroke-width="0.6" fill="none"/><path d="M18.4 394.5H130.4" stroke="#b0b0b0" stroke-width="0.6"/><path d="M18.4 394.5H130.4" stroke="#d9d9d9" stroke-width="0.7"/><text x="17.2" y="355.1" font-size="6.2" text-anchor="end" fill="#222" color="#222" >0.8</text><text x="17.2" y="365.5" font-size="6.2" text-anchor="end" fill="#222" color="#222" >0.6</text><text x="17.2" y="375.9" font-size="6.2" text-anchor="end" fill="#222" color="#222" >0.4</text><text x="17.2" y="386.3" font-size="6.2" text-anchor="end" fill="#222" color="#222" >0.2</text><text x="17.2" y="396.7" font-size="6.2" text-anchor="end" fill="#222" color="#222" >0.0</text><path d="M38.5 394.5V411.2M41.5 394.5V411.2M53.8 394.5V411.2M61.5 394.5V411.2M84.6 394.5V411.2" stroke="#444" stroke-width="0.45" fill="none"/><rect x="18.8" y="394.5" width="7.399999999999999" height="16.7" fill="#1a1a1a"/><rect x="26.2" y="394.5" width="1.8000000000000007" height="16.7" fill="#555"/><rect x="28" y="394.5" width="1.5" height="16.7" fill="#888"/><rect x="29.5" y="394.5" width="1.5" height="16.7" fill="#aaa"/><rect x="31" y="394.5" width="1.2999999999999972" height="16.7" fill="#666"/><rect x="32.3" y="394.5" width="1.7000000000000028" height="16.7" fill="#999"/><rect x="34" y="394.5" width="1.5" height="16.7" fill="#bbb"/><rect x="35.5" y="394.5" width="1.5" height="16.7" fill="#777"/><rect x="37" y="394.5" width="0.7999999999999972" height="16.7" fill="#ccc"/><rect x="18.8" y="411.4" width="1.2" height="3.4" fill="#b02020"/><rect x="20" y="411.4" width="10.0" height="3.4" fill="#e04848"/><rect x="30" y="411.4" width="18.5" height="3.4" fill="#ea6a6a"/><rect x="48.5" y="411.4" width="13.0" height="3.4" fill="#f4b4dc"/><rect x="61.5" y="411.4" width="10.0" height="3.4" fill="#d4d4f8"/><rect x="71.5" y="411.4" width="10.8" height="3.4" fill="#bcbcf4"/><rect x="82.3" y="411.4" width="13.1" height="3.4" fill="#7c7cf0"/><rect x="95.4" y="411.4" width="18.4" height="3.4" fill="#5454e0"/><rect x="113.8" y="411.4" width="10.8" height="3.4" fill="#2020c0"/><polyline points="18.4,394.5 19.0,382 19.6,368 20.4,358 21.5,351.5 23.0,348.8 25,347.8 27.5,347.6 30,348.3 124.6,394.2" fill="none" stroke="#00e000" stroke-width="1.4" stroke-linejoin="round"/><text x="72.5" y="338" font-size="8.8" text-anchor="middle" fill="#000" color="#000" >FAP-high short list</text><text x="86.5" y="354.3" font-size="6.1" text-anchor="start" fill="#222" color="#222" >NES = 3.20</text><text x="86.5" y="360.7" font-size="6.1" text-anchor="start" fill="#222" color="#222" >FDR = 0.001</text><text x="14.899999999999999" y="424.2" font-size="8.8" text-anchor="start" fill="#000" color="#000" >Mesenchymal</text><text x="129.4" y="424.2" font-size="8.8" text-anchor="end" fill="#000" color="#000" >other</text><text x="14.899999999999999" y="434.5" font-size="8.8" text-anchor="start" fill="#000" color="#000" >TCGA rank list</text><text transform="translate(6.3,376.2) rotate(-90)" font-size="7.0" text-anchor="middle" fill="#222">Enrichment score (ES)</text><rect x="141.6" y="345.0" width="109.0" height="49.80000000000001" fill="none" stroke="#d9d9d9" stroke-width="0.7"/><path d="M163.4 345.0V394.8M185.2 345.0V394.8M207.0 345.0V394.8M228.8 345.0V394.8M141.6 350.3H250.6M141.6 360.3H250.6M141.6 380.3H250.6M141.6 390.3H250.6" stroke="#ececec" stroke-width="0.6" fill="none"/><path d="M141.6 370.3H250.6" stroke="#b0b0b0" stroke-width="0.6"/><path d="M141.6 394.8H250.6" stroke="#d9d9d9" stroke-width="0.7"/><text x="141.1" y="352.5" font-size="6.2" text-anchor="end" fill="#222" color="#222" >0.2</text><text x="141.1" y="362.5" font-size="6.2" text-anchor="end" fill="#222" color="#222" >0.1</text><text x="141.1" y="372.5" font-size="6.2" text-anchor="end" fill="#222" color="#222" >0.0</text><text x="141.1" y="382.5" font-size="6.2" text-anchor="end" fill="#222" color="#222" >-0.1</text><text x="141.1" y="392.5" font-size="6.2" text-anchor="end" fill="#222" color="#222" >-0.2</text><path d="M144.2 394.8V411.2M145.4 394.8V411.2M147.0 394.8V411.2M148.4 394.8V411.2M150.0 394.8V411.2M151.6 394.8V411.2M160.8 394.8V411.2M162.2 394.8V411.2M163.8 394.8V411.2M165.4 394.8V411.2M167.3 394.8V411.2M168.5 394.8V411.2M180.0 394.8V411.2M182.3 394.8V411.2M184.6 394.8V411.2M196.2 394.8V411.2M197.3 394.8V411.2M204.2 394.8V411.2M206.1 394.8V411.2M208.4 394.8V411.2M210.0 394.8V411.2M212.3 394.8V411.2M217.0 394.8V411.2M218.5 394.8V411.2M220.4 394.8V411.2M222.2 394.8V411.2M223.8 394.8V411.2M228.5 394.8V411.2M230.1 394.8V411.2M231.9 394.8V411.2M233.8 394.8V411.2M236.5 394.8V411.2M238.4 394.8V411.2M240.0 394.8V411.2M241.6 394.8V411.2M243.5 394.8V411.2" stroke="#444" stroke-width="0.45" fill="none"/><rect x="141.9" y="411.4" width="12.7" height="3.4" fill="#e04848"/><rect x="154.6" y="411.4" width="15.0" height="3.4" fill="#ea6a7a"/><rect x="169.6" y="411.4" width="13.9" height="3.4" fill="#f4b4dc"/><rect x="183.5" y="411.4" width="9.2" height="3.4" fill="#d4d4f8"/><rect x="192.7" y="411.4" width="11.5" height="3.4" fill="#bcbcf4"/><rect x="204.2" y="411.4" width="12.7" height="3.4" fill="#7c7cf0"/><rect x="216.9" y="411.4" width="17.3" height="3.4" fill="#5454e0"/><rect x="234.2" y="411.4" width="11.1" height="3.4" fill="#2020c0"/><polyline points="141.5,370 143,371.5 144.5,373.4 145.4,366 145.8,363 147,358.5 148.4,354 150,351 152.3,347.8 155,350 158,352.5 161.4,355.3 164,354 166.6,353.4 170.5,354 175,358 181,363.5 187.3,369.5 195,375.5 200,379.4 207,384 211.8,387.6 217,391.2 219.4,392.4 222.4,389.4 224.7,389.4 227,391.2 228.8,388.2 231.8,390.6 234.1,391.8 235.3,388.2 236.5,389.4 238.2,387.6 240,384.7 241.2,385.9 242.1,373.5 244.1,374.1 245.3,370.6" fill="none" stroke="#00e000" stroke-width="1.4" stroke-linejoin="round"/><text x="193.8" y="338" font-size="8.8" text-anchor="middle" fill="#000" color="#000" >FAP-low short list</text><text x="205.9" y="354.3" font-size="6.1" text-anchor="start" fill="#222" color="#222" >NES = 0.75</text><text x="205.9" y="360.7" font-size="6.1" text-anchor="start" fill="#222" color="#222" >FDR = 0.85</text><text x="138.1" y="424.2" font-size="8.8" text-anchor="start" fill="#000" color="#000" >Mesenchymal</text><text x="249.6" y="424.2" font-size="8.8" text-anchor="end" fill="#000" color="#000" >other</text><text x="138.1" y="434.5" font-size="8.8" text-anchor="start" fill="#000" color="#000" >TCGA rank list</text><rect x="280.1" y="332.5" width="105.79999999999995" height="95.39999999999998" fill="none" stroke="#333" stroke-width="0.8"/><text x="327.5" y="330.2" font-size="9.1" text-anchor="middle" fill="#000" color="#000" >ABSOLUTE</text><text transform="translate(276.1,334.5) rotate(-90)" font-size="4.2" text-anchor="middle" fill="#222">1.0</text><text transform="translate(276.1,348.9) rotate(-90)" font-size="4.2" text-anchor="middle" fill="#222">0.9</text><text transform="translate(276.1,363.4) rotate(-90)" font-size="4.2" text-anchor="middle" fill="#222">0.8</text><text transform="translate(276.1,377.9) rotate(-90)" font-size="4.2" text-anchor="middle" fill="#222">0.7</text><text transform="translate(276.1,392.3) rotate(-90)" font-size="4.2" text-anchor="middle" fill="#222">0.6</text><text transform="translate(276.1,406.8) rotate(-90)" font-size="4.2" text-anchor="middle" fill="#222">0.5</text><text transform="translate(276.1,421.2) rotate(-90)" font-size="4.2" text-anchor="middle" fill="#222">0.4</text><path d="M277.90000000000003 334.5H280.1M277.90000000000003 348.9H280.1M277.90000000000003 363.4H280.1M277.90000000000003 377.9H280.1M277.90000000000003 392.3H280.1M277.90000000000003 406.8H280.1M277.90000000000003 421.2H280.1" stroke="#333" stroke-width="0.6"/><text transform="translate(268.3,380.5) rotate(-90)" font-size="8.7" text-anchor="middle">Absolute tumor purity</text><path d="M300.3 353.7V368.0 M300.3 389.5V413.1" stroke="#777" stroke-width="0.6" stroke-dasharray="1.2,0.8" fill="none"/><path d="M293.7 353.7H306.8 M293.7 413.1H306.8" stroke="#555" stroke-width="0.8" fill="none"/><rect x="287.2" y="368.0" width="26.2" height="21.5" fill="#000" stroke="#222" stroke-width="0.7"/><path d="M287.2 376.4H313.4" stroke="#777" stroke-width="1.1"/><path d="M333.3 346.2V357.3 M333.3 384.6V407.2" stroke="#777" stroke-width="0.6" stroke-dasharray="1.2,0.8" fill="none"/><path d="M326.6 346.2H340.0 M326.6 407.2H340.0" stroke="#555" stroke-width="0.8" fill="none"/><rect x="320.0" y="357.3" width="26.6" height="27.3" fill="#ff0000" stroke="#222" stroke-width="0.7"/><path d="M320.0 366.3H346.6" stroke="#111" stroke-width="1.1"/><path d="M366.2 335.8V347.5 M366.2 369.5V398.0" stroke="#777" stroke-width="0.6" stroke-dasharray="1.2,0.8" fill="none"/><path d="M359.6 335.8H372.8 M359.6 398.0H372.8" stroke="#555" stroke-width="0.8" fill="none"/><rect x="353.0" y="347.5" width="26.4" height="22.0" fill="#add8e6" stroke="#222" stroke-width="0.7"/><path d="M353.0 357.3H379.4" stroke="#222" stroke-width="1.1"/><rect x="299.4" y="424.3" width="1" height="1" fill="#888"/><rect x="365.7" y="403.0" width="1" height="1" fill="#888"/><rect x="365.7" y="406.0" width="1" height="1" fill="#888"/><rect x="365.7" y="409.0" width="1" height="1" fill="#888"/><rect x="365.7" y="411.0" width="1" height="1" fill="#888"/><rect x="365.7" y="419.5" width="1" height="1" fill="#888"/><path d="M300.3 427.9V430.09999999999997M333.3 427.9V430.09999999999997M366.2 427.9V430.09999999999997" stroke="#333" stroke-width="0.6"/><text x="300.3" y="439.1" font-size="9.4" text-anchor="middle" fill="#000" color="#000" >FAP-</text><text x="300.3" y="449.6" font-size="9.4" text-anchor="middle" fill="#000" color="#000" >HIGH</text><text x="333.3" y="439.1" font-size="9.4" text-anchor="middle" fill="#000" color="#000" >FAP-</text><text x="333.3" y="449.6" font-size="9.4" text-anchor="middle" fill="#000" color="#000" >LOW</text><text x="366.2" y="439.1" font-size="9.4" text-anchor="middle" fill="#000" color="#000" >OTHER</text><rect x="411.5" y="332.5" width="107.89999999999998" height="96.39999999999998" fill="none" stroke="#333" stroke-width="0.8"/><text x="465.2" y="330.2" font-size="9.1" text-anchor="middle" fill="#000" color="#000" >ESTIMATE</text><text transform="translate(407.5,337.9) rotate(-90)" font-size="4.2" text-anchor="middle" fill="#222">3000</text><text transform="translate(407.5,351.2) rotate(-90)" font-size="4.2" text-anchor="middle" fill="#222">2000</text><text transform="translate(407.5,364.4) rotate(-90)" font-size="4.2" text-anchor="middle" fill="#222">1000</text><text transform="translate(407.5,377.7) rotate(-90)" font-size="4.2" text-anchor="middle" fill="#222">0</text><text transform="translate(407.5,391.0) rotate(-90)" font-size="4.2" text-anchor="middle" fill="#222">-1000</text><text transform="translate(407.5,404.2) rotate(-90)" font-size="4.2" text-anchor="middle" fill="#222">-2000</text><text transform="translate(407.5,417.5) rotate(-90)" font-size="4.2" text-anchor="middle" fill="#222">-3000</text><path d="M409.3 337.9H411.5M409.3 351.2H411.5M409.3 364.4H411.5M409.3 377.7H411.5M409.3 391.0H411.5M409.3 404.2H411.5M409.3 417.5H411.5" stroke="#333" stroke-width="0.6"/><text transform="translate(399.2,380.5) rotate(-90)" font-size="8.7" text-anchor="middle">Absolute tumor purity</text><path d="M432.5 347.8V362.0 M432.5 378.8V387.2" stroke="#777" stroke-width="0.6" stroke-dasharray="1.2,0.8" fill="none"/><path d="M425.8 347.8H439.2 M425.8 387.2H439.2" stroke="#555" stroke-width="0.8" fill="none"/><rect x="419.0" y="362.0" width="27.0" height="16.8" fill="#000" stroke="#222" stroke-width="0.7"/><path d="M419.0 368.3H446.0" stroke="#777" stroke-width="1.1"/><path d="M466.1 368.8V378.3 M466.1 406.0V420.5" stroke="#777" stroke-width="0.6" stroke-dasharray="1.2,0.8" fill="none"/><path d="M459.4 368.8H472.9 M459.4 420.5H472.9" stroke="#555" stroke-width="0.8" fill="none"/><rect x="452.7" y="378.3" width="26.9" height="27.7" fill="#ff0000" stroke="#222" stroke-width="0.7"/><path d="M452.7 387.2H479.6" stroke="#111" stroke-width="1.1"/><path d="M499.1 348.8V378.5 M499.1 400.6V425.2" stroke="#777" stroke-width="0.6" stroke-dasharray="1.2,0.8" fill="none"/><path d="M492.3 348.8H505.9 M492.3 425.2H505.9" stroke="#555" stroke-width="0.8" fill="none"/><rect x="485.5" y="378.5" width="27.2" height="22.1" fill="#add8e6" stroke="#222" stroke-width="0.7"/><path d="M485.5 389.6H512.7" stroke="#222" stroke-width="1.1"/><rect x="432.0" y="334.7" width="1" height="1" fill="#888"/><path d="M432.5 428.9V431.09999999999997M466.1 428.9V431.09999999999997M499.1 428.9V431.09999999999997" stroke="#333" stroke-width="0.6"/><text x="432.5" y="439.1" font-size="9.4" text-anchor="middle" fill="#000" color="#000" >FAP-</text><text x="432.5" y="449.6" font-size="9.4" text-anchor="middle" fill="#000" color="#000" >HIGH</text><text x="466.1" y="439.1" font-size="9.4" text-anchor="middle" fill="#000" color="#000" >FAP-</text><text x="466.1" y="449.6" font-size="9.4" text-anchor="middle" fill="#000" color="#000" >LOW</text><text x="499.1" y="439.1" font-size="9.4" text-anchor="middle" fill="#000" color="#000" >OTHER</text><path d="M28.3 479.5V571.3H165.1M24.3 571.3H28.3M24.3 553.0H28.3M24.3 534.7H28.3M24.3 516.4H28.3M24.3 498.1H28.3M24.3 479.8H28.3M28.3 571.3V575.8M45.4 571.3V575.8M62.5 571.3V575.8M79.6 571.3V575.8M96.7 571.3V575.8M113.8 571.3V575.8M130.9 571.3V575.8M148.0 571.3V575.8M165.1 571.3V575.8" stroke="#000" stroke-width="1.0" fill="none"/><text x="22.9" y="574.3" font-size="8.6" text-anchor="end" fill="#111" color="#111" >0</text><text x="22.9" y="556.0" font-size="8.6" text-anchor="end" fill="#111" color="#111" >20</text><text x="22.9" y="537.7" font-size="8.6" text-anchor="end" fill="#111" color="#111" >40</text><text x="22.9" y="519.4" font-size="8.6" text-anchor="end" fill="#111" color="#111" >60</text><text x="22.9" y="501.1" font-size="8.6" text-anchor="end" fill="#111" color="#111" >80</text><text x="22.9" y="482.8" font-size="8.6" text-anchor="end" fill="#111" color="#111" >100</text><text x="28.3" y="585.9" font-size="8.9" text-anchor="middle" fill="#111" color="#111" >0</text><text x="45.4" y="585.9" font-size="8.9" text-anchor="middle" fill="#111" color="#111" >1</text><text x="62.5" y="585.9" font-size="8.9" text-anchor="middle" fill="#111" color="#111" >2</text><text x="79.6" y="585.9" font-size="8.9" text-anchor="middle" fill="#111" color="#111" >3</text><text x="96.7" y="585.9" font-size="8.9" text-anchor="middle" fill="#111" color="#111" >4</text><text x="113.8" y="585.9" font-size="8.9" text-anchor="middle" fill="#111" color="#111" >5</text><text x="130.9" y="585.9" font-size="8.9" text-anchor="middle" fill="#111" color="#111" >6</text><text x="148.0" y="585.9" font-size="8.9" text-anchor="middle" fill="#111" color="#111" >7</text><text x="165.1" y="585.9" font-size="8.9" text-anchor="middle" fill="#111" color="#111" >8</text><text x="96.5" y="594.6" font-size="9.2" text-anchor="middle" fill="#111" color="#111" >Year</text><text transform="translate(8.8,522.8) rotate(-90)" font-size="8.8" text-anchor="middle" fill="#111">Percent survival</text><text x="93.3" y="476.9" font-size="8.7" text-anchor="middle" fill="#111" color="#111" >Progression Free</text><text x="93.3" y="487.0" font-size="8.7" text-anchor="middle" fill="#111" color="#111" >Survival</text><polyline points="28.3,479.8 39.3,479.8 39.3,483.4 44.3,483.4 44.3,487.6 45.5,487.6 45.5,492.6 47.0,492.6 47.0,497.0 47.7,497.0 47.7,502.0 48.5,502.0 48.5,506.5 51.0,506.5 51.0,511.1 56.9,511.1 56.9,518.0 57.8,518.0 57.8,524.6 64.0,524.6 64.0,529.6 67.0,529.6 67.0,534.7 71.2,534.7 71.2,538.9 74.6,538.9 74.6,543.6 85.8,543.6 85.8,549.0 93.1,549.0 93.1,554.8 129.2,554.8 129.2,571.0" fill="none" stroke="#ff0000" stroke-width="1.9" stroke-linejoin="miter"/><polyline points="28.3,479.8 30.9,479.8 30.9,481.5 32.6,481.5 32.6,483.4 34.2,483.4 34.2,486.8 37.6,486.8 37.6,490.1 39.3,490.1 39.3,491.8 40.4,491.8 40.4,494.0 41.0,494.0 41.0,496.0 41.4,496.0 41.4,499.0 41.8,499.0 41.8,501.9 42.2,501.9 42.2,505.0 42.6,505.0 42.6,507.8 43.5,507.8 43.5,511.0 44.3,511.0 44.3,513.7 46.0,513.7 46.0,517.0 47.0,517.0 47.0,519.0 47.7,519.0 47.7,521.2 48.1,521.2 48.1,523.3 48.5,523.3 48.5,525.4 49.2,525.4 49.2,528.0 49.9,528.0 49.9,530.5 51.9,530.5 51.9,533.0 53.6,533.0 53.6,534.7 54.0,534.7 54.0,537.0 54.4,537.0 54.4,538.9 55.3,538.9 55.3,542.2 56.1,542.2 56.1,545.6 57.8,545.6 57.8,548.9 58.6,548.9 58.6,551.0 59.5,551.0 59.5,553.2 61.1,553.2 61.1,555.7 65.3,555.7 65.3,556.5 66.0,556.5 66.0,558.0 67.0,558.0 67.0,559.9 70.4,559.9 70.4,563.1 153.2,563.1 153.2,563.1" fill="none" stroke="#000" stroke-width="1.9" stroke-linejoin="miter"/><polygon points="159.40,562.10 160.02,563.75 161.78,563.83 160.40,564.92 160.87,566.62 159.40,565.65 157.93,566.62 158.40,564.92 157.02,563.83 158.78,563.75" fill="#000"/><path d="M196.7 479.5V571.1H333.7M192.7 571.1H196.7M192.7 552.8H196.7M192.7 534.6H196.7M192.7 516.3H196.7M192.7 498.1H196.7M192.7 479.8H196.7M196.7 571.1V575.6M210.4 571.1V575.6M224.1 571.1V575.6M237.8 571.1V575.6M251.5 571.1V575.6M265.2 571.1V575.6M278.9 571.1V575.6M292.6 571.1V575.6M306.3 571.1V575.6M320.0 571.1V575.6M333.7 571.1V575.6" stroke="#000" stroke-width="1.0" fill="none"/><text x="191.3" y="574.1" font-size="8.6" text-anchor="end" fill="#111" color="#111" >0</text><text x="191.3" y="555.8" font-size="8.6" text-anchor="end" fill="#111" color="#111" >20</text><text x="191.3" y="537.6" font-size="8.6" text-anchor="end" fill="#111" color="#111" >40</text><text x="191.3" y="519.3" font-size="8.6" text-anchor="end" fill="#111" color="#111" >60</text><text x="191.3" y="501.1" font-size="8.6" text-anchor="end" fill="#111" color="#111" >80</text><text x="191.3" y="482.8" font-size="8.6" text-anchor="end" fill="#111" color="#111" >100</text><text x="196.7" y="585.7" font-size="8.9" text-anchor="middle" fill="#111" color="#111" >0</text><text x="210.4" y="585.7" font-size="8.9" text-anchor="middle" fill="#111" color="#111" >1</text><text x="224.1" y="585.7" font-size="8.9" text-anchor="middle" fill="#111" color="#111" >2</text><text x="237.8" y="585.7" font-size="8.9" text-anchor="middle" fill="#111" color="#111" >3</text><text x="251.5" y="585.7" font-size="8.9" text-anchor="middle" fill="#111" color="#111" >4</text><text x="265.2" y="585.7" font-size="8.9" text-anchor="middle" fill="#111" color="#111" >5</text><text x="278.9" y="585.7" font-size="8.9" text-anchor="middle" fill="#111" color="#111" >6</text><text x="292.6" y="585.7" font-size="8.9" text-anchor="middle" fill="#111" color="#111" >7</text><text x="306.3" y="585.7" font-size="8.9" text-anchor="middle" fill="#111" color="#111" >8</text><text x="320.0" y="585.7" font-size="8.9" text-anchor="middle" fill="#111" color="#111" >9</text><text x="333.7" y="585.7" font-size="8.9" text-anchor="middle" fill="#111" color="#111" >10</text><text x="272.5" y="594.6" font-size="9.2" text-anchor="middle" fill="#111" color="#111" >Year</text><text transform="translate(176.3,522.7) rotate(-90)" font-size="8.8" text-anchor="middle" fill="#111">Percent survival</text><text x="267" y="476.9" font-size="8.7" text-anchor="middle" fill="#111" color="#111" >Overall Survival</text><polyline points="196.7,479.8 198.5,479.8 198.5,484.0 200.0,484.0 200.0,488.0 210.0,488.0 210.0,492.7 223.7,492.7 223.7,497.0 228.0,497.0 228.0,501.0 244.6,501.0 244.6,506.8 252.4,506.8 252.4,512.7 262.3,512.7 262.3,518.6 275.4,518.6 275.4,527.6 291.2,527.6 291.2,536.3 296.0,536.3 296.0,545.0 321.9,545.0 321.9,553.5 329.5,553.5 329.5,553.5" fill="none" stroke="#ff0000" stroke-width="1.9" stroke-linejoin="miter"/><polyline points="196.7,479.8 199.5,479.8 199.5,482.1 201.8,482.1 201.8,484.5 205.3,484.5 205.3,485.6 208.9,485.6 208.9,486.8 212.4,486.8 212.4,489.2 214.8,489.2 214.8,490.8 217.1,490.8 217.1,493.9 218.3,493.9 218.3,497.0 219.5,497.0 219.5,499.8 220.6,499.8 220.6,503.0 221.8,503.0 221.8,505.7 223.2,505.7 223.2,508.0 224.7,508.0 224.7,509.7 228.9,509.7 228.9,511.6 230.6,511.6 230.6,514.0 232.4,514.0 232.4,516.3 234.8,516.3 234.8,519.8 238.3,519.8 238.3,521.0 240.7,521.0 240.7,523.3 242.0,523.3 242.0,526.0 243.0,526.0 243.0,528.0 245.4,528.0 245.4,530.4 247.2,530.4 247.2,533.0 248.9,533.0 248.9,535.1 252.5,535.1 252.5,536.3 254.7,536.3 254.7,537.0 256.0,537.0 256.0,539.8 257.0,539.8 257.0,544.0 267.7,544.0 267.7,544.0 270.0,544.0 270.0,548.0 272.4,548.0 272.4,551.6 274.7,551.6 274.7,557.5 288.9,557.5 288.9,557.5 290.0,557.5 290.0,562.2 313.2,562.2 313.2,562.2" fill="none" stroke="#000" stroke-width="1.9" stroke-linejoin="miter"/><polygon points="321.90,560.80 322.52,562.45 324.28,562.53 322.90,563.62 323.37,565.32 321.90,564.35 320.43,565.32 320.90,563.62 319.52,562.53 321.28,562.45" fill="#000"/><text x="201.3" y="557.2" font-size="8.9" text-anchor="start" fill="#000" color="#000" >FAP-high</text><text x="201.3" y="567.2" font-size="8.9" text-anchor="start" fill="#ff0000" color="#ff0000" >FAP-low</text><path d="M378.2 479.09999999999997V571.2H515.8M374.2 571.2H378.2M374.2 552.8H378.2M374.2 534.5H378.2M374.2 516.1H378.2M374.2 497.8H378.2M374.2 479.4H378.2M378.2 571.2V575.7M395.4 571.2V575.7M412.6 571.2V575.7M429.8 571.2V575.7M447.0 571.2V575.7M464.2 571.2V575.7M481.4 571.2V575.7M498.6 571.2V575.7M515.8 571.2V575.7" stroke="#555" stroke-width="1.0" fill="none"/><text x="371.2" y="574.2" font-size="8.6" text-anchor="end" fill="#111" color="#111" >0</text><text x="371.2" y="555.8" font-size="8.6" text-anchor="end" fill="#111" color="#111" >20</text><text x="371.2" y="537.5" font-size="8.6" text-anchor="end" fill="#111" color="#111" >40</text><text x="371.2" y="519.1" font-size="8.6" text-anchor="end" fill="#111" color="#111" >60</text><text x="371.2" y="500.8" font-size="8.6" text-anchor="end" fill="#111" color="#111" >80</text><text x="371.2" y="482.4" font-size="8.6" text-anchor="end" fill="#111" color="#111" >100</text><text x="378.2" y="585.8" font-size="8.9" text-anchor="middle" fill="#111" color="#111" >0</text><text x="395.4" y="585.8" font-size="8.9" text-anchor="middle" fill="#111" color="#111" >1</text><text x="412.6" y="585.8" font-size="8.9" text-anchor="middle" fill="#111" color="#111" >2</text><text x="429.8" y="585.8" font-size="8.9" text-anchor="middle" fill="#111" color="#111" >3</text><text x="447.0" y="585.8" font-size="8.9" text-anchor="middle" fill="#111" color="#111" >4</text><text x="464.2" y="585.8" font-size="8.9" text-anchor="middle" fill="#111" color="#111" >5</text><text x="481.4" y="585.8" font-size="8.9" text-anchor="middle" fill="#111" color="#111" >6</text><text x="498.6" y="585.8" font-size="8.9" text-anchor="middle" fill="#111" color="#111" >7</text><text x="515.8" y="585.8" font-size="8.9" text-anchor="middle" fill="#111" color="#111" >8</text><text x="446.2" y="594.6" font-size="9.2" text-anchor="middle" fill="#111" color="#111" >Year</text><text transform="translate(359.3,522.5) rotate(-90)" font-size="8.8" text-anchor="middle" fill="#111">Percent survival</text><text x="445.6" y="476.9" font-size="8.7" text-anchor="middle" fill="#111" color="#111" >Progression Free</text><text x="445.6" y="487.0" font-size="8.7" text-anchor="middle" fill="#111" color="#111" >Survival</text><polyline points="380.5,479.4 380.5,484.6 396.0,484.6 396.0,489.0 396.6,494.0 397.3,502.3 404.8,502.3 404.8,506.8 410.7,506.8 410.7,511.6 425.2,511.6 425.2,520.9 505.9,520.9" fill="none" stroke="#ff0000" stroke-width="1.9" stroke-linejoin="miter"/><polyline points="378.2,479.4 382.7,479.4 382.7,483.5 386.0,483.5 386.0,488.0 395.6,488.0 396.2,494.0 396.8,500.0 397.7,502.1 400.1,502.1 400.1,505.7 402.4,505.7 402.4,511.6 404.8,511.6 404.8,515.1 407.2,515.1 407.2,518.6 409.5,518.6 409.5,522.2 411.9,522.2 411.9,526.9 413.5,526.9 413.5,530.4 415.0,530.4 415.0,535.1 417.3,535.1 417.3,539.8 418.9,539.8 418.9,544.1 426.0,544.1 426.0,548.0 464.7,548.0 464.7,553.8 500.0,553.8 500.0,553.8" fill="none" stroke="#000" stroke-width="1.9" stroke-linejoin="miter"/><polygon points="508.80,552.90 509.42,554.55 511.18,554.63 509.80,555.72 510.27,557.42 508.80,556.45 507.33,557.42 507.80,555.72 506.42,554.63 508.18,554.55" fill="#000"/><text x="382.4" y="557.2" font-size="8.9" text-anchor="start" fill="#000" color="#000" >FAP-high</text><text x="382.4" y="567.2" font-size="8.9" text-anchor="start" fill="#ff0000" color="#ff0000" >FAP-low</text></svg></body></html>
